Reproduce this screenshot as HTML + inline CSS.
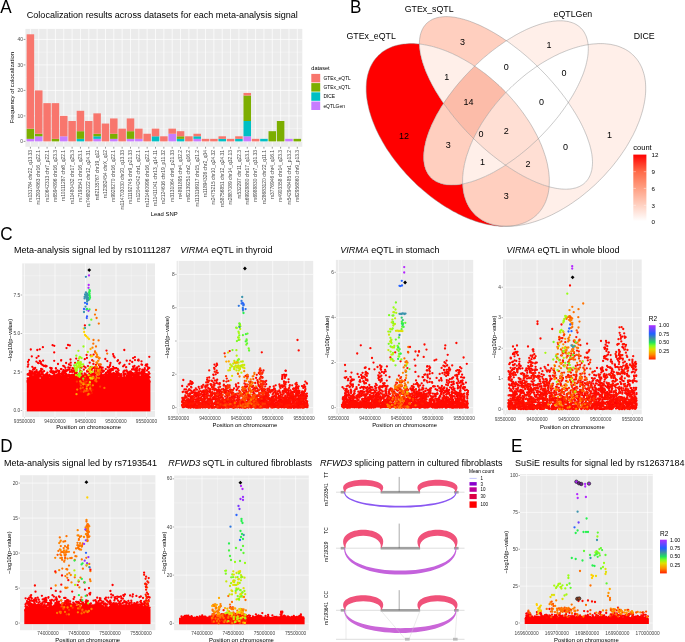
<!DOCTYPE html><html><head><meta charset="utf-8"><style>html,body{margin:0;padding:0;background:#fff;overflow:hidden}svg{display:block;will-change:transform}</style></head><body><svg width="685" height="642" viewBox="0 0 685 642" font-family='"Liberation Sans", sans-serif'>
<rect width="685" height="642" fill="#fff"/>
<rect x="25.4" y="28.9" width="276.9" height="117.9" fill="#EBEBEB"/>
<line x1="25.4" x2="302.3" y1="128.65" y2="128.65" stroke="#fff" stroke-width="0.35"/>
<line x1="25.4" x2="302.3" y1="103.15" y2="103.15" stroke="#fff" stroke-width="0.35"/>
<line x1="25.4" x2="302.3" y1="77.65" y2="77.65" stroke="#fff" stroke-width="0.35"/>
<line x1="25.4" x2="302.3" y1="52.15" y2="52.15" stroke="#fff" stroke-width="0.35"/>
<line x1="25.4" x2="302.3" y1="141.40" y2="141.40" stroke="#fff" stroke-width="0.7"/>
<line x1="25.4" x2="302.3" y1="115.90" y2="115.90" stroke="#fff" stroke-width="0.7"/>
<line x1="25.4" x2="302.3" y1="90.40" y2="90.40" stroke="#fff" stroke-width="0.7"/>
<line x1="25.4" x2="302.3" y1="64.90" y2="64.90" stroke="#fff" stroke-width="0.7"/>
<line x1="25.4" x2="302.3" y1="39.40" y2="39.40" stroke="#fff" stroke-width="0.7"/>
<line x1="30.40" x2="30.40" y1="28.9" y2="146.8" stroke="#fff" stroke-width="0.7"/>
<line x1="38.74" x2="38.74" y1="28.9" y2="146.8" stroke="#fff" stroke-width="0.7"/>
<line x1="47.08" x2="47.08" y1="28.9" y2="146.8" stroke="#fff" stroke-width="0.7"/>
<line x1="55.43" x2="55.43" y1="28.9" y2="146.8" stroke="#fff" stroke-width="0.7"/>
<line x1="63.77" x2="63.77" y1="28.9" y2="146.8" stroke="#fff" stroke-width="0.7"/>
<line x1="72.11" x2="72.11" y1="28.9" y2="146.8" stroke="#fff" stroke-width="0.7"/>
<line x1="80.45" x2="80.45" y1="28.9" y2="146.8" stroke="#fff" stroke-width="0.7"/>
<line x1="88.79" x2="88.79" y1="28.9" y2="146.8" stroke="#fff" stroke-width="0.7"/>
<line x1="97.13" x2="97.13" y1="28.9" y2="146.8" stroke="#fff" stroke-width="0.7"/>
<line x1="105.47" x2="105.47" y1="28.9" y2="146.8" stroke="#fff" stroke-width="0.7"/>
<line x1="113.81" x2="113.81" y1="28.9" y2="146.8" stroke="#fff" stroke-width="0.7"/>
<line x1="122.15" x2="122.15" y1="28.9" y2="146.8" stroke="#fff" stroke-width="0.7"/>
<line x1="130.49" x2="130.49" y1="28.9" y2="146.8" stroke="#fff" stroke-width="0.7"/>
<line x1="138.83" x2="138.83" y1="28.9" y2="146.8" stroke="#fff" stroke-width="0.7"/>
<line x1="147.17" x2="147.17" y1="28.9" y2="146.8" stroke="#fff" stroke-width="0.7"/>
<line x1="155.51" x2="155.51" y1="28.9" y2="146.8" stroke="#fff" stroke-width="0.7"/>
<line x1="163.85" x2="163.85" y1="28.9" y2="146.8" stroke="#fff" stroke-width="0.7"/>
<line x1="172.19" x2="172.19" y1="28.9" y2="146.8" stroke="#fff" stroke-width="0.7"/>
<line x1="180.53" x2="180.53" y1="28.9" y2="146.8" stroke="#fff" stroke-width="0.7"/>
<line x1="188.87" x2="188.87" y1="28.9" y2="146.8" stroke="#fff" stroke-width="0.7"/>
<line x1="197.21" x2="197.21" y1="28.9" y2="146.8" stroke="#fff" stroke-width="0.7"/>
<line x1="205.55" x2="205.55" y1="28.9" y2="146.8" stroke="#fff" stroke-width="0.7"/>
<line x1="213.89" x2="213.89" y1="28.9" y2="146.8" stroke="#fff" stroke-width="0.7"/>
<line x1="222.23" x2="222.23" y1="28.9" y2="146.8" stroke="#fff" stroke-width="0.7"/>
<line x1="230.57" x2="230.57" y1="28.9" y2="146.8" stroke="#fff" stroke-width="0.7"/>
<line x1="238.91" x2="238.91" y1="28.9" y2="146.8" stroke="#fff" stroke-width="0.7"/>
<line x1="247.25" x2="247.25" y1="28.9" y2="146.8" stroke="#fff" stroke-width="0.7"/>
<line x1="255.59" x2="255.59" y1="28.9" y2="146.8" stroke="#fff" stroke-width="0.7"/>
<line x1="263.93" x2="263.93" y1="28.9" y2="146.8" stroke="#fff" stroke-width="0.7"/>
<line x1="272.27" x2="272.27" y1="28.9" y2="146.8" stroke="#fff" stroke-width="0.7"/>
<line x1="280.62" x2="280.62" y1="28.9" y2="146.8" stroke="#fff" stroke-width="0.7"/>
<line x1="288.96" x2="288.96" y1="28.9" y2="146.8" stroke="#fff" stroke-width="0.7"/>
<line x1="297.30" x2="297.30" y1="28.9" y2="146.8" stroke="#fff" stroke-width="0.7"/>
<rect x="26.65" y="138.85" width="7.51" height="2.55" fill="#C77CFF"/>
<rect x="26.65" y="128.65" width="7.51" height="10.20" fill="#7CAE00"/>
<rect x="26.65" y="34.30" width="7.51" height="94.35" fill="#F8766D"/>
<rect x="34.99" y="136.30" width="7.51" height="5.10" fill="#C77CFF"/>
<rect x="34.99" y="133.75" width="7.51" height="2.55" fill="#7CAE00"/>
<rect x="34.99" y="90.40" width="7.51" height="43.35" fill="#F8766D"/>
<rect x="43.33" y="103.15" width="7.51" height="38.25" fill="#F8766D"/>
<rect x="51.67" y="138.85" width="7.51" height="2.55" fill="#7CAE00"/>
<rect x="51.67" y="103.15" width="7.51" height="35.70" fill="#F8766D"/>
<rect x="60.01" y="136.30" width="7.51" height="5.10" fill="#C77CFF"/>
<rect x="60.01" y="115.90" width="7.51" height="20.40" fill="#F8766D"/>
<rect x="68.35" y="121.00" width="7.51" height="20.40" fill="#F8766D"/>
<rect x="76.69" y="138.85" width="7.51" height="2.55" fill="#00BFC4"/>
<rect x="76.69" y="131.20" width="7.51" height="7.65" fill="#7CAE00"/>
<rect x="76.69" y="110.80" width="7.51" height="20.40" fill="#F8766D"/>
<rect x="85.03" y="121.00" width="7.51" height="20.40" fill="#F8766D"/>
<rect x="93.37" y="138.85" width="7.51" height="2.55" fill="#C77CFF"/>
<rect x="93.37" y="136.30" width="7.51" height="2.55" fill="#00BFC4"/>
<rect x="93.37" y="133.75" width="7.51" height="2.55" fill="#7CAE00"/>
<rect x="93.37" y="113.35" width="7.51" height="20.40" fill="#F8766D"/>
<rect x="101.71" y="123.55" width="7.51" height="17.85" fill="#F8766D"/>
<rect x="110.05" y="138.85" width="7.51" height="2.55" fill="#C77CFF"/>
<rect x="110.05" y="133.75" width="7.51" height="5.10" fill="#7CAE00"/>
<rect x="110.05" y="118.45" width="7.51" height="15.30" fill="#F8766D"/>
<rect x="118.40" y="128.65" width="7.51" height="12.75" fill="#F8766D"/>
<rect x="126.74" y="138.85" width="7.51" height="2.55" fill="#C77CFF"/>
<rect x="126.74" y="131.20" width="7.51" height="7.65" fill="#7CAE00"/>
<rect x="126.74" y="118.45" width="7.51" height="12.75" fill="#F8766D"/>
<rect x="135.08" y="138.85" width="7.51" height="2.55" fill="#C77CFF"/>
<rect x="135.08" y="128.65" width="7.51" height="10.20" fill="#F8766D"/>
<rect x="143.42" y="133.75" width="7.51" height="7.65" fill="#F8766D"/>
<rect x="151.76" y="136.30" width="7.51" height="5.10" fill="#00BFC4"/>
<rect x="151.76" y="128.65" width="7.51" height="7.65" fill="#F8766D"/>
<rect x="160.10" y="136.30" width="7.51" height="5.10" fill="#F8766D"/>
<rect x="168.44" y="133.75" width="7.51" height="7.65" fill="#C77CFF"/>
<rect x="168.44" y="128.65" width="7.51" height="5.10" fill="#F8766D"/>
<rect x="176.78" y="138.85" width="7.51" height="2.55" fill="#00BFC4"/>
<rect x="176.78" y="136.30" width="7.51" height="2.55" fill="#7CAE00"/>
<rect x="176.78" y="131.20" width="7.51" height="5.10" fill="#F8766D"/>
<rect x="185.12" y="136.30" width="7.51" height="5.10" fill="#F8766D"/>
<rect x="193.46" y="138.85" width="7.51" height="2.55" fill="#C77CFF"/>
<rect x="193.46" y="136.30" width="7.51" height="2.55" fill="#00BFC4"/>
<rect x="193.46" y="133.75" width="7.51" height="2.55" fill="#F8766D"/>
<rect x="201.80" y="138.85" width="7.51" height="2.55" fill="#F8766D"/>
<rect x="210.14" y="138.85" width="7.51" height="2.55" fill="#F8766D"/>
<rect x="218.48" y="138.85" width="7.51" height="2.55" fill="#00BFC4"/>
<rect x="218.48" y="136.30" width="7.51" height="2.55" fill="#F8766D"/>
<rect x="226.82" y="138.85" width="7.51" height="2.55" fill="#F8766D"/>
<rect x="235.16" y="138.85" width="7.51" height="2.55" fill="#00BFC4"/>
<rect x="235.16" y="136.30" width="7.51" height="2.55" fill="#F8766D"/>
<rect x="243.50" y="136.30" width="7.51" height="5.10" fill="#C77CFF"/>
<rect x="243.50" y="121.00" width="7.51" height="15.30" fill="#00BFC4"/>
<rect x="243.50" y="95.50" width="7.51" height="25.50" fill="#7CAE00"/>
<rect x="243.50" y="92.95" width="7.51" height="2.55" fill="#F8766D"/>
<rect x="251.84" y="138.85" width="7.51" height="2.55" fill="#F8766D"/>
<rect x="260.18" y="138.85" width="7.51" height="2.55" fill="#00BFC4"/>
<rect x="268.52" y="131.20" width="7.51" height="10.20" fill="#7CAE00"/>
<rect x="276.86" y="121.00" width="7.51" height="20.40" fill="#7CAE00"/>
<rect x="285.20" y="138.85" width="7.51" height="2.55" fill="#C77CFF"/>
<rect x="293.54" y="138.85" width="7.51" height="2.55" fill="#7CAE00"/>
<line x1="23.6" x2="25.4" y1="141.40" y2="141.40" stroke="#333" stroke-width="0.5"/>
<text x="23.00" y="143.20" font-size="5.00" text-anchor="end" fill="#4D4D4D">0</text>
<line x1="23.6" x2="25.4" y1="115.90" y2="115.90" stroke="#333" stroke-width="0.5"/>
<text x="23.00" y="117.70" font-size="5.00" text-anchor="end" fill="#4D4D4D">10</text>
<line x1="23.6" x2="25.4" y1="90.40" y2="90.40" stroke="#333" stroke-width="0.5"/>
<text x="23.00" y="92.20" font-size="5.00" text-anchor="end" fill="#4D4D4D">20</text>
<line x1="23.6" x2="25.4" y1="64.90" y2="64.90" stroke="#333" stroke-width="0.5"/>
<text x="23.00" y="66.70" font-size="5.00" text-anchor="end" fill="#4D4D4D">30</text>
<line x1="23.6" x2="25.4" y1="39.40" y2="39.40" stroke="#333" stroke-width="0.5"/>
<text x="23.00" y="41.20" font-size="5.00" text-anchor="end" fill="#4D4D4D">40</text>
<line x1="30.40" x2="30.40" y1="146.8" y2="148.6" stroke="#333" stroke-width="0.5"/>
<text x="32.00" y="150.00" font-size="4.90" text-anchor="end" fill="#4D4D4D" transform="rotate(-90 32.0042 150)">rs131784 chr22_q13.33</text>
<line x1="38.74" x2="38.74" y1="146.8" y2="148.6" stroke="#333" stroke-width="0.5"/>
<text x="40.34" y="150.00" font-size="4.90" text-anchor="end" fill="#4D4D4D" transform="rotate(-90 40.3446 150)">rs12934863 chr16_q22.1</text>
<line x1="47.08" x2="47.08" y1="146.8" y2="148.6" stroke="#333" stroke-width="0.5"/>
<text x="48.68" y="150.00" font-size="4.90" text-anchor="end" fill="#4D4D4D" transform="rotate(-90 48.6849 150)">rs10642313 chr7_p22.1</text>
<line x1="55.43" x2="55.43" y1="146.8" y2="148.6" stroke="#333" stroke-width="0.5"/>
<text x="57.03" y="150.00" font-size="4.90" text-anchor="end" fill="#4D4D4D" transform="rotate(-90 57.0253 150)">rs6594896 chr16_q23.3</text>
<line x1="63.77" x2="63.77" y1="146.8" y2="148.6" stroke="#333" stroke-width="0.5"/>
<text x="65.37" y="150.00" font-size="4.90" text-anchor="end" fill="#4D4D4D" transform="rotate(-90 65.3657 150)">rs10111287 chr8_q22.1</text>
<line x1="72.11" x2="72.11" y1="146.8" y2="148.6" stroke="#333" stroke-width="0.5"/>
<text x="73.71" y="150.00" font-size="4.90" text-anchor="end" fill="#4D4D4D" transform="rotate(-90 73.706 150)">rs11480432 chr17_q25.3</text>
<line x1="80.45" x2="80.45" y1="146.8" y2="148.6" stroke="#333" stroke-width="0.5"/>
<text x="82.05" y="150.00" font-size="4.90" text-anchor="end" fill="#4D4D4D" transform="rotate(-90 82.0464 150)">rs7193541 chr16_q23.1</text>
<line x1="88.79" x2="88.79" y1="146.8" y2="148.6" stroke="#333" stroke-width="0.5"/>
<text x="90.39" y="150.00" font-size="4.90" text-anchor="end" fill="#4D4D4D" transform="rotate(-90 90.3867 150)">rs74682022 chr12_q24.31</text>
<line x1="97.13" x2="97.13" y1="146.8" y2="148.6" stroke="#333" stroke-width="0.5"/>
<text x="98.73" y="150.00" font-size="4.90" text-anchor="end" fill="#4D4D4D" transform="rotate(-90 98.7271 150)">rs62135767 chr19_q12</text>
<line x1="105.47" x2="105.47" y1="146.8" y2="148.6" stroke="#333" stroke-width="0.5"/>
<text x="107.07" y="150.00" font-size="4.90" text-anchor="end" fill="#4D4D4D" transform="rotate(-90 107.067 150)">rs12382454 chrX_q12</text>
<line x1="113.81" x2="113.81" y1="146.8" y2="148.6" stroke="#333" stroke-width="0.5"/>
<text x="115.41" y="150.00" font-size="4.90" text-anchor="end" fill="#4D4D4D" transform="rotate(-90 115.408 150)">rs9928270 chr16_q22.1</text>
<line x1="122.15" x2="122.15" y1="146.8" y2="148.6" stroke="#333" stroke-width="0.5"/>
<text x="123.75" y="150.00" font-size="4.90" text-anchor="end" fill="#4D4D4D" transform="rotate(-90 123.748 150)">rs114703030 chr20_q13.33</text>
<line x1="130.49" x2="130.49" y1="146.8" y2="148.6" stroke="#333" stroke-width="0.5"/>
<text x="132.09" y="150.00" font-size="4.90" text-anchor="end" fill="#4D4D4D" transform="rotate(-90 132.089 150)">rs11192745 chr9_p21.33</text>
<line x1="138.83" x2="138.83" y1="146.8" y2="148.6" stroke="#333" stroke-width="0.5"/>
<text x="140.43" y="150.00" font-size="4.90" text-anchor="end" fill="#4D4D4D" transform="rotate(-90 140.429 150)">rs12044242 chr1_q22.1</text>
<line x1="147.17" x2="147.17" y1="146.8" y2="148.6" stroke="#333" stroke-width="0.5"/>
<text x="148.77" y="150.00" font-size="4.90" text-anchor="end" fill="#4D4D4D" transform="rotate(-90 148.769 150)">rs121460996 chr16_q22.1</text>
<line x1="155.51" x2="155.51" y1="146.8" y2="148.6" stroke="#333" stroke-width="0.5"/>
<text x="157.11" y="150.00" font-size="4.90" text-anchor="end" fill="#4D4D4D" transform="rotate(-90 157.11 150)">rs11411041 chr13_q14.11</text>
<line x1="163.85" x2="163.85" y1="146.8" y2="148.6" stroke="#333" stroke-width="0.5"/>
<text x="165.45" y="150.00" font-size="4.90" text-anchor="end" fill="#4D4D4D" transform="rotate(-90 165.45 150)">rs2124616 chr19_p11.32</text>
<line x1="172.19" x2="172.19" y1="146.8" y2="148.6" stroke="#333" stroke-width="0.5"/>
<text x="173.79" y="150.00" font-size="4.90" text-anchor="end" fill="#4D4D4D" transform="rotate(-90 173.79 150)">rs3131064 chr6_p21.33</text>
<line x1="180.53" x2="180.53" y1="146.8" y2="148.6" stroke="#333" stroke-width="0.5"/>
<text x="182.13" y="150.00" font-size="4.90" text-anchor="end" fill="#4D4D4D" transform="rotate(-90 182.131 150)">rs4891895 chr4_q32.2</text>
<line x1="188.87" x2="188.87" y1="146.8" y2="148.6" stroke="#333" stroke-width="0.5"/>
<text x="190.47" y="150.00" font-size="4.90" text-anchor="end" fill="#4D4D4D" transform="rotate(-90 190.471 150)">rs62139251 chr2_q16.2</text>
<line x1="197.21" x2="197.21" y1="146.8" y2="148.6" stroke="#333" stroke-width="0.5"/>
<text x="198.81" y="150.00" font-size="4.90" text-anchor="end" fill="#4D4D4D" transform="rotate(-90 198.811 150)">rs113116917 chr15_q21.2</text>
<line x1="205.55" x2="205.55" y1="146.8" y2="148.6" stroke="#333" stroke-width="0.5"/>
<text x="207.15" y="150.00" font-size="4.90" text-anchor="end" fill="#4D4D4D" transform="rotate(-90 207.152 150)">rs11894326 chr2_q34</text>
<line x1="213.89" x2="213.89" y1="146.8" y2="148.6" stroke="#333" stroke-width="0.5"/>
<text x="215.49" y="150.00" font-size="4.90" text-anchor="end" fill="#4D4D4D" transform="rotate(-90 215.492 150)">rs2475215 chr10_q24.32</text>
<line x1="222.23" x2="222.23" y1="146.8" y2="148.6" stroke="#333" stroke-width="0.5"/>
<text x="223.83" y="150.00" font-size="4.90" text-anchor="end" fill="#4D4D4D" transform="rotate(-90 223.833 150)">rs58756851 chr12_q24.31</text>
<line x1="230.57" x2="230.57" y1="146.8" y2="148.6" stroke="#333" stroke-width="0.5"/>
<text x="232.17" y="150.00" font-size="4.90" text-anchor="end" fill="#4D4D4D" transform="rotate(-90 232.173 150)">rs2887089 chr14_q32.13</text>
<line x1="238.91" x2="238.91" y1="146.8" y2="148.6" stroke="#333" stroke-width="0.5"/>
<text x="240.51" y="150.00" font-size="4.90" text-anchor="end" fill="#4D4D4D" transform="rotate(-90 240.513 150)">rs532297 chr11_q22.3</text>
<line x1="247.25" x2="247.25" y1="146.8" y2="148.6" stroke="#333" stroke-width="0.5"/>
<text x="248.85" y="150.00" font-size="4.90" text-anchor="end" fill="#4D4D4D" transform="rotate(-90 248.854 150)">rs69928880 chr17_q13.1</text>
<line x1="255.59" x2="255.59" y1="146.8" y2="148.6" stroke="#333" stroke-width="0.5"/>
<text x="257.19" y="150.00" font-size="4.90" text-anchor="end" fill="#4D4D4D" transform="rotate(-90 257.194 150)">rs6988830 chr7_q31.33</text>
<line x1="263.93" x2="263.93" y1="146.8" y2="148.6" stroke="#333" stroke-width="0.5"/>
<text x="265.53" y="150.00" font-size="4.90" text-anchor="end" fill="#4D4D4D" transform="rotate(-90 265.534 150)">rs28683120 chr22_q11.1</text>
<line x1="272.27" x2="272.27" y1="146.8" y2="148.6" stroke="#333" stroke-width="0.5"/>
<text x="273.87" y="150.00" font-size="4.90" text-anchor="end" fill="#4D4D4D" transform="rotate(-90 273.875 150)">rs3776946 chr4_q16.1</text>
<line x1="280.62" x2="280.62" y1="146.8" y2="148.6" stroke="#333" stroke-width="0.5"/>
<text x="282.22" y="150.00" font-size="4.90" text-anchor="end" fill="#4D4D4D" transform="rotate(-90 282.215 150)">rs4903358 chr14_q23.3</text>
<line x1="288.96" x2="288.96" y1="146.8" y2="148.6" stroke="#333" stroke-width="0.5"/>
<text x="290.56" y="150.00" font-size="4.90" text-anchor="end" fill="#4D4D4D" transform="rotate(-90 290.555 150)">rs542948485 chr1_p13.2</text>
<line x1="297.30" x2="297.30" y1="146.8" y2="148.6" stroke="#333" stroke-width="0.5"/>
<text x="298.90" y="150.00" font-size="4.90" text-anchor="end" fill="#4D4D4D" transform="rotate(-90 298.896 150)">rs62956860 chr9_p13.3</text>
<text x="14.40" y="87.60" font-size="5.90" text-anchor="middle" fill="#000" transform="rotate(-90 14.4 87.6)">Frequency of colocalization</text>
<text x="164.20" y="216.00" font-size="5.90" text-anchor="middle" fill="#000">Lead SNP</text>
<text x="26.80" y="17.90" font-size="9.05" text-anchor="start" fill="#000">Colocalization results across datasets for each meta-analysis signal</text>
<text x="311.30" y="70.40" font-size="5.60" text-anchor="start" fill="#000">dataset</text>
<rect x="311.3" y="73.90" width="8.9" height="8.5" fill="#F8766D"/>
<text x="323.40" y="80.00" font-size="4.90" text-anchor="start" fill="#000">GTEx_eQTL</text>
<rect x="311.3" y="83.10" width="8.9" height="8.5" fill="#7CAE00"/>
<text x="323.40" y="89.20" font-size="4.90" text-anchor="start" fill="#000">GTEx_sQTL</text>
<rect x="311.3" y="92.30" width="8.9" height="8.5" fill="#00BFC4"/>
<text x="323.40" y="98.40" font-size="4.90" text-anchor="start" fill="#000">DICE</text>
<rect x="311.3" y="101.50" width="8.9" height="8.5" fill="#C77CFF"/>
<text x="323.40" y="107.60" font-size="4.90" text-anchor="start" fill="#000">eQTLGen</text>
<path d="M629.9 52.3 628.5 51.3 627.1 50.4 625.6 49.5 624.1 48.7 622.5 48.0 620.9 47.3 619.2 46.6 617.5 46.0 615.7 45.5 613.9 45.1 612.1 44.7 610.2 44.3 608.3 44.1 606.4 43.9 604.4 43.7 602.3 43.6 600.3 43.6 598.2 43.6 596.1 43.8 593.9 43.9 591.8 44.1 589.6 44.4 588.1 44.7 588.2 45.3 588.3 46.8 588.3 48.4 588.3 50.0 588.2 51.7 588.1 53.4 587.9 55.1 587.7 56.9 587.4 58.7 587.0 60.5 586.6 62.4 586.2 64.3 585.7 66.2 585.1 68.1 584.5 70.1 583.8 72.1 583.1 74.1 582.3 76.1 581.4 78.1 580.6 80.2 579.6 82.3 578.6 84.4 577.6 86.5 576.5 88.6 575.4 90.7 574.2 92.8 573.0 95.0 571.7 97.1 570.4 99.2 569.0 101.4 568.3 102.5 569.4 104.1 570.9 106.4 572.4 108.6 573.8 110.9 575.2 113.1 576.6 115.4 577.8 117.6 579.1 119.8 580.3 122.0 581.4 124.2 582.5 126.4 583.5 128.6 584.5 130.7 585.4 132.9 586.3 135.0 587.1 137.0 587.8 139.1 588.5 141.1 589.2 143.2 589.8 145.1 590.3 147.1 590.8 149.0 591.2 150.9 591.6 152.8 591.9 154.6 592.1 156.4 592.3 158.2 592.4 159.9 592.5 161.5 592.5 163.2 592.4 164.8 592.3 166.3 592.1 167.8 591.9 169.3 591.6 170.7 591.2 172.1 590.8 173.4 590.3 174.7 589.8 175.9 589.2 177.1 588.6 178.2 587.9 179.3 587.1 180.3 586.3 181.3 585.5 182.2 584.5 183.1 583.6 183.9 582.5 184.7 581.5 185.3 580.3 186.0 579.2 186.6 577.9 187.1 576.6 187.6 575.3 188.0 573.9 188.3 572.5 188.6 571.0 188.9 569.5 189.0 568.0 189.1 566.4 189.2 564.7 189.2 563.1 189.1 561.3 189.0 559.6 188.8 557.8 188.6 555.9 188.3 554.1 187.9 552.2 187.5 550.3 187.1 549.1 186.8 549.1 187.0 548.9 189.0 548.6 190.9 548.3 192.8 547.9 194.6 547.4 196.4 546.9 198.1 546.3 199.8 545.7 201.5 545.0 203.1 544.2 204.7 543.4 206.2 542.5 207.7 541.6 209.1 540.6 210.5 539.5 211.8 538.4 213.1 537.3 214.3 536.1 215.4 534.8 216.5 533.5 217.6 532.1 218.6 530.7 219.5 529.2 220.4 527.7 221.2 526.1 222.0 524.5 222.7 522.8 223.3 521.1 223.9 519.3 224.4 517.5 224.9 515.7 225.3 513.8 225.6 511.9 225.9 510.0 226.1 508.0 226.2 506.0 226.3 505.9 226.3 508.0 226.3 510.1 226.3 512.2 226.2 514.3 226.0 516.5 225.8 518.7 225.5 520.9 225.1 523.2 224.7 525.5 224.2 527.7 223.7 530.0 223.1 532.4 222.4 534.7 221.7 537.1 220.9 539.4 220.1 541.8 219.2 544.2 218.3 546.6 217.2 548.9 216.2 551.3 215.1 553.7 213.9 556.1 212.6 558.5 211.4 560.9 210.0 563.3 208.6 565.7 207.2 568.1 205.7 570.4 204.2 572.8 202.6 575.1 200.9 577.5 199.3 579.8 197.6 582.1 195.8 584.3 194.0 586.6 192.1 588.8 190.3 591.0 188.3 593.2 186.4 595.4 184.4 597.5 182.3 599.6 180.3 601.6 178.2 603.7 176.1 605.7 173.9 607.6 171.7 609.6 169.5 611.5 167.3 613.3 165.1 615.1 162.8 616.9 160.5 618.6 158.2 620.3 155.9 621.9 153.6 623.5 151.2 625.1 148.9 626.6 146.5 628.0 144.1 629.4 141.7 630.7 139.3 632.0 136.9 633.3 134.6 634.4 132.2 635.6 129.8 636.6 127.4 637.6 125.0 638.6 122.6 639.5 120.3 640.3 117.9 641.1 115.6 641.8 113.2 642.5 110.9 643.1 108.6 643.6 106.3 644.1 104.1 644.5 101.8 644.9 99.6 645.2 97.4 645.4 95.3 645.6 93.1 645.7 91.0 645.7 88.9 645.7 86.9 645.6 84.9 645.5 82.9 645.3 80.9 645.0 79.0 644.7 77.2 644.3 75.3 643.8 73.5 643.3 71.8 642.7 70.1 642.1 68.4 641.4 66.8 640.6 65.2 639.8 63.7 638.9 62.2 638.0 60.8 637.0 59.4 635.9 58.1 634.8 56.9 633.7 55.6 632.4 54.5 631.2 53.4Z" fill="#FFEFE9"/>
<path d="M578.0 25.7 577.0 25.0 575.8 24.3 574.7 23.7 573.5 23.2 572.2 22.7 570.9 22.3 569.5 21.9 568.2 21.5 566.7 21.3 565.2 21.1 563.7 20.9 562.2 20.8 560.6 20.8 558.9 20.8 557.3 20.8 555.6 21.0 553.8 21.1 552.1 21.4 550.3 21.7 548.4 22.0 546.6 22.4 544.7 22.9 542.8 23.4 540.8 24.0 538.9 24.6 536.9 25.3 534.9 26.0 532.8 26.8 530.8 27.6 528.7 28.5 526.6 29.4 524.6 30.4 522.4 31.5 520.3 32.5 518.2 33.7 516.1 34.8 513.9 36.1 511.8 37.4 509.6 38.7 507.5 40.0 506.4 40.7 507.0 41.1 509.3 42.7 511.5 44.4 513.8 46.1 516.0 47.8 518.3 49.5 520.5 51.3 522.8 53.2 525.0 55.0 527.2 56.9 529.4 58.9 531.5 60.8 533.7 62.8 535.8 64.8 537.2 66.2 537.9 65.8 540.2 64.2 542.6 62.7 545.0 61.3 547.4 59.9 549.8 58.6 552.2 57.3 554.6 56.0 557.0 54.9 559.3 53.7 561.7 52.7 564.1 51.7 566.5 50.7 568.9 49.8 571.2 49.0 573.6 48.2 575.9 47.5 578.2 46.8 580.5 46.2 582.8 45.7 585.1 45.2 587.3 44.8 588.1 44.7 588.0 43.8 587.8 42.3 587.5 40.9 587.2 39.5 586.8 38.1 586.4 36.8 585.9 35.6 585.3 34.4 584.7 33.2 584.1 32.1 583.4 31.0 582.6 30.0 581.8 29.0 580.9 28.1 580.0 27.3 579.0 26.4Z" fill="#FFEFE9"/>
<path d="M569.0 101.4 570.4 99.2 571.7 97.1 573.0 95.0 574.2 92.8 575.4 90.7 576.5 88.6 577.6 86.5 578.6 84.4 579.6 82.3 580.6 80.2 581.4 78.1 582.3 76.1 583.1 74.1 583.8 72.1 584.5 70.1 585.1 68.1 585.7 66.2 586.2 64.3 586.6 62.4 587.0 60.5 587.4 58.7 587.7 56.9 587.9 55.1 588.1 53.4 588.2 51.7 588.3 50.0 588.3 48.4 588.3 46.8 588.2 45.3 588.1 44.7 587.3 44.8 585.1 45.2 582.8 45.7 580.5 46.2 578.2 46.8 575.9 47.5 573.6 48.2 571.2 49.0 568.9 49.8 566.5 50.7 564.1 51.7 561.7 52.7 559.3 53.7 557.0 54.9 554.6 56.0 552.2 57.3 549.8 58.6 547.4 59.9 545.0 61.3 542.6 62.7 540.2 64.2 537.9 65.8 537.2 66.2 537.9 66.9 540.0 68.9 542.1 71.0 544.1 73.1 546.2 75.2 548.2 77.4 550.1 79.6 552.0 81.7 553.9 83.9 555.8 86.2 557.7 88.4 559.4 90.6 561.2 92.8 562.9 95.1 564.6 97.3 566.3 99.6 567.9 101.9 568.3 102.5Z" fill="#FFFFFF"/>
<path d="M424.0 26.5 423.3 27.6 422.7 28.7 422.1 29.9 421.6 31.1 421.1 32.4 420.7 33.7 420.3 35.1 420.0 36.5 419.8 38.0 419.6 39.5 419.5 41.0 419.4 42.6 419.4 44.1 420.1 44.1 422.3 44.4 424.6 44.8 426.8 45.2 429.1 45.7 431.4 46.2 433.7 46.8 436.0 47.5 438.3 48.2 440.7 49.0 443.0 49.8 445.4 50.7 447.8 51.7 450.2 52.7 452.6 53.7 454.9 54.9 457.3 56.0 459.7 57.3 462.1 58.6 464.5 59.9 466.9 61.3 469.3 62.7 471.7 64.2 474.0 65.8 474.7 66.2 475.8 65.0 477.9 63.2 479.9 61.3 481.9 59.4 484.0 57.6 486.1 55.9 488.2 54.1 490.3 52.4 492.4 50.7 494.6 49.1 496.7 47.5 498.9 45.9 501.0 44.4 503.2 42.9 505.3 41.4 506.4 40.7 504.7 39.6 502.5 38.1 500.2 36.6 498.0 35.2 495.7 33.8 493.5 32.5 491.2 31.2 489.0 30.0 486.8 28.8 484.6 27.7 482.4 26.6 480.2 25.5 478.1 24.6 475.9 23.7 473.8 22.8 471.7 22.0 469.7 21.2 467.6 20.5 465.6 19.9 463.6 19.3 461.6 18.8 459.7 18.3 457.8 17.9 456.0 17.5 454.1 17.2 452.3 17.0 450.6 16.8 448.8 16.7 447.2 16.6 445.5 16.6 443.9 16.7 442.4 16.8 440.9 17.0 439.4 17.2 438.0 17.5 436.6 17.8 435.3 18.3 434.0 18.7 432.7 19.2 431.6 19.8 430.4 20.5 429.4 21.2 428.3 21.9 427.4 22.7 426.4 23.6 425.6 24.5 424.8 25.5Z" fill="#FFCFBF"/>
<path d="M552.2 187.5 554.1 187.9 555.9 188.3 557.8 188.6 559.6 188.8 561.3 189.0 563.1 189.1 564.7 189.2 566.4 189.2 568.0 189.1 569.5 189.0 571.0 188.9 572.5 188.6 573.9 188.3 575.3 188.0 576.6 187.6 577.9 187.1 579.2 186.6 580.3 186.0 581.5 185.3 582.5 184.7 583.6 183.9 584.5 183.1 585.5 182.2 586.3 181.3 587.1 180.3 587.9 179.3 588.6 178.2 589.2 177.1 589.8 175.9 590.3 174.7 590.8 173.4 591.2 172.1 591.6 170.7 591.9 169.3 592.1 167.8 592.3 166.3 592.4 164.8 592.5 163.2 592.5 161.5 592.4 159.9 592.3 158.2 592.1 156.4 591.9 154.6 591.6 152.8 591.2 150.9 590.8 149.0 590.3 147.1 589.8 145.1 589.2 143.2 588.5 141.1 587.8 139.1 587.1 137.0 586.3 135.0 585.4 132.9 584.5 130.7 583.5 128.6 582.5 126.4 581.4 124.2 580.3 122.0 579.1 119.8 577.8 117.6 576.6 115.4 575.2 113.1 573.8 110.9 572.4 108.6 570.9 106.4 569.4 104.1 568.3 102.5 567.6 103.5 566.1 105.7 564.6 107.8 563.1 110.0 561.5 112.1 559.9 114.3 558.3 116.4 556.6 118.5 554.9 120.6 553.1 122.7 551.3 124.8 549.5 126.9 547.7 128.9 545.8 130.9 543.9 132.9 542.0 134.9 540.0 136.9 538.4 138.5 539.2 140.1 540.2 142.5 541.3 144.9 542.2 147.3 543.1 149.7 543.9 152.0 544.7 154.4 545.5 156.7 546.1 159.0 546.7 161.3 547.3 163.6 547.7 165.8 548.1 168.1 548.5 170.3 548.8 172.5 549.0 174.7 549.2 176.8 549.3 178.9 549.3 181.0 549.3 183.0 549.2 185.1 549.1 186.8 550.3 187.1Z" fill="#FFFFFF"/>
<path d="M535.8 64.8 533.7 62.8 531.5 60.8 529.4 58.9 527.2 56.9 525.0 55.0 522.8 53.2 520.5 51.3 518.3 49.5 516.0 47.8 513.8 46.1 511.5 44.4 509.3 42.7 507.0 41.1 506.4 40.7 505.3 41.4 503.2 42.9 501.0 44.4 498.9 45.9 496.7 47.5 494.6 49.1 492.4 50.7 490.3 52.4 488.2 54.1 486.1 55.9 484.0 57.6 481.9 59.4 479.9 61.3 477.9 63.2 475.8 65.0 474.7 66.2 476.4 67.3 478.7 69.0 481.1 70.7 483.4 72.4 485.7 74.1 487.9 75.9 490.2 77.8 492.4 79.7 494.6 81.6 496.8 83.6 499.0 85.5 501.1 87.6 503.2 89.6 505.3 91.7 505.9 92.4 506.6 91.7 508.7 89.6 510.8 87.6 512.9 85.5 515.1 83.6 517.3 81.6 519.5 79.7 521.7 77.8 524.0 75.9 526.2 74.1 528.5 72.4 530.8 70.7 533.2 69.0 535.5 67.3 537.2 66.2Z" fill="#FFFFFF"/>
<path d="M540.0 136.9 542.0 134.9 543.9 132.9 545.8 130.9 547.7 128.9 549.5 126.9 551.3 124.8 553.1 122.7 554.9 120.6 556.6 118.5 558.3 116.4 559.9 114.3 561.5 112.1 563.1 110.0 564.6 107.8 566.1 105.7 567.6 103.5 568.3 102.5 567.9 101.9 566.3 99.6 564.6 97.3 562.9 95.1 561.2 92.8 559.4 90.6 557.7 88.4 555.8 86.2 553.9 83.9 552.0 81.7 550.1 79.6 548.2 77.4 546.2 75.2 544.1 73.1 542.1 71.0 540.0 68.9 537.9 66.9 537.2 66.2 535.5 67.3 533.2 69.0 530.8 70.7 528.5 72.4 526.2 74.1 524.0 75.9 521.7 77.8 519.5 79.7 517.3 81.6 515.1 83.6 512.9 85.5 510.8 87.6 508.7 89.6 506.6 91.7 505.9 92.4 507.3 93.8 509.3 96.0 511.3 98.2 513.2 100.4 515.1 102.6 516.9 104.8 518.7 107.1 520.5 109.4 522.2 111.7 523.9 114.0 525.5 116.4 527.1 118.7 528.7 121.1 530.2 123.4 531.6 125.8 533.0 128.2 534.3 130.6 535.6 133.0 536.9 135.4 538.0 137.8 538.4 138.5Z" fill="#FFFFFF"/>
<path d="M374.9 59.4 373.9 60.8 373.0 62.2 372.1 63.7 371.3 65.2 370.5 66.8 369.8 68.4 369.2 70.1 368.6 71.8 368.1 73.5 367.6 75.3 367.2 77.2 366.9 79.0 366.6 80.9 366.4 82.9 366.3 84.9 366.2 86.9 366.2 88.9 366.2 91.0 366.3 93.1 366.5 95.3 366.7 97.4 367.0 99.6 367.4 101.8 367.8 104.1 368.3 106.3 368.8 108.6 369.4 110.9 370.1 113.2 370.8 115.6 371.6 117.9 372.4 120.3 373.3 122.6 374.3 125.0 375.3 127.4 376.3 129.8 377.5 132.2 378.6 134.6 379.9 136.9 381.2 139.3 382.5 141.7 383.9 144.1 385.3 146.5 386.8 148.9 388.4 151.2 390.0 153.6 391.6 155.9 393.3 158.2 395.0 160.5 396.8 162.8 398.6 165.1 400.4 167.3 402.3 169.5 404.3 171.7 406.2 173.9 408.2 176.1 410.3 178.2 412.3 180.3 414.4 182.3 416.5 184.4 418.7 186.4 420.9 188.3 423.1 190.3 425.3 192.1 427.6 194.0 429.8 195.8 432.1 197.6 434.4 199.3 436.8 200.9 439.1 202.6 441.5 204.2 443.8 205.7 446.2 207.2 448.6 208.6 451.0 210.0 453.4 211.4 455.8 212.6 458.2 213.9 460.6 215.1 463.0 216.2 465.3 217.2 467.7 218.3 470.1 219.2 472.5 220.1 474.8 220.9 477.2 221.7 479.5 222.4 481.9 223.1 484.2 223.7 486.4 224.2 488.7 224.7 491.0 225.1 493.2 225.5 495.4 225.8 497.6 226.0 499.7 226.2 501.8 226.3 503.9 226.3 505.9 226.3 505.9 226.3 503.9 226.2 501.9 226.1 500.0 225.9 498.1 225.6 496.2 225.3 494.4 224.9 492.6 224.4 490.8 223.9 489.1 223.3 487.4 222.7 485.8 222.0 484.2 221.2 482.7 220.4 481.2 219.5 479.8 218.6 478.4 217.6 477.1 216.5 475.8 215.4 474.6 214.3 473.5 213.1 472.4 211.8 471.3 210.5 470.3 209.1 469.4 207.7 468.5 206.2 467.7 204.7 466.9 203.1 466.2 201.5 465.6 199.8 465.0 198.1 464.5 196.4 464.0 194.6 463.6 192.8 463.3 190.9 463.0 189.0 462.8 187.0 462.7 185.1 462.6 184.0 461.6 184.1 459.8 184.4 458.1 184.7 456.3 184.9 454.6 185.0 453.0 185.0 451.3 185.1 449.7 185.0 448.2 184.9 446.7 184.8 445.2 184.5 443.7 184.3 442.4 183.9 441.0 183.6 439.7 183.1 438.4 182.6 437.2 182.1 436.1 181.5 434.9 180.8 433.9 180.1 432.9 179.4 431.9 178.6 431.0 177.7 430.1 176.8 429.3 175.8 428.5 174.8 427.8 173.7 427.2 172.6 426.6 171.5 426.0 170.3 425.5 169.0 425.1 167.7 424.7 166.4 424.4 165.0 424.1 163.5 423.9 162.1 423.7 160.5 423.6 159.0 423.6 157.4 423.6 155.8 423.7 154.1 423.8 152.4 424.0 150.7 424.2 148.9 424.5 147.1 424.9 145.3 425.3 143.4 425.7 141.5 426.2 139.6 426.8 137.7 427.4 135.7 428.1 133.8 428.8 131.8 429.6 129.7 430.5 127.7 431.3 125.6 432.3 123.6 433.3 121.5 434.3 119.4 435.4 117.3 436.5 115.1 437.7 113.0 438.9 110.9 440.2 108.7 441.5 106.6 442.9 104.4 443.6 103.4 442.5 101.7 441.0 99.4 439.5 97.2 438.1 94.9 436.7 92.7 435.3 90.5 434.1 88.2 432.8 86.0 431.6 83.8 430.5 81.6 429.4 79.4 428.4 77.2 427.4 75.1 426.5 73.0 425.6 70.9 424.8 68.8 424.1 66.7 423.4 64.7 422.7 62.7 422.1 60.7 421.6 58.7 421.1 56.8 420.7 54.9 420.3 53.0 420.0 51.2 419.8 49.4 419.6 47.7 419.5 46.0 419.4 44.3 419.4 44.1 418.0 43.9 415.8 43.8 413.7 43.6 411.6 43.6 409.6 43.6 407.5 43.7 405.5 43.9 403.6 44.1 401.7 44.3 399.8 44.7 398.0 45.1 396.2 45.5 394.4 46.0 392.7 46.6 391.0 47.3 389.4 48.0 387.8 48.7 386.3 49.5 384.8 50.4 383.4 51.3 382.0 52.3 380.7 53.4 379.5 54.5 378.2 55.6 377.1 56.9 376.0 58.1Z" fill="#FF0000"/>
<path d="M510.0 226.1 511.9 225.9 513.8 225.6 515.7 225.3 517.5 224.9 519.3 224.4 521.1 223.9 522.8 223.3 524.5 222.7 526.1 222.0 527.7 221.2 529.2 220.4 530.7 219.5 532.1 218.6 533.5 217.6 534.8 216.5 536.1 215.4 537.3 214.3 538.4 213.1 539.5 211.8 540.6 210.5 541.6 209.1 542.5 207.7 543.4 206.2 544.2 204.7 545.0 203.1 545.7 201.5 546.3 199.8 546.9 198.1 547.4 196.4 547.9 194.6 548.3 192.8 548.6 190.9 548.9 189.0 549.1 187.0 549.1 186.8 548.3 186.5 546.3 185.9 544.3 185.3 542.2 184.6 540.2 183.8 538.1 183.0 536.0 182.2 533.8 181.2 531.7 180.3 529.5 179.2 527.3 178.2 525.1 177.0 522.9 175.9 520.7 174.6 518.4 173.3 516.2 172.0 513.9 170.6 511.7 169.2 509.4 167.7 507.2 166.2 505.5 165.1 504.4 165.8 502.3 167.2 500.1 168.5 498.0 169.7 495.8 171.0 493.7 172.2 491.6 173.3 489.5 174.4 487.3 175.4 485.3 176.4 483.2 177.3 481.1 178.2 479.1 179.0 477.0 179.8 475.0 180.6 473.0 181.2 471.1 181.9 469.1 182.4 467.2 182.9 465.3 183.4 463.5 183.8 462.6 184.0 462.7 185.1 462.8 187.0 463.0 189.0 463.3 190.9 463.6 192.8 464.0 194.6 464.5 196.4 465.0 198.1 465.6 199.8 466.2 201.5 466.9 203.1 467.7 204.7 468.5 206.2 469.4 207.7 470.3 209.1 471.3 210.5 472.4 211.8 473.5 213.1 474.6 214.3 475.8 215.4 477.1 216.5 478.4 217.6 479.8 218.6 481.2 219.5 482.7 220.4 484.2 221.2 485.8 222.0 487.4 222.7 489.1 223.3 490.8 223.9 492.6 224.4 494.4 224.9 496.2 225.3 498.1 225.6 500.0 225.9 501.9 226.1 503.9 226.2 505.9 226.3 505.9 226.3 506.0 226.3 508.0 226.2Z" fill="#FFCFBF"/>
<path d="M441.5 106.6 440.2 108.7 438.9 110.9 437.7 113.0 436.5 115.1 435.4 117.3 434.3 119.4 433.3 121.5 432.3 123.6 431.3 125.6 430.5 127.7 429.6 129.7 428.8 131.8 428.1 133.8 427.4 135.7 426.8 137.7 426.2 139.6 425.7 141.5 425.3 143.4 424.9 145.3 424.5 147.1 424.2 148.9 424.0 150.7 423.8 152.4 423.7 154.1 423.6 155.8 423.6 157.4 423.6 159.0 423.7 160.5 423.9 162.1 424.1 163.5 424.4 165.0 424.7 166.4 425.1 167.7 425.5 169.0 426.0 170.3 426.6 171.5 427.2 172.6 427.8 173.7 428.5 174.8 429.3 175.8 430.1 176.8 431.0 177.7 431.9 178.6 432.9 179.4 433.9 180.1 434.9 180.8 436.1 181.5 437.2 182.1 438.4 182.6 439.7 183.1 441.0 183.6 442.4 183.9 443.7 184.3 445.2 184.5 446.7 184.8 448.2 184.9 449.7 185.0 451.3 185.1 453.0 185.0 454.6 185.0 456.3 184.9 458.1 184.7 459.8 184.4 461.6 184.1 462.6 184.0 462.6 183.0 462.6 181.0 462.6 178.9 462.7 176.8 462.9 174.7 463.1 172.5 463.4 170.3 463.8 168.1 464.2 165.8 464.6 163.6 465.2 161.3 465.8 159.0 466.4 156.7 467.2 154.4 468.0 152.0 468.8 149.7 469.7 147.3 470.6 144.9 471.7 142.5 472.7 140.1 473.5 138.5 471.9 136.9 469.8 134.8 467.8 132.7 465.7 130.6 463.7 128.4 461.8 126.3 459.9 124.1 458.0 121.9 456.1 119.7 454.2 117.4 452.5 115.2 450.7 113.0 449.0 110.7 447.3 108.5 445.6 106.2 444.0 104.0 443.6 103.4 442.9 104.4Z" fill="#FFCFBF"/>
<path d="M472.7 140.1 471.7 142.5 470.6 144.9 469.7 147.3 468.8 149.7 468.0 152.0 467.2 154.4 466.4 156.7 465.8 159.0 465.2 161.3 464.6 163.6 464.2 165.8 463.8 168.1 463.4 170.3 463.1 172.5 462.9 174.7 462.7 176.8 462.6 178.9 462.6 181.0 462.6 183.0 462.6 184.0 463.5 183.8 465.3 183.4 467.2 182.9 469.1 182.4 471.1 181.9 473.0 181.2 475.0 180.6 477.0 179.8 479.1 179.0 481.1 178.2 483.2 177.3 485.3 176.4 487.3 175.4 489.5 174.4 491.6 173.3 493.7 172.2 495.8 171.0 498.0 169.7 500.1 168.5 502.3 167.2 504.4 165.8 505.5 165.1 504.9 164.7 502.6 163.1 500.4 161.4 498.1 159.8 495.9 158.0 493.6 156.3 491.4 154.5 489.1 152.7 486.9 150.8 484.7 148.9 482.5 147.0 480.4 145.0 478.2 143.0 476.1 141.0 474.0 139.0 473.5 138.5Z" fill="#FFEFE9"/>
<path d="M471.7 64.2 469.3 62.7 466.9 61.3 464.5 59.9 462.1 58.6 459.7 57.3 457.3 56.0 454.9 54.9 452.6 53.7 450.2 52.7 447.8 51.7 445.4 50.7 443.0 49.8 440.7 49.0 438.3 48.2 436.0 47.5 433.7 46.8 431.4 46.2 429.1 45.7 426.8 45.2 424.6 44.8 422.3 44.4 420.1 44.1 419.4 44.1 419.4 44.3 419.5 46.0 419.6 47.7 419.8 49.4 420.0 51.2 420.3 53.0 420.7 54.9 421.1 56.8 421.6 58.7 422.1 60.7 422.7 62.7 423.4 64.7 424.1 66.7 424.8 68.8 425.6 70.9 426.5 73.0 427.4 75.1 428.4 77.2 429.4 79.4 430.5 81.6 431.6 83.8 432.8 86.0 434.1 88.2 435.3 90.5 436.7 92.7 438.1 94.9 439.5 97.2 441.0 99.4 442.5 101.7 443.6 103.4 444.3 102.3 445.8 100.1 447.3 98.0 448.8 95.8 450.4 93.7 452.0 91.6 453.6 89.4 455.3 87.3 457.0 85.2 458.8 83.1 460.6 81.0 462.4 79.0 464.2 76.9 466.1 74.9 468.0 72.9 469.9 70.9 471.9 68.9 473.8 67.0 474.7 66.2 474.0 65.8Z" fill="#FFEFE9"/>
<path d="M549.3 181.0 549.3 178.9 549.2 176.8 549.0 174.7 548.8 172.5 548.5 170.3 548.1 168.1 547.7 165.8 547.3 163.6 546.7 161.3 546.1 159.0 545.5 156.7 544.7 154.4 543.9 152.0 543.1 149.7 542.2 147.3 541.3 144.9 540.2 142.5 539.2 140.1 538.4 138.5 538.1 138.9 536.1 140.8 534.0 142.7 532.0 144.5 530.0 146.4 527.9 148.2 525.8 150.0 523.7 151.7 521.6 153.4 519.5 155.1 517.3 156.7 515.2 158.4 513.0 159.9 510.9 161.4 508.7 162.9 506.6 164.4 505.5 165.1 507.2 166.2 509.4 167.7 511.7 169.2 513.9 170.6 516.2 172.0 518.4 173.3 520.7 174.6 522.9 175.9 525.1 177.0 527.3 178.2 529.5 179.2 531.7 180.3 533.8 181.2 536.0 182.2 538.1 183.0 540.2 183.8 542.2 184.6 544.3 185.3 546.3 185.9 548.3 186.5 549.1 186.8 549.2 185.1 549.3 183.0Z" fill="#FFDFD4"/>
<path d="M505.3 91.7 503.2 89.6 501.1 87.6 499.0 85.5 496.8 83.6 494.6 81.6 492.4 79.7 490.2 77.8 487.9 75.9 485.7 74.1 483.4 72.4 481.1 70.7 478.7 69.0 476.4 67.3 474.7 66.2 473.8 67.0 471.9 68.9 469.9 70.9 468.0 72.9 466.1 74.9 464.2 76.9 462.4 79.0 460.6 81.0 458.8 83.1 457.0 85.2 455.3 87.3 453.6 89.4 452.0 91.6 450.4 93.7 448.8 95.8 447.3 98.0 445.8 100.1 444.3 102.3 443.6 103.4 444.0 104.0 445.6 106.2 447.3 108.5 449.0 110.7 450.7 113.0 452.5 115.2 454.2 117.4 456.1 119.7 458.0 121.9 459.9 124.1 461.8 126.3 463.7 128.4 465.7 130.6 467.8 132.7 469.8 134.8 471.9 136.9 473.5 138.5 473.9 137.8 475.0 135.4 476.3 133.0 477.6 130.6 478.9 128.2 480.3 125.8 481.7 123.4 483.2 121.1 484.8 118.7 486.4 116.4 488.0 114.0 489.7 111.7 491.4 109.4 493.2 107.1 495.0 104.8 496.8 102.6 498.7 100.4 500.6 98.2 502.6 96.0 504.6 93.8 505.9 92.4Z" fill="#FCBCA9"/>
<path d="M536.9 135.4 535.6 133.0 534.3 130.6 533.0 128.2 531.6 125.8 530.2 123.4 528.7 121.1 527.1 118.7 525.5 116.4 523.9 114.0 522.2 111.7 520.5 109.4 518.7 107.1 516.9 104.8 515.1 102.6 513.2 100.4 511.3 98.2 509.3 96.0 507.3 93.8 505.9 92.4 504.6 93.8 502.6 96.0 500.6 98.2 498.7 100.4 496.8 102.6 495.0 104.8 493.2 107.1 491.4 109.4 489.7 111.7 488.0 114.0 486.4 116.4 484.8 118.7 483.2 121.1 481.7 123.4 480.3 125.8 478.9 128.2 477.6 130.6 476.3 133.0 475.0 135.4 473.9 137.8 473.5 138.5 474.0 139.0 476.1 141.0 478.2 143.0 480.4 145.0 482.5 147.0 484.7 148.9 486.9 150.8 489.1 152.7 491.4 154.5 493.6 156.3 495.9 158.0 498.1 159.8 500.4 161.4 502.6 163.1 504.9 164.7 505.5 165.1 506.6 164.4 508.7 162.9 510.9 161.4 513.0 159.9 515.2 158.4 517.3 156.7 519.5 155.1 521.6 153.4 523.7 151.7 525.8 150.0 527.9 148.2 530.0 146.4 532.0 144.5 534.0 142.7 536.1 140.8 538.1 138.9 538.4 138.5 538.0 137.8Z" fill="#FFDFD4"/>
<path d="M378.2 55.6 377.1 56.9 376.0 58.1 374.9 59.4 373.9 60.8 373.0 62.2 372.1 63.7 371.3 65.2 370.5 66.8 369.8 68.4 369.2 70.1 368.6 71.8 368.1 73.5 367.6 75.3 367.2 77.2 366.9 79.0 366.6 80.9 366.4 82.9 366.3 84.9 366.2 86.9 366.2 88.9 366.2 91.0 366.3 93.1 366.5 95.3 366.7 97.4 367.0 99.6 367.4 101.8 367.8 104.1 368.3 106.3 368.8 108.6 369.4 110.9 370.1 113.2 370.8 115.6 371.6 117.9 372.4 120.3 373.3 122.6 374.3 125.0 375.3 127.4 376.3 129.8 377.5 132.2 378.6 134.6 379.9 136.9 381.2 139.3 382.5 141.7 383.9 144.1 385.3 146.5 386.8 148.9 388.4 151.2 390.0 153.6 391.6 155.9 393.3 158.2 395.0 160.5 396.8 162.8 398.6 165.1 400.4 167.3 402.3 169.5 404.3 171.7 406.2 173.9 408.2 176.1 410.3 178.2 412.3 180.3 414.4 182.3 416.5 184.4 418.7 186.4 420.9 188.3 423.1 190.3 425.3 192.1 427.6 194.0 429.8 195.8 432.1 197.6 434.4 199.3 436.8 200.9 439.1 202.6 441.5 204.2 443.8 205.7 446.2 207.2 448.6 208.6 451.0 210.0 453.4 211.4 455.8 212.6 458.2 213.9 460.6 215.1 463.0 216.2 465.3 217.2 467.7 218.3 470.1 219.2 472.5 220.1 474.8 220.9 477.2 221.7 479.5 222.4 481.9 223.1 484.2 223.7 486.4 224.2 488.7 224.7 491.0 225.1 493.2 225.5 495.4 225.8 497.6 226.0 499.7 226.2 501.8 226.3 503.9 226.3 506.0 226.3 508.0 226.2 510.0 226.1 511.9 225.9 513.8 225.6 515.7 225.3 517.5 224.9 519.3 224.4 521.1 223.9 522.8 223.3 524.5 222.7 526.1 222.0 527.7 221.2 529.2 220.4 530.7 219.5 532.1 218.6 533.5 217.6 534.8 216.5 536.1 215.4 537.3 214.3 538.4 213.1 539.5 211.8 540.6 210.5 541.6 209.1 542.5 207.7 543.4 206.2 544.2 204.7 545.0 203.1 545.7 201.5 546.3 199.8 546.9 198.1 547.4 196.4 547.9 194.6 548.3 192.8 548.6 190.9 548.9 189.0 549.1 187.0 549.2 185.1 549.3 183.0 549.3 181.0 549.3 178.9 549.2 176.8 549.0 174.7 548.8 172.5 548.5 170.3 548.1 168.1 547.7 165.8 547.3 163.6 546.7 161.3 546.1 159.0 545.5 156.7 544.7 154.4 543.9 152.0 543.1 149.7 542.2 147.3 541.3 144.9 540.2 142.5 539.2 140.1 538.0 137.8 536.9 135.4 535.6 133.0 534.3 130.6 533.0 128.2 531.6 125.8 530.2 123.4 528.7 121.1 527.1 118.7 525.5 116.4 523.9 114.0 522.2 111.7 520.5 109.4 518.7 107.1 516.9 104.8 515.1 102.6 513.2 100.4 511.3 98.2 509.3 96.0 507.3 93.8 505.3 91.7 503.2 89.6 501.1 87.6 499.0 85.5 496.8 83.6 494.6 81.6 492.4 79.7 490.2 77.8 487.9 75.9 485.7 74.1 483.4 72.4 481.1 70.7 478.7 69.0 476.4 67.3 474.0 65.8 471.7 64.2 469.3 62.7 466.9 61.3 464.5 59.9 462.1 58.6 459.7 57.3 457.3 56.0 454.9 54.9 452.6 53.7 450.2 52.7 447.8 51.7 445.4 50.7 443.0 49.8 440.7 49.0 438.3 48.2 436.0 47.5 433.7 46.8 431.4 46.2 429.1 45.7 426.8 45.2 424.6 44.8 422.3 44.4 420.1 44.1 418.0 43.9 415.8 43.8 413.7 43.6 411.6 43.6 409.6 43.6 407.5 43.7 405.5 43.9 403.6 44.1 401.7 44.3 399.8 44.7 398.0 45.1 396.2 45.5 394.4 46.0 392.7 46.6 391.0 47.3 389.4 48.0 387.8 48.7 386.3 49.5 384.8 50.4 383.4 51.3 382.0 52.3 380.7 53.4 379.5 54.5Z" fill="none" stroke="#888" stroke-width="0.45"/>
<path d="M426.4 23.6 425.6 24.5 424.8 25.5 424.0 26.5 423.3 27.6 422.7 28.7 422.1 29.9 421.6 31.1 421.1 32.4 420.7 33.7 420.3 35.1 420.0 36.5 419.8 38.0 419.6 39.5 419.5 41.0 419.4 42.6 419.4 44.3 419.5 46.0 419.6 47.7 419.8 49.4 420.0 51.2 420.3 53.0 420.7 54.9 421.1 56.8 421.6 58.7 422.1 60.7 422.7 62.7 423.4 64.7 424.1 66.7 424.8 68.8 425.6 70.9 426.5 73.0 427.4 75.1 428.4 77.2 429.4 79.4 430.5 81.6 431.6 83.8 432.8 86.0 434.1 88.2 435.3 90.5 436.7 92.7 438.1 94.9 439.5 97.2 441.0 99.4 442.5 101.7 444.0 104.0 445.6 106.2 447.3 108.5 449.0 110.7 450.7 113.0 452.5 115.2 454.2 117.4 456.1 119.7 458.0 121.9 459.9 124.1 461.8 126.3 463.7 128.4 465.7 130.6 467.8 132.7 469.8 134.8 471.9 136.9 474.0 139.0 476.1 141.0 478.2 143.0 480.4 145.0 482.5 147.0 484.7 148.9 486.9 150.8 489.1 152.7 491.4 154.5 493.6 156.3 495.9 158.0 498.1 159.8 500.4 161.4 502.6 163.1 504.9 164.7 507.2 166.2 509.4 167.7 511.7 169.2 513.9 170.6 516.2 172.0 518.4 173.3 520.7 174.6 522.9 175.9 525.1 177.0 527.3 178.2 529.5 179.2 531.7 180.3 533.8 181.2 536.0 182.2 538.1 183.0 540.2 183.8 542.2 184.6 544.3 185.3 546.3 185.9 548.3 186.5 550.3 187.1 552.2 187.5 554.1 187.9 555.9 188.3 557.8 188.6 559.6 188.8 561.3 189.0 563.1 189.1 564.7 189.2 566.4 189.2 568.0 189.1 569.5 189.0 571.0 188.9 572.5 188.6 573.9 188.3 575.3 188.0 576.6 187.6 577.9 187.1 579.2 186.6 580.3 186.0 581.5 185.3 582.5 184.7 583.6 183.9 584.5 183.1 585.5 182.2 586.3 181.3 587.1 180.3 587.9 179.3 588.6 178.2 589.2 177.1 589.8 175.9 590.3 174.7 590.8 173.4 591.2 172.1 591.6 170.7 591.9 169.3 592.1 167.8 592.3 166.3 592.4 164.8 592.5 163.2 592.5 161.5 592.4 159.9 592.3 158.2 592.1 156.4 591.9 154.6 591.6 152.8 591.2 150.9 590.8 149.0 590.3 147.1 589.8 145.1 589.2 143.2 588.5 141.1 587.8 139.1 587.1 137.0 586.3 135.0 585.4 132.9 584.5 130.7 583.5 128.6 582.5 126.4 581.4 124.2 580.3 122.0 579.1 119.8 577.8 117.6 576.6 115.4 575.2 113.1 573.8 110.9 572.4 108.6 570.9 106.4 569.4 104.1 567.9 101.9 566.3 99.6 564.6 97.3 562.9 95.1 561.2 92.8 559.4 90.6 557.7 88.4 555.8 86.2 553.9 83.9 552.0 81.7 550.1 79.6 548.2 77.4 546.2 75.2 544.1 73.1 542.1 71.0 540.0 68.9 537.9 66.9 535.8 64.8 533.7 62.8 531.5 60.8 529.4 58.9 527.2 56.9 525.0 55.0 522.8 53.2 520.5 51.3 518.3 49.5 516.0 47.8 513.8 46.1 511.5 44.4 509.3 42.7 507.0 41.1 504.7 39.6 502.5 38.1 500.2 36.6 498.0 35.2 495.7 33.8 493.5 32.5 491.2 31.2 489.0 30.0 486.8 28.8 484.6 27.7 482.4 26.6 480.2 25.5 478.1 24.6 475.9 23.7 473.8 22.8 471.7 22.0 469.7 21.2 467.6 20.5 465.6 19.9 463.6 19.3 461.6 18.8 459.7 18.3 457.8 17.9 456.0 17.5 454.1 17.2 452.3 17.0 450.6 16.8 448.8 16.7 447.2 16.6 445.5 16.6 443.9 16.7 442.4 16.8 440.9 17.0 439.4 17.2 438.0 17.5 436.6 17.8 435.3 18.3 434.0 18.7 432.7 19.2 431.6 19.8 430.4 20.5 429.4 21.2 428.3 21.9 427.4 22.7Z" fill="none" stroke="#888" stroke-width="0.45"/>
<path d="M580.9 28.1 580.0 27.3 579.0 26.4 578.0 25.7 577.0 25.0 575.8 24.3 574.7 23.7 573.5 23.2 572.2 22.7 570.9 22.3 569.5 21.9 568.2 21.5 566.7 21.3 565.2 21.1 563.7 20.9 562.2 20.8 560.6 20.8 558.9 20.8 557.3 20.8 555.6 21.0 553.8 21.1 552.1 21.4 550.3 21.7 548.4 22.0 546.6 22.4 544.7 22.9 542.8 23.4 540.8 24.0 538.9 24.6 536.9 25.3 534.9 26.0 532.8 26.8 530.8 27.6 528.7 28.5 526.6 29.4 524.6 30.4 522.4 31.5 520.3 32.5 518.2 33.7 516.1 34.8 513.9 36.1 511.8 37.4 509.6 38.7 507.5 40.0 505.3 41.4 503.2 42.9 501.0 44.4 498.9 45.9 496.7 47.5 494.6 49.1 492.4 50.7 490.3 52.4 488.2 54.1 486.1 55.9 484.0 57.6 481.9 59.4 479.9 61.3 477.9 63.2 475.8 65.0 473.8 67.0 471.9 68.9 469.9 70.9 468.0 72.9 466.1 74.9 464.2 76.9 462.4 79.0 460.6 81.0 458.8 83.1 457.0 85.2 455.3 87.3 453.6 89.4 452.0 91.6 450.4 93.7 448.8 95.8 447.3 98.0 445.8 100.1 444.3 102.3 442.9 104.4 441.5 106.6 440.2 108.7 438.9 110.9 437.7 113.0 436.5 115.1 435.4 117.3 434.3 119.4 433.3 121.5 432.3 123.6 431.3 125.6 430.5 127.7 429.6 129.7 428.8 131.8 428.1 133.8 427.4 135.7 426.8 137.7 426.2 139.6 425.7 141.5 425.3 143.4 424.9 145.3 424.5 147.1 424.2 148.9 424.0 150.7 423.8 152.4 423.7 154.1 423.6 155.8 423.6 157.4 423.6 159.0 423.7 160.5 423.9 162.1 424.1 163.5 424.4 165.0 424.7 166.4 425.1 167.7 425.5 169.0 426.0 170.3 426.6 171.5 427.2 172.6 427.8 173.7 428.5 174.8 429.3 175.8 430.1 176.8 431.0 177.7 431.9 178.6 432.9 179.4 433.9 180.1 434.9 180.8 436.1 181.5 437.2 182.1 438.4 182.6 439.7 183.1 441.0 183.6 442.4 183.9 443.7 184.3 445.2 184.5 446.7 184.8 448.2 184.9 449.7 185.0 451.3 185.1 453.0 185.0 454.6 185.0 456.3 184.9 458.1 184.7 459.8 184.4 461.6 184.1 463.5 183.8 465.3 183.4 467.2 182.9 469.1 182.4 471.1 181.9 473.0 181.2 475.0 180.6 477.0 179.8 479.1 179.0 481.1 178.2 483.2 177.3 485.3 176.4 487.3 175.4 489.5 174.4 491.6 173.3 493.7 172.2 495.8 171.0 498.0 169.7 500.1 168.5 502.3 167.2 504.4 165.8 506.6 164.4 508.7 162.9 510.9 161.4 513.0 159.9 515.2 158.4 517.3 156.7 519.5 155.1 521.6 153.4 523.7 151.7 525.8 150.0 527.9 148.2 530.0 146.4 532.0 144.5 534.0 142.7 536.1 140.8 538.1 138.9 540.0 136.9 542.0 134.9 543.9 132.9 545.8 130.9 547.7 128.9 549.5 126.9 551.3 124.8 553.1 122.7 554.9 120.6 556.6 118.5 558.3 116.4 559.9 114.3 561.5 112.1 563.1 110.0 564.6 107.8 566.1 105.7 567.6 103.5 569.0 101.4 570.4 99.2 571.7 97.1 573.0 95.0 574.2 92.8 575.4 90.7 576.5 88.6 577.6 86.5 578.6 84.4 579.6 82.3 580.6 80.2 581.4 78.1 582.3 76.1 583.1 74.1 583.8 72.1 584.5 70.1 585.1 68.1 585.7 66.2 586.2 64.3 586.6 62.4 587.0 60.5 587.4 58.7 587.7 56.9 587.9 55.1 588.1 53.4 588.2 51.7 588.3 50.0 588.3 48.4 588.3 46.8 588.2 45.3 588.0 43.8 587.8 42.3 587.5 40.9 587.2 39.5 586.8 38.1 586.4 36.8 585.9 35.6 585.3 34.4 584.7 33.2 584.1 32.1 583.4 31.0 582.6 30.0 581.8 29.0Z" fill="none" stroke="#888" stroke-width="0.45"/>
<path d="M633.7 55.6 632.4 54.5 631.2 53.4 629.9 52.3 628.5 51.3 627.1 50.4 625.6 49.5 624.1 48.7 622.5 48.0 620.9 47.3 619.2 46.6 617.5 46.0 615.7 45.5 613.9 45.1 612.1 44.7 610.2 44.3 608.3 44.1 606.4 43.9 604.4 43.7 602.3 43.6 600.3 43.6 598.2 43.6 596.1 43.8 593.9 43.9 591.8 44.1 589.6 44.4 587.3 44.8 585.1 45.2 582.8 45.7 580.5 46.2 578.2 46.8 575.9 47.5 573.6 48.2 571.2 49.0 568.9 49.8 566.5 50.7 564.1 51.7 561.7 52.7 559.3 53.7 557.0 54.9 554.6 56.0 552.2 57.3 549.8 58.6 547.4 59.9 545.0 61.3 542.6 62.7 540.2 64.2 537.9 65.8 535.5 67.3 533.2 69.0 530.8 70.7 528.5 72.4 526.2 74.1 524.0 75.9 521.7 77.8 519.5 79.7 517.3 81.6 515.1 83.6 512.9 85.5 510.8 87.6 508.7 89.6 506.6 91.7 504.6 93.8 502.6 96.0 500.6 98.2 498.7 100.4 496.8 102.6 495.0 104.8 493.2 107.1 491.4 109.4 489.7 111.7 488.0 114.0 486.4 116.4 484.8 118.7 483.2 121.1 481.7 123.4 480.3 125.8 478.9 128.2 477.6 130.6 476.3 133.0 475.0 135.4 473.9 137.8 472.7 140.1 471.7 142.5 470.6 144.9 469.7 147.3 468.8 149.7 468.0 152.0 467.2 154.4 466.4 156.7 465.8 159.0 465.2 161.3 464.6 163.6 464.2 165.8 463.8 168.1 463.4 170.3 463.1 172.5 462.9 174.7 462.7 176.8 462.6 178.9 462.6 181.0 462.6 183.0 462.7 185.1 462.8 187.0 463.0 189.0 463.3 190.9 463.6 192.8 464.0 194.6 464.5 196.4 465.0 198.1 465.6 199.8 466.2 201.5 466.9 203.1 467.7 204.7 468.5 206.2 469.4 207.7 470.3 209.1 471.3 210.5 472.4 211.8 473.5 213.1 474.6 214.3 475.8 215.4 477.1 216.5 478.4 217.6 479.8 218.6 481.2 219.5 482.7 220.4 484.2 221.2 485.8 222.0 487.4 222.7 489.1 223.3 490.8 223.9 492.6 224.4 494.4 224.9 496.2 225.3 498.1 225.6 500.0 225.9 501.9 226.1 503.9 226.2 505.9 226.3 508.0 226.3 510.1 226.3 512.2 226.2 514.3 226.0 516.5 225.8 518.7 225.5 520.9 225.1 523.2 224.7 525.5 224.2 527.7 223.7 530.0 223.1 532.4 222.4 534.7 221.7 537.1 220.9 539.4 220.1 541.8 219.2 544.2 218.3 546.6 217.2 548.9 216.2 551.3 215.1 553.7 213.9 556.1 212.6 558.5 211.4 560.9 210.0 563.3 208.6 565.7 207.2 568.1 205.7 570.4 204.2 572.8 202.6 575.1 200.9 577.5 199.3 579.8 197.6 582.1 195.8 584.3 194.0 586.6 192.1 588.8 190.3 591.0 188.3 593.2 186.4 595.4 184.4 597.5 182.3 599.6 180.3 601.6 178.2 603.7 176.1 605.7 173.9 607.6 171.7 609.6 169.5 611.5 167.3 613.3 165.1 615.1 162.8 616.9 160.5 618.6 158.2 620.3 155.9 621.9 153.6 623.5 151.2 625.1 148.9 626.6 146.5 628.0 144.1 629.4 141.7 630.7 139.3 632.0 136.9 633.3 134.6 634.4 132.2 635.6 129.8 636.6 127.4 637.6 125.0 638.6 122.6 639.5 120.3 640.3 117.9 641.1 115.6 641.8 113.2 642.5 110.9 643.1 108.6 643.6 106.3 644.1 104.1 644.5 101.8 644.9 99.6 645.2 97.4 645.4 95.3 645.6 93.1 645.7 91.0 645.7 88.9 645.7 86.9 645.6 84.9 645.5 82.9 645.3 80.9 645.0 79.0 644.7 77.2 644.3 75.3 643.8 73.5 643.3 71.8 642.7 70.1 642.1 68.4 641.4 66.8 640.6 65.2 639.8 63.7 638.9 62.2 638.0 60.8 637.0 59.4 635.9 58.1 634.8 56.9Z" fill="none" stroke="#888" stroke-width="0.45"/>
<text x="462.40" y="44.50" font-size="9.00" text-anchor="middle" fill="#000">3</text>
<text x="549.00" y="47.50" font-size="9.00" text-anchor="middle" fill="#000">1</text>
<text x="446.80" y="79.80" font-size="9.00" text-anchor="middle" fill="#000">1</text>
<text x="506.20" y="69.70" font-size="9.00" text-anchor="middle" fill="#000">0</text>
<text x="564.10" y="76.20" font-size="9.00" text-anchor="middle" fill="#000">0</text>
<text x="468.40" y="105.40" font-size="9.00" text-anchor="middle" fill="#000">14</text>
<text x="541.50" y="105.40" font-size="9.00" text-anchor="middle" fill="#000">0</text>
<text x="404.00" y="139.20" font-size="9.00" text-anchor="middle" fill="#000">12</text>
<text x="448.30" y="147.70" font-size="9.00" text-anchor="middle" fill="#000">3</text>
<text x="481.00" y="137.20" font-size="9.00" text-anchor="middle" fill="#000">0</text>
<text x="506.20" y="134.20" font-size="9.00" text-anchor="middle" fill="#000">2</text>
<text x="609.50" y="138.20" font-size="9.00" text-anchor="middle" fill="#000">1</text>
<text x="565.60" y="150.20" font-size="9.00" text-anchor="middle" fill="#000">0</text>
<text x="482.50" y="165.40" font-size="9.00" text-anchor="middle" fill="#000">1</text>
<text x="527.90" y="167.40" font-size="9.00" text-anchor="middle" fill="#000">2</text>
<text x="506.20" y="198.60" font-size="9.00" text-anchor="middle" fill="#000">3</text>
<text x="429.20" y="12.10" font-size="8.80" text-anchor="middle" fill="#000">GTEx_sQTL</text>
<text x="572.90" y="16.70" font-size="8.80" text-anchor="middle" fill="#000">eQTLGen</text>
<text x="371.20" y="39.40" font-size="8.80" text-anchor="middle" fill="#000">GTEx_eQTL</text>
<text x="644.20" y="39.40" font-size="8.80" text-anchor="middle" fill="#000">DICE</text>
<defs><linearGradient id="gcount" x1="0" y1="1" x2="0" y2="0"><stop offset="0" stop-color="#FFFFFF"/><stop offset="0.25" stop-color="#FFCFBF"/><stop offset="0.5" stop-color="#FF9E81"/><stop offset="0.75" stop-color="#FF6846"/><stop offset="1" stop-color="#FF0000"/></linearGradient></defs>
<rect x="633.3" y="154.6" width="13.1" height="66.6" fill="url(#gcount)"/>
<line x1="633.3" x2="635.9" y1="171.7" y2="171.7" stroke="#fff" stroke-width="0.4"/><line x1="643.8" x2="646.4" y1="171.7" y2="171.7" stroke="#fff" stroke-width="0.4"/>
<line x1="633.3" x2="635.9" y1="188.4" y2="188.4" stroke="#fff" stroke-width="0.4"/><line x1="643.8" x2="646.4" y1="188.4" y2="188.4" stroke="#fff" stroke-width="0.4"/>
<line x1="633.3" x2="635.9" y1="205.3" y2="205.3" stroke="#fff" stroke-width="0.4"/><line x1="643.8" x2="646.4" y1="205.3" y2="205.3" stroke="#fff" stroke-width="0.4"/>
<text x="633.30" y="149.50" font-size="7.50" text-anchor="start" fill="#000">count</text>
<text x="651.60" y="157.10" font-size="6.20" text-anchor="start" fill="#000">12</text>
<text x="651.60" y="173.90" font-size="6.20" text-anchor="start" fill="#000">9</text>
<text x="651.60" y="190.60" font-size="6.20" text-anchor="start" fill="#000">6</text>
<text x="651.60" y="207.50" font-size="6.20" text-anchor="start" fill="#000">3</text>
<text x="651.60" y="224.40" font-size="6.20" text-anchor="start" fill="#000">0</text>
<rect x="22.20" y="263.40" width="132.80" height="153.60" fill="#EBEBEB"/>
<svg x="22.20" y="263.40" width="132.80" height="153.60" viewBox="22.20 263.40 132.80 153.60" overflow="hidden">
<line x1="22.20" x2="155.00" y1="429.75" y2="429.75" stroke="#fff" stroke-width="0.3"/>
<line x1="22.20" x2="155.00" y1="391.25" y2="391.25" stroke="#fff" stroke-width="0.3"/>
<line x1="22.20" x2="155.00" y1="352.75" y2="352.75" stroke="#fff" stroke-width="0.3"/>
<line x1="22.20" x2="155.00" y1="314.25" y2="314.25" stroke="#fff" stroke-width="0.3"/>
<line x1="22.20" x2="155.00" y1="275.75" y2="275.75" stroke="#fff" stroke-width="0.3"/>
<line x1="22.20" x2="155.00" y1="237.25" y2="237.25" stroke="#fff" stroke-width="0.3"/>
<line x1="22.20" x2="155.00" y1="410.50" y2="410.50" stroke="#fff" stroke-width="0.6"/>
<line x1="22.20" x2="155.00" y1="372.00" y2="372.00" stroke="#fff" stroke-width="0.6"/>
<line x1="22.20" x2="155.00" y1="333.50" y2="333.50" stroke="#fff" stroke-width="0.6"/>
<line x1="22.20" x2="155.00" y1="295.00" y2="295.00" stroke="#fff" stroke-width="0.6"/>
<line x1="9.25" x2="9.25" y1="263.40" y2="417.00" stroke="#fff" stroke-width="0.3"/>
<line x1="39.75" x2="39.75" y1="263.40" y2="417.00" stroke="#fff" stroke-width="0.3"/>
<line x1="70.25" x2="70.25" y1="263.40" y2="417.00" stroke="#fff" stroke-width="0.3"/>
<line x1="100.75" x2="100.75" y1="263.40" y2="417.00" stroke="#fff" stroke-width="0.3"/>
<line x1="131.25" x2="131.25" y1="263.40" y2="417.00" stroke="#fff" stroke-width="0.3"/>
<line x1="161.75" x2="161.75" y1="263.40" y2="417.00" stroke="#fff" stroke-width="0.3"/>
<line x1="192.25" x2="192.25" y1="263.40" y2="417.00" stroke="#fff" stroke-width="0.3"/>
<line x1="24.50" x2="24.50" y1="263.40" y2="417.00" stroke="#fff" stroke-width="0.6"/>
<line x1="55.00" x2="55.00" y1="263.40" y2="417.00" stroke="#fff" stroke-width="0.6"/>
<line x1="85.50" x2="85.50" y1="263.40" y2="417.00" stroke="#fff" stroke-width="0.6"/>
<line x1="116.00" x2="116.00" y1="263.40" y2="417.00" stroke="#fff" stroke-width="0.6"/>
<line x1="146.50" x2="146.50" y1="263.40" y2="417.00" stroke="#fff" stroke-width="0.6"/>
<g id="dots_C1"></g>
<rect x="26.80" y="379.70" width="123.60" height="31.70" fill="#FF0000"/>
<path d="M82.8 378.2h0M140.4 379.1h0M89.6 377.9h0M50.1 378.7h0M104.4 374.7h0M39.1 380.3h0M38.7 374.3h0M112.2 381.8h0M147.4 366.6h0M107.4 377.6h0M46.8 381.9h0M92.1 381.7h0M50.8 380.7h0M31.3 379.1h0M81.3 373.5h0M90.9 377.3h0M88.6 377.0h0M83.4 380.5h0M149.3 356.8h0M130.1 376.3h0M66.1 380.8h0M62.9 381.7h0M121.1 379.6h0M130.9 379.8h0M144.5 373.3h0M27.7 380.9h0M138.7 379.1h0M147.2 379.7h0M36.5 377.4h0M122.6 380.6h0M38.2 380.1h0M145.2 375.5h0M42.0 380.7h0M39.9 381.7h0M124.8 381.1h0M95.8 379.3h0M50.9 375.9h0M43.6 377.2h0M41.8 379.5h0M53.6 380.6h0M146.1 374.5h0M64.7 372.0h0M53.3 379.7h0M131.8 377.3h0M39.8 361.0h0M53.6 380.6h0M121.9 380.2h0M63.8 381.7h0M38.6 378.0h0M57.2 377.8h0M72.9 379.2h0M144.6 379.0h0M97.7 372.7h0M49.9 381.2h0M138.4 374.1h0M58.0 381.0h0M117.8 369.0h0M51.6 368.2h0M135.2 377.7h0M79.0 381.5h0M32.3 366.8h0M56.7 376.4h0M59.0 374.0h0M100.4 380.4h0M49.0 376.1h0M36.0 380.8h0M95.8 373.2h0M102.5 380.5h0M139.5 381.0h0M29.6 380.6h0M82.0 381.7h0M49.1 379.9h0M97.4 381.4h0M71.8 371.8h0M147.2 377.1h0M111.9 378.0h0M44.7 381.8h0M29.8 370.9h0M113.1 366.8h0M30.2 377.3h0M86.4 376.0h0M66.5 348.1h0M36.8 378.4h0M117.5 371.4h0M117.5 376.4h0M124.4 370.6h0M70.5 376.7h0M137.5 372.5h0M78.5 374.8h0M132.9 378.1h0M103.8 379.8h0M98.7 377.7h0M37.4 377.3h0M148.8 372.2h0M116.4 379.7h0M117.3 378.0h0M81.3 373.6h0M37.8 375.6h0M31.2 377.8h0M86.3 380.8h0M112.8 378.8h0M102.6 370.3h0M58.8 382.0h0M64.3 376.8h0M52.3 381.2h0M138.1 377.0h0M81.5 371.7h0M67.5 376.9h0M51.8 379.4h0M125.9 370.7h0M135.0 379.8h0M98.7 380.3h0M44.2 378.8h0M129.7 373.3h0M114.4 368.2h0M61.4 381.2h0M82.6 380.5h0M53.7 379.5h0M103.9 378.9h0M66.1 373.6h0M147.4 379.2h0M36.7 381.9h0M134.1 381.8h0M114.1 378.1h0M65.3 374.8h0M29.9 381.3h0M83.1 381.9h0M128.8 380.8h0M44.8 381.8h0M104.4 379.3h0M104.5 377.1h0M126.1 367.3h0M111.1 381.0h0M85.6 381.1h0M28.9 379.1h0M114.7 381.1h0M60.8 380.0h0M112.7 378.6h0M102.6 375.5h0M75.6 374.8h0M138.2 381.6h0M141.4 376.1h0M43.4 379.2h0M103.9 370.9h0M73.6 378.1h0M134.9 374.6h0M142.8 379.1h0M107.1 381.0h0M115.7 374.1h0M105.9 376.2h0M53.6 371.4h0M147.2 364.5h0M93.1 374.8h0M66.7 370.9h0M132.0 380.0h0M37.7 379.3h0M94.7 375.3h0M87.1 381.9h0M126.3 381.7h0M125.2 381.1h0M68.5 374.8h0M44.7 381.3h0M90.6 376.1h0M130.1 376.6h0M143.0 378.9h0M143.4 381.6h0M54.6 378.6h0M63.0 376.0h0M105.5 378.6h0M130.5 378.2h0M65.6 379.8h0M130.7 371.3h0M53.0 373.2h0M145.7 378.6h0M97.5 381.0h0M93.0 378.8h0M101.4 381.9h0M145.9 378.7h0M76.5 374.5h0M96.3 378.9h0M111.9 381.7h0M93.3 379.5h0M144.3 370.1h0M60.4 379.0h0M43.1 379.4h0M127.1 371.3h0M85.7 380.2h0M51.0 377.6h0M140.5 381.4h0M122.7 381.9h0M51.3 380.8h0M111.4 380.2h0M71.0 377.5h0M40.4 375.9h0M42.6 378.7h0M58.2 381.0h0M92.3 379.4h0M73.4 379.5h0M92.2 381.2h0M52.5 377.4h0M105.5 378.5h0M131.5 377.6h0M132.1 380.8h0M118.0 374.3h0M137.7 380.3h0M66.0 370.2h0M54.2 352.4h0M135.9 381.3h0M56.8 376.0h0M59.3 381.5h0M129.1 379.5h0M124.0 381.4h0M76.7 376.7h0M29.8 381.0h0M110.9 370.8h0M145.7 381.4h0M89.3 375.5h0M88.9 376.7h0M50.7 381.7h0M40.6 381.8h0M94.9 378.7h0M97.0 381.3h0M50.1 381.0h0M130.1 360.6h0M140.7 381.5h0M35.2 368.0h0M84.0 375.3h0M67.5 379.1h0M90.5 379.4h0M100.9 381.9h0M113.1 373.4h0M49.7 379.2h0M117.8 379.6h0M51.4 381.2h0M90.1 381.9h0M136.6 374.5h0M113.6 372.9h0M104.4 379.6h0M100.8 378.8h0M147.5 374.5h0M59.1 370.8h0M118.4 375.1h0M127.0 379.6h0M137.0 372.2h0M112.4 375.3h0M121.0 379.6h0M115.8 381.7h0M69.3 379.1h0M28.9 380.0h0M105.5 377.5h0M55.9 368.6h0M108.9 380.1h0M108.1 378.1h0M92.6 379.7h0M149.6 377.3h0M113.2 375.4h0M147.2 381.9h0M102.7 375.8h0M58.9 379.6h0M33.8 381.0h0M73.4 381.5h0M58.2 371.1h0M94.7 378.7h0M145.6 378.1h0M149.0 377.3h0M126.4 381.6h0M100.5 375.4h0M33.1 369.7h0M47.1 379.1h0M48.2 378.8h0M102.2 381.7h0M142.9 379.5h0M91.9 377.8h0M72.2 380.5h0M107.5 378.2h0M62.2 376.2h0M63.7 381.9h0M57.5 381.8h0M46.7 375.5h0M75.2 371.5h0M118.9 381.8h0M148.2 368.7h0M36.6 371.1h0M80.0 379.0h0M146.3 380.7h0M91.4 369.2h0M115.8 379.1h0M147.0 374.2h0M101.2 381.4h0M103.8 379.2h0M52.4 381.8h0M92.0 381.4h0M81.6 376.9h0M83.2 380.6h0M98.6 379.5h0M122.5 378.5h0M149.3 367.9h0M117.2 380.8h0M41.5 371.7h0M123.3 377.5h0M71.4 380.5h0M111.2 378.2h0M99.8 377.4h0M119.5 381.0h0M58.0 364.0h0M139.3 372.3h0M32.4 381.7h0M60.7 379.5h0M103.6 381.5h0M93.7 381.7h0M38.1 376.8h0M94.8 377.4h0M73.1 379.0h0M53.3 380.1h0M118.5 373.6h0M36.7 381.4h0M126.3 377.5h0M121.4 380.9h0M79.4 380.6h0M126.4 379.9h0M107.3 361.1h0M67.3 378.3h0M118.6 370.3h0M79.8 379.9h0M39.4 372.4h0M37.2 381.6h0M96.4 378.9h0M111.2 380.4h0M122.2 381.6h0M53.6 377.0h0M37.6 380.3h0M116.0 376.5h0M62.1 381.3h0M71.3 376.0h0M72.3 381.4h0M114.1 378.1h0M139.7 369.0h0M139.0 379.3h0M125.6 380.3h0M66.3 379.7h0M141.6 371.6h0M57.9 379.9h0M72.2 379.9h0M75.9 379.7h0M51.4 378.2h0M124.8 378.4h0M129.6 378.2h0M49.1 375.4h0M135.1 380.5h0M30.3 378.7h0M94.0 378.1h0M145.5 377.1h0M125.7 381.7h0M94.3 374.8h0M37.9 381.6h0M117.5 371.4h0M37.9 377.4h0M45.2 375.7h0M106.8 380.7h0M54.5 375.3h0M91.2 375.3h0M75.7 380.1h0M145.7 376.9h0M87.8 378.4h0M115.6 376.3h0M139.2 379.6h0M128.4 376.9h0M131.7 374.4h0M129.3 371.9h0M144.4 377.3h0M91.5 376.3h0M125.5 379.5h0M78.9 381.3h0M118.0 360.2h0M73.4 381.2h0M52.5 379.5h0M63.2 365.8h0M34.8 380.3h0M41.6 377.2h0M122.3 381.1h0M35.2 379.2h0M98.9 370.9h0M32.0 381.5h0M50.1 380.9h0M56.3 376.2h0M100.2 380.8h0M50.2 380.5h0M48.6 375.5h0M65.6 378.3h0M127.3 379.0h0M59.4 371.9h0M139.1 380.1h0M94.4 367.5h0M86.5 380.9h0M33.7 368.4h0M125.4 379.8h0M92.0 378.7h0M61.1 360.6h0M107.8 380.8h0M28.9 379.1h0M72.9 374.6h0M114.6 377.7h0M46.8 381.2h0M66.9 380.6h0M133.6 378.7h0M105.3 359.0h0M60.1 378.5h0M46.0 375.2h0M27.8 374.1h0M130.8 374.0h0M37.7 380.6h0M115.0 381.5h0M86.2 379.1h0M144.2 377.9h0M132.2 380.3h0M123.9 379.5h0M139.4 381.6h0M128.4 380.9h0M93.9 378.6h0M46.8 373.8h0M65.6 380.3h0M36.9 380.3h0M84.6 376.2h0M71.5 376.6h0M40.5 379.7h0M83.9 366.3h0M128.8 377.1h0M29.1 379.8h0M114.2 380.8h0M96.4 379.2h0M28.9 359.9h0M125.1 380.9h0M102.8 380.4h0M73.5 378.4h0M64.0 380.1h0M75.4 376.9h0M58.9 381.0h0M116.8 380.2h0M142.9 378.2h0M115.9 380.1h0M128.5 381.6h0M44.8 381.6h0M110.3 376.3h0M49.5 379.6h0M129.7 377.9h0M38.6 380.8h0M46.8 381.4h0M77.2 381.7h0M139.9 379.4h0M90.0 377.2h0M121.2 374.1h0M74.7 380.2h0M77.9 381.9h0M76.5 376.4h0M147.4 374.8h0M108.1 377.7h0M29.9 380.2h0M69.4 377.2h0M40.6 379.8h0M89.7 374.8h0M128.3 377.6h0M46.9 375.3h0M137.8 378.3h0M70.6 378.8h0M44.9 376.2h0M148.0 378.7h0M114.9 373.7h0M51.7 368.6h0M104.1 381.0h0M37.8 380.7h0M97.9 376.5h0M67.8 369.8h0M71.7 379.1h0M42.7 365.2h0M44.1 371.2h0M93.9 378.2h0M96.0 380.6h0M138.5 359.6h0M127.3 377.8h0M42.6 374.0h0M62.8 371.5h0M57.0 378.1h0M129.0 381.1h0M94.4 381.6h0M31.5 381.1h0M148.0 369.1h0M107.9 380.3h0M109.5 375.8h0M74.2 377.9h0M125.7 381.9h0M51.9 379.1h0M45.0 379.8h0M97.1 381.1h0M91.0 380.6h0M96.9 380.1h0M105.9 381.8h0M109.5 381.3h0M144.6 377.8h0M84.9 379.6h0M103.7 376.6h0M120.1 375.6h0M86.9 357.9h0M129.9 373.1h0M77.5 379.4h0M96.6 371.1h0M91.8 378.6h0M80.3 371.2h0M66.7 381.8h0M116.1 371.4h0M116.9 377.8h0M119.3 380.3h0M100.0 381.7h0M42.8 379.3h0M88.9 379.7h0M33.9 376.5h0M91.8 380.7h0M65.0 379.7h0M56.4 381.7h0M138.8 366.3h0M108.8 372.7h0M79.0 374.5h0M54.7 375.7h0M96.8 371.2h0M39.6 374.7h0M42.7 378.4h0M143.6 382.0h0M57.4 380.4h0M67.2 381.7h0M136.8 374.2h0M76.1 380.0h0M99.0 381.8h0M31.4 371.4h0M65.2 378.8h0M141.5 364.5h0M85.3 380.9h0M63.6 370.2h0M137.0 381.0h0M129.8 380.0h0M85.2 381.1h0M134.9 357.1h0M52.2 377.4h0M51.0 372.2h0M33.7 381.5h0M116.1 380.3h0M137.4 372.6h0M114.6 381.3h0M112.5 369.2h0M81.9 381.6h0M54.8 380.3h0M114.3 381.0h0M49.7 380.8h0M108.7 374.8h0M73.0 377.0h0M135.5 377.9h0M55.5 380.4h0M140.7 376.9h0M61.4 377.3h0M38.6 363.2h0M81.3 378.5h0M92.4 381.8h0M100.8 380.5h0M58.2 374.5h0M38.2 380.5h0M119.8 380.7h0M61.7 378.3h0M50.3 371.5h0M148.1 381.9h0M83.9 375.6h0M74.5 369.8h0M88.6 381.1h0M95.4 377.2h0M71.5 377.0h0M123.1 378.7h0M89.3 373.4h0M111.1 378.6h0M143.7 381.1h0M122.7 381.2h0M101.8 380.8h0M81.3 375.2h0M123.6 374.8h0M56.4 378.9h0M54.6 378.0h0M88.5 381.8h0M100.4 376.2h0M97.5 372.5h0M49.6 381.2h0M29.8 378.8h0M80.6 379.3h0M59.7 374.6h0M36.4 371.0h0M97.0 378.4h0M124.2 380.8h0M45.4 380.3h0M32.8 380.3h0M103.4 378.6h0M59.9 377.9h0M38.4 374.1h0M48.5 380.7h0M47.1 376.6h0M129.0 374.9h0M35.1 379.6h0M72.1 380.9h0M146.0 381.8h0M87.3 375.4h0M147.9 381.3h0M83.1 375.7h0M32.4 380.7h0M136.2 381.3h0M75.5 380.4h0M79.4 381.6h0M31.8 356.4h0M120.7 375.9h0M55.6 380.7h0M94.9 380.7h0M83.9 369.6h0M72.0 380.1h0M147.3 377.6h0M32.4 379.6h0M106.9 381.7h0M69.5 376.5h0M133.1 377.9h0M135.7 379.1h0M75.5 373.5h0M74.1 375.0h0M53.9 380.0h0M50.0 378.3h0M47.6 381.0h0M53.8 379.1h0M65.2 379.3h0M148.8 376.8h0M132.9 381.0h0M74.3 381.7h0M111.9 379.9h0M61.1 381.9h0M49.8 380.6h0M75.5 370.1h0M114.9 380.6h0M71.7 381.2h0M141.9 380.0h0M121.0 376.1h0M138.3 381.9h0M66.9 379.8h0M37.7 372.1h0M67.3 375.2h0M91.0 381.7h0M75.7 380.8h0M32.6 381.3h0M100.2 381.9h0M65.7 379.5h0M94.0 381.3h0M113.8 380.6h0M116.1 376.9h0M45.6 381.0h0M61.8 376.2h0M77.0 379.8h0M133.2 380.8h0M63.2 380.1h0M53.9 381.8h0M30.6 377.4h0M96.6 374.4h0M146.6 380.4h0M109.4 370.4h0M54.0 376.6h0M108.9 367.7h0M133.5 380.8h0M104.8 381.6h0M79.8 379.7h0M34.9 379.8h0M67.6 378.8h0M61.7 381.2h0M76.7 379.0h0M47.9 377.0h0M56.9 381.6h0M69.3 379.5h0M46.0 378.0h0M113.2 378.3h0M113.0 381.9h0M75.3 379.9h0M35.3 379.6h0M34.3 378.8h0M99.1 379.1h0M67.3 380.7h0M30.5 380.0h0M136.4 378.2h0M59.6 376.9h0M50.3 379.1h0M102.7 367.7h0M71.8 378.0h0M142.6 375.2h0M104.1 377.5h0M77.7 379.5h0M61.3 373.8h0M134.9 379.8h0M138.6 381.8h0M44.2 378.7h0M65.3 379.9h0M146.8 381.3h0M51.1 380.8h0M110.6 380.8h0M27.7 378.4h0M75.7 380.7h0M87.8 377.2h0M94.5 377.5h0M96.0 373.8h0M145.8 380.1h0M69.9 372.0h0M65.8 376.2h0M112.4 376.7h0M145.2 374.0h0M47.1 377.5h0M87.5 378.2h0M72.7 380.5h0M119.0 378.5h0M56.5 380.7h0M67.2 381.1h0M90.3 381.4h0M35.3 381.7h0M40.1 376.4h0M41.4 379.2h0M121.8 379.0h0M47.4 372.7h0M133.7 381.8h0M58.6 378.7h0M124.8 379.7h0M114.9 380.7h0M114.9 380.2h0M68.3 375.4h0M130.4 373.9h0M96.8 379.5h0M113.8 377.5h0M129.0 374.5h0M42.9 379.8h0M109.3 380.8h0M50.1 381.9h0M99.0 368.9h0M146.0 381.3h0M111.5 379.5h0M104.6 379.7h0M141.5 361.3h0M33.5 376.2h0M42.0 381.8h0M62.5 375.9h0M148.8 381.4h0M67.9 381.9h0M93.8 379.0h0M73.2 380.3h0M125.3 373.6h0M62.2 379.7h0M103.0 375.3h0M147.3 379.7h0M112.3 378.4h0M125.2 381.3h0M49.0 381.5h0M141.5 380.7h0M87.2 381.4h0M67.1 381.9h0M96.6 381.3h0M103.9 380.5h0M55.4 379.0h0M72.2 380.6h0M33.9 381.7h0M136.5 380.3h0M37.2 381.1h0M86.6 354.9h0M52.3 372.7h0M86.7 379.5h0M126.1 379.7h0M34.6 378.3h0M107.7 377.5h0M61.4 369.1h0M133.1 358.1h0M81.7 373.7h0M116.0 381.1h0M30.9 381.2h0M42.1 381.7h0M71.4 375.5h0M65.4 378.7h0M28.9 380.9h0M144.6 382.0h0M91.9 374.3h0M124.3 375.9h0M76.3 374.5h0M128.6 375.3h0M147.9 381.5h0M143.5 379.6h0M113.6 380.7h0M138.6 381.9h0M98.0 380.8h0M75.0 379.9h0M107.7 374.3h0M72.1 377.3h0M70.8 380.5h0M138.0 380.2h0M39.1 380.1h0M118.1 380.9h0M118.3 378.4h0M110.6 381.1h0M40.5 381.3h0M70.3 379.4h0M28.8 378.8h0M76.8 380.2h0M93.1 368.0h0M52.6 372.2h0M66.7 375.5h0M40.8 361.8h0M80.1 366.8h0M54.4 379.6h0M113.7 381.1h0M61.0 376.8h0M143.2 380.2h0M50.0 380.0h0M148.3 381.3h0M105.0 379.8h0M106.2 380.9h0M102.8 371.9h0M132.1 377.4h0M89.2 378.1h0M41.5 373.6h0M111.8 379.2h0M108.8 379.5h0M74.5 380.8h0M100.9 378.1h0M90.5 381.9h0M104.1 379.3h0M100.0 377.8h0M141.3 381.2h0M84.8 359.2h0M117.6 380.3h0M117.5 361.0h0M76.7 372.7h0M43.1 360.7h0M87.5 380.8h0M130.1 377.2h0M142.0 373.8h0M124.9 378.7h0M148.8 381.7h0M133.8 376.3h0M58.2 374.4h0M83.0 378.5h0M133.2 381.0h0M61.7 377.2h0M36.6 378.3h0M123.6 378.9h0M57.1 374.6h0M131.9 375.2h0M94.6 371.1h0M124.8 381.2h0M72.2 381.5h0M32.1 380.0h0M133.1 373.7h0M41.9 381.1h0M75.0 373.3h0M102.9 371.3h0M36.4 361.6h0M52.8 377.4h0M134.5 376.0h0M51.6 376.9h0M80.2 381.9h0M69.0 380.3h0M104.4 380.5h0M101.2 376.5h0M49.6 381.4h0M112.2 379.1h0M43.4 381.4h0M142.4 377.7h0M71.2 381.0h0M149.0 376.6h0M117.4 379.9h0M65.5 379.6h0M45.4 377.4h0M79.4 374.1h0M77.5 379.2h0M89.4 368.9h0M69.9 376.4h0M56.3 378.0h0M62.4 372.5h0M62.6 373.1h0M110.2 379.2h0M141.5 379.7h0M118.3 377.8h0M82.3 381.7h0M78.7 380.5h0M81.4 367.7h0M63.3 376.5h0M109.6 380.7h0M77.8 381.4h0M136.8 380.7h0M78.9 380.1h0M127.7 373.2h0M99.7 378.4h0M39.7 371.5h0M38.4 379.9h0M73.3 376.1h0M109.2 380.1h0M137.1 368.2h0M30.4 377.4h0M84.8 379.9h0M84.3 380.3h0M109.4 377.7h0M146.0 364.7h0M148.7 379.7h0M128.7 377.2h0M113.1 354.1h0M35.7 379.1h0M76.6 377.1h0M54.2 360.8h0M53.2 379.9h0M45.0 379.7h0M118.1 381.6h0M48.0 377.2h0M103.6 375.8h0M58.5 374.3h0M116.8 375.1h0M42.2 379.1h0M29.5 372.9h0M142.8 371.6h0M30.6 380.0h0M93.0 378.5h0M41.2 374.8h0M64.4 378.7h0M42.8 378.1h0M43.4 381.6h0M90.1 380.4h0M122.5 380.7h0M78.1 381.8h0M54.2 379.2h0M95.7 379.2h0M131.4 381.5h0M131.3 381.2h0M146.0 378.6h0M77.2 377.6h0M133.0 366.7h0M78.0 382.0h0M46.4 374.1h0M117.2 376.2h0M46.7 378.5h0M31.1 381.5h0M64.3 366.4h0M106.1 373.3h0M33.2 379.5h0M37.2 380.6h0M41.2 370.4h0M67.7 378.9h0M107.4 371.9h0M143.1 378.1h0M88.7 371.2h0M75.7 380.4h0M117.8 380.6h0M72.5 379.4h0M85.8 380.0h0M80.1 379.2h0M33.6 373.7h0M35.1 378.5h0M94.4 379.7h0M54.8 381.5h0M73.0 380.3h0M86.6 380.8h0M119.0 378.9h0M28.7 379.6h0M145.5 382.0h0M100.0 367.0h0M72.2 377.8h0M72.6 380.4h0M101.9 377.9h0M66.0 378.8h0M90.6 375.5h0M34.1 381.6h0M58.3 380.6h0M124.7 379.4h0M132.5 379.6h0M62.5 376.7h0M38.0 362.9h0M129.0 380.2h0M66.3 374.1h0M123.8 377.3h0M34.5 375.3h0M33.4 377.5h0M95.0 369.9h0M105.5 381.9h0M141.6 375.6h0M98.3 382.0h0M117.5 379.5h0M110.5 363.0h0M139.4 381.7h0M122.9 379.3h0M119.3 379.8h0M82.2 379.4h0M42.0 380.2h0M117.2 381.7h0M41.7 373.7h0M108.9 378.3h0M41.4 381.4h0M65.4 367.8h0M95.9 370.2h0M53.4 379.5h0M93.0 373.6h0M42.6 372.5h0M85.2 381.9h0M80.3 379.8h0M109.9 369.8h0M87.8 376.6h0M74.9 375.0h0M40.4 375.7h0M47.9 377.9h0M52.3 380.0h0M47.6 380.0h0M99.8 378.6h0M75.0 378.1h0M130.4 380.0h0M98.8 379.0h0M147.2 380.2h0M112.7 380.8h0M59.5 376.0h0M97.7 380.6h0M35.4 374.0h0M73.7 376.2h0M80.4 377.6h0M95.9 364.8h0M138.6 379.2h0M87.0 380.8h0M119.5 381.5h0M65.0 373.3h0M31.9 376.5h0M96.9 378.3h0M68.2 381.3h0M143.6 375.3h0M125.9 381.5h0M123.3 380.9h0M51.9 378.5h0M102.0 381.4h0M120.9 378.0h0M137.3 370.1h0M111.7 379.9h0M143.6 376.2h0M63.1 373.0h0M116.3 380.6h0M58.0 381.9h0M93.1 380.7h0M63.4 380.7h0M43.6 378.9h0M60.9 380.5h0M61.5 378.7h0M134.2 381.2h0M132.5 373.1h0M101.9 378.4h0M117.1 378.5h0M108.1 370.4h0M122.2 380.6h0M34.2 369.3h0M71.8 374.9h0M56.1 379.2h0M72.8 376.0h0M142.7 378.8h0M96.7 380.0h0M55.9 368.2h0M41.1 369.0h0M107.8 381.7h0M137.6 381.5h0M96.6 381.4h0M148.2 380.3h0M134.0 381.7h0M108.9 381.7h0M31.2 378.1h0M147.5 376.7h0M131.9 374.9h0M91.2 381.6h0M91.9 381.1h0M91.9 380.0h0M88.5 381.0h0M113.6 379.5h0M86.9 381.6h0M87.0 378.2h0M146.2 378.2h0M44.1 380.4h0M68.5 376.4h0M142.1 364.8h0M143.5 370.0h0M132.4 369.4h0M30.1 378.9h0M99.7 376.7h0M102.4 377.6h0M141.5 381.6h0M90.9 367.2h0M31.5 381.5h0M133.6 367.5h0M30.5 381.9h0M128.8 376.6h0M91.0 378.0h0M120.0 374.4h0M27.7 381.7h0M124.5 364.9h0M129.3 379.6h0M68.5 380.0h0M29.4 375.2h0M59.6 377.9h0M91.8 380.1h0M109.9 379.2h0M56.2 372.1h0M49.0 381.3h0M58.5 379.0h0M123.2 380.1h0M56.7 377.1h0M59.3 378.6h0M58.7 372.3h0M50.1 380.8h0M64.4 380.2h0M116.2 376.8h0M124.0 378.4h0M37.2 375.3h0M57.4 380.9h0M78.2 360.8h0M72.8 380.0h0M138.7 360.5h0M74.8 381.3h0M123.9 375.0h0M68.9 374.8h0M73.9 380.4h0M100.0 375.8h0M85.7 374.1h0M29.3 378.8h0M74.0 381.7h0M139.2 381.3h0M52.7 372.3h0M144.8 369.6h0M69.3 369.7h0M44.9 376.2h0M143.0 381.0h0M44.2 376.8h0M135.3 376.0h0M143.4 379.2h0M73.0 381.4h0M60.9 369.1h0M36.3 381.1h0M70.0 381.8h0M65.0 381.1h0M42.6 378.6h0M93.5 378.1h0M120.6 378.6h0M143.1 381.6h0M54.8 381.6h0M65.3 375.4h0M140.4 378.8h0M47.2 380.2h0M96.9 380.4h0M124.3 365.4h0M83.7 377.7h0M130.8 379.1h0M50.9 368.7h0M146.9 381.9h0M120.6 379.6h0M33.9 381.2h0M48.7 375.9h0M53.4 381.9h0M54.4 374.6h0M88.5 377.1h0M84.3 381.1h0M29.5 380.3h0M32.7 380.6h0M103.1 379.9h0M85.3 377.5h0M66.3 380.0h0M135.4 378.0h0M78.5 378.4h0M83.8 380.1h0M139.1 380.8h0M141.8 373.2h0M135.2 381.2h0M89.7 362.7h0M62.8 381.1h0M115.9 380.8h0M98.8 381.2h0M143.2 380.5h0M39.4 376.6h0M69.9 378.2h0M88.3 370.2h0M90.3 379.8h0M27.8 378.8h0M60.4 378.1h0M104.7 379.1h0M38.6 378.8h0M86.4 377.3h0M146.0 380.5h0M81.6 381.6h0M125.2 380.8h0M128.7 374.6h0M58.7 371.2h0M89.1 379.4h0M95.3 368.5h0M87.4 379.0h0M63.1 373.5h0M89.0 380.1h0M51.6 380.9h0M129.4 374.5h0M147.0 370.5h0M111.2 374.6h0M114.4 374.3h0M125.4 381.1h0M127.0 380.3h0M57.4 370.4h0M30.4 378.7h0M69.5 374.8h0M102.1 370.8h0M141.4 377.2h0M35.5 376.9h0M40.9 363.4h0M133.9 380.3h0M50.3 376.5h0M120.1 362.6h0M103.6 381.4h0M116.3 381.7h0M133.5 375.2h0M123.4 372.5h0M97.0 368.7h0M105.6 378.9h0M74.5 380.0h0M30.4 381.2h0M124.7 380.8h0M107.3 375.1h0M112.3 378.7h0M66.1 380.5h0M50.5 377.2h0M111.3 368.8h0M67.9 369.9h0M138.8 380.4h0M143.7 377.5h0M145.0 375.1h0M68.3 380.5h0M91.4 378.9h0M31.9 372.8h0M92.9 379.1h0M118.4 380.7h0M51.9 378.0h0M57.0 380.2h0M36.1 381.8h0M70.9 378.6h0M143.4 377.3h0M78.2 379.6h0M56.3 379.0h0M144.6 381.4h0M80.4 376.7h0M120.6 378.3h0M105.8 369.1h0M137.7 380.7h0M93.6 354.6h0M92.0 381.0h0M121.1 381.7h0M45.9 378.3h0M60.9 376.1h0M116.3 380.2h0M121.2 377.2h0M113.7 379.2h0M80.4 381.5h0M85.5 367.7h0M136.0 381.7h0M36.3 380.6h0M112.3 379.4h0M43.2 379.4h0M97.5 375.7h0M76.8 377.2h0M110.7 377.6h0M33.3 376.3h0M43.3 381.7h0M85.4 381.9h0M36.5 379.7h0M84.8 381.5h0M144.0 373.2h0M87.0 377.9h0M66.1 363.0h0M42.2 380.3h0M54.6 372.7h0M89.7 379.6h0M76.3 371.9h0M59.0 374.8h0M114.0 379.3h0M72.2 379.4h0M82.9 380.3h0M103.7 379.6h0M64.7 375.2h0M83.1 379.0h0M134.9 379.2h0M73.5 371.5h0M146.7 374.9h0M76.6 376.9h0M118.0 380.4h0M115.9 368.2h0M107.6 376.9h0M80.7 377.1h0M55.2 375.2h0M93.4 363.9h0M69.3 376.3h0M29.6 379.5h0M121.1 380.6h0M102.5 380.9h0M76.2 358.6h0M51.6 370.7h0M34.9 378.0h0M127.8 373.6h0M75.3 377.9h0M114.5 375.4h0M118.7 378.0h0M58.3 376.4h0M96.1 378.4h0M148.0 381.3h0M122.8 380.2h0M116.2 368.1h0M61.1 378.1h0M92.1 378.9h0M48.0 377.5h0M136.6 377.0h0M62.9 374.4h0M78.8 381.3h0M101.5 379.2h0M92.2 360.2h0M97.1 367.8h0M70.6 375.4h0M36.8 380.4h0M112.0 376.6h0M128.7 379.8h0M61.0 380.0h0M93.2 381.9h0M73.3 377.1h0M45.7 380.3h0M134.1 369.5h0M58.1 381.1h0M42.0 381.6h0M124.5 375.8h0M59.9 378.9h0M112.4 381.9h0M127.5 372.9h0M53.4 376.4h0M112.9 380.1h0M134.8 380.9h0M85.4 380.3h0M81.5 374.3h0M97.1 377.7h0M148.0 380.8h0M54.8 377.5h0M45.9 366.6h0M69.2 379.3h0M80.2 373.9h0M139.3 376.8h0M48.5 380.0h0M113.8 380.9h0M135.3 372.5h0M55.2 379.9h0M55.5 376.2h0M33.3 376.5h0M35.2 373.5h0M93.9 378.0h0M39.2 381.8h0M70.7 362.7h0M100.8 372.9h0M35.2 381.5h0M30.2 376.5h0M49.1 380.5h0M109.0 376.5h0M66.9 379.1h0M62.9 378.2h0M71.0 379.9h0M58.0 380.4h0M59.4 381.9h0M65.5 377.9h0M60.4 381.5h0M130.8 379.1h0M90.0 380.3h0M135.8 375.5h0M103.6 377.0h0M112.1 378.8h0M78.0 379.7h0M89.1 379.1h0M92.1 378.5h0M123.8 371.7h0M54.9 381.9h0M64.3 381.9h0M124.8 377.5h0M62.4 381.0h0M133.6 373.7h0M111.0 376.6h0M118.4 379.2h0M76.1 378.3h0M135.0 360.1h0M139.5 373.7h0M36.7 380.7h0M146.1 378.4h0M90.4 380.3h0M132.8 378.6h0M148.4 381.6h0M148.8 381.9h0M45.7 379.7h0M105.6 381.5h0M96.2 369.1h0M80.7 375.4h0M99.8 378.0h0M48.7 379.1h0M137.4 376.8h0M54.0 379.3h0M93.9 380.1h0M98.1 377.4h0M29.8 380.9h0M107.7 380.9h0M36.5 375.4h0M68.3 367.4h0M95.8 381.5h0M105.3 380.6h0M127.0 376.1h0M120.1 381.7h0M31.8 374.6h0M44.7 381.0h0M31.2 381.2h0M85.4 367.4h0M66.8 380.6h0M128.6 381.1h0M105.1 377.6h0M141.7 381.8h0M96.3 379.8h0M128.1 380.7h0M114.8 381.1h0M88.0 366.1h0M56.9 380.5h0M139.5 376.8h0M35.6 381.1h0M56.5 380.4h0M130.6 376.4h0M147.1 376.9h0M104.2 379.8h0M115.1 378.9h0M34.8 378.9h0M74.5 378.5h0M33.5 381.9h0M147.5 379.9h0M67.9 381.3h0M99.9 370.6h0M49.6 378.8h0M88.6 375.3h0M96.5 380.7h0M50.7 376.1h0M37.1 372.8h0M31.7 381.0h0M84.7 373.4h0M103.2 375.7h0M120.4 376.1h0M33.9 374.0h0M45.6 381.2h0M32.2 381.9h0M134.6 379.8h0M38.2 381.8h0M130.9 377.8h0M139.4 381.8h0M41.3 380.4h0M50.9 381.5h0M52.1 377.3h0M48.1 381.2h0M92.9 379.8h0M45.9 378.1h0M89.6 379.7h0M85.5 381.8h0M102.6 381.0h0M68.6 382.0h0M135.9 377.9h0M75.4 378.4h0M142.3 381.4h0M74.4 376.3h0M73.0 376.3h0M138.4 381.8h0M62.3 380.4h0M119.1 374.9h0M112.9 370.1h0M50.3 379.7h0M131.7 375.3h0M41.3 364.0h0M117.9 372.7h0M71.8 377.7h0M144.6 371.5h0M98.0 371.8h0M149.5 373.6h0M107.6 367.1h0M45.1 379.6h0M96.4 381.4h0M122.9 381.7h0M104.3 380.5h0M67.0 377.7h0M51.0 379.3h0M132.2 362.0h0M59.6 379.9h0M112.2 381.0h0M131.2 381.0h0M95.5 380.1h0M27.7 382.0h0M27.8 380.2h0M61.2 360.1h0M105.4 381.7h0M115.0 380.8h0M86.3 376.1h0M132.1 369.4h0M79.0 380.2h0M76.1 380.3h0M118.1 379.1h0M111.2 381.2h0M123.1 366.3h0M52.4 377.6h0M47.4 381.8h0M78.1 381.1h0M116.7 378.1h0M109.9 366.1h0M34.7 381.5h0M32.0 379.2h0M128.2 376.7h0M94.4 373.1h0M73.0 381.5h0M105.9 381.9h0M55.6 381.9h0M47.3 381.7h0M92.4 381.4h0M101.2 374.0h0M69.6 381.4h0M109.5 376.0h0M135.4 378.3h0M98.6 372.8h0M110.2 365.0h0M62.6 375.1h0M104.8 379.1h0M28.9 379.0h0M59.7 377.8h0M89.8 378.7h0M34.8 381.4h0M101.6 376.7h0M148.4 374.7h0M63.0 379.2h0M89.3 374.5h0M75.7 370.3h0M86.6 379.7h0M86.1 380.0h0M149.6 381.8h0M76.4 381.6h0M110.3 381.3h0M45.8 379.5h0M101.1 375.3h0M81.8 380.4h0M72.5 371.9h0M53.6 382.0h0M135.7 379.0h0M43.7 381.3h0M136.2 375.6h0M35.5 376.8h0M53.7 379.3h0M101.4 381.8h0M141.7 380.1h0M45.2 375.0h0M40.9 381.8h0M107.1 379.1h0M137.5 374.8h0M52.8 381.8h0M101.2 379.1h0M64.3 370.5h0M53.0 377.2h0M36.6 370.1h0M143.3 377.6h0M66.7 376.1h0M137.8 374.7h0M32.6 378.8h0M44.7 378.4h0M143.5 372.8h0M58.0 378.3h0M66.3 381.2h0M118.3 375.4h0M68.7 379.5h0M112.6 376.0h0M84.2 381.4h0M39.3 381.2h0M128.4 378.8h0M106.2 379.9h0M72.6 381.1h0M146.5 377.7h0M43.3 376.4h0M100.5 377.6h0M121.5 377.7h0M134.5 365.9h0M77.2 377.2h0M73.3 379.6h0M72.3 377.2h0M70.6 380.0h0M130.9 374.6h0M110.1 373.4h0M74.7 377.3h0M58.3 380.3h0M39.9 374.6h0M140.0 380.3h0M73.8 381.4h0M44.9 377.3h0M136.4 381.6h0M58.7 375.4h0M55.2 372.3h0M70.6 379.0h0M52.2 380.4h0M79.4 380.5h0M116.6 381.9h0M105.5 374.5h0M67.4 381.0h0M42.2 381.6h0M124.2 377.7h0M29.4 379.2h0M100.6 380.2h0M31.9 379.5h0M70.7 365.4h0M71.5 370.2h0M133.5 378.1h0M43.0 374.4h0M38.6 378.2h0M39.5 381.6h0M77.7 381.2h0M148.6 378.0h0M137.1 367.5h0M120.1 377.2h0M85.3 375.1h0M109.3 381.2h0M92.3 379.5h0M90.5 376.2h0M111.7 378.1h0M123.8 374.0h0M38.9 381.3h0M33.4 381.2h0M144.6 380.3h0M81.2 379.1h0M96.5 380.5h0M122.6 380.1h0M130.8 374.5h0M27.7 378.3h0M39.0 372.1h0M36.1 380.6h0M121.4 377.9h0M109.0 379.5h0M91.1 381.0h0M84.0 380.6h0M110.0 381.5h0M44.4 381.0h0M92.6 378.0h0M28.0 361.9h0M129.5 379.8h0M47.0 373.9h0M146.8 381.1h0M119.8 374.1h0M141.9 380.9h0M42.3 381.2h0M55.8 371.4h0M138.6 379.0h0M43.2 380.0h0M57.0 377.2h0M115.4 375.1h0M80.9 379.2h0M84.7 379.9h0M83.1 376.7h0M114.4 380.2h0M96.8 381.3h0M33.1 379.7h0M71.4 381.9h0M37.3 379.4h0M142.6 373.6h0M31.3 380.3h0M72.6 380.3h0M44.3 377.9h0M130.0 379.8h0M49.1 381.5h0M29.4 375.3h0M55.8 376.1h0M124.1 381.6h0M50.7 380.3h0M121.4 375.8h0M64.5 379.2h0M70.9 379.1h0M124.4 380.6h0M126.5 370.3h0M100.9 367.2h0M142.0 381.1h0M148.6 381.0h0M125.8 381.4h0M64.5 379.3h0M130.0 376.7h0M52.5 371.5h0M133.2 378.7h0M33.8 380.5h0M63.3 379.5h0M142.6 377.8h0M127.6 381.7h0M57.6 375.9h0M69.1 380.8h0M35.3 381.8h0M77.9 378.4h0M76.4 378.2h0M63.1 381.9h0M109.9 380.1h0M87.6 379.8h0M60.5 381.8h0M63.8 380.4h0M41.6 381.9h0M86.2 381.9h0M134.8 379.9h0M81.7 378.6h0M30.5 381.5h0M123.4 378.3h0M87.8 380.1h0M119.2 378.8h0M124.3 373.7h0M136.7 376.0h0M109.8 379.1h0M92.7 378.0h0M91.7 374.1h0M132.3 381.8h0M119.3 377.6h0M100.6 371.0h0M33.6 379.0h0M73.4 368.3h0M47.7 378.2h0M45.2 375.5h0M87.3 375.9h0M65.1 372.1h0M28.5 380.8h0M117.1 372.3h0M122.4 380.5h0M37.5 376.3h0M116.8 381.7h0M141.6 378.5h0M31.7 379.0h0M68.9 381.5h0M135.6 369.4h0M42.7 379.3h0M61.0 376.9h0M41.0 380.1h0M77.7 379.1h0M80.7 377.8h0M142.3 369.6h0M138.3 373.9h0M55.5 380.7h0M83.7 377.2h0M101.6 380.0h0M148.6 380.3h0M30.0 381.6h0M53.1 375.9h0M130.2 381.8h0M56.5 380.7h0M123.6 371.5h0M59.7 381.5h0M145.6 365.6h0M115.0 379.1h0M118.7 375.3h0M89.7 380.5h0M91.7 377.0h0M67.2 377.3h0M45.5 365.7h0M53.4 380.8h0M144.8 368.2h0M140.5 373.5h0M131.1 374.1h0M96.7 381.7h0M116.9 373.7h0M129.8 381.8h0M35.1 376.0h0M87.1 371.7h0M148.5 379.3h0M110.0 377.0h0M112.2 379.9h0M105.6 381.7h0M137.4 376.1h0M125.5 379.1h0M52.6 379.2h0M110.6 378.3h0M40.9 382.0h0M76.1 380.7h0M55.3 380.9h0M78.3 376.5h0M139.0 376.8h0M30.1 372.7h0M101.9 375.9h0M102.5 380.0h0M69.0 381.7h0M108.6 381.8h0M110.7 370.8h0M109.1 377.7h0M126.2 367.2h0M126.7 360.7h0M83.7 381.9h0M102.5 377.3h0M132.9 377.6h0M71.9 382.0h0M128.9 377.5h0M147.8 377.9h0M131.6 375.2h0M148.5 379.1h0M137.1 379.7h0M29.0 380.2h0M70.5 359.5h0M75.8 380.5h0M111.9 381.5h0M64.9 379.7h0M42.8 377.8h0M79.2 374.5h0M69.0 364.5h0M51.5 378.5h0M55.2 381.9h0M64.4 371.6h0M63.2 378.9h0M91.5 380.6h0M92.9 381.7h0M70.2 380.5h0M127.1 375.2h0M113.1 377.8h0M133.3 375.8h0M34.3 381.4h0M118.8 373.5h0M148.3 375.1h0M46.9 378.1h0M103.8 377.7h0M44.0 366.0h0M89.9 380.6h0M147.3 379.8h0M36.1 376.9h0M59.3 380.9h0M64.5 377.7h0M66.6 377.0h0M138.0 360.3h0M136.1 370.3h0M58.5 374.0h0M38.6 378.0h0M36.8 381.5h0M143.3 381.4h0M115.1 378.5h0M27.7 374.7h0M35.0 372.0h0M127.5 378.8h0M82.0 381.9h0M113.0 381.8h0M91.8 370.0h0M110.3 381.4h0M115.6 376.4h0M67.8 375.2h0M98.2 379.5h0M91.7 380.5h0M62.6 371.9h0M70.2 375.2h0M72.4 381.0h0M27.8 366.7h0M119.3 363.5h0M99.5 381.7h0M47.5 381.8h0M102.3 377.5h0M144.2 380.4h0M56.1 380.9h0M45.6 381.9h0M87.8 379.5h0M72.5 368.1h0M65.9 373.9h0M92.6 381.5h0M31.2 377.7h0M134.3 381.8h0M113.3 380.8h0M111.4 373.7h0M116.3 380.7h0M46.6 366.2h0M139.3 370.1h0M93.6 381.8h0M72.6 370.9h0M35.8 380.4h0M32.8 372.2h0M70.7 381.6h0M71.0 381.0h0M80.5 377.6h0M107.9 381.5h0M92.8 381.7h0M81.5 374.4h0M59.6 374.0h0M57.4 379.7h0M124.3 382.0h0M95.2 378.5h0M114.8 368.4h0M112.3 380.8h0M51.9 379.0h0M61.9 378.3h0M38.5 376.5h0M78.4 381.8h0M42.3 369.4h0M131.2 372.2h0M75.1 362.8h0M48.3 376.0h0M142.5 380.9h0M28.1 381.4h0M37.8 374.5h0M101.5 379.0h0M41.6 377.3h0M44.3 381.3h0M100.0 377.2h0M125.3 373.9h0M44.3 380.3h0M45.2 378.9h0M31.1 372.7h0M110.8 374.4h0M87.2 370.8h0M129.5 373.8h0M125.9 380.9h0M69.7 381.7h0M120.9 379.0h0M147.9 380.4h0M80.2 372.7h0M145.8 375.5h0M135.3 370.1h0M60.7 377.6h0M35.4 376.8h0M143.8 378.8h0M45.4 378.1h0M35.6 379.1h0M37.4 379.5h0M127.4 375.8h0M131.7 379.2h0M81.4 381.7h0M123.9 378.1h0M77.4 381.3h0M83.5 381.7h0M42.2 381.6h0M79.4 381.3h0M128.5 377.7h0M133.4 378.3h0M47.1 380.5h0M130.0 377.9h0M106.4 377.4h0M33.5 381.0h0M80.2 373.4h0M142.7 377.9h0M59.3 381.8h0M95.8 379.6h0M141.2 380.9h0M52.6 381.9h0M31.1 374.4h0M133.9 381.2h0M29.5 378.0h0M57.7 377.6h0M138.8 375.7h0M61.8 377.7h0M62.9 375.4h0M59.1 372.6h0M110.4 371.7h0M69.8 367.8h0M98.6 380.6h0M106.5 380.3h0M41.4 381.8h0M102.1 380.7h0M39.8 375.1h0M44.9 375.5h0M60.9 379.9h0M141.4 373.9h0M129.4 363.9h0M101.2 369.4h0M103.5 378.0h0M67.1 379.8h0M97.1 380.7h0M105.9 372.8h0M115.5 380.8h0M31.0 379.9h0M80.6 373.4h0M94.3 378.6h0M101.5 378.3h0M110.3 378.2h0M95.0 380.8h0M42.7 379.3h0M135.8 368.5h0M63.4 378.1h0M90.8 379.2h0M49.3 374.8h0M38.0 380.8h0M61.6 381.0h0M51.2 381.6h0M91.5 381.1h0M106.0 377.8h0M103.8 379.0h0M102.3 380.4h0M84.2 376.6h0M53.9 375.9h0M99.0 365.0h0M102.8 378.3h0M121.3 380.4h0M73.1 379.4h0M117.2 376.1h0M50.2 367.8h0M147.4 378.8h0M149.1 377.5h0M74.5 381.6h0M29.7 377.9h0M115.3 377.6h0M123.1 379.4h0M118.1 377.7h0M105.0 378.3h0M109.0 378.2h0M38.6 376.8h0M113.4 379.4h0M145.9 379.0h0M47.9 378.7h0M71.3 381.2h0M136.0 381.1h0M114.5 381.1h0M90.7 355.5h0M38.4 373.0h0M28.3 364.5h0M138.4 379.3h0M30.8 349.5h0M37.3 350.0h0M39.8 349.3h0M38.5 356.2h0M36.6 357.8h0M52.6 345.2h0M54.3 345.8h0M68.0 345.0h0M69.8 345.4h0M106.5 350.6h0M124.3 350.0h0M113.6 356.0h0M114.6 357.4h0M42.9 347.2h0" stroke="#FF0000" stroke-width="2.30" stroke-linecap="round" fill="none"/>
<path d="M83.7 391.8h0M82.9 387.7h0M80.2 381.4h0M84.5 390.3h0M91.4 390.5h0M89.3 384.2h0M86.5 381.4h0M86.1 384.6h0M80.9 385.6h0M85.7 391.2h0M84.2 383.9h0M87.8 394.9h0M93.4 361.2h0M100.7 364.7h0M99.8 364.9h0M98.5 372.9h0M95.0 380.6h0M100.7 364.4h0M98.7 374.8h0M99.2 358.5h0M95.0 351.3h0M96.3 356.8h0M98.2 374.0h0M95.4 366.9h0" stroke="#FF5500" stroke-width="2.30" stroke-linecap="round" fill="none"/>
<path d="M90.0 384.3h0M87.2 390.5h0M84.2 382.7h0M104.4 387.9h0M86.9 386.3h0M85.1 376.6h0M80.6 388.4h0M90.2 388.5h0M83.5 380.1h0M77.9 376.2h0M95.9 366.1h0M95.5 369.6h0M97.4 363.4h0M96.1 373.0h0M99.6 364.5h0M99.4 371.2h0M99.6 371.8h0M92.8 378.3h0M96.5 372.9h0M95.8 379.3h0M98.8 369.6h0M98.6 370.1h0M96.4 381.4h0M99.3 373.3h0M107.2 353.6h0M97.2 357.2h0M99.0 378.1h0" stroke="#FF7200" stroke-width="2.30" stroke-linecap="round" fill="none"/>
<path d="M85.8 378.7h0M86.9 380.2h0M91.9 393.1h0M85.0 380.1h0M81.1 391.5h0M90.0 380.2h0M89.8 394.2h0M89.0 379.5h0M83.6 377.9h0M92.5 389.9h0" stroke="#FF1600" stroke-width="2.30" stroke-linecap="round" fill="none"/>
<path d="M90.1 388.6h0M81.7 382.9h0M92.9 385.3h0M77.2 389.6h0M88.6 393.9h0M80.3 381.5h0M93.0 377.1h0M96.8 377.8h0M97.7 356.8h0M100.1 369.7h0M93.6 377.9h0M96.5 362.5h0M98.1 360.8h0M92.1 377.5h0M97.3 367.3h0M96.7 362.9h0M100.1 369.6h0M98.0 371.0h0M98.4 360.8h0" stroke="#FF8500" stroke-width="2.30" stroke-linecap="round" fill="none"/>
<path d="M76.5 394.2h0M86.7 388.6h0M88.2 385.0h0M83.3 384.3h0" stroke="#FFAC00" stroke-width="2.30" stroke-linecap="round" fill="none"/>
<path d="M85.2 382.4h0M100.1 386.6h0M80.5 383.9h0M90.4 375.7h0M90.5 385.9h0M89.7 382.1h0M76.9 381.6h0M88.4 390.6h0" stroke="#FF3500" stroke-width="2.30" stroke-linecap="round" fill="none"/>
<path d="M76.9 368.3h0M76.0 375.1h0M76.4 368.9h0M75.3 369.3h0M78.6 365.6h0M81.9 366.6h0M79.1 358.5h0M79.6 365.6h0M80.3 357.1h0M77.9 367.3h0M77.6 366.4h0M77.0 367.2h0M80.0 362.9h0M80.8 371.9h0M90.9 372.6h0M91.9 366.8h0" stroke="#B9F00D" stroke-width="2.30" stroke-linecap="round" fill="none"/>
<path d="M76.3 355.7h0M78.4 361.7h0M74.8 367.4h0M80.7 375.3h0M77.9 362.7h0M81.6 358.1h0M78.5 363.8h0M79.6 373.5h0M76.9 370.2h0M79.7 356.9h0M83.1 364.4h0M80.4 363.1h0M76.5 363.8h0" stroke="#96FF14" stroke-width="2.30" stroke-linecap="round" fill="none"/>
<path d="M78.2 375.2h0M79.3 363.1h0M79.5 376.8h0M78.3 367.0h0M75.9 370.3h0M76.1 365.3h0M81.2 364.3h0M78.4 350.8h0M75.9 371.1h0M80.8 362.1h0M80.2 366.3h0M80.3 364.5h0M81.6 371.5h0" stroke="#A8F811" stroke-width="2.30" stroke-linecap="round" fill="none"/>
<path d="M79.5 373.5h0M79.9 369.0h0M74.2 365.4h0M79.0 375.3h0M83.2 378.6h0" stroke="#7BFB23" stroke-width="2.30" stroke-linecap="round" fill="none"/>
<path d="M96.3 353.3h0M97.2 374.8h0M98.0 370.6h0" stroke="#FF9800" stroke-width="2.30" stroke-linecap="round" fill="none"/>
<path d="M90.3 370.4h0M90.0 371.7h0" stroke="#EEDA03" stroke-width="2.30" stroke-linecap="round" fill="none"/>
<path d="M92.4 378.6h0M89.9 382.2h0M88.6 375.2h0M91.0 378.7h0M90.3 368.5h0M91.0 356.4h0" stroke="#DCE107" stroke-width="2.30" stroke-linecap="round" fill="none"/>
<path d="M90.1 377.8h0M88.3 369.8h0" stroke="#FFD200" stroke-width="2.30" stroke-linecap="round" fill="none"/>
<path d="M89.7 367.5h0M92.6 371.7h0" stroke="#CAE80A" stroke-width="2.30" stroke-linecap="round" fill="none"/>
<path d="M84.9 325.4h0" stroke="#FF0000" stroke-width="2.30" stroke-linecap="round" fill="none"/>
<path d="M83.8 328.6h0M84.2 332.0h0M85.0 335.0h0M86.0 336.0h0M87.5 337.5h0M89.0 339.0h0M92.2 356.0h0" stroke="#FFD200" stroke-width="2.30" stroke-linecap="round" fill="none"/>
<path d="M93.5 340.0h0M98.6 340.4h0M93.3 343.7h0M96.0 346.5h0M96.0 310.0h0M95.0 314.6h0M96.6 318.0h0M98.8 323.6h0M95.2 352.5h0" stroke="#FF7200" stroke-width="2.30" stroke-linecap="round" fill="none"/>
<path d="M92.5 347.7h0M97.0 355.0h0M99.5 358.0h0" stroke="#FF8500" stroke-width="2.30" stroke-linecap="round" fill="none"/>
<path d="M90.6 349.0h0" stroke="#FFAC00" stroke-width="2.30" stroke-linecap="round" fill="none"/>
<path d="M91.3 319.7h0" stroke="#7BFB23" stroke-width="2.30" stroke-linecap="round" fill="none"/>
<path d="M89.4 325.0h0" stroke="#30CA76" stroke-width="2.30" stroke-linecap="round" fill="none"/>
<path d="M85.0 328.0h0" stroke="#39A59B" stroke-width="2.30" stroke-linecap="round" fill="none"/>
<path d="M83.5 346.5h0" stroke="#96FF14" stroke-width="2.30" stroke-linecap="round" fill="none"/>
<path d="M87.8 352.0h0" stroke="#B9F00D" stroke-width="2.30" stroke-linecap="round" fill="none"/>
<path d="M89.0 275.4h0M88.7 285.0h0M88.5 287.8h0" stroke="#B428FF" stroke-width="2.30" stroke-linecap="round" fill="none"/>
<path d="M85.9 276.8h0M88.3 297.9h0M85.6 295.6h0M85.6 295.2h0M84.6 298.4h0M85.1 294.5h0M87.6 298.2h0M88.9 299.6h0M85.9 295.2h0M89.0 299.5h0" stroke="#378ABE" stroke-width="2.30" stroke-linecap="round" fill="none"/>
<path d="M85.0 302.8h0M87.0 304.0h0M84.0 309.0h0" stroke="#2864FF" stroke-width="2.30" stroke-linecap="round" fill="none"/>
<path d="M86.5 309.5h0M87.0 316.5h0M86.8 318.0h0" stroke="#355CFF" stroke-width="2.30" stroke-linecap="round" fill="none"/>
<path d="M85.5 306.6h0M84.0 312.0h0M86.0 295.9h0M88.2 295.3h0M84.6 296.8h0M87.1 301.7h0M87.0 300.0h0M86.8 298.9h0M86.4 297.7h0M86.1 294.6h0M85.9 292.4h0M88.2 300.1h0M86.9 293.3h0M86.5 297.5h0M87.6 293.8h0M87.2 297.1h0M86.6 296.8h0M85.9 292.3h0M87.9 295.0h0" stroke="#3B94AD" stroke-width="2.30" stroke-linecap="round" fill="none"/>
<path d="M87.0 309.0h0M89.5 290.0h0M89.9 291.1h0M89.1 292.2h0M89.6 293.3h0M89.4 294.4h0M89.7 295.5h0M89.8 296.6h0M90.0 297.7h0M89.6 298.8h0" stroke="#28F050" stroke-width="2.30" stroke-linecap="round" fill="none"/>
<path d="M89.5 309.5h0" stroke="#44F441" stroke-width="2.30" stroke-linecap="round" fill="none"/>
<path d="M88.5 310.8h0" stroke="#9730FF" stroke-width="2.30" stroke-linecap="round" fill="none"/>
<path d="M89.2 268.2L91.2 270.1L89.2 272.0L87.3 270.1Z" fill="#000"/>
</svg>
<line x1="20.70" x2="22.20" y1="410.50" y2="410.50" stroke="#333" stroke-width="0.4"/>
<text x="20.20" y="412.10" font-size="4.80" text-anchor="end" fill="#444">0.0</text>
<line x1="20.70" x2="22.20" y1="372.00" y2="372.00" stroke="#333" stroke-width="0.4"/>
<text x="20.20" y="373.60" font-size="4.80" text-anchor="end" fill="#444">2.5</text>
<line x1="20.70" x2="22.20" y1="333.50" y2="333.50" stroke="#333" stroke-width="0.4"/>
<text x="20.20" y="335.10" font-size="4.80" text-anchor="end" fill="#444">5.0</text>
<line x1="20.70" x2="22.20" y1="295.00" y2="295.00" stroke="#333" stroke-width="0.4"/>
<text x="20.20" y="296.60" font-size="4.80" text-anchor="end" fill="#444">7.5</text>
<line x1="24.50" x2="24.50" y1="417.00" y2="418.20" stroke="#999" stroke-width="0.4"/>
<text x="24.50" y="422.50" font-size="4.80" text-anchor="middle" fill="#444">93500000</text>
<line x1="55.00" x2="55.00" y1="417.00" y2="418.20" stroke="#999" stroke-width="0.4"/>
<text x="55.00" y="422.50" font-size="4.80" text-anchor="middle" fill="#444">94000000</text>
<line x1="85.50" x2="85.50" y1="417.00" y2="418.20" stroke="#999" stroke-width="0.4"/>
<text x="85.50" y="422.50" font-size="4.80" text-anchor="middle" fill="#444">94500000</text>
<line x1="116.00" x2="116.00" y1="417.00" y2="418.20" stroke="#999" stroke-width="0.4"/>
<text x="116.00" y="422.50" font-size="4.80" text-anchor="middle" fill="#444">95000000</text>
<line x1="146.50" x2="146.50" y1="417.00" y2="418.20" stroke="#999" stroke-width="0.4"/>
<text x="146.50" y="422.50" font-size="4.80" text-anchor="middle" fill="#444">95500000</text>
<text x="12.00" y="340.20" font-size="5.90" text-anchor="middle" fill="#000" transform="rotate(-90 12 340.2)">−log10(p−value)</text>
<text x="88.60" y="429.30" font-size="5.90" text-anchor="middle" fill="#000">Position on chromosome</text>
<text x="14.10" y="253.00" font-size="9.0" fill="#000"><tspan>Meta-analysis signal led by rs10111287</tspan></text>
<rect x="176.60" y="260.90" width="136.60" height="152.80" fill="#EBEBEB"/>
<svg x="176.60" y="260.90" width="136.60" height="152.80" viewBox="176.60 260.90 136.60 152.80" overflow="hidden">
<line x1="176.60" x2="313.20" y1="424.25" y2="424.25" stroke="#fff" stroke-width="0.3"/>
<line x1="176.60" x2="313.20" y1="390.95" y2="390.95" stroke="#fff" stroke-width="0.3"/>
<line x1="176.60" x2="313.20" y1="357.65" y2="357.65" stroke="#fff" stroke-width="0.3"/>
<line x1="176.60" x2="313.20" y1="324.35" y2="324.35" stroke="#fff" stroke-width="0.3"/>
<line x1="176.60" x2="313.20" y1="291.05" y2="291.05" stroke="#fff" stroke-width="0.3"/>
<line x1="176.60" x2="313.20" y1="257.75" y2="257.75" stroke="#fff" stroke-width="0.3"/>
<line x1="176.60" x2="313.20" y1="224.45" y2="224.45" stroke="#fff" stroke-width="0.3"/>
<line x1="176.60" x2="313.20" y1="407.60" y2="407.60" stroke="#fff" stroke-width="0.6"/>
<line x1="176.60" x2="313.20" y1="374.30" y2="374.30" stroke="#fff" stroke-width="0.6"/>
<line x1="176.60" x2="313.20" y1="341.00" y2="341.00" stroke="#fff" stroke-width="0.6"/>
<line x1="176.60" x2="313.20" y1="307.70" y2="307.70" stroke="#fff" stroke-width="0.6"/>
<line x1="176.60" x2="313.20" y1="274.40" y2="274.40" stroke="#fff" stroke-width="0.6"/>
<line x1="162.80" x2="162.80" y1="260.90" y2="413.70" stroke="#fff" stroke-width="0.3"/>
<line x1="194.20" x2="194.20" y1="260.90" y2="413.70" stroke="#fff" stroke-width="0.3"/>
<line x1="225.60" x2="225.60" y1="260.90" y2="413.70" stroke="#fff" stroke-width="0.3"/>
<line x1="257.00" x2="257.00" y1="260.90" y2="413.70" stroke="#fff" stroke-width="0.3"/>
<line x1="288.40" x2="288.40" y1="260.90" y2="413.70" stroke="#fff" stroke-width="0.3"/>
<line x1="319.80" x2="319.80" y1="260.90" y2="413.70" stroke="#fff" stroke-width="0.3"/>
<line x1="351.20" x2="351.20" y1="260.90" y2="413.70" stroke="#fff" stroke-width="0.3"/>
<line x1="178.50" x2="178.50" y1="260.90" y2="413.70" stroke="#fff" stroke-width="0.6"/>
<line x1="209.90" x2="209.90" y1="260.90" y2="413.70" stroke="#fff" stroke-width="0.6"/>
<line x1="241.30" x2="241.30" y1="260.90" y2="413.70" stroke="#fff" stroke-width="0.6"/>
<line x1="272.70" x2="272.70" y1="260.90" y2="413.70" stroke="#fff" stroke-width="0.6"/>
<line x1="304.10" x2="304.10" y1="260.90" y2="413.70" stroke="#fff" stroke-width="0.6"/>
<g id="dots_C2"></g>
<path d="M302.3 406.5h0M307.3 406.2h0M297.9 399.0h0M292.6 401.4h0M214.4 385.6h0M223.2 404.5h0M261.6 404.7h0M268.9 403.6h0M187.3 399.4h0M204.7 405.3h0M240.3 405.6h0M187.3 402.9h0M305.7 394.5h0M290.4 395.7h0M229.7 400.5h0M205.6 405.3h0M264.3 406.1h0M188.4 404.3h0M194.4 407.1h0M222.3 405.3h0M189.2 389.4h0M185.0 404.9h0M237.9 404.8h0M209.3 406.6h0M221.0 406.6h0M306.8 395.6h0M217.9 407.5h0M255.5 405.1h0M232.0 401.9h0M198.1 398.3h0M263.4 405.5h0M237.4 396.0h0M300.1 402.6h0M269.5 401.6h0M204.6 393.9h0M281.6 406.3h0M202.8 407.5h0M273.9 404.4h0M240.8 405.8h0M185.2 406.5h0M289.7 395.2h0M225.9 406.8h0M226.2 403.9h0M225.3 405.5h0M226.5 399.0h0M296.2 406.0h0M298.9 405.8h0M243.1 401.5h0M234.5 397.4h0M199.1 402.6h0M222.3 407.3h0M188.9 402.2h0M251.7 402.7h0M286.7 406.9h0M213.1 397.4h0M290.1 404.8h0M227.6 406.7h0M278.2 401.3h0M243.8 389.4h0M272.8 397.6h0M188.4 406.2h0M209.0 402.4h0M198.4 396.9h0M305.6 395.7h0M210.8 401.6h0M251.5 404.5h0M227.0 404.0h0M221.0 405.8h0M297.9 399.9h0M256.9 401.9h0M193.5 407.4h0M229.4 404.0h0M262.0 390.9h0M208.3 403.0h0M259.4 403.7h0M286.5 406.8h0M291.0 394.7h0M230.7 405.3h0M227.6 404.3h0M279.2 405.2h0M284.5 402.3h0M267.2 402.8h0M188.5 406.4h0M266.6 402.9h0M219.3 407.6h0M272.5 406.4h0M192.0 401.9h0M183.2 402.3h0M196.2 396.8h0M219.1 400.2h0M220.4 401.9h0M185.5 405.3h0M271.7 397.3h0M210.3 399.0h0M285.2 403.7h0M262.9 400.1h0M189.6 401.5h0M284.3 404.2h0M237.8 398.7h0M279.3 399.8h0M223.3 405.3h0M249.9 406.6h0M302.0 401.3h0M226.7 406.6h0M229.8 405.2h0M232.2 404.2h0M253.0 404.3h0M261.4 400.6h0M188.8 405.4h0M220.8 407.3h0M185.5 392.2h0M184.1 404.7h0M290.7 403.7h0M187.0 406.1h0M228.8 399.2h0M258.2 399.7h0M302.3 397.9h0M253.5 404.8h0M183.8 404.9h0M236.6 390.0h0M184.2 404.2h0M279.3 399.9h0M294.6 403.9h0M194.4 407.1h0M192.3 399.1h0M259.7 405.2h0M206.3 406.0h0M236.4 386.4h0M284.5 402.0h0M243.6 406.4h0M196.2 406.1h0M227.1 398.5h0M243.5 404.2h0M252.4 397.3h0M226.8 386.3h0M244.7 400.0h0M306.6 403.2h0M287.3 406.7h0M192.7 404.9h0M231.5 401.8h0M201.7 399.8h0M304.1 396.7h0M258.0 402.5h0M254.2 389.7h0M202.8 396.0h0M192.0 392.4h0M237.8 401.0h0M307.1 404.6h0M301.7 392.6h0M294.5 392.0h0M302.0 400.3h0M263.6 398.4h0M263.4 400.9h0M209.4 401.3h0M222.3 402.5h0M207.5 402.7h0M186.5 400.8h0M225.3 406.6h0M283.6 403.0h0M277.2 402.4h0M286.5 400.3h0M188.2 407.1h0M203.6 390.6h0M184.5 402.3h0M243.7 406.1h0M265.9 405.7h0M216.0 399.6h0M275.2 395.7h0M234.7 396.6h0M191.1 399.5h0M289.2 400.5h0M186.5 403.6h0M275.3 403.1h0M186.2 406.4h0M189.7 393.6h0M217.2 406.6h0M231.4 399.4h0M225.7 405.6h0M304.2 405.9h0M282.4 405.9h0M267.4 396.1h0M281.0 399.7h0M278.5 406.7h0M198.2 405.0h0M231.2 407.2h0M304.2 397.0h0M198.6 392.4h0M192.3 405.1h0M267.0 406.3h0M291.3 407.5h0M208.3 395.3h0M254.7 399.3h0M279.7 398.3h0M283.7 393.7h0M266.2 403.0h0M233.7 400.4h0M236.0 405.1h0M240.2 401.4h0M299.3 393.7h0M289.9 399.0h0M279.0 395.8h0M206.8 403.0h0M219.1 407.2h0M195.9 407.4h0M223.9 406.3h0M251.0 406.1h0M186.8 404.5h0M243.3 391.2h0M208.4 404.7h0M247.0 397.1h0M288.5 391.9h0M274.0 406.4h0M203.2 391.4h0M229.9 403.4h0M228.4 395.4h0M262.6 405.3h0M244.9 401.6h0M227.9 407.4h0M290.0 400.0h0M292.7 403.2h0M265.8 403.0h0M197.7 402.7h0M286.4 403.4h0M192.1 400.5h0M228.8 391.2h0M259.9 387.0h0M304.8 405.1h0M265.4 395.4h0M272.0 401.7h0M241.1 402.7h0M196.5 405.8h0M228.5 393.7h0M218.8 401.2h0M272.4 401.4h0M184.5 389.4h0M235.0 406.2h0M203.9 402.1h0M290.1 401.1h0M233.2 407.5h0M188.8 406.9h0M237.6 388.5h0M212.4 404.9h0M241.9 403.6h0M208.2 402.1h0M250.6 403.8h0M303.5 401.9h0M219.9 403.1h0M239.5 399.4h0M254.3 393.5h0M258.8 399.5h0M249.7 404.2h0M255.6 395.9h0M277.2 407.2h0M279.9 399.9h0M253.0 391.9h0M299.9 405.1h0M241.7 403.1h0M212.9 399.1h0M216.1 406.3h0M193.6 390.8h0M268.8 406.3h0M195.3 395.7h0M249.1 397.4h0M212.5 407.1h0M241.6 407.6h0M203.1 399.9h0M182.6 401.0h0M195.6 394.0h0M299.6 403.3h0M198.7 386.9h0M281.9 402.2h0M218.0 396.3h0M194.4 404.3h0M210.3 400.2h0M282.1 406.1h0M247.3 406.5h0M280.0 407.0h0M223.7 405.3h0M254.3 401.3h0M224.2 407.5h0M274.2 400.6h0M282.8 404.2h0M303.6 396.0h0M268.3 398.3h0M242.1 394.2h0M237.0 404.5h0M245.9 384.5h0M300.8 402.4h0M217.9 402.5h0M204.1 405.3h0M230.0 399.6h0M219.6 394.1h0M299.1 397.3h0M289.7 406.7h0M265.1 407.2h0M260.7 400.7h0M269.8 399.9h0M235.8 402.6h0M273.8 396.3h0M247.3 395.1h0M182.6 400.5h0M263.3 405.3h0M203.9 402.7h0M274.4 388.8h0M238.6 402.4h0M187.1 406.1h0M242.3 394.7h0M201.0 406.6h0M196.8 407.3h0M285.6 400.0h0M295.9 387.4h0M298.2 388.1h0M188.5 396.3h0M242.6 405.2h0M206.3 402.9h0M294.9 405.5h0M291.2 396.4h0M272.4 396.6h0M236.1 386.1h0M305.9 398.8h0M283.7 404.5h0M285.4 403.0h0M195.2 399.7h0M249.8 389.5h0M298.2 406.3h0M224.6 407.0h0M294.7 403.8h0M298.0 395.8h0M190.4 407.5h0M207.6 400.6h0M250.5 390.6h0M203.2 405.3h0M256.2 399.1h0M255.3 388.1h0M288.6 405.5h0M299.3 407.0h0M250.8 399.6h0M263.0 403.8h0M262.8 395.6h0M196.0 405.4h0M297.6 407.5h0M230.1 403.3h0M209.0 391.5h0M295.4 400.5h0M285.4 407.0h0M241.0 401.6h0M182.2 386.0h0M185.5 403.8h0M200.9 397.9h0M198.4 395.9h0M252.1 406.8h0M249.0 395.3h0M296.7 393.3h0M289.0 405.7h0M301.0 399.8h0M291.4 407.5h0M212.3 406.0h0M262.3 396.2h0M237.4 397.6h0M224.7 407.4h0M248.6 388.9h0M290.9 398.2h0M208.9 388.7h0M282.8 401.0h0M303.3 405.3h0M192.6 402.6h0M218.2 401.1h0M295.0 407.5h0M271.5 404.7h0M214.5 398.2h0M275.4 403.6h0M271.5 406.8h0M237.6 402.4h0M222.6 397.7h0M253.4 401.7h0M301.7 398.5h0M215.2 398.4h0M286.7 397.5h0M186.5 406.8h0M185.2 404.9h0M283.7 398.1h0M212.2 407.6h0M295.1 407.3h0M191.7 402.5h0M191.0 399.0h0M194.4 392.3h0M194.6 394.4h0M193.3 401.1h0M189.4 384.6h0M185.6 405.6h0M187.6 402.8h0M184.2 398.6h0M190.9 407.2h0M195.2 399.4h0M183.7 399.8h0M191.9 396.4h0M197.2 399.8h0M194.0 406.9h0M188.5 405.8h0M203.1 403.5h0M196.5 395.0h0M192.3 392.8h0M196.0 401.9h0M195.6 392.5h0M185.9 404.6h0M187.5 391.3h0M190.6 406.5h0M197.2 407.6h0M189.5 401.0h0M193.8 390.6h0M190.7 397.7h0M189.6 406.2h0M194.1 406.1h0M188.7 405.1h0M192.1 392.5h0M187.9 406.5h0M205.6 403.2h0M203.0 405.1h0M201.6 393.9h0M213.0 393.3h0M189.7 407.3h0M209.5 392.0h0M199.0 402.1h0M204.0 403.2h0M203.5 399.4h0M204.3 405.8h0M205.5 387.0h0M204.5 396.8h0M209.6 405.0h0M204.2 393.1h0M206.0 406.7h0M212.7 393.4h0M217.8 407.3h0M205.3 390.9h0M205.6 392.1h0M209.3 399.5h0M215.6 402.0h0M203.3 394.9h0M214.4 397.0h0M202.3 387.2h0M207.1 396.3h0M203.4 390.9h0M196.1 407.0h0M213.4 399.2h0M204.8 406.3h0M191.1 406.7h0M201.6 386.5h0M211.4 406.1h0M211.5 403.3h0M217.3 390.6h0M214.5 364.6h0M213.3 374.7h0M216.9 404.5h0M213.6 375.1h0M211.0 396.5h0M219.5 392.1h0M216.6 390.0h0M217.2 379.7h0M216.5 382.9h0M211.7 400.9h0M218.8 406.2h0M219.8 383.2h0M221.2 397.0h0M217.7 372.8h0M220.6 404.4h0M221.4 396.9h0M226.1 407.1h0M217.2 406.5h0M223.9 405.5h0M226.0 392.2h0M223.0 407.3h0M219.8 407.6h0M228.6 398.6h0M219.0 399.3h0M220.3 403.9h0M231.4 397.0h0M224.2 403.7h0M232.6 396.4h0M222.2 404.3h0M226.5 398.3h0M218.7 399.2h0M207.1 379.7h0M218.9 407.5h0M204.0 392.6h0M217.7 405.5h0M218.3 401.9h0M198.3 407.3h0M214.6 384.1h0M207.2 385.8h0M219.4 395.2h0M226.6 401.3h0M225.3 393.0h0M218.7 395.8h0M223.4 401.4h0M220.4 403.3h0M229.6 403.3h0M254.8 396.1h0M262.1 397.3h0M254.5 406.7h0M266.2 384.2h0M268.6 395.2h0M260.5 397.3h0M259.8 403.1h0M249.7 398.1h0M262.4 392.4h0M260.2 400.7h0M254.8 404.1h0M260.3 402.5h0M264.0 407.2h0M263.5 399.5h0M265.3 400.7h0M262.5 372.4h0M264.8 406.0h0M264.5 398.7h0M254.9 390.2h0M245.9 390.5h0M245.6 403.8h0M241.8 407.4h0M247.7 376.7h0M245.7 375.8h0M244.4 404.5h0M250.1 383.2h0M254.8 396.3h0M254.5 398.9h0M258.4 407.4h0M252.1 386.9h0M248.0 394.0h0M256.2 397.1h0M239.8 392.6h0M247.0 386.6h0M256.8 400.6h0M245.5 407.6h0M259.6 396.0h0M255.1 397.3h0M256.2 402.0h0M260.9 384.2h0M253.1 406.2h0M255.9 407.6h0M260.3 405.0h0M263.8 381.3h0M256.1 377.9h0M258.5 384.9h0M251.8 400.6h0M263.8 389.1h0M260.9 397.6h0M257.7 398.8h0M255.0 388.0h0M278.6 397.5h0M276.9 404.3h0M259.9 401.7h0M267.7 394.8h0M281.0 401.3h0M271.6 404.1h0M271.0 406.2h0M270.3 392.4h0M275.7 393.1h0M275.7 406.4h0M262.4 406.9h0M265.2 399.0h0M275.5 390.6h0M269.5 389.3h0M274.9 406.1h0M273.2 400.1h0M271.9 399.8h0M268.5 406.3h0M264.7 404.0h0M264.2 401.7h0M278.4 405.3h0M274.7 400.1h0M278.2 401.3h0M275.8 402.5h0M264.2 403.4h0M270.9 401.2h0M279.4 401.8h0M273.6 405.5h0M277.0 393.5h0M278.4 404.7h0M283.8 386.2h0M282.3 376.9h0M286.7 389.8h0M285.7 376.1h0M282.3 375.1h0M282.3 378.2h0M290.5 390.7h0M279.7 396.7h0M283.6 397.8h0M286.0 391.4h0M280.3 403.6h0M282.9 407.1h0M282.8 397.3h0M277.0 404.1h0M291.6 392.5h0M287.5 406.3h0M281.2 385.7h0M278.4 393.9h0M282.8 391.1h0M289.7 397.4h0M287.5 395.5h0M286.4 403.7h0M281.4 407.1h0M286.2 374.9h0M288.5 382.1h0M285.7 370.7h0M284.0 381.5h0M288.0 393.5h0M286.7 406.5h0M289.1 399.4h0M283.6 404.7h0M284.1 374.7h0M283.8 392.4h0M284.4 383.5h0M283.2 403.6h0M288.1 390.6h0M298.2 398.2h0M286.2 401.8h0M293.8 388.3h0M305.5 400.7h0M299.8 396.3h0M293.6 407.5h0M288.9 407.3h0M295.6 398.2h0M294.2 405.9h0M307.4 405.4h0M295.9 403.3h0M296.5 405.7h0M301.0 398.4h0M289.1 397.7h0M303.2 405.5h0M290.4 398.4h0M289.5 404.6h0M290.2 393.4h0M290.7 400.1h0M294.8 388.6h0M296.1 394.0h0M301.8 399.2h0M302.2 407.2h0M295.6 406.8h0M298.5 391.4h0M299.1 398.5h0M302.3 392.4h0M302.0 386.1h0M306.9 396.2h0M306.0 403.7h0M301.7 396.8h0M302.9 400.3h0M304.6 402.9h0M299.7 396.9h0M301.2 403.4h0M301.0 398.7h0M307.0 404.7h0M301.0 394.8h0M305.3 397.6h0" stroke="#FF0000" stroke-width="2.30" stroke-linecap="round" fill="none"/>
<path d="M263.8 404.6h0M211.1 385.2h0M257.4 388.8h0M205.9 394.3h0M253.1 399.2h0M280.0 386.0h0M199.8 395.4h0M205.2 407.2h0M186.0 389.5h0M246.9 403.9h0M297.0 405.0h0M255.1 405.1h0M250.2 403.6h0M226.6 403.6h0M298.7 386.3h0M232.3 406.9h0M203.5 402.1h0M186.6 402.2h0M263.2 406.0h0M188.5 403.9h0M297.6 403.3h0M244.6 402.4h0M306.4 398.1h0M273.3 400.4h0M280.4 395.6h0M300.3 407.5h0M209.2 405.5h0M241.0 406.0h0M274.2 389.5h0M186.8 404.3h0M186.1 406.0h0M230.0 397.9h0M215.4 407.1h0M201.8 392.2h0M189.1 402.8h0M278.2 407.6h0M249.1 406.5h0M282.7 392.0h0M227.4 394.4h0M287.3 402.6h0M284.6 403.2h0M291.7 397.6h0M247.0 404.0h0M290.5 401.2h0M268.2 396.1h0M245.4 388.1h0M233.7 400.8h0M223.7 385.6h0M295.1 396.3h0M241.8 403.9h0M284.1 405.0h0M292.2 385.3h0M187.1 386.6h0M242.3 396.3h0M190.7 404.7h0M296.8 401.5h0M261.1 407.3h0M283.4 399.8h0M201.4 403.4h0M209.3 403.1h0M261.0 407.5h0M268.5 388.7h0M232.9 390.1h0M285.3 405.5h0M280.2 405.8h0M267.6 401.7h0M212.1 402.0h0M254.9 405.8h0M257.9 405.0h0M197.9 399.6h0M211.3 406.6h0M194.6 404.4h0M204.0 407.0h0M213.9 403.5h0M197.5 407.1h0M249.9 389.6h0M224.1 403.7h0M211.0 396.2h0M187.3 404.7h0M200.4 391.1h0M246.2 391.2h0M297.4 403.4h0M191.2 400.8h0M230.8 405.2h0M262.6 407.3h0M221.6 395.1h0M214.7 397.7h0M261.2 405.0h0M231.0 407.1h0M217.2 391.6h0M183.4 391.6h0M247.9 392.5h0M264.5 405.7h0M242.4 403.7h0M219.0 405.7h0M190.8 405.1h0M272.2 399.5h0M243.1 403.2h0M198.0 401.3h0M268.6 402.6h0M185.1 405.0h0M229.3 406.8h0M244.5 393.2h0M219.1 401.2h0M274.8 389.1h0M275.4 397.6h0M236.1 406.9h0M284.6 402.9h0M279.8 407.0h0M242.7 402.8h0M299.6 396.3h0M256.9 401.3h0M234.6 397.5h0M270.7 401.7h0M184.3 400.0h0M267.9 405.3h0M291.0 404.0h0M193.2 407.0h0M303.8 397.9h0M191.6 402.6h0M221.0 393.7h0M303.3 398.2h0M246.8 402.1h0M205.1 403.4h0M266.5 400.7h0M232.7 402.4h0M248.5 406.9h0M264.2 396.8h0M208.8 407.4h0M276.1 406.8h0M285.5 401.5h0M252.6 394.8h0M201.6 391.6h0M253.2 396.8h0M269.5 398.2h0M265.2 400.4h0M305.8 406.8h0M245.0 405.8h0M271.7 405.1h0M261.3 402.3h0M293.9 403.8h0M196.8 399.2h0M288.6 403.0h0M185.9 401.0h0M268.3 404.8h0M232.7 393.1h0M287.3 394.0h0M218.4 402.5h0M292.9 403.1h0M277.7 407.3h0M281.6 407.3h0M263.0 402.7h0M193.3 405.5h0M225.8 403.0h0M217.5 403.9h0M245.2 397.9h0M248.6 400.6h0M306.4 406.7h0M296.3 391.9h0M244.5 406.0h0M277.0 406.3h0M307.0 405.5h0M260.8 405.6h0M240.7 394.7h0M289.7 406.4h0M190.5 405.7h0M190.6 400.4h0M287.7 406.2h0M280.6 406.4h0M298.8 392.8h0M198.7 392.5h0M188.4 407.5h0M218.6 393.3h0M271.4 407.3h0M207.0 403.7h0M222.8 405.7h0M295.0 406.3h0M305.8 403.5h0M273.9 405.9h0M184.8 404.9h0M199.3 406.1h0M207.2 396.6h0M214.4 399.0h0M302.5 403.5h0M279.4 384.4h0M223.1 400.3h0M299.9 405.6h0M252.6 401.2h0M259.6 406.5h0M249.1 395.2h0M248.1 399.7h0M245.6 402.8h0M277.8 405.1h0M212.9 406.1h0M201.9 396.4h0M244.6 407.0h0M284.1 407.6h0M247.3 398.2h0M299.4 406.8h0M230.6 403.4h0M280.3 392.7h0M256.7 396.6h0M227.7 390.7h0M249.0 403.5h0M196.8 407.4h0M284.1 402.1h0M211.5 404.5h0M272.4 407.5h0M265.6 397.0h0M246.8 405.8h0M185.8 401.9h0M262.6 406.5h0M285.6 400.6h0M268.7 403.0h0M276.9 393.6h0M255.4 404.4h0M293.8 407.5h0M254.7 403.6h0M292.5 405.6h0M201.9 403.5h0M284.9 390.7h0M247.5 398.9h0M244.2 389.1h0M223.0 406.1h0M296.9 404.4h0M244.6 400.5h0M231.2 392.5h0M205.9 405.0h0M220.2 390.4h0M294.3 406.5h0M272.9 402.9h0M264.4 406.1h0M234.6 395.0h0M291.4 403.7h0M298.5 399.5h0M291.4 398.5h0M212.3 403.0h0M267.4 393.6h0M271.1 403.7h0M230.6 406.8h0M227.0 404.4h0M239.7 407.5h0M264.4 389.1h0M301.0 405.4h0M269.4 404.6h0M218.1 407.0h0M255.8 401.2h0M249.3 399.3h0M287.4 407.6h0M242.2 389.8h0M187.7 406.9h0M182.8 407.2h0M259.0 406.9h0M299.0 407.0h0M204.3 406.3h0M190.8 405.3h0M282.6 394.9h0M273.8 401.9h0M285.3 395.7h0M248.7 407.0h0M269.9 386.8h0M294.4 390.6h0M298.2 401.7h0M237.8 402.8h0M272.6 405.5h0M263.6 390.6h0M229.0 400.1h0M236.3 400.1h0M218.6 403.4h0M254.6 401.4h0M235.9 384.5h0M238.9 407.2h0M218.3 404.5h0M208.9 407.3h0M263.6 392.1h0M278.1 393.9h0M294.4 401.3h0M266.2 407.4h0M271.8 390.2h0M263.8 399.6h0M269.1 399.6h0M187.6 407.2h0M289.5 406.7h0M260.2 407.3h0M216.4 406.1h0M284.2 403.3h0M295.9 395.7h0M294.3 406.2h0M252.8 406.8h0M202.9 399.8h0M221.1 406.5h0M206.2 404.8h0M292.5 398.6h0M287.8 395.0h0M276.4 403.8h0M194.4 393.1h0M202.0 401.0h0M201.8 404.9h0M251.5 405.4h0M272.6 403.3h0M290.8 407.5h0M274.3 400.1h0M246.3 393.4h0M224.2 402.9h0M183.5 400.1h0M280.0 401.2h0M200.6 407.6h0M198.3 402.5h0M242.8 407.2h0M252.2 390.4h0M295.5 395.6h0M297.1 406.3h0M300.6 399.7h0M234.3 407.0h0M183.0 406.3h0M237.7 400.6h0M277.8 401.7h0M202.1 402.9h0M191.1 390.8h0M279.7 391.8h0M287.6 397.1h0M240.7 406.0h0M233.0 395.1h0M302.7 403.9h0M305.1 403.8h0M275.2 404.3h0M265.5 399.4h0M188.2 395.5h0M276.0 404.3h0M218.0 404.3h0M254.9 401.5h0M193.8 401.8h0M216.8 404.9h0M250.3 401.3h0M189.8 403.6h0M246.3 406.7h0M188.2 400.8h0M303.0 386.7h0M288.6 405.6h0M204.9 405.0h0M263.7 406.1h0M263.4 405.0h0M288.1 405.5h0M262.4 395.4h0M258.6 406.7h0M285.6 396.1h0M296.6 402.3h0M232.3 397.1h0M220.0 397.3h0M231.3 406.0h0M192.0 404.1h0M205.1 405.9h0M186.4 393.0h0M303.1 392.6h0M300.9 405.6h0M283.9 406.4h0M195.4 406.1h0M240.8 407.2h0M182.3 397.9h0M203.9 405.9h0M218.4 397.6h0M300.3 398.7h0M307.4 407.2h0M267.2 406.3h0M274.2 401.5h0M282.2 385.5h0M285.3 406.0h0M293.0 396.8h0M293.4 401.5h0M282.7 403.4h0M211.2 399.3h0M289.4 404.2h0M285.7 405.5h0M198.5 394.8h0M215.1 399.4h0M230.8 404.0h0M280.0 403.6h0M190.0 402.1h0M286.2 398.2h0M195.4 407.6h0M213.1 407.3h0M298.8 402.5h0M252.9 399.4h0M200.6 399.1h0M232.1 390.7h0M249.6 401.0h0M246.1 402.8h0M244.1 399.1h0M275.8 404.3h0M234.3 401.8h0M211.1 406.5h0M239.0 403.4h0M196.9 389.7h0M214.0 397.8h0M182.2 404.6h0M218.2 398.7h0M225.7 399.6h0M295.3 397.8h0M259.2 402.3h0M252.1 405.8h0M193.5 407.0h0M289.1 407.5h0M282.0 398.1h0M194.0 405.1h0M295.7 399.2h0M307.0 407.3h0M244.5 401.4h0M234.0 388.4h0M226.7 400.1h0M190.6 396.4h0M290.0 399.8h0M188.3 404.6h0M210.0 389.9h0M213.4 404.1h0M297.5 392.3h0M303.2 407.3h0M302.7 392.0h0M250.6 407.3h0M217.0 406.0h0M304.8 405.9h0M286.9 399.6h0M293.3 406.9h0M204.0 406.6h0M290.2 390.3h0M197.9 406.8h0M190.3 393.5h0M235.4 394.2h0M211.9 406.9h0M217.6 399.2h0M243.8 407.0h0M299.4 400.1h0M302.2 391.4h0M207.6 398.9h0M196.4 401.1h0M256.9 407.4h0M238.3 393.7h0M248.5 403.9h0M233.8 407.3h0M245.8 407.4h0M265.0 406.7h0M219.6 403.5h0M297.7 391.0h0M277.4 398.4h0M202.8 406.8h0M291.2 407.1h0M234.2 400.5h0M227.0 395.5h0M254.2 398.0h0M295.8 395.9h0M253.3 404.4h0M188.9 405.6h0M245.4 393.3h0M227.4 404.6h0M267.9 404.6h0M289.6 385.9h0M294.0 403.5h0M227.7 403.6h0M194.4 394.9h0M307.4 405.2h0M280.4 403.8h0M275.2 405.2h0M197.3 394.3h0M281.7 397.5h0M231.6 393.1h0M294.1 407.1h0M303.4 402.3h0M235.4 406.0h0M249.9 401.7h0M184.0 407.0h0M191.6 397.6h0M225.3 400.3h0M193.1 407.2h0M288.3 400.8h0M248.5 402.7h0M230.2 403.1h0M188.8 404.1h0M235.1 397.5h0M264.0 404.4h0M193.3 396.6h0M221.8 397.1h0M292.9 394.6h0M244.6 402.2h0M292.2 392.0h0M202.4 406.8h0M183.9 404.5h0M246.7 406.9h0M215.1 404.2h0M285.6 403.0h0M299.6 392.5h0M189.0 402.6h0M191.2 403.4h0M289.1 400.1h0M292.9 401.0h0M258.9 403.8h0M238.8 386.8h0M297.2 406.5h0M208.7 402.5h0M185.7 396.2h0M221.0 401.3h0M195.9 405.2h0M306.9 393.6h0M204.3 402.9h0M182.4 405.9h0M207.9 406.1h0M242.9 402.2h0M257.8 391.0h0M298.7 400.6h0M242.4 404.5h0M235.3 403.4h0M223.6 405.7h0M230.0 392.3h0M225.8 404.3h0M268.0 407.5h0M205.4 398.8h0M277.8 403.7h0M236.7 404.4h0M284.1 403.9h0M303.6 404.0h0M264.4 391.4h0M291.6 405.3h0M188.1 405.9h0M230.5 403.0h0M239.6 407.1h0M245.7 406.3h0M264.8 406.9h0M234.9 407.6h0M205.7 403.9h0M248.5 399.0h0M306.5 400.8h0M182.8 398.9h0M256.2 401.4h0M229.6 400.6h0M224.9 404.6h0M235.3 404.8h0M264.8 403.2h0M258.8 404.9h0M198.0 399.6h0M289.8 403.5h0M304.0 405.1h0M193.1 403.8h0M246.6 407.3h0M302.9 398.3h0M297.0 387.9h0M245.5 390.0h0M252.2 397.4h0M288.6 401.3h0M251.9 404.3h0M200.8 400.0h0M256.8 404.2h0M274.0 407.2h0M296.5 407.3h0M277.9 405.0h0M295.7 395.4h0M248.2 407.4h0M223.7 403.5h0M273.3 407.3h0M228.6 404.9h0M230.2 402.5h0M197.4 402.6h0M204.5 403.5h0M203.1 405.7h0M209.0 406.0h0M219.7 390.7h0M186.4 406.3h0M253.2 389.3h0M224.5 403.9h0M275.7 385.3h0M282.7 404.8h0M182.7 392.0h0M271.7 404.7h0M255.2 404.7h0M206.9 395.9h0M270.0 391.7h0M244.4 407.3h0M253.6 393.7h0M254.6 403.4h0M302.1 404.8h0M236.5 405.3h0M258.3 406.4h0M247.6 395.6h0M266.8 407.5h0M213.1 404.8h0M193.5 407.1h0M301.4 406.8h0M237.7 404.7h0M186.7 397.6h0M285.7 399.8h0M202.4 386.5h0M292.8 395.4h0M220.5 404.5h0M218.2 400.8h0M236.7 404.2h0M285.2 405.6h0M186.5 405.1h0M257.2 395.3h0M223.3 388.9h0M295.8 396.7h0M305.2 403.2h0M205.7 406.1h0M275.3 404.1h0M204.8 401.7h0M215.7 406.9h0M246.2 404.8h0M296.2 404.8h0M275.5 406.8h0M300.7 402.0h0M198.3 407.3h0M225.5 407.0h0M205.4 401.5h0M257.0 406.8h0M273.9 399.8h0M282.5 405.8h0M222.4 405.1h0M282.3 401.0h0M247.0 403.4h0M285.0 398.2h0M246.6 405.0h0M187.3 402.1h0M258.0 404.9h0M221.5 402.1h0M190.1 403.5h0M281.1 394.5h0M261.4 403.6h0M238.2 404.2h0M284.5 388.8h0M253.4 404.2h0M188.1 402.2h0M225.1 404.7h0M293.7 398.5h0M244.7 399.9h0M207.7 384.7h0M267.1 404.5h0M265.7 397.2h0M298.2 395.5h0M199.5 388.8h0M282.4 405.2h0M182.8 402.7h0M262.3 402.0h0M281.4 404.5h0M253.6 401.1h0M207.0 404.5h0M301.8 394.2h0M272.7 394.4h0M284.9 405.4h0M188.0 402.9h0M212.5 389.4h0M260.6 406.8h0M222.3 398.3h0M294.2 405.8h0M210.4 402.7h0M280.7 386.3h0M212.1 405.2h0M250.2 397.0h0M272.1 402.0h0M182.4 404.9h0M258.8 405.9h0M296.0 391.1h0M303.9 401.5h0M212.3 395.1h0M187.2 405.7h0M211.1 393.1h0M300.5 405.8h0M273.8 404.0h0M254.3 387.8h0M206.8 406.0h0M211.2 402.1h0M189.5 406.7h0M236.0 394.8h0M246.9 405.3h0M299.1 404.3h0M280.4 402.1h0M248.4 406.5h0M212.8 406.1h0M199.0 404.4h0M301.7 407.3h0M239.2 396.2h0M185.0 404.4h0M196.9 401.1h0M215.5 404.2h0M277.4 391.4h0M265.9 406.2h0M203.6 395.8h0M247.4 398.2h0M194.8 390.1h0M200.3 407.6h0M207.3 401.4h0M233.6 403.2h0M186.6 406.1h0M195.2 407.2h0M244.1 402.8h0M223.9 384.7h0M223.4 407.0h0M276.1 404.1h0M207.0 404.5h0M284.7 389.0h0M271.2 402.7h0M275.2 405.7h0M222.4 403.5h0M276.8 406.0h0M227.1 399.0h0M210.3 401.5h0M267.4 390.3h0M274.9 407.1h0M265.5 405.6h0M273.2 401.4h0M262.7 404.9h0M307.2 403.7h0M275.8 396.1h0M230.6 389.6h0M292.9 397.2h0M250.7 405.5h0M256.7 407.4h0M265.2 386.3h0M199.6 404.9h0M237.5 397.6h0M285.5 406.6h0M306.9 402.4h0M273.7 386.5h0M233.5 406.5h0M306.1 403.4h0M184.1 404.8h0M217.6 403.8h0M197.5 405.8h0M250.1 396.1h0M256.4 402.2h0M224.2 404.0h0M206.6 403.5h0M290.8 404.5h0M213.4 407.0h0M273.1 406.3h0M248.6 403.1h0M281.5 400.8h0M290.0 395.6h0M232.9 406.4h0M216.5 401.5h0M200.3 398.0h0M190.4 405.9h0M219.3 403.7h0M204.6 397.3h0M222.8 400.0h0M212.0 392.9h0M296.2 392.8h0M267.8 406.5h0M293.2 397.6h0M283.3 404.2h0M202.6 391.6h0M256.9 404.7h0M199.9 403.6h0M195.7 403.6h0M271.3 407.4h0M248.5 398.6h0M259.6 394.9h0M191.0 386.9h0M184.1 403.1h0M186.8 392.2h0M182.1 402.0h0M186.0 396.9h0M192.2 396.3h0M190.9 396.7h0M188.3 405.8h0M190.1 383.3h0M192.9 405.3h0M194.9 395.0h0M194.2 405.2h0M193.6 399.2h0M189.5 407.1h0M198.6 398.1h0M188.0 404.1h0M194.1 406.0h0M186.9 406.6h0M192.0 398.1h0M188.7 399.2h0M189.4 395.8h0M196.9 407.6h0M186.9 405.5h0M190.6 390.4h0M185.3 395.3h0M192.8 383.1h0M191.8 393.0h0M194.2 404.0h0M196.0 401.5h0M194.9 405.2h0M190.2 403.0h0M184.2 398.2h0M184.1 404.8h0M187.6 405.9h0M189.9 383.7h0M197.7 406.6h0M192.1 382.2h0M190.6 403.8h0M188.0 401.2h0M190.4 407.1h0M191.4 387.4h0M189.9 404.3h0M187.1 405.1h0M190.0 394.4h0M192.5 398.8h0M192.7 401.6h0M195.4 404.5h0M191.3 407.1h0M186.8 406.8h0M193.6 404.9h0M194.4 403.9h0M196.0 395.0h0M191.1 387.1h0M184.6 397.1h0M192.4 398.9h0M190.4 404.2h0M190.4 403.2h0M191.9 406.7h0M192.7 403.8h0M191.3 405.4h0M194.7 405.1h0M191.8 384.0h0M195.6 406.2h0M187.3 403.5h0M194.1 407.2h0M188.6 390.1h0M187.4 399.8h0M190.5 381.2h0M188.5 404.1h0M188.6 384.5h0M189.4 407.1h0M203.3 384.8h0M210.3 398.6h0M196.2 401.2h0M200.4 398.7h0M206.9 406.9h0M210.8 394.0h0M208.2 388.0h0M197.8 400.3h0M189.2 406.6h0M217.8 399.3h0M204.5 399.7h0M206.5 389.8h0M207.2 405.1h0M221.4 405.7h0M211.4 393.3h0M205.6 387.8h0M205.4 405.6h0M210.2 389.1h0M200.4 406.0h0M201.8 387.7h0M198.2 399.5h0M202.4 399.4h0M192.1 405.2h0M202.3 399.5h0M210.1 390.7h0M212.1 394.6h0M212.3 407.4h0M190.9 399.6h0M212.1 405.9h0M211.9 403.6h0M211.0 403.3h0M208.3 401.8h0M196.9 393.0h0M204.4 395.6h0M206.3 392.2h0M206.9 404.8h0M216.8 399.1h0M218.1 407.3h0M212.4 406.7h0M220.9 406.8h0M207.5 406.7h0M192.7 400.2h0M220.6 402.6h0M194.2 407.0h0M207.7 393.5h0M203.3 403.0h0M207.2 395.8h0M198.8 391.5h0M220.5 406.2h0M224.4 404.9h0M207.2 391.5h0M208.5 400.4h0M216.8 363.7h0M219.5 384.4h0M217.7 383.4h0M218.6 391.3h0M218.8 389.3h0M220.5 407.6h0M219.8 398.8h0M220.4 401.8h0M214.3 393.3h0M213.7 407.5h0M214.6 390.4h0M213.6 378.2h0M218.3 404.3h0M214.1 367.9h0M217.1 364.9h0M210.6 396.2h0M214.6 407.6h0M212.0 402.2h0M215.7 374.3h0M211.9 386.3h0M222.0 407.1h0M215.9 401.1h0M217.5 403.0h0M214.8 402.8h0M215.5 388.9h0M214.5 368.9h0M221.8 400.5h0M216.7 370.6h0M210.7 392.5h0M215.3 395.5h0M214.3 393.8h0M214.9 380.4h0M217.5 390.3h0M211.7 380.7h0M216.5 380.9h0M216.7 393.2h0M215.9 366.3h0M224.2 401.6h0M227.1 403.9h0M230.9 404.7h0M224.1 399.9h0M223.0 407.6h0M228.8 401.6h0M227.4 407.1h0M231.0 390.7h0M234.4 403.7h0M220.8 405.4h0M232.0 390.9h0M227.5 395.2h0M223.6 406.0h0M231.8 390.4h0M229.0 393.6h0M228.9 405.4h0M226.4 403.4h0M221.5 394.1h0M229.9 406.6h0M225.6 405.0h0M228.9 399.1h0M232.4 402.9h0M229.6 385.5h0M225.8 386.2h0M227.6 400.8h0M211.5 407.5h0M207.4 390.5h0M202.4 391.3h0M210.5 400.7h0M205.6 404.7h0M207.8 407.1h0M214.4 388.9h0M205.5 406.7h0M215.2 398.3h0M211.6 407.1h0M206.6 403.2h0M208.2 382.2h0M207.3 403.7h0M199.8 400.3h0M206.2 382.4h0M209.2 377.5h0M204.1 397.8h0M211.8 387.0h0M209.4 398.6h0M203.9 392.7h0M210.0 395.6h0M207.4 393.0h0M213.7 382.6h0M211.4 384.5h0M193.1 399.1h0M198.7 400.3h0M205.3 386.2h0M214.5 399.2h0M218.5 395.6h0M221.1 405.5h0M221.3 392.1h0M225.1 390.0h0M224.3 392.1h0M227.8 404.0h0M226.9 398.9h0M233.3 407.6h0M225.5 391.1h0M228.0 402.0h0M227.0 390.4h0M234.6 407.4h0M228.2 393.7h0M225.2 406.8h0M224.0 404.5h0M229.8 398.8h0M224.3 392.7h0M228.0 394.9h0M266.4 392.8h0M259.1 405.4h0M265.4 398.1h0M271.0 398.7h0M263.6 396.5h0M262.6 394.6h0M259.6 404.4h0M272.7 405.8h0M267.8 404.1h0M263.5 370.5h0M258.9 385.9h0M260.1 395.6h0M265.2 382.1h0M260.9 376.4h0M259.6 406.1h0M265.2 393.4h0M265.8 402.8h0M259.9 403.7h0M264.5 404.6h0M267.7 396.8h0M254.9 401.8h0M266.2 380.8h0M263.2 404.5h0M257.7 407.4h0M248.5 407.5h0M244.4 407.4h0M259.5 407.3h0M238.8 404.9h0M244.4 389.0h0M240.5 401.1h0M251.8 406.2h0M245.7 387.6h0M240.8 402.7h0M250.4 407.2h0M250.0 403.2h0M258.5 400.3h0M246.7 402.1h0M243.1 404.7h0M247.7 384.7h0M244.9 386.5h0M247.0 401.7h0M256.2 406.2h0M244.5 383.5h0M247.3 393.3h0M249.9 401.9h0M253.1 396.7h0M248.5 396.4h0M244.0 392.7h0M243.9 403.2h0M250.8 405.8h0M239.4 395.8h0M247.2 378.3h0M257.0 402.9h0M256.5 397.6h0M261.7 388.7h0M262.5 377.7h0M259.7 403.2h0M267.2 401.5h0M255.4 391.0h0M255.2 383.0h0M265.2 389.6h0M261.0 399.0h0M251.7 407.2h0M253.9 388.7h0M255.7 405.4h0M259.7 406.5h0M257.3 405.6h0M258.8 373.1h0M259.8 374.0h0M251.2 407.5h0M258.6 401.4h0M262.3 385.7h0M255.9 398.0h0M263.3 397.0h0M261.7 373.7h0M260.9 370.5h0M259.4 373.4h0M257.9 382.9h0M256.6 388.2h0M255.8 405.0h0M264.3 396.4h0M263.0 398.3h0M266.8 394.9h0M258.7 405.4h0M256.0 407.4h0M264.7 406.7h0M259.1 394.1h0M267.6 398.4h0M265.5 398.6h0M270.2 400.5h0M274.5 388.7h0M271.9 398.6h0M271.9 406.6h0M268.7 391.5h0M276.5 396.9h0M258.9 403.6h0M270.7 404.7h0M276.2 399.8h0M271.7 391.3h0M273.7 392.5h0M268.7 398.9h0M268.4 407.3h0M278.5 404.7h0M272.5 397.8h0M275.4 397.8h0M273.3 393.4h0M270.4 405.7h0M267.2 395.5h0M275.1 392.0h0M272.7 390.2h0M271.1 401.1h0M268.2 407.6h0M278.6 403.6h0M273.9 389.1h0M267.1 397.0h0M273.2 389.9h0M270.5 402.7h0M266.0 406.4h0M272.3 398.8h0M261.8 405.8h0M274.5 399.1h0M279.1 398.4h0M269.8 405.6h0M264.8 398.5h0M285.5 390.3h0M278.1 406.4h0M282.8 402.8h0M283.6 391.1h0M285.0 375.5h0M286.7 404.1h0M282.1 379.1h0M285.6 389.1h0M293.4 398.4h0M290.3 399.3h0M285.9 382.2h0M287.6 393.2h0M284.9 377.9h0M285.0 397.2h0M284.4 389.7h0M284.7 376.7h0M291.7 392.9h0M280.2 397.1h0M289.9 385.1h0M283.4 403.0h0M276.4 400.5h0M289.2 387.9h0M283.6 405.3h0M292.8 397.7h0M275.7 406.3h0M280.4 403.4h0M288.6 379.3h0M283.9 400.2h0M289.7 394.6h0M286.0 389.2h0M288.9 407.2h0M285.5 384.0h0M282.7 387.1h0M284.8 399.3h0M279.3 390.4h0M281.1 401.8h0M284.2 385.2h0M285.4 384.7h0M283.6 404.9h0M284.5 391.1h0M284.8 406.2h0M288.6 398.4h0M286.6 390.3h0M289.7 407.4h0M279.3 391.4h0M285.6 370.8h0M285.4 389.9h0M285.3 387.1h0M280.5 388.2h0M288.1 403.8h0M287.8 401.0h0M288.5 405.3h0M286.1 392.4h0M279.8 402.3h0M287.6 390.1h0M297.5 393.8h0M287.9 406.2h0M298.9 397.2h0M297.0 384.6h0M293.1 389.0h0M292.9 396.3h0M297.9 390.4h0M297.9 394.8h0M303.8 407.6h0M293.1 392.1h0M283.3 401.3h0M298.6 390.4h0M296.4 386.4h0M304.7 402.6h0M296.5 382.8h0M296.0 389.4h0M299.3 396.5h0M288.1 397.2h0M300.2 397.8h0M300.4 402.9h0M290.2 402.4h0M296.4 405.3h0M303.2 399.6h0M285.0 400.4h0M293.8 399.9h0M295.0 403.8h0M303.8 399.6h0M295.6 397.2h0M295.0 405.2h0M300.7 402.3h0M293.2 394.2h0M299.1 407.2h0M293.2 395.1h0M288.9 407.0h0M289.8 397.4h0M297.3 400.8h0M297.2 395.4h0M291.5 396.1h0M302.9 405.2h0M299.5 403.2h0M288.5 403.3h0M296.2 403.4h0M296.4 385.0h0M299.5 391.0h0M293.1 394.4h0M298.7 407.5h0M293.2 398.4h0M300.3 406.4h0M292.1 395.1h0M296.9 399.4h0M298.0 402.9h0M304.3 407.1h0M295.0 405.7h0M305.0 404.1h0M291.4 404.0h0M297.4 387.1h0M290.9 406.8h0M284.2 406.8h0M292.7 399.7h0M305.2 386.9h0M303.7 403.0h0M306.7 383.2h0M302.4 400.6h0M302.1 395.8h0M303.5 394.4h0M303.7 401.0h0M305.8 403.7h0M304.5 393.7h0M303.3 397.8h0M305.0 390.9h0M303.4 403.4h0M305.7 397.6h0M302.0 396.0h0M300.5 406.5h0M303.0 398.3h0M299.7 401.8h0M304.1 392.8h0M307.0 383.7h0M300.6 398.0h0M303.6 402.9h0M302.8 391.6h0M303.3 393.3h0M304.7 403.6h0M302.0 406.6h0M303.2 386.8h0M303.3 387.9h0M298.4 402.0h0M305.1 398.5h0M307.2 401.3h0M304.9 407.1h0M303.7 398.0h0M305.9 406.8h0M305.5 389.1h0M295.9 404.5h0M305.3 381.6h0M303.5 400.7h0M303.6 391.9h0M304.3 402.1h0M301.4 406.5h0M302.8 399.5h0M305.2 390.0h0M306.9 406.9h0M304.3 396.9h0M304.3 385.0h0" stroke="#FF0B00" stroke-width="2.30" stroke-linecap="round" fill="none"/>
<path d="M299.7 397.2h0M248.3 407.0h0M278.4 407.4h0M282.1 404.3h0M249.5 406.4h0M201.6 405.6h0M267.8 402.2h0M295.4 398.5h0M294.5 403.8h0M270.1 390.6h0M265.8 391.9h0M194.5 397.3h0M289.2 405.0h0M283.2 399.3h0M270.0 401.8h0M221.2 395.2h0M185.9 401.8h0M265.9 394.4h0M182.1 405.3h0M267.4 394.1h0M295.5 404.9h0M210.7 402.0h0M290.7 399.8h0M186.7 403.3h0M275.5 395.1h0M287.8 407.4h0M217.9 407.3h0M211.0 393.9h0M229.4 394.9h0M245.9 402.8h0M265.3 402.0h0M221.7 389.5h0M286.3 405.5h0M267.3 398.9h0M291.2 405.7h0M207.3 398.1h0M228.8 406.9h0M241.9 405.0h0M253.1 385.9h0M201.2 405.2h0M279.4 405.3h0M199.2 406.0h0M302.6 405.8h0M200.0 394.0h0M301.2 406.1h0M276.6 404.0h0M286.6 405.9h0M202.3 399.4h0M228.0 400.2h0M287.8 405.2h0M209.8 407.5h0M259.5 407.0h0M190.8 407.4h0M285.2 406.4h0M187.8 393.8h0M195.8 388.3h0M252.5 402.3h0M212.3 392.1h0M191.9 399.9h0M192.7 404.1h0M260.9 403.0h0M263.5 403.3h0M304.1 397.1h0M251.9 402.7h0M266.5 405.0h0M189.4 389.3h0M192.1 403.3h0M184.7 398.4h0M199.2 407.6h0M183.9 405.8h0M189.4 404.4h0M193.9 402.9h0M212.8 405.4h0M207.3 396.3h0M216.0 402.6h0M205.4 391.9h0M200.9 394.1h0M208.9 407.6h0M206.6 404.7h0M220.2 404.8h0M200.4 402.9h0M198.7 407.1h0M216.6 407.3h0M206.4 397.7h0M200.4 407.0h0M218.9 402.0h0M190.8 403.5h0M206.1 385.4h0M200.1 394.4h0M206.5 391.5h0M193.2 398.7h0M204.0 405.5h0M200.9 399.3h0M184.5 403.5h0M197.6 403.4h0M207.0 405.8h0M205.0 390.3h0M205.8 396.4h0M203.0 400.2h0M205.6 406.1h0M185.0 404.0h0M205.8 392.1h0M209.2 405.8h0M202.5 407.1h0M208.7 405.9h0M205.5 407.4h0M212.6 387.7h0M220.1 386.8h0M215.1 395.6h0M212.3 381.1h0M220.4 394.6h0M217.2 402.1h0M224.9 404.8h0M218.8 403.6h0M214.7 371.7h0M213.9 385.1h0M218.3 406.9h0M210.5 396.7h0M223.1 398.9h0M218.2 403.3h0M216.6 372.4h0M213.9 388.7h0M218.5 387.5h0M230.8 406.5h0M237.4 399.7h0M227.8 406.2h0M232.6 404.5h0M225.0 401.1h0M222.4 391.9h0M232.5 398.3h0M234.2 395.4h0M233.2 401.0h0M225.2 396.5h0M225.6 386.9h0M222.0 404.4h0M219.8 405.9h0M229.6 400.6h0M227.8 388.0h0M228.8 407.6h0M231.7 404.6h0M229.0 406.5h0M231.5 400.4h0M233.1 392.7h0M229.9 389.6h0M234.1 405.4h0M225.9 390.5h0M224.9 400.3h0M220.9 405.8h0M228.5 404.8h0M223.9 390.8h0M228.8 404.9h0M233.5 407.3h0M230.6 392.3h0M213.6 387.2h0M213.1 405.0h0M210.9 402.7h0M208.3 380.7h0M218.2 394.6h0M214.1 407.0h0M206.3 395.9h0M207.6 381.2h0M206.6 406.6h0M204.1 403.4h0M207.4 406.3h0M207.3 377.8h0M208.4 402.1h0M209.3 401.5h0M210.4 384.2h0M208.5 407.5h0M195.5 406.8h0M216.1 396.1h0M209.2 370.4h0M216.3 396.9h0M213.5 385.0h0M209.4 380.7h0M215.8 395.0h0M215.0 393.2h0M225.8 403.3h0M232.8 403.9h0M228.7 404.2h0M231.1 406.7h0M226.1 388.6h0M219.0 401.4h0M223.7 381.0h0M226.4 381.6h0M221.1 403.7h0M217.9 399.9h0M228.4 405.4h0M221.0 400.7h0M220.3 405.4h0M210.1 403.1h0M227.6 397.0h0M225.4 400.2h0M219.6 398.4h0M233.5 393.4h0M226.8 378.6h0M228.5 380.9h0M222.3 400.2h0M230.5 399.5h0M264.4 405.9h0M268.3 392.1h0M264.0 405.1h0M266.2 398.2h0M262.9 407.3h0M262.0 406.7h0M260.9 389.1h0M262.3 377.2h0M261.7 380.8h0M263.1 393.1h0M267.4 388.8h0M260.8 386.5h0M258.9 390.1h0M262.2 403.0h0M257.7 401.2h0M262.3 387.0h0M263.9 406.4h0M272.0 407.2h0M245.6 405.7h0M242.6 399.9h0M239.2 390.8h0M240.3 392.1h0M245.5 395.4h0M249.5 396.1h0M240.3 401.8h0M250.4 398.2h0M248.4 406.5h0M244.2 390.0h0M254.1 405.6h0M238.9 404.7h0M255.7 390.8h0M261.6 407.3h0M248.8 400.4h0M244.6 407.5h0M233.8 399.0h0M254.5 401.6h0M237.7 406.4h0M256.8 399.0h0M250.9 381.6h0M249.8 384.8h0M241.4 405.8h0M247.1 375.7h0M245.3 395.2h0M257.9 395.8h0M243.1 394.2h0M239.3 397.6h0M247.4 406.0h0M258.3 404.5h0M249.7 389.1h0M246.2 398.6h0M247.5 403.3h0M237.0 402.8h0M252.1 400.4h0M256.2 391.3h0M259.9 398.7h0M262.2 381.5h0M260.0 393.0h0M255.1 401.1h0M257.3 380.1h0M259.9 378.4h0M259.6 369.9h0M263.1 390.5h0M256.8 374.8h0M266.5 405.7h0M256.4 405.5h0M259.3 372.3h0M261.1 386.2h0M262.9 389.4h0M262.8 406.4h0M262.4 384.1h0M258.5 401.7h0M268.8 403.1h0M264.0 384.1h0M260.2 399.5h0M256.4 387.2h0M257.9 381.4h0M259.9 407.4h0M256.4 396.3h0M261.1 380.9h0M259.3 396.2h0M259.1 398.9h0M277.4 398.0h0M266.6 406.9h0M267.9 392.9h0M274.9 392.1h0M271.7 406.6h0M268.1 395.7h0M268.1 394.3h0M276.8 394.5h0M278.0 407.0h0M267.7 401.6h0M276.9 407.1h0M269.3 405.9h0M273.5 399.1h0M262.8 403.1h0M284.2 383.1h0M279.8 386.1h0M279.9 386.8h0M280.0 403.4h0M281.6 397.1h0M288.4 388.9h0M292.7 394.6h0M283.0 392.8h0M291.1 394.4h0M297.1 401.3h0M295.5 384.0h0M301.4 400.0h0M306.3 404.8h0M302.8 407.5h0M302.2 399.9h0M304.6 391.3h0M302.0 397.4h0M305.4 394.9h0M300.6 405.8h0" stroke="#FF1600" stroke-width="2.30" stroke-linecap="round" fill="none"/>
<path d="M227.7 399.2h0M220.5 404.4h0M233.5 407.5h0M229.4 395.6h0M223.1 392.1h0M229.6 387.3h0M225.1 404.3h0M231.6 391.1h0M231.1 404.2h0M229.2 404.8h0M217.9 402.9h0M227.7 394.4h0M235.4 406.0h0M228.2 399.1h0M227.3 393.2h0M226.1 394.2h0M223.3 405.3h0M226.5 407.5h0M227.8 385.1h0M229.2 386.4h0M224.4 401.3h0M231.9 394.9h0M227.4 387.7h0M233.5 394.0h0M226.1 376.2h0M229.2 392.8h0M235.3 402.1h0M239.8 403.6h0M222.7 395.0h0M217.7 394.3h0M226.9 404.4h0M217.5 406.5h0M247.8 402.9h0M243.5 389.8h0M247.5 376.2h0M239.7 404.3h0M234.8 403.5h0M246.8 406.3h0M253.8 395.3h0M253.7 404.2h0M244.1 407.5h0M247.5 374.9h0M242.9 405.2h0M242.8 390.8h0M248.4 406.1h0M246.8 404.7h0M242.5 405.4h0M235.3 402.3h0M253.4 398.1h0M244.4 403.8h0M255.3 407.0h0M239.9 401.8h0M247.7 397.7h0M243.7 391.0h0M240.1 392.0h0M254.6 390.0h0M240.1 395.9h0M247.1 405.7h0M248.8 391.1h0M244.8 400.8h0M251.9 398.0h0M245.3 404.7h0M254.9 407.5h0M251.5 385.5h0M244.2 405.7h0M249.7 398.3h0M240.8 400.5h0M237.1 393.7h0M243.3 407.3h0M244.8 403.6h0M242.5 399.2h0M237.1 407.5h0M243.7 399.8h0M249.7 403.2h0M246.8 393.2h0M244.8 380.9h0M254.9 407.2h0M249.1 407.0h0M264.2 392.3h0M261.6 398.6h0M259.7 395.6h0M260.2 368.4h0M262.6 404.3h0M256.3 401.5h0M260.9 381.5h0M262.4 385.4h0M263.6 393.9h0M263.2 382.5h0M259.9 407.2h0M261.4 385.0h0M257.3 402.9h0M260.1 371.6h0M256.7 397.8h0M262.3 386.4h0M255.2 405.3h0M262.9 403.6h0M259.6 379.3h0M252.9 406.4h0M259.9 389.4h0M256.8 404.3h0M262.2 373.5h0M262.8 392.9h0M259.1 392.8h0M260.1 373.4h0M264.9 403.8h0M255.5 403.9h0M260.5 378.2h0M264.2 388.7h0M261.7 393.0h0M262.6 395.3h0" stroke="#FF3500" stroke-width="2.30" stroke-linecap="round" fill="none"/>
<path d="M242.2 387.6h0M245.2 406.8h0M241.5 393.5h0M253.5 398.6h0M242.7 389.3h0M247.2 374.9h0M247.5 406.0h0M247.3 404.5h0M234.8 402.9h0M248.3 403.4h0M240.8 405.7h0M251.5 404.0h0M250.1 402.9h0M247.0 378.4h0" stroke="#FF7200" stroke-width="2.30" stroke-linecap="round" fill="none"/>
<path d="M245.2 388.9h0M250.2 402.5h0M242.9 387.2h0M225.3 405.5h0M245.8 398.4h0M258.5 404.6h0M252.9 396.5h0M253.4 395.7h0M255.9 399.3h0M250.9 391.0h0M254.5 397.0h0M246.6 395.9h0M238.3 406.2h0M252.2 398.6h0M254.0 405.6h0M242.5 407.0h0M230.2 403.9h0M260.8 406.5h0M243.0 404.3h0M246.9 384.8h0M244.1 388.8h0M248.4 404.8h0M243.4 397.7h0M245.7 403.5h0M243.5 399.5h0M246.0 404.3h0M244.8 400.7h0M240.2 393.7h0M253.7 401.6h0M250.2 401.0h0M242.2 406.4h0M254.2 401.5h0M249.0 402.0h0M251.7 399.4h0M244.9 388.3h0M243.1 389.0h0M251.0 392.0h0M255.5 394.8h0M251.0 398.7h0" stroke="#FF5500" stroke-width="2.30" stroke-linecap="round" fill="none"/>
<path d="M183.3 380.0h0M297.5 340.0h0M298.7 350.4h0M261.8 352.3h0" stroke="#FF0B00" stroke-width="2.30" stroke-linecap="round" fill="none"/>
<path d="M236.5 370.4h0M230.3 364.4h0M236.4 362.3h0M234.3 360.9h0M235.6 363.1h0M231.6 365.7h0M236.9 367.7h0M237.9 373.4h0M238.9 370.6h0M238.7 359.3h0M241.1 361.7h0M234.3 369.0h0M238.8 366.0h0M238.3 365.5h0M236.6 363.0h0" stroke="#CAE80A" stroke-width="2.30" stroke-linecap="round" fill="none"/>
<path d="M231.8 366.4h0M234.5 367.5h0M234.2 369.0h0M236.6 362.1h0M235.7 365.7h0M238.3 366.1h0M240.0 369.2h0M242.8 361.5h0M242.8 367.3h0M244.2 365.0h0M240.7 366.0h0M238.6 362.5h0M233.2 363.7h0M241.4 366.4h0M241.4 372.7h0M241.7 365.4h0M230.1 368.0h0M238.8 368.3h0" stroke="#B9F00D" stroke-width="2.30" stroke-linecap="round" fill="none"/>
<path d="M243.7 367.6h0M240.1 368.2h0M238.3 367.3h0M242.8 365.0h0M237.1 366.1h0M244.4 368.2h0M234.2 366.9h0" stroke="#DCE107" stroke-width="2.30" stroke-linecap="round" fill="none"/>
<path d="M251.1 399.8h0M246.5 393.8h0M250.7 379.5h0M249.9 389.1h0M250.1 384.4h0M255.8 386.3h0M244.2 371.2h0M250.0 389.1h0M246.2 380.9h0M251.1 384.9h0M250.6 394.3h0" stroke="#FF8500" stroke-width="2.30" stroke-linecap="round" fill="none"/>
<path d="M244.3 377.0h0M252.8 382.7h0M252.2 391.1h0M249.6 388.2h0M253.3 376.2h0M248.3 393.0h0M254.4 373.0h0M254.4 374.1h0M252.4 383.3h0M249.1 387.4h0M252.7 376.3h0M251.9 382.2h0M259.7 382.4h0" stroke="#FF7200" stroke-width="2.30" stroke-linecap="round" fill="none"/>
<path d="M250.0 386.2h0M242.6 395.8h0M244.8 396.5h0M249.0 381.7h0M253.3 379.1h0M238.0 373.8h0" stroke="#FF5500" stroke-width="2.30" stroke-linecap="round" fill="none"/>
<path d="M239.5 339.7h0M238.1 337.5h0M240.2 328.9h0M236.7 355.7h0M239.9 325.0h0M238.9 333.1h0" stroke="#B9F00D" stroke-width="2.30" stroke-linecap="round" fill="none"/>
<path d="M239.4 323.4h0M238.8 359.4h0M239.3 335.3h0M236.9 341.1h0M232.5 350.1h0M238.7 339.9h0M237.7 360.4h0M236.2 327.7h0M246.3 344.7h0M248.7 348.4h0" stroke="#7BFB23" stroke-width="2.30" stroke-linecap="round" fill="none"/>
<path d="M238.8 337.6h0M240.4 326.3h0M236.8 328.1h0M240.1 325.0h0M238.5 331.7h0" stroke="#96FF14" stroke-width="2.30" stroke-linecap="round" fill="none"/>
<path d="M236.4 350.2h0M239.9 326.0h0M239.2 326.3h0" stroke="#A8F811" stroke-width="2.30" stroke-linecap="round" fill="none"/>
<path d="M245.9 334.2h0M245.7 341.3h0" stroke="#44F441" stroke-width="2.30" stroke-linecap="round" fill="none"/>
<path d="M247.1 343.3h0M249.1 350.5h0M246.6 339.5h0M242.9 335.2h0M247.5 333.6h0M246.7 340.7h0M239.6 323.8h0" stroke="#5FF832" stroke-width="2.30" stroke-linecap="round" fill="none"/>
<path d="M226.3 361.6h0M228.8 361.4h0M237.2 362.5h0M234.7 362.7h0" stroke="#FFAC00" stroke-width="2.30" stroke-linecap="round" fill="none"/>
<path d="M230.8 380.2h0M228.0 352.6h0M229.9 370.2h0M228.3 370.4h0M232.1 375.9h0" stroke="#DCE107" stroke-width="2.30" stroke-linecap="round" fill="none"/>
<path d="M238.3 383.2h0M229.7 351.1h0M224.6 353.3h0" stroke="#FF1600" stroke-width="2.30" stroke-linecap="round" fill="none"/>
<path d="M225.1 356.6h0M239.5 376.5h0" stroke="#FF7200" stroke-width="2.30" stroke-linecap="round" fill="none"/>
<path d="M242.2 297.0h0M243.0 310.5h0M239.5 327.0h0" stroke="#3B94AD" stroke-width="2.30" stroke-linecap="round" fill="none"/>
<path d="M242.7 303.0h0M243.4 303.9h0M242.9 309.2h0" stroke="#2864FF" stroke-width="2.30" stroke-linecap="round" fill="none"/>
<path d="M243.5 313.0h0" stroke="#28F050" stroke-width="2.30" stroke-linecap="round" fill="none"/>
<path d="M241.6 303.5h0M245.6 309.1h0M243.7 305.0h0M243.3 305.4h0" stroke="#2C6EEF" stroke-width="2.30" stroke-linecap="round" fill="none"/>
<path d="M242.8 308.0h0M241.5 300.9h0M238.8 305.8h0" stroke="#3077DE" stroke-width="2.30" stroke-linecap="round" fill="none"/>
<path d="M244.9 266.6L246.8 268.5L244.9 270.4L243.0 268.5Z" fill="#000"/>
</svg>
<line x1="175.10" x2="176.60" y1="407.60" y2="407.60" stroke="#333" stroke-width="0.4"/>
<text x="174.60" y="409.20" font-size="4.80" text-anchor="end" fill="#444">0</text>
<line x1="175.10" x2="176.60" y1="374.30" y2="374.30" stroke="#333" stroke-width="0.4"/>
<text x="174.60" y="375.90" font-size="4.80" text-anchor="end" fill="#444">2</text>
<line x1="175.10" x2="176.60" y1="341.00" y2="341.00" stroke="#333" stroke-width="0.4"/>
<line x1="175.10" x2="176.60" y1="307.70" y2="307.70" stroke="#333" stroke-width="0.4"/>
<text x="174.60" y="309.30" font-size="4.80" text-anchor="end" fill="#444">6</text>
<line x1="175.10" x2="176.60" y1="274.40" y2="274.40" stroke="#333" stroke-width="0.4"/>
<text x="174.60" y="276.00" font-size="4.80" text-anchor="end" fill="#444">8</text>
<line x1="178.50" x2="178.50" y1="413.70" y2="414.90" stroke="#999" stroke-width="0.4"/>
<text x="178.50" y="420.00" font-size="4.80" text-anchor="middle" fill="#444">93500000</text>
<line x1="209.90" x2="209.90" y1="413.70" y2="414.90" stroke="#999" stroke-width="0.4"/>
<text x="209.90" y="420.00" font-size="4.80" text-anchor="middle" fill="#444">94000000</text>
<line x1="241.30" x2="241.30" y1="413.70" y2="414.90" stroke="#999" stroke-width="0.4"/>
<text x="241.30" y="420.00" font-size="4.80" text-anchor="middle" fill="#444">94500000</text>
<line x1="272.70" x2="272.70" y1="413.70" y2="414.90" stroke="#999" stroke-width="0.4"/>
<text x="272.70" y="420.00" font-size="4.80" text-anchor="middle" fill="#444">95000000</text>
<line x1="304.10" x2="304.10" y1="413.70" y2="414.90" stroke="#999" stroke-width="0.4"/>
<text x="304.10" y="420.00" font-size="4.80" text-anchor="middle" fill="#444">95500000</text>
<text x="169.30" y="337.30" font-size="5.90" text-anchor="middle" fill="#000" transform="rotate(-90 169.3 337.3)">−log10(p−value)</text>
<text x="244.90" y="426.50" font-size="5.90" text-anchor="middle" fill="#000">Position on chromosome</text>
<text x="180.30" y="253.00" font-size="9.0" fill="#000"><tspan font-style="italic">VIRMA</tspan><tspan> eQTL in thyroid</tspan></text>
<rect x="335.90" y="259.90" width="137.30" height="153.80" fill="#EBEBEB"/>
<svg x="335.90" y="259.90" width="137.30" height="153.80" viewBox="335.90 259.90 137.30 153.80" overflow="hidden">
<line x1="335.90" x2="473.20" y1="430.15" y2="430.15" stroke="#fff" stroke-width="0.3"/>
<line x1="335.90" x2="473.20" y1="385.05" y2="385.05" stroke="#fff" stroke-width="0.3"/>
<line x1="335.90" x2="473.20" y1="339.95" y2="339.95" stroke="#fff" stroke-width="0.3"/>
<line x1="335.90" x2="473.20" y1="294.85" y2="294.85" stroke="#fff" stroke-width="0.3"/>
<line x1="335.90" x2="473.20" y1="249.75" y2="249.75" stroke="#fff" stroke-width="0.3"/>
<line x1="335.90" x2="473.20" y1="204.65" y2="204.65" stroke="#fff" stroke-width="0.3"/>
<line x1="335.90" x2="473.20" y1="407.60" y2="407.60" stroke="#fff" stroke-width="0.6"/>
<line x1="335.90" x2="473.20" y1="362.50" y2="362.50" stroke="#fff" stroke-width="0.6"/>
<line x1="335.90" x2="473.20" y1="317.40" y2="317.40" stroke="#fff" stroke-width="0.6"/>
<line x1="335.90" x2="473.20" y1="272.30" y2="272.30" stroke="#fff" stroke-width="0.6"/>
<line x1="322.90" x2="322.90" y1="259.90" y2="413.70" stroke="#fff" stroke-width="0.3"/>
<line x1="354.30" x2="354.30" y1="259.90" y2="413.70" stroke="#fff" stroke-width="0.3"/>
<line x1="385.70" x2="385.70" y1="259.90" y2="413.70" stroke="#fff" stroke-width="0.3"/>
<line x1="417.10" x2="417.10" y1="259.90" y2="413.70" stroke="#fff" stroke-width="0.3"/>
<line x1="448.50" x2="448.50" y1="259.90" y2="413.70" stroke="#fff" stroke-width="0.3"/>
<line x1="479.90" x2="479.90" y1="259.90" y2="413.70" stroke="#fff" stroke-width="0.3"/>
<line x1="511.30" x2="511.30" y1="259.90" y2="413.70" stroke="#fff" stroke-width="0.3"/>
<line x1="338.60" x2="338.60" y1="259.90" y2="413.70" stroke="#fff" stroke-width="0.6"/>
<line x1="370.00" x2="370.00" y1="259.90" y2="413.70" stroke="#fff" stroke-width="0.6"/>
<line x1="401.40" x2="401.40" y1="259.90" y2="413.70" stroke="#fff" stroke-width="0.6"/>
<line x1="432.80" x2="432.80" y1="259.90" y2="413.70" stroke="#fff" stroke-width="0.6"/>
<line x1="464.20" x2="464.20" y1="259.90" y2="413.70" stroke="#fff" stroke-width="0.6"/>
<g id="dots_C3"></g>
<path d="M422.1 405.3h0M436.5 406.8h0M372.6 405.6h0M408.1 405.3h0M365.4 406.9h0M357.6 406.6h0M381.9 407.2h0M399.7 403.5h0M409.9 397.9h0M350.8 403.5h0M463.2 403.4h0M392.0 397.3h0M432.9 406.0h0M414.3 392.3h0M444.5 406.7h0M370.7 406.8h0M420.0 405.1h0M398.7 406.2h0M367.6 406.7h0M371.6 407.5h0M384.5 404.8h0M380.6 396.3h0M398.6 404.6h0M433.3 406.0h0M362.1 399.8h0M383.8 397.1h0M351.8 401.4h0M456.3 401.4h0M397.9 404.4h0M438.8 406.5h0M346.2 406.5h0M437.5 407.0h0M371.7 405.8h0M459.6 404.9h0M420.3 396.5h0M423.9 404.9h0M345.9 399.6h0M396.6 403.1h0M374.1 405.8h0M351.9 404.0h0M388.9 405.3h0M383.0 402.0h0M459.0 400.8h0M362.9 401.4h0M362.8 402.8h0M422.5 398.6h0M421.7 406.3h0M433.1 386.4h0M363.9 400.7h0M438.4 402.6h0M389.9 397.4h0M456.6 406.1h0M373.2 397.7h0M404.2 400.3h0M389.6 403.0h0M391.4 405.7h0M453.6 406.0h0M384.2 406.4h0M457.0 402.6h0M404.1 407.1h0M452.0 405.0h0M420.0 406.8h0M388.7 406.1h0M424.2 405.3h0M442.6 389.2h0M428.3 407.1h0M452.2 402.1h0M457.6 393.7h0M452.7 396.2h0M382.2 387.2h0M453.2 403.5h0M433.8 406.4h0M394.3 399.2h0M428.3 392.9h0M463.1 399.9h0M345.1 393.2h0M343.5 407.0h0M375.1 396.1h0M457.5 405.5h0M384.5 406.9h0M439.5 404.6h0M437.2 399.2h0M460.6 387.9h0M389.1 392.4h0M416.8 396.3h0M377.7 405.5h0M391.2 404.2h0M417.0 406.0h0M400.6 392.4h0M372.1 396.5h0M408.2 399.7h0M354.6 393.4h0M347.3 395.3h0M378.3 392.3h0M353.0 386.1h0M380.1 398.3h0M375.5 405.1h0M346.8 406.6h0M408.1 405.3h0M442.0 406.9h0M375.5 388.7h0M410.6 407.6h0M414.3 401.6h0M458.4 401.0h0M447.2 406.4h0M423.8 393.2h0M444.2 388.0h0M442.6 402.8h0M430.2 405.7h0M342.3 405.0h0M375.5 394.9h0M344.4 404.9h0M377.2 399.5h0M449.3 405.0h0M349.4 401.6h0M416.0 404.8h0M438.7 399.5h0M405.0 401.4h0M392.4 390.5h0M374.8 391.2h0M370.3 405.0h0M385.3 404.4h0M370.2 406.7h0M460.3 396.8h0M374.5 406.2h0M465.2 407.4h0M386.3 395.2h0M388.2 405.0h0M376.6 400.7h0M433.9 400.5h0M377.6 395.3h0M345.7 390.6h0M343.8 407.0h0M420.4 404.7h0M358.4 394.5h0M342.5 387.2h0M391.3 398.3h0M443.1 399.5h0M417.2 404.2h0M394.0 397.0h0M404.6 402.1h0M380.7 406.5h0M413.6 387.5h0M359.1 404.2h0M424.1 405.8h0M386.1 405.2h0M378.4 400.2h0M374.8 404.4h0M434.5 407.5h0M343.9 398.9h0M366.5 406.6h0M362.7 401.9h0M386.4 406.1h0M379.7 403.2h0M433.4 405.0h0M457.2 403.8h0M384.1 404.6h0M360.6 407.0h0M389.1 406.8h0M350.2 403.4h0M369.7 406.6h0M441.0 405.2h0M390.1 403.5h0M420.4 402.5h0M393.3 406.2h0M383.9 403.2h0M361.2 406.3h0M376.0 402.8h0M378.1 406.7h0M459.9 405.1h0M370.4 398.1h0M465.1 401.7h0M383.2 402.8h0M398.9 387.9h0M452.2 404.6h0M449.2 403.8h0M428.2 406.5h0M460.7 406.6h0M438.0 406.4h0M451.7 404.5h0M409.1 407.4h0M457.1 399.2h0M401.1 403.3h0M411.7 386.3h0M467.8 392.6h0M357.6 403.7h0M408.0 406.7h0M451.3 402.4h0M342.9 397.9h0M386.4 386.4h0M386.4 406.8h0M421.4 404.8h0M354.3 407.4h0M392.5 403.9h0M424.9 401.4h0M454.5 405.6h0M465.7 405.8h0M412.0 390.7h0M450.1 395.6h0M390.3 405.1h0M412.9 406.7h0M421.4 403.2h0M375.8 403.9h0M409.1 406.2h0M350.3 406.3h0M406.6 399.6h0M402.6 405.6h0M382.3 406.3h0M346.8 406.0h0M356.3 396.6h0M457.7 407.4h0M408.8 401.8h0M350.9 396.5h0M406.7 402.0h0M396.4 407.1h0M441.2 400.8h0M392.9 406.0h0M376.7 404.8h0M343.7 400.9h0M387.2 395.3h0M356.5 395.8h0M418.9 404.3h0M439.6 405.2h0M420.8 405.7h0M382.9 405.1h0M385.4 390.3h0M346.4 396.9h0M457.4 398.7h0M379.2 405.5h0M450.3 399.3h0M352.7 400.9h0M346.2 399.1h0M429.3 404.7h0M446.2 403.1h0M344.3 400.6h0M423.7 404.8h0M416.0 404.5h0M392.0 400.8h0M447.9 404.6h0M463.2 403.8h0M403.8 405.9h0M378.0 405.6h0M444.4 406.3h0M443.3 405.4h0M375.5 406.4h0M392.9 401.5h0M352.8 403.7h0M398.2 406.1h0M425.7 405.4h0M356.4 404.3h0M427.3 403.4h0M443.2 403.7h0M458.2 395.1h0M372.8 406.5h0M384.5 406.2h0M394.7 405.1h0M344.8 402.8h0M389.3 390.2h0M410.9 398.5h0M458.7 393.0h0M457.5 392.8h0M429.1 403.4h0M402.6 397.2h0M429.8 399.3h0M426.5 404.4h0M361.4 405.9h0M418.9 405.0h0M394.1 403.7h0M467.3 407.0h0M374.3 399.6h0M392.6 393.4h0M439.6 406.3h0M401.7 407.5h0M429.4 405.2h0M384.0 396.0h0M452.1 397.9h0M425.1 400.1h0M350.8 389.6h0M353.9 407.0h0M405.8 388.9h0M386.2 405.3h0M456.3 404.4h0M430.5 395.8h0M410.2 406.1h0M421.9 395.7h0M457.3 407.0h0M364.4 406.2h0M452.6 399.4h0M365.6 397.8h0M433.0 404.1h0M372.3 406.0h0M423.3 398.3h0M456.9 404.6h0M423.0 406.6h0M458.6 395.3h0M409.5 402.4h0M349.8 405.0h0M460.0 395.2h0M456.0 403.3h0M395.8 407.5h0M418.7 402.5h0M412.5 389.5h0M430.8 404.9h0M372.1 396.5h0M370.6 396.4h0M461.0 398.4h0M440.0 395.6h0M459.5 404.7h0M350.5 404.6h0M372.2 401.7h0M421.3 403.4h0M393.3 401.1h0M381.1 406.7h0M447.0 399.5h0M461.6 405.8h0M409.4 407.1h0M416.2 397.8h0M465.1 407.1h0M458.4 403.9h0M431.5 403.3h0M443.4 405.7h0M412.9 403.1h0M372.5 405.5h0M407.0 395.8h0M417.0 392.9h0M428.0 390.3h0M372.4 405.0h0M464.9 404.2h0M373.3 389.7h0M345.7 395.1h0M420.4 405.5h0M347.6 407.5h0M437.2 404.1h0M345.6 393.4h0M421.2 404.5h0M362.7 404.8h0M413.6 387.0h0M398.9 388.1h0M453.7 392.8h0M449.7 407.2h0M415.1 407.3h0M407.4 406.8h0M444.3 403.4h0M467.8 394.7h0M443.1 406.5h0M351.2 400.8h0M462.5 407.4h0M384.1 400.7h0M364.0 404.9h0M383.2 395.9h0M396.4 406.0h0M394.4 405.4h0M401.3 405.9h0M454.4 406.4h0M388.3 405.2h0M394.4 405.2h0M445.6 407.6h0M358.8 405.3h0M418.5 403.1h0M382.5 406.0h0M380.9 405.4h0M397.2 396.4h0M440.3 403.8h0M448.6 406.9h0M444.5 403.4h0M359.6 407.4h0M428.6 404.2h0M350.3 406.5h0M453.8 401.6h0M393.8 406.5h0M392.4 400.3h0M346.5 398.4h0M443.0 405.8h0M353.3 395.6h0M383.6 401.9h0M382.7 397.5h0M359.6 397.6h0M419.2 407.6h0M390.1 399.4h0M354.3 407.2h0M356.7 388.9h0M344.6 406.0h0M378.0 405.7h0M453.4 389.5h0M456.8 404.1h0M435.5 407.5h0M352.7 405.5h0M419.1 401.9h0M380.4 398.1h0M422.2 397.1h0M401.4 405.4h0M427.9 407.4h0M456.8 392.4h0M346.8 389.2h0M440.3 396.6h0M384.8 396.7h0M465.0 387.3h0M414.8 404.8h0M363.2 403.4h0M372.2 397.7h0M358.6 407.6h0M455.1 401.8h0M462.6 405.4h0M462.9 407.5h0M414.8 397.6h0M345.9 389.2h0M391.8 407.0h0M365.6 406.0h0M352.4 405.6h0M378.8 393.6h0M467.3 407.5h0M390.8 407.0h0M421.4 396.6h0M367.7 392.9h0M394.7 405.6h0M397.5 388.2h0M428.5 403.7h0M360.9 407.0h0M448.1 393.4h0M407.5 407.0h0M397.7 390.6h0M348.0 406.0h0M366.9 407.0h0M453.9 406.8h0M462.7 400.3h0M367.6 406.7h0M362.2 400.0h0M443.6 402.1h0M368.4 392.2h0M442.7 404.6h0M377.8 402.8h0M349.4 395.0h0M388.0 402.4h0M453.9 405.1h0M394.8 403.3h0M346.6 404.5h0M452.1 404.6h0M355.1 401.3h0M440.5 406.7h0M418.5 403.3h0M376.4 400.9h0M440.5 406.7h0M367.7 393.5h0M370.7 389.4h0M443.3 401.2h0M396.9 398.7h0M437.5 407.6h0M462.0 405.8h0M404.9 406.9h0M384.8 402.2h0M423.1 395.3h0M358.3 391.7h0M383.2 406.8h0M442.3 404.2h0M428.1 404.5h0M419.7 393.9h0M342.8 398.9h0M446.7 398.5h0M346.5 399.8h0M408.9 405.5h0M467.2 401.2h0M442.3 405.9h0M380.9 406.9h0M382.9 403.1h0M375.2 406.2h0M412.2 393.3h0M460.5 405.1h0M428.8 402.7h0M378.1 405.6h0M434.7 400.4h0M406.3 405.2h0M448.0 406.5h0M445.5 397.5h0M448.9 404.8h0M393.9 399.9h0M413.6 406.5h0M387.6 401.0h0M351.7 403.0h0M401.5 390.3h0M383.0 404.0h0M396.7 407.2h0M415.6 404.5h0M414.9 393.2h0M361.3 406.3h0M419.9 403.0h0M361.5 394.8h0M376.7 385.2h0M441.6 402.6h0M417.5 391.9h0M467.8 407.6h0M343.5 399.8h0M448.1 391.4h0M366.4 404.8h0M450.2 407.2h0M419.2 389.4h0M346.9 405.6h0M439.7 399.3h0M360.6 404.1h0M394.8 405.7h0M435.5 405.0h0M405.5 400.5h0M422.3 399.8h0M443.7 400.1h0M435.6 389.2h0M393.9 392.1h0M440.2 391.2h0M390.4 407.6h0M429.2 405.8h0M449.5 406.0h0M456.6 396.2h0M361.3 404.3h0M446.7 391.3h0M459.4 406.7h0M439.0 403.1h0M414.8 403.4h0M356.1 404.0h0M449.6 402.0h0M365.7 404.1h0M396.7 404.5h0M374.5 402.2h0M430.8 399.2h0M410.6 388.5h0M448.3 406.8h0M386.0 395.3h0M418.5 407.0h0M350.1 398.5h0M420.5 406.3h0M357.9 402.5h0M457.9 385.6h0M467.4 403.5h0M453.9 407.5h0M428.8 405.6h0M408.3 399.4h0M396.6 401.8h0M442.5 407.2h0M439.1 397.4h0M459.2 399.7h0M420.0 407.5h0M447.1 400.5h0M379.5 394.3h0M387.7 404.9h0M392.9 395.5h0M411.3 407.6h0M446.1 401.9h0M366.4 401.9h0M419.6 403.0h0M362.2 405.0h0M447.4 400.6h0M455.3 405.3h0M444.1 402.0h0M429.9 392.4h0M349.5 404.7h0M411.7 390.4h0M456.2 401.3h0M381.4 406.8h0M423.3 385.6h0M383.6 406.3h0M462.7 404.2h0M364.7 391.8h0M415.0 407.1h0M416.5 391.5h0M388.9 400.9h0M426.7 407.3h0M365.4 395.8h0M344.8 397.1h0M443.2 403.3h0M463.5 388.8h0M412.5 406.5h0M415.2 405.1h0M344.4 406.8h0M431.0 401.7h0M450.8 401.9h0M401.9 403.6h0M432.7 406.8h0M350.9 403.0h0M459.4 405.9h0M345.4 406.6h0M376.7 404.5h0M453.3 406.4h0M415.0 405.7h0M466.2 405.2h0M443.3 405.9h0M351.1 390.9h0M350.2 406.3h0M350.5 402.3h0M350.4 383.1h0M347.7 407.3h0M356.1 405.4h0M348.6 393.7h0M349.5 395.3h0M351.2 381.0h0M351.2 391.7h0M351.0 393.0h0M350.6 399.8h0M352.7 397.2h0M347.2 407.0h0M353.8 379.7h0M344.3 399.9h0M347.3 391.7h0M345.4 404.0h0M350.7 392.3h0M355.0 400.6h0M351.5 401.3h0M347.0 402.0h0M352.1 379.6h0M345.5 398.0h0M349.3 403.5h0M345.7 393.5h0M345.8 406.9h0M352.8 400.2h0M345.6 404.3h0M352.9 384.3h0M357.1 398.5h0M366.3 401.0h0M361.5 377.9h0M367.3 379.6h0M366.7 388.0h0M362.1 405.9h0M359.8 393.0h0M359.2 405.2h0M367.5 380.7h0M363.6 405.0h0M363.0 387.6h0M368.8 398.4h0M376.9 405.8h0M361.6 387.0h0M372.5 407.0h0M363.6 388.9h0M363.3 381.3h0M361.6 402.9h0M366.9 398.7h0M369.8 388.5h0M361.9 391.2h0M360.5 391.2h0M369.0 400.9h0M368.7 405.9h0M366.2 407.5h0M364.4 382.5h0M362.0 376.3h0M371.5 403.8h0M366.9 400.5h0M375.5 398.7h0M362.6 372.8h0M369.3 385.0h0M375.4 397.0h0M359.5 381.6h0M367.5 387.1h0M364.8 401.2h0M367.1 391.5h0M363.7 386.8h0M361.2 396.1h0M361.2 375.0h0M363.0 404.8h0M369.3 403.1h0M374.5 399.6h0M370.0 395.8h0M365.9 379.9h0M366.2 395.7h0M353.9 396.9h0M365.6 367.5h0M385.7 371.4h0M375.0 386.4h0M375.8 400.9h0M379.1 387.6h0M390.0 394.1h0M381.4 390.5h0M390.5 407.0h0M384.0 385.1h0M377.8 405.7h0M383.1 383.4h0M386.5 393.4h0M386.8 380.6h0M384.3 371.9h0M379.2 397.4h0M381.3 367.1h0M384.0 373.1h0M376.6 393.5h0M381.9 372.0h0M389.7 389.3h0M369.8 395.0h0M385.2 385.9h0M380.7 397.5h0M392.0 406.5h0M376.6 395.5h0M387.3 405.3h0M392.7 403.8h0M390.4 403.0h0M379.8 386.3h0M381.7 380.7h0M388.7 397.6h0M381.4 399.0h0M379.5 389.8h0M416.0 393.9h0M414.0 390.3h0M414.4 396.3h0M409.8 404.7h0M413.0 388.5h0M422.8 404.6h0M420.2 405.8h0M411.3 405.3h0M414.1 400.0h0M411.2 401.3h0M417.3 396.9h0M416.0 384.1h0M411.0 406.8h0M413.1 406.9h0M420.7 404.4h0M413.3 404.6h0M409.6 402.6h0M408.4 398.4h0M425.1 391.1h0M439.8 406.0h0M432.9 393.6h0M432.4 406.0h0M424.6 379.8h0M437.5 390.4h0M435.9 394.9h0M432.5 397.4h0M439.5 407.4h0M427.3 366.2h0M426.0 405.9h0M424.2 397.9h0M421.1 401.5h0M427.1 366.7h0M423.0 377.2h0M419.0 403.0h0M437.7 401.7h0M426.5 395.0h0M430.0 378.6h0M429.7 391.7h0M424.2 401.1h0M427.6 374.7h0M435.7 396.6h0M429.1 390.5h0M428.9 390.9h0M419.1 390.4h0M421.5 395.4h0M433.6 386.2h0M430.1 367.7h0M418.4 393.2h0M421.7 383.3h0M430.1 400.9h0M427.2 402.9h0M432.4 396.6h0M434.6 401.8h0M415.4 401.4h0M424.6 393.9h0M425.1 398.4h0M428.0 405.0h0M425.7 390.8h0M419.9 396.1h0M419.6 390.7h0M431.3 405.4h0M433.1 396.6h0M427.4 370.3h0M441.9 400.5h0M418.5 402.3h0M448.4 405.8h0M453.0 399.6h0M457.8 397.5h0M454.7 390.7h0M448.8 404.4h0M442.7 407.0h0M449.3 382.2h0M446.9 372.2h0M450.1 369.5h0M441.7 391.1h0M445.8 401.2h0M451.4 385.0h0M445.6 363.3h0M441.3 394.0h0M445.4 391.9h0M445.3 390.7h0M452.2 407.4h0M440.3 405.9h0M453.8 384.0h0M451.3 387.8h0M446.8 406.0h0M452.1 392.8h0M451.0 406.1h0M448.0 372.3h0M449.1 389.9h0M446.9 389.9h0M452.0 378.4h0M444.0 370.0h0M439.7 387.6h0M446.2 372.9h0M447.9 371.8h0M448.9 405.1h0M441.5 406.2h0M452.8 384.4h0M446.6 360.6h0M436.4 404.0h0M446.8 380.1h0M454.5 388.6h0M444.0 392.6h0M455.2 407.2h0M449.8 399.6h0M446.9 382.1h0M441.3 393.0h0M446.4 394.4h0M442.0 391.8h0M449.8 379.2h0M444.1 396.0h0M441.9 385.9h0M453.4 382.1h0M458.6 372.6h0M458.2 403.8h0M453.8 396.3h0M462.8 383.5h0M459.3 405.7h0M465.4 405.3h0M462.3 396.7h0M460.4 390.2h0M455.5 402.8h0M459.9 382.8h0M461.4 368.3h0M457.9 387.5h0M457.1 375.5h0M458.5 381.2h0M461.1 398.7h0M460.8 385.9h0M461.5 406.9h0M452.2 389.7h0M465.9 382.6h0M456.4 400.3h0M461.1 381.0h0M457.8 398.9h0M461.8 400.2h0M459.6 405.6h0M456.8 395.1h0M456.0 392.8h0M464.4 387.1h0M452.4 407.0h0M466.1 405.6h0M465.0 390.3h0M463.5 384.2h0M455.9 400.2h0M462.4 383.8h0M457.8 388.4h0M461.0 381.7h0M449.8 404.6h0M459.8 407.3h0M457.7 383.5h0M462.1 374.7h0M455.2 393.9h0M464.5 400.7h0M451.4 394.9h0M386.9 366.4h0M418.5 376.4h0M373.5 362.6h0M463.0 377.6h0M405.1 380.2h0M415.4 365.7h0M415.4 371.9h0M374.5 369.3h0M360.8 345.3h0M439.2 380.5h0M447.7 354.8h0M453.1 377.5h0M466.8 363.8h0M464.1 377.7h0M352.6 380.0h0M389.5 377.0h0M400.6 361.3h0M347.9 380.3h0" stroke="#FF0000" stroke-width="2.30" stroke-linecap="round" fill="none"/>
<path d="M413.9 401.3h0M376.9 400.9h0M456.5 406.3h0M419.8 403.2h0M408.6 403.9h0M404.5 407.3h0M434.7 404.1h0M458.9 402.5h0M356.8 407.2h0M377.8 406.1h0M452.0 398.9h0M367.6 406.2h0M440.3 406.9h0M343.9 402.7h0M381.7 393.7h0M362.6 403.3h0M346.2 407.0h0M433.9 403.7h0M405.9 405.7h0M355.3 406.3h0M420.4 405.5h0M437.8 386.2h0M396.7 397.1h0M451.5 398.8h0M406.4 395.6h0M376.1 402.1h0M367.0 406.3h0M351.0 391.1h0M460.3 404.2h0M344.6 398.0h0M442.7 399.1h0M464.0 398.7h0M344.1 407.6h0M383.9 405.0h0M394.2 406.7h0M410.6 403.7h0M464.3 401.1h0M371.9 397.6h0M441.5 404.5h0M367.1 394.0h0M444.4 405.5h0M426.2 388.6h0M402.1 406.4h0M407.8 392.8h0M413.7 407.0h0M467.1 393.1h0M390.2 402.0h0M467.3 403.3h0M381.1 402.7h0M377.7 403.7h0M450.2 405.3h0M459.0 394.4h0M366.5 403.8h0M373.0 401.8h0M345.9 405.2h0M377.3 396.6h0M356.4 397.8h0M394.6 405.2h0M343.8 402.6h0M426.5 405.7h0M364.6 387.1h0M358.6 406.4h0M416.6 407.2h0M415.5 405.2h0M437.1 404.9h0M412.5 399.0h0M421.4 401.0h0M432.0 399.0h0M420.2 394.4h0M446.4 394.3h0M456.7 400.2h0M378.4 401.2h0M387.2 406.1h0M356.1 402.5h0M368.4 402.6h0M367.3 404.9h0M366.8 405.8h0M424.0 404.3h0M432.1 396.9h0M419.4 407.0h0M408.9 406.4h0M461.1 398.6h0M444.1 398.1h0M466.5 404.6h0M445.1 391.3h0M362.7 401.1h0M445.5 400.8h0M362.5 395.3h0M423.4 388.4h0M392.8 406.3h0M342.9 403.9h0M368.0 398.2h0M403.3 394.1h0M453.9 405.6h0M465.3 406.7h0M466.9 406.5h0M436.4 405.7h0M440.4 406.7h0M440.8 402.0h0M352.0 403.5h0M399.2 403.7h0M459.6 407.6h0M359.3 395.0h0M455.1 392.5h0M363.3 407.2h0M400.6 398.1h0M404.5 404.4h0M351.0 403.7h0M412.8 404.8h0M461.9 395.2h0M356.4 407.2h0M382.7 405.3h0M466.7 406.4h0M416.9 394.9h0M457.4 406.7h0M437.8 401.4h0M441.0 390.0h0M384.3 401.8h0M394.0 400.0h0M364.9 398.2h0M357.2 403.1h0M421.3 397.6h0M381.1 405.3h0M350.1 407.6h0M364.0 398.8h0M462.3 401.2h0M424.3 407.5h0M400.6 403.8h0M463.9 405.5h0M459.3 400.4h0M427.2 396.6h0M433.6 401.7h0M370.3 392.4h0M366.1 403.7h0M360.8 395.5h0M436.6 407.4h0M458.9 399.6h0M463.0 399.9h0M369.3 407.5h0M446.0 405.0h0M451.5 407.4h0M416.3 406.4h0M443.4 402.8h0M446.9 407.2h0M410.2 406.9h0M393.5 393.3h0M421.4 389.7h0M387.4 397.2h0M416.3 403.8h0M419.2 406.9h0M392.8 406.4h0M424.1 403.2h0M379.3 403.0h0M400.4 399.9h0M350.3 404.3h0M373.4 400.7h0M410.7 403.9h0M421.8 406.3h0M426.5 397.0h0M410.1 396.2h0M376.7 396.5h0M361.2 393.2h0M352.5 395.2h0M402.1 393.9h0M383.9 403.6h0M367.1 402.3h0M436.4 407.6h0M421.5 407.2h0M441.1 402.4h0M422.2 404.4h0M405.8 404.9h0M375.5 406.6h0M399.3 402.1h0M359.9 404.9h0M381.0 406.0h0M406.0 406.6h0M356.1 401.4h0M365.0 403.0h0M345.5 402.7h0M397.5 394.5h0M364.7 403.0h0M357.8 395.1h0M455.8 406.3h0M430.0 401.8h0M431.3 398.7h0M368.7 406.1h0M446.6 405.9h0M366.8 404.1h0M378.7 396.0h0M357.5 403.4h0M459.0 400.1h0M388.7 405.8h0M462.0 407.0h0M418.3 385.1h0M461.5 400.0h0M459.9 407.3h0M398.7 397.5h0M399.2 405.1h0M423.4 407.0h0M418.5 394.8h0M345.0 406.6h0M366.8 399.9h0M439.6 401.1h0M351.2 402.0h0M425.8 405.4h0M365.2 405.6h0M447.9 385.3h0M442.2 405.4h0M390.4 404.4h0M383.9 386.4h0M375.8 404.0h0M399.9 389.1h0M358.4 404.5h0M442.1 407.4h0M438.6 401.3h0M345.0 395.3h0M425.4 403.2h0M389.5 397.9h0M467.0 402.3h0M343.9 403.2h0M360.2 404.9h0M421.4 405.1h0M446.0 399.9h0M378.5 404.1h0M435.7 406.3h0M358.5 403.8h0M464.8 405.8h0M371.1 403.3h0M451.5 402.1h0M420.9 406.5h0M424.1 401.0h0M344.3 398.8h0M425.2 407.4h0M399.0 394.6h0M354.0 393.3h0M394.3 404.2h0M401.3 404.5h0M367.6 404.7h0M352.8 401.7h0M416.1 403.8h0M342.7 406.0h0M418.0 406.5h0M440.9 407.0h0M409.5 407.0h0M376.4 399.9h0M467.1 402.7h0M446.5 404.1h0M343.8 402.9h0M387.1 406.8h0M449.6 402.4h0M408.1 390.0h0M405.1 403.4h0M453.0 400.6h0M433.2 406.3h0M441.4 394.2h0M372.3 396.1h0M373.9 393.0h0M355.8 407.1h0M398.9 401.8h0M350.7 404.6h0M387.2 399.0h0M454.2 402.2h0M357.3 398.2h0M467.3 405.8h0M467.2 403.6h0M353.7 394.7h0M419.1 392.6h0M409.0 400.7h0M379.2 405.1h0M372.7 406.2h0M412.0 406.1h0M408.5 406.5h0M360.0 402.2h0M390.7 406.6h0M385.1 401.4h0M446.5 396.9h0M440.1 405.9h0M446.7 407.5h0M375.8 397.0h0M368.4 407.1h0M423.7 397.2h0M452.9 402.3h0M420.5 400.9h0M349.0 404.7h0M388.0 402.4h0M456.8 399.7h0M392.6 400.8h0M438.7 404.0h0M388.9 405.0h0M398.4 404.7h0M424.5 404.7h0M378.1 403.7h0M383.7 403.2h0M458.9 406.8h0M452.1 393.6h0M351.5 406.5h0M414.7 405.7h0M416.8 399.4h0M372.0 405.5h0M463.4 402.8h0M404.3 407.5h0M397.4 396.9h0M444.2 387.4h0M376.7 406.2h0M402.2 406.1h0M368.6 399.6h0M402.9 392.7h0M388.9 391.9h0M436.5 394.0h0M425.9 406.5h0M447.0 406.5h0M381.9 403.0h0M447.2 393.1h0M418.7 386.9h0M421.7 401.7h0M409.5 403.9h0M425.2 395.9h0M395.3 405.9h0M348.5 405.8h0M384.3 402.2h0M354.5 405.0h0M417.3 405.6h0M354.1 397.7h0M427.4 403.9h0M356.9 402.6h0M370.9 402.9h0M405.2 405.5h0M346.2 394.7h0M443.1 397.9h0M399.9 398.5h0M422.7 402.0h0M373.5 406.1h0M419.6 394.5h0M382.2 404.2h0M379.8 403.1h0M374.1 400.6h0M464.2 400.9h0M442.0 406.0h0M371.8 405.1h0M456.4 403.6h0M383.6 395.2h0M359.2 397.1h0M369.9 406.6h0M443.0 405.8h0M365.4 395.5h0M439.0 405.7h0M389.5 407.2h0M380.6 407.6h0M397.0 400.7h0M349.6 407.6h0M431.5 397.0h0M368.1 405.3h0M415.7 394.5h0M403.9 404.2h0M392.3 391.3h0M397.5 400.4h0M343.2 407.3h0M358.5 403.7h0M381.3 403.1h0M399.4 397.2h0M379.9 405.8h0M424.4 404.8h0M353.5 400.4h0M375.3 392.3h0M399.1 395.8h0M433.5 406.4h0M373.7 407.5h0M460.1 406.5h0M423.4 396.1h0M418.8 402.3h0M408.5 407.2h0M417.3 404.2h0M348.2 404.4h0M345.4 390.7h0M377.1 403.2h0M409.3 404.8h0M435.3 398.7h0M354.8 405.0h0M380.3 400.6h0M373.5 393.8h0M443.9 402.3h0M356.8 398.1h0M419.3 401.3h0M450.7 397.0h0M415.1 406.3h0M380.3 403.0h0M446.8 406.6h0M440.9 407.2h0M383.1 406.9h0M374.9 391.7h0M463.9 396.7h0M444.6 403.0h0M373.0 406.3h0M343.7 402.7h0M401.1 407.3h0M347.2 405.1h0M434.2 405.6h0M408.5 400.6h0M467.2 397.0h0M442.4 398.1h0M366.0 404.5h0M463.2 394.4h0M396.9 397.9h0M414.0 406.0h0M349.7 403.3h0M383.3 398.5h0M458.2 404.2h0M464.6 406.7h0M443.6 395.4h0M443.0 400.7h0M373.8 396.6h0M445.4 400.5h0M406.0 403.6h0M430.4 405.9h0M343.8 388.6h0M428.3 404.7h0M409.0 395.6h0M464.8 405.5h0M420.1 407.2h0M435.3 403.3h0M452.8 407.0h0M420.7 402.3h0M353.1 404.6h0M372.8 393.2h0M426.1 402.8h0M370.2 390.6h0M458.6 404.5h0M343.7 405.5h0M457.9 406.5h0M375.5 407.2h0M362.3 402.5h0M379.4 391.6h0M354.0 404.4h0M460.6 402.5h0M419.4 404.2h0M411.9 405.9h0M392.8 406.4h0M376.3 405.4h0M424.8 407.0h0M357.1 403.9h0M345.5 405.6h0M387.4 406.7h0M352.3 402.4h0M403.6 406.7h0M409.6 405.0h0M429.0 403.3h0M464.0 405.2h0M394.5 392.5h0M459.0 400.4h0M391.3 404.0h0M352.2 405.2h0M359.9 403.7h0M454.6 396.3h0M413.1 402.1h0M396.6 401.9h0M410.2 400.0h0M347.6 407.3h0M431.1 403.6h0M425.2 396.5h0M430.7 406.1h0M417.0 403.6h0M367.6 390.0h0M462.7 399.3h0M387.8 398.6h0M361.8 405.9h0M380.7 400.6h0M417.3 404.6h0M410.1 405.9h0M359.6 404.8h0M466.2 404.5h0M352.7 404.3h0M411.1 404.1h0M451.7 406.4h0M413.9 392.0h0M408.1 397.8h0M442.0 405.7h0M381.1 398.1h0M459.5 398.7h0M364.1 402.8h0M445.4 400.9h0M395.6 395.4h0M343.1 397.3h0M419.1 406.2h0M379.4 405.5h0M459.6 387.1h0M413.2 400.4h0M342.0 404.8h0M390.4 403.5h0M438.8 402.9h0M344.7 405.1h0M449.2 407.0h0M405.0 405.5h0M450.4 405.9h0M406.2 406.2h0M369.5 407.5h0M371.7 399.1h0M461.3 404.3h0M432.0 405.2h0M423.4 402.6h0M382.7 403.1h0M368.0 407.1h0M382.3 406.0h0M349.3 399.0h0M389.1 393.7h0M397.6 407.4h0M397.3 402.8h0M358.6 405.1h0M420.2 407.4h0M410.4 406.2h0M438.5 398.8h0M402.2 398.1h0M464.0 399.7h0M391.8 404.8h0M453.0 407.4h0M425.7 394.1h0M410.2 399.9h0M418.4 406.4h0M462.0 395.2h0M466.2 407.4h0M404.6 397.5h0M388.9 396.8h0M385.9 392.9h0M424.5 405.1h0M417.8 400.1h0M382.3 404.7h0M404.4 388.0h0M413.1 397.8h0M371.7 390.2h0M364.7 407.2h0M432.2 407.0h0M389.6 405.0h0M407.2 388.9h0M366.4 407.5h0M462.2 406.2h0M371.7 397.0h0M380.5 399.5h0M418.0 399.4h0M348.0 385.6h0M401.4 399.9h0M432.3 399.5h0M447.4 405.7h0M404.5 398.4h0M457.9 405.2h0M431.1 402.9h0M423.1 400.3h0M393.2 405.2h0M451.3 395.1h0M371.6 404.3h0M416.6 402.3h0M428.1 396.5h0M372.2 399.5h0M376.6 404.5h0M389.6 406.3h0M343.8 400.6h0M446.4 406.1h0M365.3 399.2h0M345.7 402.0h0M421.4 400.0h0M465.1 405.2h0M342.9 403.1h0M418.0 400.5h0M343.1 398.9h0M409.1 393.7h0M422.5 396.3h0M353.0 398.7h0M347.8 407.2h0M346.7 399.5h0M365.5 403.0h0M389.6 402.5h0M411.5 406.1h0M351.9 405.3h0M374.2 405.2h0M378.0 404.4h0M386.3 391.7h0M375.0 407.1h0M373.8 403.4h0M426.9 393.9h0M411.2 393.8h0M352.2 407.2h0M460.0 405.0h0M412.2 397.6h0M371.7 401.8h0M399.5 392.6h0M403.2 406.1h0M433.8 405.6h0M412.2 406.0h0M434.7 404.4h0M367.8 402.1h0M371.5 393.3h0M346.6 401.7h0M444.5 402.1h0M461.9 404.0h0M417.6 403.8h0M361.1 407.2h0M441.3 406.7h0M410.6 388.9h0M425.4 407.6h0M395.8 404.4h0M446.3 402.2h0M343.4 397.2h0M443.6 406.5h0M377.6 393.0h0M457.2 406.3h0M437.1 398.9h0M405.3 405.3h0M437.1 402.7h0M426.4 393.7h0M419.4 405.7h0M431.3 403.2h0M463.7 404.5h0M344.5 406.5h0M430.3 400.9h0M402.9 398.7h0M446.0 399.8h0M421.5 406.4h0M448.1 402.5h0M407.8 400.3h0M455.2 406.4h0M391.3 406.1h0M463.5 387.0h0M435.8 407.2h0M422.3 406.9h0M383.5 402.7h0M447.9 405.7h0M395.2 407.1h0M464.5 396.2h0M393.6 397.4h0M349.9 404.5h0M439.3 401.5h0M383.4 394.8h0M383.0 405.7h0M430.6 402.0h0M447.9 402.4h0M416.5 402.7h0M442.2 404.9h0M433.0 399.5h0M458.1 403.5h0M409.9 402.1h0M426.6 399.5h0M387.9 399.6h0M400.6 404.3h0M406.2 401.9h0M384.2 401.4h0M393.0 398.3h0M359.3 402.5h0M417.3 405.3h0M455.8 391.9h0M377.0 405.3h0M428.6 404.6h0M363.6 406.9h0M418.4 396.5h0M460.4 407.3h0M349.3 406.4h0M435.0 406.9h0M429.6 400.5h0M457.9 405.0h0M425.4 405.1h0M373.5 402.4h0M398.2 405.8h0M352.8 397.4h0M400.5 402.8h0M405.3 390.9h0M408.8 400.1h0M461.2 407.6h0M424.5 402.9h0M386.1 399.8h0M442.9 402.9h0M467.1 403.4h0M383.8 404.7h0M353.3 402.2h0M443.6 396.4h0M456.5 401.1h0M436.8 406.5h0M348.4 402.4h0M352.0 403.8h0M450.7 403.7h0M368.5 404.1h0M425.6 407.3h0M421.4 405.2h0M463.8 404.7h0M456.2 401.7h0M396.0 395.5h0M388.9 399.3h0M380.3 402.5h0M361.7 404.0h0M440.2 407.2h0M463.4 405.5h0M448.5 401.4h0M437.1 390.0h0M349.3 407.2h0M380.8 406.2h0M406.4 401.6h0M406.2 403.2h0M422.0 406.6h0M342.1 406.5h0M385.6 405.3h0M356.5 387.2h0M371.7 400.7h0M386.5 402.7h0M349.4 399.8h0M382.8 391.5h0M351.0 402.3h0M443.5 405.5h0M380.6 402.0h0M437.5 402.6h0M358.6 405.1h0M352.4 397.8h0M423.0 405.1h0M404.4 407.3h0M396.7 405.5h0M390.0 389.9h0M385.4 407.1h0M348.8 407.3h0M422.7 389.6h0M418.8 405.6h0M379.8 406.6h0M355.5 405.2h0M376.5 390.3h0M414.7 401.8h0M453.1 387.1h0M416.1 399.6h0M429.5 405.1h0M348.0 402.8h0M431.3 406.8h0M394.2 406.3h0M436.4 404.0h0M393.2 404.8h0M349.7 387.2h0M345.1 395.6h0M459.6 406.0h0M382.0 403.5h0M390.8 388.4h0M412.1 396.2h0M395.7 405.6h0M450.6 403.3h0M440.3 406.1h0M396.7 405.5h0M346.1 406.1h0M408.1 405.2h0M434.9 393.8h0M424.1 405.0h0M459.1 402.4h0M375.0 400.7h0M352.2 405.4h0M434.3 405.8h0M407.8 403.6h0M414.9 403.2h0M384.0 402.6h0M347.1 407.4h0M411.5 406.1h0M444.2 403.3h0M365.8 406.8h0M460.9 393.4h0M390.8 405.9h0M401.0 402.3h0M363.6 395.0h0M424.8 402.7h0M424.1 400.1h0M361.1 405.0h0M351.2 404.8h0M456.9 407.3h0M424.9 398.6h0M452.0 404.9h0M412.7 399.6h0M446.3 407.4h0M355.4 389.3h0M403.8 397.4h0M360.4 405.5h0M421.3 393.0h0M363.8 405.6h0M387.4 403.1h0M425.9 405.0h0M376.9 405.4h0M464.9 387.5h0M400.7 404.7h0M369.0 391.6h0M433.9 396.5h0M346.7 406.4h0M397.9 390.3h0M411.5 399.1h0M348.4 400.2h0M396.7 405.8h0M407.8 398.5h0M407.2 402.6h0M377.3 403.0h0M386.1 405.0h0M458.6 400.6h0M409.5 398.5h0M410.9 405.0h0M368.5 388.5h0M415.7 404.2h0M383.3 406.0h0M404.4 406.6h0M466.0 406.6h0M385.7 405.6h0M444.1 398.4h0M434.2 401.8h0M451.5 396.4h0M433.9 403.3h0M391.6 388.6h0M371.1 387.1h0M451.2 395.5h0M441.3 404.2h0M422.5 387.7h0M363.0 391.4h0M364.4 407.4h0M362.0 403.9h0M343.5 402.0h0M379.5 398.7h0M444.8 398.4h0M353.1 402.2h0M363.3 406.5h0M429.9 406.4h0M368.3 403.9h0M459.1 398.7h0M370.9 407.4h0M345.0 402.4h0M357.6 405.8h0M348.6 395.1h0M353.4 406.4h0M356.1 402.0h0M346.2 391.8h0M358.9 395.6h0M352.6 386.8h0M354.3 390.9h0M346.9 407.5h0M351.9 398.7h0M345.8 390.7h0M348.9 403.3h0M350.7 396.6h0M350.6 383.9h0M350.0 386.4h0M350.8 377.1h0M353.0 405.6h0M357.4 399.8h0M346.7 386.3h0M348.4 391.0h0M348.1 395.6h0M353.8 402.8h0M348.0 407.4h0M345.1 405.4h0M354.1 403.2h0M353.8 401.1h0M354.7 391.3h0M350.1 405.8h0M351.1 392.0h0M349.0 397.6h0M356.4 403.7h0M356.2 406.9h0M347.1 400.0h0M348.0 405.6h0M347.5 391.6h0M350.5 380.8h0M348.3 392.4h0M349.4 405.3h0M351.7 379.3h0M351.8 385.1h0M351.4 404.4h0M354.1 406.2h0M354.4 401.2h0M349.7 404.0h0M351.9 396.1h0M343.8 407.6h0M351.5 372.6h0M352.2 404.8h0M367.7 373.6h0M366.0 387.9h0M353.1 402.5h0M368.8 407.1h0M358.8 384.9h0M357.4 398.9h0M364.2 404.4h0M373.5 400.8h0M363.6 381.3h0M365.0 377.6h0M362.3 398.8h0M365.4 374.5h0M365.0 394.2h0M364.0 395.5h0M365.8 379.1h0M364.2 403.1h0M369.3 397.3h0M374.1 400.4h0M370.4 395.7h0M365.6 372.3h0M363.8 406.4h0M372.2 387.5h0M360.3 387.9h0M360.4 401.4h0M365.5 396.5h0M369.8 405.4h0M360.8 404.6h0M360.5 381.8h0M363.8 376.6h0M366.9 373.4h0M362.4 405.1h0M357.5 396.0h0M366.0 383.2h0M358.6 399.9h0M370.0 398.6h0M367.5 392.2h0M370.1 399.0h0M364.8 367.9h0M360.5 403.3h0M370.2 387.1h0M366.5 390.5h0M366.8 375.9h0M364.4 383.5h0M367.2 373.2h0M356.8 401.1h0M368.7 407.6h0M368.8 404.4h0M354.8 397.8h0M363.0 393.1h0M368.1 397.1h0M370.2 391.2h0M365.9 372.0h0M357.2 404.8h0M380.4 380.3h0M386.5 387.9h0M382.7 386.0h0M384.3 394.6h0M379.1 379.9h0M380.4 376.7h0M381.3 375.7h0M380.6 402.8h0M381.6 379.1h0M381.0 386.4h0M382.1 406.8h0M375.2 400.2h0M378.4 397.7h0M376.2 395.9h0M373.4 403.7h0M386.4 389.6h0M387.6 385.9h0M385.9 388.5h0M391.4 400.4h0M387.8 406.9h0M384.8 399.7h0M380.6 368.3h0M384.6 383.2h0M379.6 387.8h0M381.4 366.3h0M378.6 387.7h0M382.8 397.3h0M379.8 373.4h0M376.9 398.0h0M380.8 393.1h0M376.0 387.9h0M378.3 395.5h0M385.9 375.3h0M386.9 404.7h0M378.3 375.5h0M390.0 389.9h0M385.4 391.6h0M381.0 369.8h0M375.8 398.8h0M393.1 400.8h0M386.3 402.6h0M380.0 365.4h0M372.8 401.7h0M376.4 400.7h0M379.1 377.6h0M374.3 400.9h0M385.1 405.7h0M382.5 403.4h0M377.0 396.7h0M388.5 395.6h0M380.7 369.3h0M378.7 377.6h0M384.3 386.0h0M373.5 395.6h0M381.7 379.0h0M380.5 381.8h0M386.8 401.7h0M379.9 389.2h0M379.3 372.6h0M378.8 376.2h0M385.1 369.8h0M375.8 383.8h0M388.7 404.8h0M411.8 397.3h0M416.1 394.3h0M409.2 403.2h0M414.1 402.4h0M426.2 399.3h0M417.7 384.0h0M406.8 404.8h0M419.7 406.0h0M421.1 406.4h0M414.7 395.7h0M418.2 401.4h0M407.1 398.7h0M412.8 401.1h0M417.9 405.1h0M412.8 395.2h0M414.5 391.2h0M408.1 401.8h0M412.5 386.4h0M412.1 403.9h0M421.1 405.5h0M406.9 406.5h0M423.7 403.6h0M417.0 382.9h0M413.8 384.3h0M412.1 400.4h0M422.4 394.4h0M410.1 394.6h0M403.2 400.2h0M423.3 403.6h0M414.2 398.4h0M421.4 406.2h0M413.5 399.7h0M394.6 405.8h0M410.6 404.1h0M420.8 392.8h0M432.4 373.2h0M432.2 382.8h0M427.8 377.5h0M423.1 395.3h0M423.4 396.3h0M429.7 381.9h0M432.0 382.1h0M436.0 404.1h0M427.5 382.3h0M433.8 386.3h0M415.7 402.0h0M430.4 392.7h0M427.9 405.6h0M437.6 393.8h0M424.0 394.0h0M432.8 407.5h0M430.1 388.7h0M426.4 394.4h0M430.5 390.0h0M429.3 394.5h0M427.0 405.2h0M434.8 386.4h0M426.0 402.3h0M437.2 393.2h0M429.3 370.3h0M423.5 388.8h0M429.3 389.7h0M421.2 396.3h0M434.7 394.6h0M431.2 388.1h0M428.1 390.2h0M430.6 393.2h0M426.3 402.1h0M428.9 406.9h0M426.8 370.4h0M422.9 388.2h0M429.2 368.8h0M429.3 366.5h0M420.0 399.6h0M436.9 400.7h0M430.8 401.5h0M429.8 371.4h0M426.7 380.8h0M420.1 385.3h0M420.5 401.1h0M425.4 374.4h0M422.6 377.1h0M434.1 401.0h0M422.7 402.0h0M420.1 398.3h0M429.7 373.8h0M424.5 404.9h0M427.5 376.1h0M430.5 390.9h0M431.5 398.8h0M423.8 405.0h0M421.4 399.0h0M423.5 391.9h0M419.2 406.8h0M432.0 400.2h0M420.1 403.1h0M428.3 403.7h0M452.4 391.8h0M439.3 388.2h0M449.4 394.4h0M444.6 374.6h0M441.1 378.2h0M437.7 400.2h0M453.4 402.2h0M448.2 375.1h0M444.5 403.5h0M446.1 376.1h0M448.8 399.8h0M449.3 398.9h0M449.5 370.7h0M444.5 403.0h0M447.9 397.5h0M451.8 378.6h0M447.6 374.9h0M455.9 398.9h0M451.4 382.0h0M448.2 369.6h0M441.0 393.8h0M440.5 389.1h0M450.1 403.0h0M440.0 405.8h0M446.5 369.9h0M448.2 383.6h0M449.2 369.4h0M447.4 407.0h0M447.2 365.2h0M448.5 380.6h0M443.7 393.3h0M452.2 407.5h0M441.6 387.6h0M449.0 400.5h0M436.9 400.3h0M450.1 387.3h0M447.4 402.1h0M446.9 388.5h0M440.0 403.8h0M440.2 401.4h0M454.6 392.7h0M451.9 392.0h0M443.4 390.2h0M449.6 405.8h0M443.6 395.5h0M450.9 402.6h0M446.1 384.7h0M447.0 365.7h0M437.5 400.7h0M448.8 405.2h0M449.6 394.8h0M442.4 373.2h0M454.1 403.5h0M451.5 400.9h0M441.6 380.5h0M444.7 372.3h0M448.6 373.2h0M444.7 366.2h0M453.5 381.7h0M449.4 392.6h0M455.9 406.6h0M462.0 406.7h0M464.7 404.2h0M461.7 394.2h0M465.4 401.6h0M464.5 400.5h0M463.2 396.8h0M459.4 396.7h0M459.9 407.6h0M457.2 376.5h0M459.1 392.9h0M460.3 394.2h0M460.1 367.2h0M462.0 381.9h0M467.3 398.6h0M466.8 389.9h0M467.4 404.2h0M464.4 393.7h0M455.3 398.5h0M467.6 403.5h0M456.7 374.9h0M461.2 385.5h0M468.0 391.0h0M452.5 402.1h0M462.3 404.3h0M460.5 399.2h0M456.8 383.0h0M457.8 406.2h0M459.1 370.1h0M462.9 388.0h0M462.6 402.2h0M467.2 405.4h0M458.8 374.0h0M460.4 391.2h0M459.0 387.7h0M455.7 407.4h0M457.0 393.9h0M458.5 404.1h0M456.8 405.7h0M467.1 394.7h0M457.8 403.2h0M462.6 380.5h0M459.4 402.9h0M457.1 378.3h0M463.0 383.9h0M459.7 402.6h0M459.1 372.1h0M464.5 397.8h0M459.9 391.1h0M460.6 371.3h0M459.2 394.1h0M457.4 405.9h0M377.5 367.0h0M445.3 345.4h0M345.3 378.1h0M358.9 376.9h0M436.3 359.6h0M456.2 370.8h0M443.4 365.7h0M446.0 372.4h0M439.7 373.9h0M348.2 379.0h0M350.4 376.8h0M457.7 379.3h0M423.7 356.9h0M452.2 365.4h0M345.6 371.2h0M447.1 373.4h0M346.4 377.1h0M441.3 380.0h0M390.4 357.4h0M398.9 375.7h0M434.5 360.4h0M444.9 366.6h0M360.0 380.2h0M461.1 377.2h0M416.0 380.4h0M405.7 371.8h0M436.6 377.9h0M463.6 357.5h0M444.5 362.2h0M457.5 370.2h0M369.2 369.0h0M362.6 378.3h0M407.4 368.1h0M424.3 374.8h0M344.7 377.6h0M395.2 352.3h0M455.2 375.5h0M378.4 378.3h0M449.1 367.7h0M357.6 374.0h0M424.0 380.5h0M441.6 367.9h0" stroke="#FF0B00" stroke-width="2.30" stroke-linecap="round" fill="none"/>
<path d="M385.3 402.9h0M383.5 396.1h0M383.2 395.0h0M384.0 395.4h0M388.3 398.2h0M395.6 387.5h0M397.8 406.8h0M395.7 394.7h0M398.7 386.8h0M401.0 390.7h0M401.5 386.3h0M400.4 378.2h0M409.4 393.8h0M397.1 382.9h0M396.8 390.0h0M405.5 392.4h0M395.1 389.1h0M398.8 401.1h0M396.3 382.7h0M406.6 402.3h0M400.2 394.5h0M400.0 382.0h0M402.2 400.0h0M394.1 391.3h0M400.9 385.8h0M393.1 405.6h0M407.2 392.7h0M397.0 387.1h0M410.1 395.9h0M400.5 399.1h0M404.0 401.2h0M400.0 389.0h0M395.9 402.6h0M401.6 382.1h0M417.4 405.2h0M409.3 395.5h0M416.5 399.8h0M414.7 394.4h0M414.5 390.1h0M414.2 393.9h0M416.5 405.2h0M412.8 406.6h0M412.0 386.1h0M421.5 403.4h0M422.9 403.8h0M416.0 389.1h0M406.1 407.4h0M417.9 385.7h0M417.6 392.5h0M426.2 401.6h0M403.7 406.3h0M407.2 400.4h0" stroke="#FF1600" stroke-width="2.30" stroke-linecap="round" fill="none"/>
<path d="M399.0 407.5h0M393.1 397.4h0M402.7 393.3h0M387.3 404.6h0M392.0 405.0h0M399.3 399.9h0M400.6 401.9h0M400.4 405.5h0M391.9 390.8h0M388.0 406.4h0M394.8 386.1h0M404.8 395.4h0M396.5 387.3h0M401.1 402.7h0M400.6 399.9h0M399.9 395.0h0M402.7 391.9h0M407.2 406.3h0M400.9 397.1h0M405.9 394.0h0M397.0 379.6h0M396.5 386.8h0M408.1 396.8h0M410.0 403.5h0M395.1 388.2h0M398.7 386.0h0M395.3 403.3h0M394.7 407.1h0" stroke="#FF8500" stroke-width="2.30" stroke-linecap="round" fill="none"/>
<path d="M407.4 393.0h0M404.6 393.7h0M401.8 380.5h0M405.1 406.7h0M407.6 394.3h0M396.0 398.1h0M407.6 390.4h0M395.2 400.5h0M405.0 388.5h0M393.2 393.5h0M392.3 390.0h0M397.6 406.2h0M413.0 399.1h0M409.1 403.5h0M399.1 403.6h0M401.7 407.4h0M405.7 389.9h0M402.8 402.4h0M397.8 397.5h0M407.9 397.0h0M401.2 382.5h0M390.2 407.5h0M390.0 406.2h0M406.4 389.5h0M405.2 390.4h0M398.3 403.6h0M400.6 385.5h0M402.1 385.8h0M396.0 393.8h0" stroke="#FF5500" stroke-width="2.30" stroke-linecap="round" fill="none"/>
<path d="M401.1 377.1h0M394.7 393.1h0M402.0 381.9h0M413.0 400.4h0M396.2 393.9h0M379.4 401.3h0M401.6 391.3h0M403.8 397.2h0M391.6 391.3h0M389.3 398.4h0M406.6 388.5h0M397.9 396.9h0M403.5 396.4h0M401.1 398.7h0M392.4 389.4h0M393.8 405.0h0M392.6 395.9h0M401.9 403.0h0M400.4 388.4h0M405.9 390.3h0M404.9 385.8h0M389.7 407.3h0M395.7 384.7h0M404.1 406.6h0M405.3 399.1h0" stroke="#FF3500" stroke-width="2.30" stroke-linecap="round" fill="none"/>
<path d="M395.6 407.5h0M397.7 388.9h0M408.4 406.9h0M394.9 403.5h0M398.9 380.4h0M399.1 386.6h0M402.2 398.3h0M406.3 387.2h0M392.4 399.5h0M397.2 379.6h0M388.7 405.4h0M403.9 381.2h0M407.4 407.6h0M405.7 384.9h0M407.9 393.2h0M400.1 399.5h0M389.6 407.5h0M402.4 400.0h0M401.6 404.5h0M396.8 401.3h0M402.8 390.6h0M400.3 391.0h0M415.5 405.4h0M400.1 384.7h0M404.0 401.0h0M399.8 407.5h0M398.4 385.4h0M390.3 402.1h0M400.9 381.2h0" stroke="#FF7200" stroke-width="2.30" stroke-linecap="round" fill="none"/>
<path d="M357.2 353.5h0M370.4 348.2h0M424.5 344.5h0M426.5 349.6h0M445.0 348.5h0M456.4 343.0h0M419.0 351.5h0M372.0 358.0h0M345.0 365.0h0" stroke="#FF0B00" stroke-width="2.30" stroke-linecap="round" fill="none"/>
<path d="M390.2 331.7h0M392.7 328.4h0M392.5 315.6h0M395.5 365.3h0M391.4 359.0h0M393.4 315.5h0M388.7 343.8h0M390.6 346.5h0M389.1 315.2h0M393.2 323.3h0M395.9 302.5h0M393.0 321.9h0M392.5 359.3h0M398.1 347.0h0M398.7 351.0h0M399.2 356.5h0M397.6 345.9h0M397.2 349.5h0M399.1 353.9h0" stroke="#7BFB23" stroke-width="2.30" stroke-linecap="round" fill="none"/>
<path d="M391.2 340.7h0M394.3 345.9h0M392.0 329.4h0M390.6 351.6h0M391.5 343.0h0M393.6 307.5h0M392.3 347.2h0M390.4 337.8h0M394.2 312.3h0M393.0 353.0h0M401.3 359.4h0M398.5 356.3h0" stroke="#96FF14" stroke-width="2.30" stroke-linecap="round" fill="none"/>
<path d="M393.4 312.2h0M392.3 347.3h0M388.4 350.1h0M395.1 318.3h0M390.2 341.5h0M389.0 334.7h0M390.8 359.5h0M393.7 360.8h0" stroke="#CAE80A" stroke-width="2.30" stroke-linecap="round" fill="none"/>
<path d="M395.5 309.5h0M392.4 319.7h0M396.2 312.8h0M394.0 347.6h0M388.3 331.6h0" stroke="#A8F811" stroke-width="2.30" stroke-linecap="round" fill="none"/>
<path d="M392.7 354.4h0M394.9 324.0h0M390.2 329.0h0M393.1 360.8h0M393.3 325.5h0M391.7 322.3h0M391.4 354.6h0M390.9 341.9h0M391.4 339.6h0" stroke="#B9F00D" stroke-width="2.30" stroke-linecap="round" fill="none"/>
<path d="M403.6 326.9h0M401.8 321.7h0" stroke="#44F441" stroke-width="2.30" stroke-linecap="round" fill="none"/>
<path d="M405.3 322.8h0M402.9 323.2h0M402.2 326.7h0M401.6 329.2h0M395.8 339.6h0M399.7 349.2h0M398.9 337.5h0M400.3 353.6h0M399.0 343.6h0M406.2 371.7h0M406.2 365.8h0M409.5 369.1h0" stroke="#5FF832" stroke-width="2.30" stroke-linecap="round" fill="none"/>
<path d="M402.7 324.9h0M402.7 323.8h0M402.8 320.1h0M401.7 317.7h0" stroke="#30CA76" stroke-width="2.30" stroke-linecap="round" fill="none"/>
<path d="M402.5 324.2h0M401.9 323.4h0M398.4 347.6h0M398.1 358.9h0M400.7 353.7h0" stroke="#28F050" stroke-width="2.30" stroke-linecap="round" fill="none"/>
<path d="M406.0 371.2h0M406.5 361.1h0M404.9 383.4h0M404.0 387.8h0M405.5 362.2h0M404.4 358.4h0M405.5 362.1h0M403.7 367.4h0M407.5 362.7h0M406.2 375.5h0M406.3 386.6h0M403.0 392.3h0M408.3 347.0h0M408.3 352.5h0M405.5 362.0h0" stroke="#FF7200" stroke-width="2.30" stroke-linecap="round" fill="none"/>
<path d="M407.2 392.1h0M405.4 387.4h0M406.8 364.0h0M396.0 330.8h0M397.3 330.7h0M398.6 331.0h0M399.9 330.9h0M401.2 331.1h0M402.5 331.1h0" stroke="#DCE107" stroke-width="2.30" stroke-linecap="round" fill="none"/>
<path d="M402.9 372.8h0M401.5 385.0h0M405.5 370.5h0M406.0 378.1h0M405.0 365.5h0M408.0 382.5h0M409.8 398.2h0M407.4 393.8h0" stroke="#FF8500" stroke-width="2.30" stroke-linecap="round" fill="none"/>
<path d="M399.5 313.8h0M400.5 313.8h0M401.5 314.0h0M402.5 313.5h0M403.5 313.6h0M404.5 314.0h0M405.5 313.6h0M399.5 335.0h0" stroke="#3B94AD" stroke-width="2.30" stroke-linecap="round" fill="none"/>
<path d="M415.5 351.5h0M419.0 351.5h0M417.8 355.5h0M414.6 359.6h0M410.0 347.0h0" stroke="#FF0B00" stroke-width="2.30" stroke-linecap="round" fill="none"/>
<path d="M404.2 267.1h0M404.2 272.5h0" stroke="#B428FF" stroke-width="2.30" stroke-linecap="round" fill="none"/>
<path d="M401.8 280.8h0M400.5 286.1h0M402.0 285.5h0M399.5 285.8h0" stroke="#2864FF" stroke-width="2.30" stroke-linecap="round" fill="none"/>
<path d="M408.0 352.0h0" stroke="#FF5500" stroke-width="2.30" stroke-linecap="round" fill="none"/>
<path d="M405.1 280.6L407.0 282.5L405.1 284.4L403.2 282.5Z" fill="#000"/>
</svg>
<line x1="334.40" x2="335.90" y1="407.60" y2="407.60" stroke="#333" stroke-width="0.4"/>
<text x="333.90" y="409.20" font-size="4.80" text-anchor="end" fill="#444">0</text>
<line x1="334.40" x2="335.90" y1="362.50" y2="362.50" stroke="#333" stroke-width="0.4"/>
<text x="333.90" y="364.10" font-size="4.80" text-anchor="end" fill="#444">2</text>
<line x1="334.40" x2="335.90" y1="317.40" y2="317.40" stroke="#333" stroke-width="0.4"/>
<text x="333.90" y="319.00" font-size="4.80" text-anchor="end" fill="#444">4</text>
<line x1="334.40" x2="335.90" y1="272.30" y2="272.30" stroke="#333" stroke-width="0.4"/>
<text x="333.90" y="273.90" font-size="4.80" text-anchor="end" fill="#444">6</text>
<line x1="338.60" x2="338.60" y1="413.70" y2="414.90" stroke="#999" stroke-width="0.4"/>
<text x="338.60" y="420.00" font-size="4.80" text-anchor="middle" fill="#444">93500000</text>
<line x1="370.00" x2="370.00" y1="413.70" y2="414.90" stroke="#999" stroke-width="0.4"/>
<text x="370.00" y="420.00" font-size="4.80" text-anchor="middle" fill="#444">94000000</text>
<line x1="401.40" x2="401.40" y1="413.70" y2="414.90" stroke="#999" stroke-width="0.4"/>
<text x="401.40" y="420.00" font-size="4.80" text-anchor="middle" fill="#444">94500000</text>
<line x1="432.80" x2="432.80" y1="413.70" y2="414.90" stroke="#999" stroke-width="0.4"/>
<text x="432.80" y="420.00" font-size="4.80" text-anchor="middle" fill="#444">95000000</text>
<line x1="464.20" x2="464.20" y1="413.70" y2="414.90" stroke="#999" stroke-width="0.4"/>
<text x="464.20" y="420.00" font-size="4.80" text-anchor="middle" fill="#444">95500000</text>
<text x="329.00" y="336.80" font-size="5.90" text-anchor="middle" fill="#000" transform="rotate(-90 329 336.8)">−log10(p−value)</text>
<text x="404.55" y="426.50" font-size="5.90" text-anchor="middle" fill="#000">Position on chromosome</text>
<text x="340.30" y="253.00" font-size="9.0" fill="#000"><tspan font-style="italic">VIRMA</tspan><tspan> eQTL in stomach</tspan></text>
<rect x="503.00" y="259.50" width="138.70" height="154.70" fill="#EBEBEB"/>
<svg x="503.00" y="259.50" width="138.70" height="154.70" viewBox="503.00 259.50 138.70 154.70" overflow="hidden">
<line x1="503.00" x2="641.70" y1="424.45" y2="424.45" stroke="#fff" stroke-width="0.3"/>
<line x1="503.00" x2="641.70" y1="393.95" y2="393.95" stroke="#fff" stroke-width="0.3"/>
<line x1="503.00" x2="641.70" y1="363.45" y2="363.45" stroke="#fff" stroke-width="0.3"/>
<line x1="503.00" x2="641.70" y1="332.95" y2="332.95" stroke="#fff" stroke-width="0.3"/>
<line x1="503.00" x2="641.70" y1="302.45" y2="302.45" stroke="#fff" stroke-width="0.3"/>
<line x1="503.00" x2="641.70" y1="271.95" y2="271.95" stroke="#fff" stroke-width="0.3"/>
<line x1="503.00" x2="641.70" y1="241.45" y2="241.45" stroke="#fff" stroke-width="0.3"/>
<line x1="503.00" x2="641.70" y1="409.20" y2="409.20" stroke="#fff" stroke-width="0.6"/>
<line x1="503.00" x2="641.70" y1="378.70" y2="378.70" stroke="#fff" stroke-width="0.6"/>
<line x1="503.00" x2="641.70" y1="348.20" y2="348.20" stroke="#fff" stroke-width="0.6"/>
<line x1="503.00" x2="641.70" y1="317.70" y2="317.70" stroke="#fff" stroke-width="0.6"/>
<line x1="503.00" x2="641.70" y1="287.20" y2="287.20" stroke="#fff" stroke-width="0.6"/>
<line x1="489.40" x2="489.40" y1="259.50" y2="414.20" stroke="#fff" stroke-width="0.3"/>
<line x1="521.20" x2="521.20" y1="259.50" y2="414.20" stroke="#fff" stroke-width="0.3"/>
<line x1="553.00" x2="553.00" y1="259.50" y2="414.20" stroke="#fff" stroke-width="0.3"/>
<line x1="584.80" x2="584.80" y1="259.50" y2="414.20" stroke="#fff" stroke-width="0.3"/>
<line x1="616.60" x2="616.60" y1="259.50" y2="414.20" stroke="#fff" stroke-width="0.3"/>
<line x1="648.40" x2="648.40" y1="259.50" y2="414.20" stroke="#fff" stroke-width="0.3"/>
<line x1="680.20" x2="680.20" y1="259.50" y2="414.20" stroke="#fff" stroke-width="0.3"/>
<line x1="505.30" x2="505.30" y1="259.50" y2="414.20" stroke="#fff" stroke-width="0.6"/>
<line x1="537.10" x2="537.10" y1="259.50" y2="414.20" stroke="#fff" stroke-width="0.6"/>
<line x1="568.90" x2="568.90" y1="259.50" y2="414.20" stroke="#fff" stroke-width="0.6"/>
<line x1="600.70" x2="600.70" y1="259.50" y2="414.20" stroke="#fff" stroke-width="0.6"/>
<line x1="632.50" x2="632.50" y1="259.50" y2="414.20" stroke="#fff" stroke-width="0.6"/>
<g id="dots_C4"></g>
<path d="M531.1 405.9h0M523.4 409.1h0M522.8 408.3h0M569.6 377.3h0M541.6 405.5h0M616.0 408.6h0M554.2 406.4h0M516.1 401.9h0M588.3 407.5h0M546.1 395.9h0M571.0 404.9h0M591.9 378.1h0M624.1 390.3h0M576.8 386.8h0M598.3 398.7h0M543.3 402.4h0M629.4 405.5h0M602.8 409.1h0M577.1 406.2h0M532.6 409.0h0M592.1 387.4h0M610.4 407.6h0M540.3 405.1h0M593.0 406.8h0M611.2 405.0h0M530.8 408.7h0M563.5 408.8h0M629.3 401.8h0M611.3 404.6h0M629.4 404.0h0M621.7 399.4h0M627.1 386.4h0M575.8 377.1h0M541.2 405.1h0M612.5 399.4h0M574.0 393.9h0M559.8 409.0h0M562.4 404.1h0M583.8 407.0h0M594.9 404.2h0M580.1 389.9h0M527.0 378.5h0M575.1 403.2h0M553.4 369.8h0M567.4 368.6h0M562.8 401.9h0M607.8 394.6h0M539.1 384.1h0M597.0 367.9h0M523.6 375.5h0M574.4 402.9h0M597.5 408.6h0M512.5 391.5h0M621.4 408.7h0M545.3 391.3h0M542.7 408.8h0M603.5 391.7h0M552.6 395.8h0M588.3 408.3h0M633.6 387.9h0M512.6 407.8h0M604.5 389.2h0M527.1 386.8h0M600.4 394.9h0M620.4 400.5h0M535.0 407.5h0M624.7 400.1h0M635.6 400.8h0M556.8 387.0h0M634.1 401.3h0M548.6 408.3h0M528.4 406.6h0M519.3 396.0h0M509.2 405.7h0M530.9 391.1h0M550.6 379.4h0M551.3 399.4h0M574.9 403.4h0M566.9 394.1h0M531.0 405.0h0M509.4 408.3h0M572.8 397.7h0M628.3 401.8h0M591.1 408.0h0M509.6 374.2h0M543.5 388.9h0M567.9 393.6h0M632.2 402.3h0M596.8 407.0h0M594.8 378.5h0M581.7 384.5h0M602.3 397.0h0M582.8 401.4h0M605.1 390.4h0M529.0 402.5h0M527.2 372.8h0M553.9 407.6h0M609.5 386.7h0M534.4 377.3h0M537.2 405.1h0M519.9 404.6h0M512.1 370.1h0M624.6 406.7h0M514.0 398.1h0M549.8 399.0h0M606.9 387.1h0M585.4 406.4h0M560.0 383.7h0M631.1 394.4h0M564.2 388.5h0M627.2 375.2h0M517.8 401.9h0M583.9 396.6h0M520.4 409.1h0M590.1 403.6h0M591.1 408.7h0M562.6 402.3h0M615.2 406.0h0M564.0 406.8h0M587.1 395.8h0M594.2 404.4h0M592.6 396.2h0M578.7 404.6h0M542.5 393.4h0M565.0 407.3h0M595.9 383.4h0M627.4 402.8h0M532.7 390.4h0M578.7 400.8h0M630.6 388.1h0M636.2 407.6h0M532.8 405.6h0M618.4 407.0h0M562.9 377.9h0M589.1 396.2h0M597.7 405.1h0M540.7 368.4h0M536.0 397.0h0M633.9 405.6h0M584.9 395.1h0M534.4 407.3h0M585.9 406.2h0M523.5 373.8h0M631.0 407.3h0M629.6 384.4h0M552.4 408.6h0M614.4 396.3h0M561.7 409.1h0M598.8 401.8h0M600.6 408.6h0M522.3 390.5h0M579.4 400.6h0M571.0 407.6h0M532.0 401.1h0M560.8 399.4h0M596.1 375.5h0M553.6 405.7h0M618.5 399.7h0M628.2 391.1h0M529.1 402.6h0M634.9 400.8h0M526.6 409.1h0M574.6 400.1h0M582.0 395.0h0M580.3 373.8h0M632.2 405.4h0M607.2 402.0h0M534.2 408.6h0M547.1 405.1h0M556.0 398.2h0M537.1 390.6h0M610.3 397.8h0M543.4 398.0h0M577.7 403.7h0M580.7 391.4h0M567.0 400.9h0M584.4 408.8h0M629.5 402.3h0M535.2 405.8h0M628.2 403.3h0M632.2 399.3h0M636.5 393.2h0M578.3 394.1h0M601.3 372.4h0M591.3 408.7h0M512.4 405.3h0M509.8 385.5h0M551.7 378.8h0M546.9 394.1h0M619.5 404.5h0M521.1 392.6h0M545.5 407.2h0M598.6 401.4h0M611.7 396.2h0M632.5 402.9h0M551.2 396.0h0M571.0 403.0h0M616.7 405.3h0M523.9 397.4h0M608.4 403.0h0M594.8 408.8h0M598.8 402.9h0M572.6 398.4h0M535.4 399.8h0M593.3 406.1h0M591.0 401.9h0M522.9 400.5h0M630.9 395.7h0M582.5 395.1h0M612.8 404.9h0M557.1 400.9h0M563.1 407.8h0M544.4 407.0h0M636.1 401.1h0M579.2 396.5h0M617.5 398.8h0M523.9 407.4h0M626.2 393.1h0M539.6 386.5h0M567.6 403.0h0M510.2 390.7h0M602.3 387.3h0M548.6 385.7h0M622.8 401.3h0M576.1 391.5h0M560.0 406.3h0M611.7 371.1h0M599.0 388.8h0M541.6 408.0h0M524.2 407.8h0M595.1 407.8h0M552.2 405.9h0M610.0 408.6h0M543.9 408.7h0M612.2 405.1h0M542.4 396.7h0M636.4 394.2h0M584.2 395.9h0M601.8 408.4h0M519.5 406.3h0M631.8 396.5h0M575.1 408.2h0M559.9 394.5h0M627.0 373.8h0M625.5 407.7h0M625.3 403.3h0M633.9 390.4h0M520.8 407.1h0M519.1 401.8h0M617.1 399.4h0M632.1 400.3h0M577.9 408.7h0M537.6 394.4h0M517.9 399.0h0M612.6 396.7h0M592.7 407.2h0M599.4 400.1h0M621.9 409.1h0M577.8 408.5h0M625.1 393.1h0M584.7 393.5h0M578.9 405.3h0M577.2 402.9h0M524.4 406.7h0M540.2 406.9h0M610.8 396.2h0M534.1 404.8h0M616.8 403.0h0M513.8 397.8h0M608.0 386.4h0M533.0 384.4h0M510.5 407.9h0M600.9 403.7h0M630.9 408.3h0M621.4 387.7h0M601.3 405.3h0M586.9 399.7h0M585.1 395.2h0M619.2 407.7h0M520.9 390.0h0M561.8 396.4h0M543.0 399.3h0M576.2 407.8h0M631.3 398.1h0M583.6 406.3h0M511.0 401.1h0M517.8 407.6h0M602.3 401.1h0M592.6 389.0h0M548.4 390.0h0M599.3 408.8h0M531.4 398.9h0M532.1 407.7h0M606.9 408.0h0M595.6 409.2h0M583.6 406.2h0M544.6 406.6h0M522.0 406.2h0M538.0 406.8h0M574.9 407.9h0M604.8 408.8h0M593.1 380.3h0M561.5 400.3h0M602.4 391.2h0M522.0 404.8h0M511.7 405.0h0M627.8 384.7h0M587.3 382.6h0M557.4 407.3h0M580.1 391.8h0M535.9 402.1h0M558.9 409.1h0M599.8 396.7h0M558.9 403.4h0M570.7 408.4h0M544.4 394.4h0M542.4 408.8h0M598.2 392.8h0M630.0 394.5h0M529.1 399.1h0M562.8 399.5h0M634.1 393.0h0M516.8 394.2h0M631.1 407.7h0M579.4 400.2h0M596.2 391.7h0M561.5 378.2h0M583.7 406.3h0M619.5 400.8h0M627.2 397.2h0M556.2 378.2h0M633.2 407.9h0M564.3 408.0h0M533.4 384.0h0M543.3 401.8h0M610.9 400.7h0M597.2 380.2h0M607.6 403.1h0M620.9 407.5h0M551.7 406.9h0M527.9 399.5h0M591.7 405.6h0M565.0 401.4h0M575.9 405.3h0M537.9 399.3h0M593.8 393.5h0M591.1 383.1h0M532.8 381.8h0M630.1 380.9h0M548.4 387.4h0M571.2 400.3h0M633.8 399.9h0M522.5 385.8h0M593.7 404.3h0M557.2 403.5h0M508.7 406.5h0M527.0 403.5h0M580.1 380.8h0M550.7 396.3h0M625.9 388.9h0M529.8 391.3h0M594.7 399.4h0M573.1 399.2h0M611.0 407.5h0M522.0 401.5h0M523.3 392.0h0M587.8 408.9h0M597.7 404.5h0M598.3 394.4h0M606.9 406.5h0M573.5 399.4h0M603.0 405.5h0M565.2 399.6h0M524.1 408.7h0M547.2 408.0h0M622.4 407.8h0M585.0 406.7h0M622.9 398.7h0M508.6 403.2h0M629.7 394.0h0M606.2 392.9h0M519.5 406.7h0M542.2 376.8h0M509.2 405.5h0M544.5 392.3h0M605.9 408.6h0M519.0 404.9h0M614.2 402.4h0M540.2 407.6h0M573.4 397.2h0M540.6 398.7h0M517.7 407.3h0M569.5 397.5h0M619.4 408.4h0M549.2 407.6h0M530.9 387.8h0M534.4 388.1h0M621.0 399.1h0M522.8 398.3h0M572.1 407.1h0M516.1 403.3h0M510.4 395.5h0M549.2 383.7h0M510.7 372.1h0M547.8 403.4h0M509.6 406.0h0M632.3 381.0h0M587.3 393.8h0M629.7 408.5h0M621.4 405.0h0M619.4 401.2h0M534.1 392.6h0M620.4 392.7h0M511.2 395.8h0M531.9 398.8h0M615.9 403.4h0M600.8 368.4h0M581.7 404.1h0M596.2 399.3h0M605.0 395.2h0M541.3 397.3h0M624.7 372.6h0M617.4 398.3h0M616.9 402.1h0M537.4 406.4h0M574.0 384.9h0M608.6 402.0h0M636.2 387.8h0M517.6 400.0h0M512.2 408.7h0M623.7 381.1h0M540.8 383.7h0M576.1 406.5h0M530.3 398.8h0M567.7 403.9h0M583.3 406.4h0M623.0 402.6h0M593.1 405.9h0M629.6 408.7h0M535.1 408.2h0M552.9 403.6h0M594.2 375.0h0M582.3 392.8h0M516.2 402.8h0M617.8 407.1h0M552.7 409.1h0M621.8 376.4h0M514.7 405.1h0M577.3 401.9h0M632.3 367.2h0M580.5 400.6h0M513.4 399.8h0M542.6 403.4h0M563.4 408.7h0M580.2 394.2h0M603.9 408.7h0M597.0 403.3h0M608.5 395.0h0M619.0 393.1h0M527.1 409.0h0M510.8 376.2h0M514.7 394.2h0M512.3 398.3h0M517.3 403.9h0M528.0 388.9h0M519.8 365.6h0M510.4 377.6h0M513.0 368.4h0M530.6 408.8h0M512.1 403.2h0M522.4 368.3h0M521.0 391.3h0M510.2 372.7h0M529.1 392.2h0M520.2 390.2h0M513.2 375.2h0M519.3 368.2h0M512.7 383.4h0M514.5 394.1h0M517.6 369.7h0M517.4 404.0h0M510.3 401.1h0M519.8 408.0h0M520.8 381.7h0M520.0 399.8h0M530.8 405.8h0M513.1 353.6h0M511.7 383.9h0M525.4 409.1h0M509.4 376.8h0M519.4 358.8h0M520.7 366.0h0M513.3 374.2h0M514.2 383.3h0M513.0 354.2h0M518.7 381.8h0M511.6 384.9h0M510.9 389.9h0M517.4 398.4h0M514.9 349.2h0M510.7 357.6h0M517.4 372.3h0M520.6 379.2h0M522.8 390.7h0M518.2 391.4h0M512.9 397.8h0M514.8 364.1h0M516.3 360.9h0M524.5 406.6h0M514.5 356.3h0M509.3 364.2h0M519.2 363.9h0M512.2 362.2h0M512.0 407.3h0M525.5 370.6h0M536.8 362.6h0M538.4 377.1h0M542.7 397.3h0M543.7 390.8h0M535.3 399.9h0M539.1 376.8h0M521.5 392.0h0M536.3 395.1h0M543.2 397.8h0M526.5 385.4h0M530.1 372.6h0M530.7 355.6h0M535.6 366.8h0M529.5 368.3h0M527.2 392.4h0M530.8 371.1h0M533.6 373.1h0M534.9 370.8h0M530.2 402.2h0M531.1 368.8h0M526.6 381.7h0M540.3 386.4h0M530.4 391.2h0M544.3 399.1h0M523.5 399.5h0M538.7 391.5h0M523.9 385.8h0M534.2 400.0h0M526.4 369.5h0M521.3 403.0h0M532.6 369.6h0M536.9 369.8h0M541.5 386.2h0M529.5 360.6h0M528.2 366.1h0M531.0 404.2h0M528.8 366.6h0M531.5 381.3h0M535.4 385.2h0M533.3 385.5h0M527.1 370.8h0M540.0 395.4h0M529.6 377.7h0M531.5 359.2h0M532.4 401.9h0M532.7 349.7h0M533.6 376.8h0M545.6 403.2h0M549.2 391.9h0M545.8 400.0h0M543.3 403.8h0M546.1 396.4h0M544.3 402.8h0M550.6 393.0h0M546.6 370.3h0M543.5 390.6h0M541.1 394.0h0M543.4 381.4h0M545.9 379.2h0M543.4 395.0h0M542.0 398.8h0M550.4 380.1h0M553.7 397.2h0M544.2 400.0h0M545.3 403.2h0M549.6 371.8h0M542.9 406.9h0M552.9 375.7h0M547.0 399.6h0M552.2 385.7h0M567.6 356.0h0M571.7 385.8h0M559.3 339.5h0M557.2 358.3h0M570.4 392.5h0M566.2 376.9h0M560.8 384.3h0M585.8 401.1h0M586.7 352.7h0M589.6 396.0h0M588.8 364.2h0M584.7 370.0h0M578.9 394.7h0M586.9 389.5h0M588.2 397.8h0M588.9 405.2h0M595.0 392.1h0M593.0 400.2h0M599.9 408.9h0M600.0 399.1h0M596.4 391.3h0M595.1 409.0h0M597.0 405.5h0M602.8 399.6h0M596.8 383.6h0M599.8 389.3h0M599.1 405.7h0M598.8 390.2h0M601.2 408.9h0M613.8 377.1h0M608.2 397.6h0M611.1 408.2h0M605.0 347.4h0M608.5 352.3h0M611.9 361.7h0M607.0 392.2h0M610.4 392.0h0M599.4 377.6h0M604.6 392.7h0M595.3 390.3h0M606.5 375.2h0M608.8 342.7h0M609.6 374.7h0M610.4 367.5h0M604.6 398.6h0M604.0 356.7h0M602.6 397.5h0M608.0 354.6h0M604.7 356.1h0M609.2 405.5h0M611.3 406.7h0M613.2 395.1h0M606.5 370.0h0M604.8 379.5h0M607.7 392.1h0M607.7 392.4h0M615.2 402.1h0M606.5 342.6h0M611.6 392.0h0M604.3 347.6h0M607.1 407.5h0M623.2 402.9h0M604.8 376.4h0M598.9 403.3h0M613.0 374.5h0M608.8 352.3h0M608.8 384.7h0M610.8 408.5h0M602.0 406.1h0M598.5 380.8h0M607.6 359.5h0M603.0 389.7h0M623.5 400.6h0M615.4 367.0h0M616.2 357.0h0M614.9 364.5h0M628.5 393.9h0M629.1 391.2h0M616.0 402.9h0M618.9 355.0h0M613.6 397.8h0M608.3 387.1h0M621.8 397.1h0M633.3 393.2h0M618.6 373.7h0M619.6 352.0h0M620.3 335.1h0M625.6 337.2h0M619.9 355.6h0M628.5 390.9h0M617.2 404.2h0M613.1 380.8h0M630.2 407.6h0M618.9 350.0h0M621.1 384.0h0M608.0 385.0h0M619.3 406.3h0M619.6 358.8h0M615.6 403.7h0M612.0 406.8h0M617.3 367.0h0M628.2 367.7h0M634.3 407.1h0M633.3 380.4h0M635.3 402.7h0M626.1 402.7h0M620.5 392.8h0M613.8 377.8h0M628.7 384.1h0M616.7 384.4h0M613.8 397.9h0M622.3 336.6h0M623.5 348.0h0M619.1 389.0h0M622.3 380.6h0M610.5 404.0h0M622.4 347.0h0M611.6 376.4h0M618.2 360.7h0M614.3 403.8h0M636.3 369.6h0M633.8 368.7h0M636.2 375.3h0M634.0 376.0h0M632.4 362.9h0M635.6 364.7h0M633.7 368.4h0M634.5 402.6h0M636.6 381.4h0M632.0 400.9h0M632.9 371.6h0M627.4 393.5h0M629.9 392.6h0M636.1 406.0h0M635.7 398.5h0M632.4 406.1h0M633.1 369.1h0M631.8 372.3h0" stroke="#FF0000" stroke-width="2.30" stroke-linecap="round" fill="none"/>
<path d="M560.8 399.2h0M574.3 379.6h0M560.4 394.1h0M517.9 385.6h0M631.3 407.7h0M632.7 408.7h0M594.8 387.5h0M513.3 393.2h0M592.2 404.1h0M589.3 397.8h0M538.4 401.4h0M596.1 403.8h0M537.1 409.0h0M552.1 385.9h0M590.8 386.1h0M509.4 405.1h0M588.8 406.5h0M542.1 408.3h0M619.3 397.5h0M592.7 408.2h0M585.0 399.6h0M550.2 400.4h0M596.0 388.4h0M631.8 391.8h0M566.0 406.0h0M558.6 400.3h0M548.0 407.4h0M589.4 394.6h0M549.7 397.7h0M518.1 398.6h0M627.0 407.0h0M629.2 381.2h0M542.2 402.6h0M566.2 380.9h0M609.6 394.2h0M572.1 403.1h0M615.7 400.8h0M590.2 395.2h0M599.5 382.5h0M572.2 409.1h0M545.9 395.7h0M530.2 388.7h0M629.4 408.2h0M529.3 405.4h0M515.2 409.0h0M580.0 386.3h0M509.8 409.0h0M590.3 407.7h0M607.9 396.4h0M564.1 394.1h0M627.2 397.8h0M533.6 409.0h0M533.2 398.4h0M550.3 396.3h0M606.2 393.2h0M631.8 404.5h0M545.4 397.5h0M616.2 393.5h0M570.7 377.2h0M626.8 399.0h0M514.4 408.1h0M553.1 408.9h0M589.8 396.3h0M528.8 400.6h0M562.0 389.5h0M508.5 402.9h0M541.6 406.6h0M512.7 406.7h0M546.9 402.4h0M523.3 396.3h0M598.9 403.3h0M511.1 404.4h0M546.1 402.9h0M620.8 406.7h0M541.1 409.1h0M515.8 374.9h0M556.1 386.9h0M632.1 406.2h0M518.9 408.7h0M616.5 394.3h0M595.9 401.7h0M584.0 404.4h0M594.5 395.2h0M563.9 397.8h0M634.6 402.8h0M612.5 385.4h0M537.8 387.8h0M517.7 389.8h0M510.7 408.6h0M592.1 407.5h0M538.5 407.2h0M615.6 405.3h0M521.7 386.6h0M540.3 408.7h0M515.9 404.8h0M530.3 396.8h0M603.1 391.9h0M600.4 378.5h0M509.9 404.7h0M632.8 392.1h0M582.0 402.3h0M587.6 403.4h0M515.8 382.5h0M570.9 382.1h0M564.3 405.7h0M574.5 391.3h0M632.9 382.6h0M625.4 400.0h0M580.7 391.1h0M516.4 393.5h0M616.8 406.7h0M596.7 408.1h0M612.4 403.1h0M601.1 407.7h0M559.2 381.1h0M521.8 401.3h0M609.1 406.5h0M561.6 408.6h0M604.0 392.4h0M588.8 383.4h0M585.6 406.9h0M636.2 404.0h0M561.4 390.7h0M551.4 368.3h0M594.3 398.9h0M551.9 409.2h0M580.9 408.7h0M527.8 385.3h0M589.5 397.2h0M511.9 403.7h0M600.7 399.4h0M608.5 397.0h0M540.3 404.8h0M571.3 382.1h0M571.8 401.3h0M591.7 397.7h0M596.8 407.0h0M560.0 390.4h0M570.6 407.8h0M610.2 403.2h0M580.4 382.9h0M549.9 408.7h0M509.2 401.2h0M527.5 383.9h0M600.6 398.5h0M586.2 393.6h0M627.4 407.1h0M552.9 383.7h0M543.5 408.7h0M518.7 406.3h0M547.0 401.2h0M595.4 408.7h0M622.4 405.2h0M545.1 391.9h0M556.2 392.4h0M618.8 402.8h0M518.1 406.8h0M519.4 378.3h0M611.5 395.0h0M583.3 405.8h0M624.2 408.2h0M546.3 382.2h0M604.7 376.7h0M622.6 369.9h0M569.4 404.5h0M586.2 384.4h0M532.3 399.8h0M620.8 398.8h0M512.5 408.1h0M566.1 407.3h0M534.5 408.1h0M579.0 400.2h0M554.4 377.2h0M553.5 404.0h0M600.5 391.4h0M566.0 402.4h0M615.7 399.9h0M605.0 399.3h0M582.9 405.1h0M543.6 374.9h0M516.2 389.0h0M589.0 404.6h0M537.4 399.1h0M544.1 403.3h0M558.4 403.2h0M537.6 402.8h0M625.9 404.1h0M534.7 408.4h0M625.5 407.8h0M538.6 404.9h0M543.0 398.0h0M572.2 406.9h0M542.4 371.2h0M564.0 397.7h0M550.2 376.1h0M610.4 404.2h0M619.4 396.8h0M577.1 404.7h0M546.7 391.8h0M564.4 385.3h0M559.8 404.7h0M619.3 409.2h0M611.4 386.0h0M585.6 399.2h0M583.4 407.8h0M591.2 386.2h0M561.2 404.2h0M615.6 381.0h0M576.3 374.7h0M529.6 384.6h0M531.2 391.6h0M528.6 403.0h0M636.2 376.1h0M527.8 375.9h0M636.6 404.9h0M612.7 405.7h0M523.7 407.1h0M602.8 409.0h0M518.7 405.4h0M519.0 397.9h0M622.8 408.4h0M520.9 397.5h0M556.8 389.3h0M628.5 405.0h0M573.2 405.6h0M629.4 392.4h0M602.6 383.3h0M590.3 391.5h0M595.8 393.0h0M545.6 391.2h0M576.6 408.7h0M510.0 407.5h0M568.0 405.8h0M554.1 400.8h0M544.8 390.8h0M624.7 402.4h0M544.9 398.8h0M549.8 399.7h0M617.9 383.9h0M575.4 400.5h0M619.6 397.5h0M517.8 405.8h0M629.8 385.8h0M607.7 407.3h0M509.3 388.2h0M617.1 402.1h0M559.5 406.9h0M549.4 402.5h0M514.6 392.3h0M535.9 407.7h0M602.4 393.9h0M625.3 386.4h0M602.7 405.6h0M635.6 408.5h0M592.1 393.6h0M630.0 394.6h0M567.9 401.7h0M620.3 378.8h0M532.8 401.8h0M608.3 408.3h0M607.2 407.7h0M611.4 400.3h0M532.9 390.4h0M623.6 398.5h0M529.2 408.9h0M551.2 390.2h0M620.1 401.0h0M537.7 406.2h0M528.6 408.7h0M566.4 381.1h0M528.3 392.4h0M536.6 406.8h0M560.3 400.4h0M517.4 406.9h0M623.3 400.9h0M539.7 404.4h0M613.1 402.8h0M543.9 388.9h0M556.8 394.4h0M621.3 407.6h0M570.3 397.0h0M508.6 405.5h0M631.0 404.8h0M539.4 394.9h0M594.6 399.9h0M620.7 403.2h0M634.1 406.4h0M571.6 384.4h0M560.2 395.0h0M525.1 389.0h0M629.5 401.2h0M595.5 403.8h0M580.3 397.7h0M634.5 395.6h0M517.8 406.1h0M538.6 406.9h0M547.6 408.1h0M518.7 408.9h0M618.0 397.9h0M517.7 405.0h0M592.8 397.8h0M546.0 391.8h0M589.3 408.4h0M512.1 404.6h0M632.4 403.5h0M612.1 386.2h0M524.3 404.3h0M546.7 404.1h0M584.7 408.4h0M622.8 406.9h0M633.6 401.2h0M564.2 402.4h0M576.0 390.5h0M601.4 378.5h0M552.7 400.4h0M623.1 405.0h0M615.7 387.6h0M529.8 407.7h0M613.6 392.7h0M515.5 405.5h0M563.3 404.1h0M566.8 402.7h0M589.1 390.2h0M614.8 377.4h0M514.7 399.8h0M603.3 403.8h0M616.3 396.5h0M552.5 385.5h0M633.5 408.1h0M563.9 403.2h0M606.7 382.7h0M554.8 395.0h0M542.4 408.2h0M627.4 406.1h0M550.2 370.5h0M626.7 368.7h0M587.0 404.9h0M538.2 407.9h0M577.8 407.0h0M611.5 407.1h0M601.2 369.8h0M599.4 403.0h0M519.7 379.5h0M589.1 390.3h0M609.4 404.6h0M562.7 407.2h0M615.9 387.6h0M515.1 372.9h0M617.4 394.5h0M575.9 379.4h0M593.1 405.9h0M549.0 406.0h0M561.7 395.6h0M574.9 395.5h0M616.8 372.6h0M604.3 398.8h0M634.8 403.5h0M539.8 379.4h0M616.8 408.1h0M622.2 406.8h0M564.6 400.4h0M589.7 401.8h0M564.8 406.7h0M588.3 404.1h0M632.2 405.9h0M603.7 383.9h0M518.1 404.5h0M558.0 398.0h0M596.7 401.5h0M599.2 407.6h0M509.5 378.7h0M573.3 389.0h0M547.8 407.0h0M534.5 394.5h0M538.9 406.9h0M565.8 408.6h0M558.9 384.0h0M593.9 390.7h0M513.1 407.4h0M601.2 396.2h0M572.4 402.8h0M516.3 403.2h0M539.1 407.3h0M524.1 408.0h0M529.0 404.0h0M626.8 401.7h0M521.8 383.7h0M585.3 388.3h0M608.2 408.7h0M630.5 407.2h0M559.3 394.5h0M629.0 404.4h0M559.0 408.8h0M599.5 399.0h0M605.4 403.8h0M508.6 395.4h0M628.0 389.3h0M574.5 406.0h0M587.1 397.9h0M542.0 393.2h0M569.3 398.4h0M619.2 406.8h0M622.2 405.8h0M632.4 394.3h0M624.9 399.5h0M597.4 405.1h0M560.6 383.4h0M595.0 393.7h0M522.1 391.9h0M626.5 405.7h0M534.1 402.3h0M525.5 399.1h0M627.0 394.8h0M594.3 403.2h0M543.8 406.5h0M512.2 403.3h0M577.3 407.0h0M609.6 408.9h0M575.7 403.3h0M617.3 401.7h0M592.7 371.8h0M622.1 399.9h0M601.9 403.8h0M542.2 405.6h0M594.3 402.7h0M551.6 400.3h0M531.4 392.5h0M578.7 396.8h0M615.5 398.4h0M546.9 380.6h0M622.5 405.6h0M520.9 385.3h0M534.1 405.5h0M547.2 383.7h0M609.8 400.9h0M508.7 377.9h0M589.6 401.0h0M585.0 407.5h0M630.0 401.5h0M594.6 396.9h0M555.0 407.9h0M622.7 405.2h0M622.4 392.4h0M617.4 406.5h0M538.6 394.6h0M566.0 408.9h0M593.2 383.7h0M574.4 399.1h0M558.8 387.8h0M546.4 404.3h0M548.2 404.2h0M604.3 381.6h0M568.5 404.1h0M586.9 407.4h0M623.9 399.9h0M581.3 409.1h0M612.0 368.6h0M563.2 398.0h0M531.0 408.9h0M585.8 408.4h0M544.8 403.5h0M566.0 408.8h0M577.9 381.7h0M590.3 408.1h0M552.8 388.5h0M545.3 393.3h0M582.2 398.6h0M624.2 406.2h0M555.9 409.1h0M515.4 399.8h0M609.7 367.5h0M512.1 405.5h0M524.0 405.3h0M529.1 401.1h0M544.6 366.8h0M594.5 398.4h0M542.8 393.6h0M585.4 393.2h0M591.2 408.7h0M600.8 407.8h0M513.7 408.8h0M587.1 407.0h0M588.6 408.7h0M510.7 389.3h0M626.7 406.0h0M516.7 398.4h0M555.5 398.3h0M526.3 398.3h0M609.3 403.1h0M607.7 383.5h0M572.8 389.4h0M533.6 401.1h0M555.3 400.3h0M531.6 397.0h0M609.1 390.2h0M537.4 405.6h0M543.4 405.3h0M546.8 406.8h0M571.8 406.2h0M623.3 406.9h0M561.0 385.6h0M513.4 392.9h0M569.9 409.1h0M514.1 400.4h0M582.6 406.7h0M608.2 388.3h0M563.3 402.9h0M604.2 389.3h0M632.9 398.2h0M611.7 407.8h0M620.2 405.6h0M542.0 406.8h0M599.8 404.9h0M606.8 392.8h0M519.5 403.8h0M555.6 394.7h0M544.4 405.6h0M614.6 375.6h0M534.3 380.6h0M533.6 392.7h0M599.8 390.1h0M543.5 389.6h0M523.4 406.6h0M631.6 391.9h0M539.1 405.5h0M574.8 388.2h0M560.3 401.9h0M530.9 408.4h0M622.4 403.7h0M508.8 403.0h0M523.3 405.1h0M606.2 402.3h0M601.8 388.5h0M592.3 381.3h0M553.9 409.1h0M603.9 409.1h0M567.3 389.0h0M555.0 397.7h0M578.2 399.2h0M510.4 405.4h0M629.0 405.3h0M575.6 406.5h0M598.9 408.2h0M579.7 400.4h0M597.9 389.3h0M596.2 406.4h0M590.9 393.1h0M632.0 398.2h0M605.4 394.9h0M566.6 406.0h0M556.0 400.3h0M628.5 392.2h0M574.7 408.7h0M575.1 407.6h0M537.2 399.8h0M572.6 408.6h0M514.8 407.8h0M585.9 402.5h0M625.5 390.9h0M544.5 407.3h0M615.4 395.2h0M626.0 407.8h0M520.2 407.7h0M554.8 405.4h0M599.3 404.5h0M554.5 375.6h0M615.8 400.9h0M548.2 370.4h0M531.9 407.6h0M520.6 401.8h0M563.3 402.8h0M576.9 407.2h0M513.4 405.3h0M634.9 405.8h0M578.5 405.7h0M524.0 375.1h0M582.6 408.3h0M545.3 404.5h0M554.4 391.1h0M519.6 397.3h0M560.2 404.5h0M567.8 399.0h0M573.9 409.0h0M612.1 407.4h0M561.0 406.6h0M621.6 377.7h0M554.9 372.4h0M555.1 403.3h0M531.6 401.2h0M575.1 408.5h0M511.6 400.4h0M534.9 396.1h0M527.5 406.3h0M597.7 404.1h0M572.1 408.9h0M526.2 408.0h0M631.7 407.7h0M575.6 407.3h0M596.1 392.6h0M618.5 408.4h0M551.4 398.3h0M578.5 406.7h0M581.6 403.8h0M550.6 386.4h0M632.5 404.6h0M609.6 398.5h0M518.2 384.7h0M563.9 392.1h0M575.7 407.2h0M548.2 405.1h0M509.3 408.8h0M528.9 404.1h0M624.0 405.3h0M576.8 398.1h0M603.9 406.7h0M610.1 392.0h0M570.8 394.4h0M611.1 401.8h0M536.2 385.4h0M513.9 407.3h0M530.2 394.1h0M510.6 402.7h0M634.7 400.5h0M589.8 401.0h0M574.7 397.2h0M545.2 394.3h0M549.1 382.6h0M594.8 371.2h0M571.1 404.1h0M568.5 406.8h0M508.6 400.2h0M635.0 399.5h0M561.8 397.2h0M612.8 383.3h0M514.2 397.0h0M619.9 391.4h0M562.5 398.7h0M618.4 400.2h0M595.7 402.3h0M592.6 408.6h0M562.4 380.0h0M604.5 403.5h0M606.5 408.3h0M619.8 397.7h0M591.6 385.8h0M515.0 406.3h0M610.9 406.3h0M581.2 379.5h0M611.5 399.8h0M521.5 403.6h0M628.1 395.3h0M610.4 367.8h0M608.6 404.3h0M605.3 397.3h0M513.3 394.6h0M532.9 375.4h0M625.2 400.9h0M618.0 406.3h0M529.9 407.3h0M538.9 398.2h0M573.9 402.6h0M598.8 399.3h0M546.7 379.3h0M570.7 390.6h0M580.3 392.3h0M544.2 389.0h0M541.5 388.0h0M580.8 399.5h0M632.8 407.0h0M603.9 403.6h0M587.3 397.5h0M543.8 408.8h0M516.6 407.4h0M601.8 385.4h0M595.8 394.8h0M527.9 404.2h0M610.2 401.6h0M531.3 404.9h0M622.0 390.5h0M584.3 405.7h0M547.5 383.0h0M527.9 400.0h0M594.5 402.6h0M533.2 406.2h0M559.0 398.8h0M541.0 392.6h0M566.9 406.8h0M574.3 406.1h0M628.3 406.6h0M524.9 406.2h0M597.1 405.6h0M635.7 388.7h0M589.0 396.8h0M552.7 397.8h0M611.3 377.8h0M510.5 398.7h0M605.0 396.1h0M606.1 394.9h0M594.2 405.6h0M606.0 378.0h0M528.7 407.1h0M566.7 396.9h0M525.6 407.6h0M587.2 399.5h0M599.9 384.7h0M551.3 394.1h0M508.5 407.0h0M563.3 406.9h0M601.5 397.1h0M591.7 406.4h0M542.4 402.4h0M552.3 407.8h0M628.5 376.3h0M538.1 388.5h0M518.8 400.7h0M563.7 396.8h0M582.4 400.5h0M636.3 405.6h0M511.1 389.6h0M597.0 403.0h0M585.5 405.8h0M603.8 376.7h0M553.5 399.0h0M572.6 407.4h0M561.4 400.0h0M509.4 405.7h0M540.5 404.6h0M572.5 408.6h0M601.0 388.0h0M508.5 371.2h0M610.2 406.7h0M521.5 404.5h0M569.5 397.0h0M606.7 408.7h0M602.2 367.3h0M632.0 399.9h0M635.2 403.8h0M634.3 396.9h0M600.1 395.1h0M620.7 406.0h0M530.4 407.5h0M553.9 409.0h0M624.7 398.7h0M611.3 397.3h0M539.4 408.4h0M562.5 398.8h0M613.4 378.1h0M513.6 396.0h0M601.8 396.2h0M554.8 377.1h0M537.4 405.8h0M600.4 407.1h0M593.8 406.1h0M612.2 388.4h0M521.5 403.2h0M635.9 389.4h0M636.1 398.9h0M513.3 399.1h0M528.7 407.1h0M584.9 383.2h0M511.8 403.4h0M588.3 385.6h0M529.2 396.8h0M572.9 396.4h0M549.0 407.8h0M600.0 408.1h0M627.1 403.1h0M603.7 402.9h0M601.8 403.4h0M567.1 407.6h0M559.0 405.5h0M536.6 399.5h0M621.5 407.6h0M521.8 409.0h0M566.5 407.0h0M593.8 404.0h0M513.1 406.9h0M624.7 399.1h0M509.8 395.1h0M518.9 403.2h0M633.7 398.5h0M553.2 392.8h0M565.3 408.6h0M606.1 369.6h0M616.3 398.7h0M594.6 404.6h0M546.3 405.9h0M584.1 403.3h0M574.6 406.0h0M630.7 404.0h0M578.1 399.6h0M523.2 390.8h0M571.3 405.7h0M559.5 407.2h0M567.9 409.0h0M529.0 408.5h0M622.3 393.7h0M611.6 390.3h0M635.8 406.4h0M531.2 398.6h0M515.2 394.8h0M514.0 407.6h0M528.6 384.1h0M550.9 402.4h0M543.5 399.5h0M633.8 397.8h0M567.6 408.7h0M511.0 374.1h0M509.9 404.7h0M581.8 382.4h0M549.2 400.6h0M607.2 406.5h0M578.4 391.8h0M630.7 395.6h0M609.5 388.1h0M599.4 389.8h0M514.2 369.0h0M624.8 373.9h0M618.7 404.2h0M543.7 379.3h0M626.5 403.9h0M556.7 407.6h0M533.2 373.9h0M574.4 402.7h0M513.0 382.4h0M511.5 408.1h0M555.1 401.4h0M519.5 405.9h0M590.5 400.0h0M605.1 408.1h0M558.5 404.6h0M541.5 374.1h0M597.5 393.9h0M545.3 395.4h0M624.4 386.1h0M567.5 408.1h0M617.1 400.5h0M626.2 390.2h0M587.4 408.7h0M516.3 402.6h0M595.7 397.0h0M635.1 408.9h0M581.0 401.2h0M542.5 398.4h0M622.6 399.8h0M540.1 398.6h0M544.4 381.6h0M585.7 393.5h0M511.6 370.4h0M512.7 400.6h0M512.0 381.5h0M513.0 361.6h0M523.6 401.4h0M520.9 373.7h0M510.7 358.4h0M517.9 396.7h0M513.8 377.3h0M522.0 382.4h0M526.0 406.0h0M513.5 400.5h0M521.3 401.8h0M517.0 369.0h0M524.0 393.1h0M511.4 390.7h0M521.6 373.9h0M520.2 392.1h0M509.0 404.6h0M520.2 382.9h0M517.3 370.2h0M519.2 367.5h0M512.7 369.5h0M524.8 377.5h0M522.4 373.1h0M514.2 352.6h0M523.7 378.5h0M511.0 358.4h0M527.5 392.8h0M520.5 403.7h0M513.0 396.1h0M512.6 373.5h0M525.8 404.6h0M516.9 402.6h0M511.9 395.2h0M515.2 408.0h0M510.4 380.5h0M513.5 388.8h0M522.2 391.2h0M513.1 383.6h0M528.8 394.5h0M518.1 387.9h0M513.1 408.3h0M527.4 408.8h0M519.1 364.8h0M512.6 386.3h0M513.1 406.4h0M527.5 389.1h0M522.0 384.9h0M510.0 377.1h0M523.2 398.4h0M516.1 400.3h0M519.7 391.4h0M509.9 405.3h0M511.9 379.3h0M529.0 390.3h0M509.9 408.2h0M516.8 365.7h0M521.1 401.8h0M510.1 376.1h0M508.7 371.8h0M517.8 403.2h0M515.4 400.0h0M521.0 404.6h0M514.9 367.8h0M513.6 396.1h0M516.9 389.4h0M515.3 395.4h0M522.7 386.8h0M518.0 406.5h0M524.5 376.4h0M509.1 384.4h0M514.7 360.4h0M515.0 391.1h0M514.8 402.6h0M519.4 361.6h0M513.0 365.0h0M527.7 393.0h0M513.6 397.6h0M515.5 386.1h0M513.1 388.3h0M517.5 351.8h0M513.1 381.8h0M526.3 386.4h0M508.6 405.1h0M516.4 391.7h0M516.8 384.0h0M517.9 355.2h0M510.6 367.8h0M519.6 385.6h0M513.9 372.1h0M509.3 378.9h0M520.3 368.7h0M514.4 399.5h0M508.7 379.6h0M516.6 353.3h0M522.5 380.7h0M515.8 351.9h0M518.9 367.4h0M515.0 384.6h0M520.2 395.0h0M513.8 365.1h0M517.3 371.3h0M513.7 386.7h0M538.3 375.7h0M536.5 376.9h0M531.4 377.8h0M521.5 386.7h0M534.0 388.7h0M522.8 400.0h0M537.6 385.4h0M539.8 408.9h0M532.3 405.0h0M528.5 387.0h0M527.1 394.9h0M529.3 369.3h0M533.2 373.5h0M529.2 391.2h0M521.3 393.2h0M529.8 371.0h0M528.2 368.5h0M525.5 385.1h0M521.8 405.6h0M529.7 395.8h0M530.3 385.9h0M531.5 402.3h0M538.2 376.6h0M533.4 351.4h0M531.0 366.4h0M536.1 388.3h0M530.3 361.3h0M528.4 362.6h0M522.8 396.0h0M526.8 375.7h0M530.4 362.0h0M532.5 404.0h0M524.0 383.3h0M524.9 394.7h0M544.2 393.4h0M523.5 393.2h0M529.8 399.7h0M539.8 391.8h0M520.1 394.3h0M529.5 369.0h0M531.0 390.3h0M526.3 395.6h0M539.2 403.6h0M523.9 402.6h0M531.5 362.5h0M532.6 370.2h0M522.9 403.0h0M540.4 381.6h0M525.1 382.5h0M529.7 369.1h0M539.8 381.2h0M534.8 401.4h0M536.8 392.1h0M530.8 365.1h0M536.9 406.0h0M531.4 376.1h0M532.2 356.9h0M516.1 393.9h0M535.7 362.6h0M534.3 354.2h0M531.0 406.6h0M523.5 402.9h0M534.2 375.3h0M537.6 392.5h0M540.2 392.3h0M524.3 374.1h0M540.1 402.6h0M533.3 349.4h0M541.2 393.7h0M534.9 357.9h0M538.0 407.7h0M537.2 387.8h0M534.0 358.4h0M533.7 398.4h0M537.9 375.9h0M539.2 375.9h0M531.7 388.8h0M526.4 368.3h0M532.5 355.4h0M532.8 362.9h0M520.3 407.3h0M526.5 394.8h0M535.2 369.5h0M535.9 369.5h0M524.5 380.3h0M542.7 394.4h0M546.7 383.1h0M550.7 388.0h0M544.5 389.9h0M550.4 378.2h0M544.6 406.6h0M542.5 393.3h0M550.4 403.3h0M547.2 384.8h0M543.9 399.3h0M539.2 407.4h0M543.9 383.7h0M545.0 384.5h0M546.8 393.0h0M551.7 398.7h0M540.7 389.3h0M549.9 380.9h0M550.9 387.8h0M548.8 407.4h0M544.1 386.0h0M542.8 390.7h0M549.7 395.7h0M547.6 407.6h0M549.6 396.0h0M546.0 400.3h0M545.7 386.0h0M553.4 407.3h0M547.5 390.8h0M545.9 381.3h0M539.8 403.2h0M546.2 404.9h0M544.1 403.7h0M549.1 408.9h0M547.8 385.5h0M548.1 365.0h0M546.9 406.1h0M547.4 399.2h0M539.9 396.2h0M552.5 397.3h0M545.5 368.4h0M546.8 400.5h0M543.0 400.6h0M543.8 375.1h0M565.5 388.2h0M560.2 376.4h0M568.0 375.7h0M554.5 391.0h0M554.4 403.2h0M565.3 342.2h0M563.0 362.1h0M573.9 399.2h0M557.6 346.9h0M566.4 408.2h0M563.0 378.5h0M568.1 404.3h0M565.0 352.6h0M574.5 389.8h0M568.4 368.8h0M548.1 388.0h0M562.5 400.0h0M562.7 407.9h0M567.4 406.4h0M562.1 338.2h0M554.0 370.7h0M558.1 343.9h0M563.6 388.6h0M578.1 382.3h0M582.7 384.9h0M576.0 378.3h0M573.6 374.9h0M586.9 403.8h0M581.8 391.7h0M576.5 375.9h0M577.7 365.0h0M574.1 353.1h0M577.6 408.9h0M571.3 358.8h0M580.1 364.8h0M578.2 355.1h0M574.8 355.8h0M583.0 389.1h0M589.3 350.1h0M588.3 357.6h0M587.8 360.3h0M594.7 392.7h0M578.9 399.1h0M589.1 400.8h0M591.4 401.7h0M586.7 391.9h0M590.3 387.3h0M583.9 397.5h0M588.4 396.2h0M585.9 408.5h0M587.7 357.4h0M582.8 381.8h0M596.7 394.7h0M588.9 398.8h0M587.3 352.8h0M586.7 389.2h0M587.1 343.7h0M586.5 404.2h0M586.8 368.3h0M598.0 398.7h0M593.5 395.6h0M596.0 406.2h0M598.4 384.9h0M599.2 388.7h0M601.7 392.8h0M601.0 402.3h0M596.1 389.7h0M591.4 401.2h0M593.7 399.0h0M596.3 380.8h0M601.5 388.1h0M597.9 394.2h0M595.5 407.6h0M598.6 374.5h0M596.8 401.4h0M595.7 396.1h0M595.3 395.8h0M602.6 401.5h0M595.0 385.4h0M600.0 385.5h0M596.8 393.9h0M601.1 387.0h0M594.5 396.1h0M601.9 403.9h0M604.4 391.5h0M610.6 355.1h0M605.6 344.7h0M616.3 404.9h0M612.3 363.4h0M609.0 374.3h0M607.3 346.2h0M603.9 384.8h0M606.9 383.3h0M613.2 401.4h0M611.3 396.0h0M612.3 406.4h0M598.9 394.1h0M595.4 407.0h0M604.0 402.5h0M603.9 388.5h0M613.3 371.7h0M604.2 358.2h0M612.4 369.6h0M610.8 361.5h0M603.8 375.1h0M612.8 402.8h0M608.4 394.6h0M605.5 386.0h0M615.5 385.5h0M611.0 359.6h0M604.4 373.8h0M612.1 388.4h0M606.6 397.2h0M603.1 360.9h0M608.0 401.8h0M616.0 392.6h0M601.8 395.2h0M611.6 409.1h0M611.8 369.0h0M606.7 355.6h0M603.2 385.6h0M602.4 371.2h0M608.9 404.2h0M600.2 379.3h0M614.5 399.6h0M606.1 358.9h0M611.4 399.4h0M604.5 376.8h0M612.6 374.1h0M612.8 408.6h0M605.4 376.5h0M604.8 348.9h0M613.9 375.1h0M613.0 383.4h0M607.1 366.0h0M602.5 367.8h0M606.6 374.7h0M607.8 399.4h0M600.8 382.8h0M613.9 372.1h0M611.2 373.0h0M611.5 405.6h0M601.4 405.6h0M608.8 383.2h0M606.4 351.0h0M615.9 390.5h0M605.9 393.5h0M602.0 383.4h0M598.3 381.0h0M605.2 356.7h0M607.4 396.4h0M595.7 407.5h0M617.9 404.5h0M619.1 389.7h0M607.9 367.0h0M601.2 385.9h0M599.7 384.6h0M614.0 397.1h0M601.4 390.5h0M599.4 406.8h0M612.4 385.0h0M603.1 371.0h0M607.2 349.2h0M605.2 348.4h0M603.3 391.9h0M599.2 382.3h0M600.9 377.3h0M608.3 404.2h0M602.4 369.5h0M604.0 398.0h0M606.0 407.2h0M596.3 408.1h0M617.5 402.0h0M613.5 371.8h0M628.1 367.7h0M624.9 361.7h0M631.3 391.0h0M618.9 364.1h0M628.5 375.6h0M632.0 390.0h0M621.9 367.1h0M620.6 366.8h0M626.0 344.9h0M628.0 382.2h0M623.6 373.2h0M625.9 352.7h0M614.8 381.6h0M621.0 388.6h0M617.3 359.0h0M621.0 337.1h0M621.3 341.4h0M626.7 355.6h0M632.0 397.2h0M624.5 384.1h0M629.4 409.0h0M627.3 365.8h0M625.3 408.1h0M608.7 393.6h0M621.3 383.6h0M622.8 358.6h0M619.2 358.2h0M620.8 397.1h0M611.9 389.4h0M622.3 370.6h0M626.7 364.0h0M623.3 344.2h0M621.6 355.4h0M622.8 359.7h0M621.6 372.0h0M614.9 365.2h0M616.5 355.8h0M620.8 358.2h0M623.9 406.9h0M619.2 362.0h0M629.3 359.9h0M623.6 370.7h0M625.3 399.3h0M631.3 396.8h0M612.6 400.7h0M631.2 399.5h0M618.3 372.8h0M620.8 338.8h0M625.6 366.9h0M625.9 393.5h0M620.2 408.7h0M615.8 379.2h0M622.8 373.4h0M614.5 385.9h0M622.0 399.1h0M627.4 391.1h0M619.6 332.8h0M621.6 369.1h0M622.8 372.9h0M629.9 364.5h0M632.6 401.6h0M619.6 351.5h0M624.8 337.8h0M618.8 343.8h0M617.6 344.2h0M626.4 366.4h0M622.2 409.0h0M619.8 357.3h0M613.9 407.0h0M623.3 365.6h0M627.2 356.9h0M624.6 400.3h0M626.7 398.4h0M621.6 379.2h0M610.8 386.6h0M629.6 404.4h0M629.6 400.8h0M623.2 329.0h0M624.5 402.5h0M625.6 365.5h0M620.3 381.9h0M623.2 362.7h0M612.9 399.9h0M627.6 376.0h0M613.9 391.3h0M633.5 402.4h0M629.9 396.6h0M629.0 391.2h0M634.8 402.2h0M633.3 365.9h0M624.6 409.2h0M635.1 381.1h0M632.9 366.4h0M634.0 375.8h0M632.3 403.6h0M634.4 378.6h0M633.2 356.2h0M631.7 406.4h0M628.8 399.6h0M635.7 370.4h0M634.1 365.5h0M636.5 403.5h0M633.0 364.1h0M631.1 402.7h0M635.5 361.8h0M634.7 372.5h0M635.0 362.9h0M635.3 367.0h0M632.9 391.0h0M635.7 366.7h0M631.3 388.1h0M635.8 406.6h0M635.5 397.1h0M632.8 405.7h0M635.1 387.8h0M628.9 391.7h0M636.5 400.5h0M634.1 375.7h0M629.8 403.2h0M635.3 369.8h0M632.4 359.7h0M632.2 399.4h0M634.1 376.4h0M632.5 390.6h0M636.3 398.4h0M632.4 361.2h0M636.1 363.7h0M634.5 390.7h0M634.0 380.6h0" stroke="#FF0B00" stroke-width="2.30" stroke-linecap="round" fill="none"/>
<path d="M591.4 399.2h0M614.9 405.0h0M560.1 399.1h0M517.8 405.5h0M518.6 378.1h0M552.1 395.1h0M576.5 403.5h0M566.8 397.0h0M571.3 405.7h0M511.3 408.0h0M617.8 387.8h0M613.0 402.5h0M618.8 367.7h0M624.1 397.7h0M514.4 402.7h0M586.7 403.5h0M571.8 399.6h0M574.6 408.7h0M581.9 377.2h0M588.1 403.4h0M583.4 385.3h0M577.6 391.9h0M628.5 401.5h0M591.1 384.7h0M558.7 404.8h0M530.4 402.3h0M527.7 408.6h0M512.7 384.9h0M528.6 403.6h0M623.2 400.0h0M577.8 402.3h0M532.8 379.3h0M549.7 393.0h0M547.2 407.9h0M511.5 406.5h0M594.4 387.2h0M623.6 371.3h0M629.8 408.4h0M617.5 394.3h0M606.7 399.1h0M609.0 395.8h0M577.0 394.6h0M606.9 404.8h0M538.3 378.4h0M527.4 408.9h0M570.3 406.2h0M574.0 390.7h0M539.2 399.8h0M628.3 408.5h0M632.7 401.0h0M614.7 391.8h0M536.8 384.9h0M610.9 384.9h0M589.6 381.8h0M554.4 392.8h0M517.0 401.7h0M536.0 407.7h0M607.1 406.8h0M627.8 408.9h0M620.0 408.4h0M605.0 394.6h0M619.0 399.7h0M541.5 406.3h0M608.7 384.7h0M543.0 401.7h0M554.8 395.2h0M545.5 406.5h0M538.1 406.9h0M607.8 397.8h0M621.7 405.5h0M515.9 397.4h0M599.1 375.4h0M528.7 396.2h0M600.3 380.8h0M623.8 384.4h0M545.4 406.7h0M581.5 392.9h0M521.5 401.0h0M560.5 399.8h0M594.8 396.1h0M615.0 394.9h0M572.0 399.0h0M521.2 405.3h0M607.2 377.2h0M543.9 408.1h0M635.3 405.7h0M512.8 408.7h0M519.8 408.4h0M578.8 404.9h0M620.8 407.4h0M559.3 407.1h0M558.1 403.8h0M514.5 354.2h0M513.9 375.0h0M526.8 386.9h0M509.4 401.1h0M510.3 371.6h0M517.1 371.2h0M524.6 386.9h0M509.1 408.9h0M510.0 362.9h0M520.8 399.0h0M524.7 395.9h0M528.8 378.2h0M528.9 394.3h0M528.9 390.6h0M529.8 400.5h0M537.9 397.5h0M522.9 387.5h0M524.2 377.3h0M533.1 373.9h0M529.0 367.2h0M542.1 395.8h0M528.5 384.3h0M535.6 356.2h0M526.1 376.3h0M532.5 400.2h0M531.0 364.5h0M520.5 404.8h0M532.2 365.9h0M534.4 375.8h0M535.2 363.4h0M535.5 376.1h0M534.0 400.7h0M534.4 400.3h0M525.1 403.2h0M535.3 372.9h0M540.0 376.6h0M538.3 383.8h0M530.5 378.2h0M526.0 405.1h0M525.8 381.9h0M541.5 397.3h0M527.6 387.7h0M539.1 372.8h0M526.2 375.7h0M531.6 373.0h0M525.5 384.2h0M534.1 407.5h0M533.8 378.0h0M529.2 357.9h0M535.2 389.8h0M530.8 384.3h0M526.8 402.9h0M527.2 399.1h0M528.1 402.1h0M534.9 388.0h0M556.3 402.3h0M548.9 393.0h0M543.0 382.4h0M547.4 383.9h0M545.9 398.0h0M542.9 408.2h0M542.5 389.5h0M542.7 378.6h0M550.1 399.2h0M548.2 382.5h0M548.3 388.3h0M547.1 371.6h0M545.3 388.5h0M549.4 375.8h0M542.9 407.9h0M544.5 400.1h0M545.7 389.8h0M546.4 400.1h0M561.2 355.4h0M571.0 372.7h0M561.4 381.0h0M551.4 392.5h0M560.2 378.3h0M576.1 387.5h0M568.3 375.0h0M565.5 350.6h0M559.0 391.4h0M555.1 409.0h0M557.8 342.8h0M560.7 362.8h0M551.8 395.4h0M545.4 407.5h0M554.9 373.2h0M555.9 389.9h0M561.9 372.9h0M563.6 365.6h0M559.1 390.1h0M562.9 360.4h0M562.4 338.1h0M561.5 376.8h0M566.4 353.4h0M584.9 376.7h0M570.6 355.8h0M581.9 402.1h0M584.9 380.2h0M575.8 365.9h0M572.5 370.2h0M573.1 392.5h0M577.0 383.3h0M577.5 332.5h0M576.3 337.1h0M581.7 363.1h0M569.7 393.0h0M571.3 353.6h0M570.4 401.3h0M580.4 345.2h0M566.9 395.3h0M577.0 350.6h0M572.7 350.7h0M589.8 402.5h0M565.6 390.6h0M584.7 373.5h0M585.3 402.8h0M574.6 342.1h0M571.2 376.0h0M578.8 351.4h0M595.2 407.0h0M588.0 388.3h0M587.6 384.0h0M593.0 378.7h0M588.6 351.5h0M589.4 374.6h0M584.5 386.0h0M593.6 390.1h0M593.2 400.7h0M586.7 379.6h0M582.5 383.5h0M587.0 357.8h0M585.7 406.6h0M587.0 409.1h0M584.9 357.5h0M587.8 392.3h0M594.9 401.8h0M591.4 396.6h0M591.2 391.4h0M588.5 398.0h0M589.2 388.5h0M594.8 407.1h0M598.8 375.2h0M615.3 385.0h0M604.3 389.7h0M610.9 375.8h0M615.9 393.8h0M600.1 374.6h0M599.2 376.2h0M609.9 374.6h0M619.2 369.7h0M634.4 394.9h0M612.2 395.6h0M626.0 386.7h0M612.6 384.3h0M621.1 399.1h0M618.8 367.5h0M629.3 380.4h0M617.4 344.8h0M613.1 375.5h0M615.6 354.0h0M620.4 378.4h0M620.0 357.3h0M626.6 408.4h0M625.2 349.3h0M620.2 354.9h0M616.9 380.0h0M621.6 327.2h0M616.2 352.0h0M620.2 374.2h0M618.6 397.3h0M624.4 349.7h0M625.4 346.5h0M624.8 368.9h0M629.1 376.4h0M627.5 350.0h0M619.1 392.3h0M622.5 403.0h0M624.8 378.3h0M630.4 365.4h0M619.4 386.9h0M617.5 374.2h0M626.6 365.7h0M616.9 379.9h0M610.6 399.6h0M615.5 390.6h0M621.4 373.0h0M627.2 389.4h0M622.4 355.1h0M618.2 405.1h0M620.1 356.2h0M622.8 344.4h0M619.1 353.4h0M624.1 344.2h0M623.3 388.5h0M625.5 386.2h0M630.2 399.8h0M629.7 391.0h0M618.8 373.4h0M627.5 371.5h0M616.0 355.6h0M619.0 397.6h0M612.4 381.3h0M628.0 380.6h0M624.9 383.8h0M628.0 370.4h0M632.0 367.1h0M632.1 365.5h0" stroke="#FF1600" stroke-width="2.30" stroke-linecap="round" fill="none"/>
<path d="M555.1 405.2h0M564.2 334.1h0M557.0 358.0h0M558.5 342.8h0M564.9 365.4h0M554.5 365.2h0M559.5 404.0h0M562.7 347.9h0M564.1 388.6h0M565.3 347.0h0" stroke="#FFAC00" stroke-width="2.30" stroke-linecap="round" fill="none"/>
<path d="M561.0 368.2h0M562.4 375.3h0M567.0 347.7h0M553.6 396.4h0M566.8 367.3h0M559.2 371.2h0M557.8 354.1h0M553.7 372.6h0M561.8 391.8h0M567.6 381.7h0M573.0 391.6h0M562.0 355.6h0M557.8 389.8h0M565.3 384.3h0M559.3 366.3h0M558.1 402.7h0M554.1 368.9h0M569.2 362.4h0M580.0 406.7h0M578.9 354.3h0M581.9 378.0h0M578.1 348.0h0M573.3 381.1h0M580.5 399.7h0M583.5 386.7h0M573.8 397.6h0M569.3 368.4h0M566.1 397.3h0M577.5 342.6h0M576.9 370.9h0M571.2 358.4h0M572.2 398.9h0M583.8 368.6h0M571.8 396.3h0M576.9 347.7h0M570.5 376.4h0M571.1 395.6h0M572.3 378.1h0M580.8 383.8h0M584.9 404.2h0M579.9 361.1h0M575.1 391.2h0M573.4 349.2h0M572.4 345.5h0M572.3 389.8h0M581.1 379.3h0" stroke="#FF7200" stroke-width="2.30" stroke-linecap="round" fill="none"/>
<path d="M568.5 392.7h0M561.2 373.7h0M569.7 400.4h0M562.5 409.2h0M551.6 384.6h0M555.9 389.8h0M563.4 331.9h0M558.2 380.1h0M572.2 394.6h0M561.5 378.4h0M557.9 348.5h0M558.1 397.0h0M551.7 384.5h0M554.5 379.2h0M563.3 344.3h0M566.7 385.4h0M562.5 352.7h0M570.6 401.7h0M576.3 368.5h0M556.3 404.3h0M576.2 408.9h0M576.2 403.8h0M566.0 384.7h0M576.2 343.1h0M579.9 376.9h0M578.8 340.8h0M570.7 368.1h0M580.1 378.5h0M572.8 357.8h0M576.8 396.4h0M576.2 371.5h0M569.1 371.6h0M567.7 407.7h0M580.6 398.6h0M569.1 360.4h0M587.3 406.8h0M574.9 385.1h0M576.6 369.5h0M582.2 390.7h0M580.4 398.6h0M571.2 384.3h0M572.7 345.9h0M560.7 396.8h0M571.8 354.9h0M574.1 393.0h0M578.3 405.5h0M575.5 403.2h0M578.9 369.6h0M571.2 351.5h0M574.7 383.3h0M584.2 371.7h0M580.6 401.0h0M577.1 362.8h0M581.8 405.5h0M586.4 378.6h0M587.1 407.1h0M574.2 340.4h0" stroke="#FF8500" stroke-width="2.30" stroke-linecap="round" fill="none"/>
<path d="M566.4 350.7h0M558.6 408.4h0M576.0 391.1h0M558.8 380.9h0M563.2 393.0h0M563.8 335.4h0M568.9 393.7h0M568.5 399.2h0M562.4 351.0h0M557.3 357.6h0M554.9 366.1h0M557.5 400.0h0M551.0 386.9h0M560.2 405.4h0M560.9 349.4h0M565.4 397.6h0M561.4 363.8h0M555.4 375.3h0M561.0 402.4h0M557.3 401.9h0M559.8 360.0h0M550.6 402.3h0M567.0 356.7h0M571.2 395.4h0M578.5 344.6h0M574.9 368.6h0M583.9 407.8h0M581.6 390.0h0M587.7 382.3h0M575.1 359.6h0M570.0 379.9h0M571.8 369.4h0M569.0 392.9h0M573.5 359.5h0M572.2 349.3h0M562.5 406.4h0M585.9 400.1h0M572.4 390.7h0M576.4 354.9h0M579.5 407.2h0M574.8 346.5h0M582.6 361.4h0M580.8 374.8h0M575.7 392.4h0M573.7 357.3h0M579.2 407.4h0M579.3 340.3h0M568.8 398.9h0M579.7 378.4h0M583.6 386.8h0M562.0 390.4h0M566.4 377.8h0M580.3 384.8h0M580.1 367.4h0M579.7 403.5h0M578.9 356.3h0M576.7 330.4h0M573.1 392.2h0M557.3 405.0h0M576.4 372.5h0M569.9 371.4h0M578.5 406.6h0M587.1 396.4h0M582.6 404.5h0M589.9 400.0h0M582.9 387.5h0M586.3 377.8h0M582.9 399.6h0M583.7 391.2h0" stroke="#FF5500" stroke-width="2.30" stroke-linecap="round" fill="none"/>
<path d="M560.1 342.3h0M548.3 404.5h0M561.3 404.6h0M559.1 383.8h0M572.2 399.0h0M569.7 407.0h0M565.2 338.8h0M566.4 353.4h0M565.0 350.6h0M554.0 368.6h0M562.2 386.4h0M561.7 363.0h0M559.1 337.7h0M560.3 376.8h0M555.4 388.3h0M565.5 387.1h0M559.9 401.7h0M567.9 381.9h0M556.5 354.7h0M560.6 363.5h0M554.8 378.4h0M568.1 371.7h0M559.8 409.2h0M557.8 347.0h0" stroke="#FF9800" stroke-width="2.30" stroke-linecap="round" fill="none"/>
<path d="M567.7 364.9h0M569.8 375.8h0M560.2 338.1h0M564.1 372.6h0M564.2 334.6h0M568.2 362.0h0M570.2 380.4h0M563.0 353.4h0M561.5 341.3h0M559.4 394.2h0M559.3 336.9h0M566.2 401.0h0M558.5 371.0h0M556.2 361.9h0M571.8 399.9h0M557.8 384.2h0M561.2 392.7h0M563.8 398.4h0M557.0 384.6h0M569.0 388.0h0M564.7 403.4h0M567.1 389.9h0M576.1 378.2h0M569.8 359.4h0M578.2 381.8h0M579.6 339.7h0M583.0 399.3h0M593.8 398.0h0M582.4 407.3h0M587.4 409.2h0M577.4 388.3h0M580.9 394.8h0M574.7 382.6h0M578.5 368.7h0M579.0 358.5h0M574.6 375.2h0M572.1 387.1h0M565.3 400.0h0M578.6 380.4h0M568.1 377.1h0M573.8 341.0h0M580.6 355.9h0M578.8 405.7h0M561.9 392.0h0M566.7 395.0h0M576.7 402.1h0M589.6 395.2h0M584.5 365.4h0M589.6 404.8h0M590.3 368.7h0M587.5 382.7h0M590.4 359.8h0M590.1 362.4h0M592.4 372.7h0M594.0 400.0h0M591.1 403.1h0M586.8 403.5h0M589.2 404.3h0M581.6 399.0h0M586.1 392.5h0M583.3 367.7h0M588.7 387.5h0M584.7 379.7h0M583.3 400.0h0M582.4 373.4h0M585.7 407.1h0M591.1 387.1h0" stroke="#FF3500" stroke-width="2.30" stroke-linecap="round" fill="none"/>
<path d="M537.5 321.5h0M537.5 324.0h0M513.0 346.5h0M517.0 345.5h0M528.0 346.5h0M540.5 338.5h0M552.2 329.0h0M619.5 327.3h0M624.2 333.3h0M624.5 336.3h0M601.0 341.0h0M606.0 341.0h0M618.5 339.2h0" stroke="#FF0B00" stroke-width="2.30" stroke-linecap="round" fill="none"/>
<path d="M572.4 322.9h0M569.8 316.4h0M570.3 319.6h0M571.3 320.2h0M571.3 323.2h0M570.9 317.6h0M571.4 320.1h0M569.5 310.2h0M570.3 320.9h0M566.1 317.7h0M566.5 349.6h0M570.0 335.2h0M574.7 340.5h0M568.4 347.5h0M572.8 349.3h0M569.1 337.4h0" stroke="#FF8500" stroke-width="2.30" stroke-linecap="round" fill="none"/>
<path d="M568.9 316.9h0M572.2 324.4h0M573.7 312.2h0M570.8 328.1h0M569.2 320.0h0M569.8 317.6h0M572.2 318.4h0M570.7 318.7h0M566.5 318.9h0M567.2 317.4h0M569.7 316.1h0M568.9 316.3h0M572.3 327.0h0M572.8 358.8h0M569.0 352.6h0M568.1 341.5h0M568.2 338.7h0M574.0 351.8h0M573.0 351.1h0M566.6 357.6h0M569.3 340.3h0" stroke="#FF7200" stroke-width="2.30" stroke-linecap="round" fill="none"/>
<path d="M570.5 317.1h0" stroke="#FF5500" stroke-width="2.30" stroke-linecap="round" fill="none"/>
<path d="M565.2 315.8h0M562.9 331.1h0M560.3 330.8h0M563.3 322.5h0M566.4 316.4h0M572.7 381.5h0M571.2 378.8h0M563.7 357.9h0M557.8 358.7h0" stroke="#B9F00D" stroke-width="2.30" stroke-linecap="round" fill="none"/>
<path d="M565.7 317.0h0M560.0 332.2h0M563.8 321.3h0M560.5 332.4h0M564.3 319.0h0M569.9 370.2h0M558.9 345.8h0M564.8 348.2h0M564.2 366.4h0M545.4 352.8h0M575.2 391.7h0M556.8 381.8h0M563.8 352.0h0M568.4 369.5h0" stroke="#A8F811" stroke-width="2.30" stroke-linecap="round" fill="none"/>
<path d="M563.7 320.6h0M561.4 329.9h0M569.9 365.1h0M557.5 370.2h0M573.3 367.7h0M553.3 359.5h0M568.6 353.8h0M582.8 361.6h0M567.3 293.7h0" stroke="#96FF14" stroke-width="2.30" stroke-linecap="round" fill="none"/>
<path d="M563.3 350.8h0M569.9 369.4h0M559.2 360.4h0M565.2 362.8h0M570.0 357.6h0M555.9 356.2h0M568.9 363.4h0M553.6 342.0h0" stroke="#7BFB23" stroke-width="2.30" stroke-linecap="round" fill="none"/>
<path d="M573.2 355.0h0M575.6 342.1h0" stroke="#5FF832" stroke-width="2.30" stroke-linecap="round" fill="none"/>
<path d="M568.5 353.3h0" stroke="#CAE80A" stroke-width="2.30" stroke-linecap="round" fill="none"/>
<path d="M572.2 266.2h0M572.2 268.6h0" stroke="#B428FF" stroke-width="2.30" stroke-linecap="round" fill="none"/>
<path d="M570.0 285.5h0M561.5 324.5h0" stroke="#FF0B00" stroke-width="2.30" stroke-linecap="round" fill="none"/>
<path d="M570.2 324.5h0M569.2 328.5h0M571.5 331.2h0M568.5 331.5h0" stroke="#2864FF" stroke-width="2.30" stroke-linecap="round" fill="none"/>
<path d="M583.2 303.5h0M572.3 306.8h0M578.5 309.2h0M578.3 317.2h0M579.5 321.6h0M578.5 327.5h0" stroke="#FF7200" stroke-width="2.30" stroke-linecap="round" fill="none"/>
<path d="M571.5 345.5h0M573.0 347.0h0" stroke="#3B94AD" stroke-width="2.30" stroke-linecap="round" fill="none"/>
<path d="M574.5 345.8h0" stroke="#30CA76" stroke-width="2.30" stroke-linecap="round" fill="none"/>
<path d="M572.6 275.4L574.5 277.3L572.6 279.2L570.7 277.3Z" fill="#000"/>
</svg>
<line x1="501.50" x2="503.00" y1="409.20" y2="409.20" stroke="#333" stroke-width="0.4"/>
<text x="501.00" y="410.80" font-size="4.80" text-anchor="end" fill="#444">0</text>
<line x1="501.50" x2="503.00" y1="378.70" y2="378.70" stroke="#333" stroke-width="0.4"/>
<text x="501.00" y="380.30" font-size="4.80" text-anchor="end" fill="#444">1</text>
<line x1="501.50" x2="503.00" y1="348.20" y2="348.20" stroke="#333" stroke-width="0.4"/>
<text x="501.00" y="349.80" font-size="4.80" text-anchor="end" fill="#444">2</text>
<line x1="501.50" x2="503.00" y1="317.70" y2="317.70" stroke="#333" stroke-width="0.4"/>
<text x="501.00" y="319.30" font-size="4.80" text-anchor="end" fill="#444">3</text>
<line x1="501.50" x2="503.00" y1="287.20" y2="287.20" stroke="#333" stroke-width="0.4"/>
<text x="501.00" y="288.80" font-size="4.80" text-anchor="end" fill="#444">4</text>
<line x1="505.30" x2="505.30" y1="414.20" y2="415.40" stroke="#999" stroke-width="0.4"/>
<text x="505.30" y="421.00" font-size="4.80" text-anchor="middle" fill="#444">93500000</text>
<line x1="537.10" x2="537.10" y1="414.20" y2="415.40" stroke="#999" stroke-width="0.4"/>
<text x="537.10" y="421.00" font-size="4.80" text-anchor="middle" fill="#444">94000000</text>
<line x1="568.90" x2="568.90" y1="414.20" y2="415.40" stroke="#999" stroke-width="0.4"/>
<text x="568.90" y="421.00" font-size="4.80" text-anchor="middle" fill="#444">94500000</text>
<line x1="600.70" x2="600.70" y1="414.20" y2="415.40" stroke="#999" stroke-width="0.4"/>
<text x="600.70" y="421.00" font-size="4.80" text-anchor="middle" fill="#444">95000000</text>
<line x1="632.50" x2="632.50" y1="414.20" y2="415.40" stroke="#999" stroke-width="0.4"/>
<text x="632.50" y="421.00" font-size="4.80" text-anchor="middle" fill="#444">95500000</text>
<text x="496.00" y="336.85" font-size="5.90" text-anchor="middle" fill="#000" transform="rotate(-90 496 336.85)">−log10(p−value)</text>
<text x="572.35" y="428.50" font-size="5.90" text-anchor="middle" fill="#000">Position on chromosome</text>
<text x="506.40" y="253.00" font-size="9.0" fill="#000"><tspan font-style="italic">VIRMA</tspan><tspan> eQTL in whole blood</tspan></text>
<rect x="20.00" y="475.20" width="135.40" height="155.00" fill="#EBEBEB"/>
<svg x="20.00" y="475.20" width="135.40" height="155.00" viewBox="20.00 475.20 135.40 155.00" overflow="hidden">
<line x1="20.00" x2="155.40" y1="640.60" y2="640.60" stroke="#fff" stroke-width="0.3"/>
<line x1="20.00" x2="155.40" y1="605.60" y2="605.60" stroke="#fff" stroke-width="0.3"/>
<line x1="20.00" x2="155.40" y1="570.60" y2="570.60" stroke="#fff" stroke-width="0.3"/>
<line x1="20.00" x2="155.40" y1="535.60" y2="535.60" stroke="#fff" stroke-width="0.3"/>
<line x1="20.00" x2="155.40" y1="500.60" y2="500.60" stroke="#fff" stroke-width="0.3"/>
<line x1="20.00" x2="155.40" y1="465.60" y2="465.60" stroke="#fff" stroke-width="0.3"/>
<line x1="20.00" x2="155.40" y1="430.60" y2="430.60" stroke="#fff" stroke-width="0.3"/>
<line x1="20.00" x2="155.40" y1="623.10" y2="623.10" stroke="#fff" stroke-width="0.6"/>
<line x1="20.00" x2="155.40" y1="588.10" y2="588.10" stroke="#fff" stroke-width="0.6"/>
<line x1="20.00" x2="155.40" y1="553.10" y2="553.10" stroke="#fff" stroke-width="0.6"/>
<line x1="20.00" x2="155.40" y1="518.10" y2="518.10" stroke="#fff" stroke-width="0.6"/>
<line x1="20.00" x2="155.40" y1="483.10" y2="483.10" stroke="#fff" stroke-width="0.6"/>
<line x1="1.50" x2="1.50" y1="475.20" y2="630.20" stroke="#fff" stroke-width="0.3"/>
<line x1="32.50" x2="32.50" y1="475.20" y2="630.20" stroke="#fff" stroke-width="0.3"/>
<line x1="63.50" x2="63.50" y1="475.20" y2="630.20" stroke="#fff" stroke-width="0.3"/>
<line x1="94.50" x2="94.50" y1="475.20" y2="630.20" stroke="#fff" stroke-width="0.3"/>
<line x1="125.50" x2="125.50" y1="475.20" y2="630.20" stroke="#fff" stroke-width="0.3"/>
<line x1="156.50" x2="156.50" y1="475.20" y2="630.20" stroke="#fff" stroke-width="0.3"/>
<line x1="187.50" x2="187.50" y1="475.20" y2="630.20" stroke="#fff" stroke-width="0.3"/>
<line x1="17.00" x2="17.00" y1="475.20" y2="630.20" stroke="#fff" stroke-width="0.6"/>
<line x1="48.00" x2="48.00" y1="475.20" y2="630.20" stroke="#fff" stroke-width="0.6"/>
<line x1="79.00" x2="79.00" y1="475.20" y2="630.20" stroke="#fff" stroke-width="0.6"/>
<line x1="110.00" x2="110.00" y1="475.20" y2="630.20" stroke="#fff" stroke-width="0.6"/>
<line x1="141.00" x2="141.00" y1="475.20" y2="630.20" stroke="#fff" stroke-width="0.6"/>
<g id="dots_D1"></g>
<rect x="24.30" y="609.10" width="126.20" height="15.00" fill="#FF0000"/>
<path d="M36.4 600.0h0M43.9 605.8h0M129.9 605.7h0M62.8 609.0h0M115.0 598.7h0M107.6 607.8h0M73.5 608.7h0M114.7 608.5h0M91.7 607.0h0M103.9 610.4h0M53.9 606.2h0M96.2 604.1h0M31.7 609.6h0M87.6 605.7h0M49.5 605.4h0M76.3 609.2h0M128.4 610.1h0M141.4 609.2h0M70.3 609.7h0M83.4 604.0h0M52.7 607.7h0M80.0 609.2h0M41.4 606.3h0M76.8 608.3h0M100.2 610.1h0M126.9 602.7h0M56.8 604.6h0M112.1 609.3h0M58.8 610.2h0M76.7 608.4h0M85.8 608.2h0M93.5 610.0h0M53.1 607.6h0M84.0 609.8h0M59.6 597.0h0M124.6 606.0h0M69.4 608.6h0M112.9 607.6h0M104.9 610.4h0M113.8 609.7h0M65.9 607.9h0M143.3 608.7h0M105.6 609.7h0M142.1 609.5h0M92.5 606.5h0M112.2 608.4h0M105.7 610.5h0M147.8 607.6h0M99.2 609.5h0M84.9 606.9h0M76.5 610.0h0M49.6 603.3h0M50.8 608.0h0M113.7 609.6h0M125.7 608.2h0M143.0 609.7h0M78.1 608.9h0M59.2 608.6h0M78.3 608.7h0M133.2 609.1h0M32.2 605.6h0M79.3 610.4h0M119.1 606.0h0M106.7 604.5h0M58.7 604.1h0M70.5 603.6h0M149.4 607.7h0M77.7 605.9h0M114.7 608.0h0M35.3 609.0h0M109.9 610.5h0M76.1 601.8h0M114.2 609.4h0M42.1 607.5h0M101.7 609.3h0M89.4 593.7h0M106.1 607.8h0M33.0 608.2h0M28.0 598.9h0M89.5 607.3h0M109.9 610.4h0M127.4 606.3h0M34.1 601.9h0M132.9 594.3h0M36.7 601.8h0M122.2 609.5h0M35.1 606.5h0M33.0 607.7h0M125.4 608.7h0M66.6 608.6h0M39.4 610.3h0M95.4 604.5h0M148.6 610.1h0M62.9 604.6h0M61.5 605.4h0M142.2 603.6h0M102.9 605.9h0M131.8 610.0h0M67.1 605.9h0M84.7 605.4h0M146.4 606.0h0M98.6 606.0h0M140.5 610.1h0M31.1 605.0h0M131.3 606.7h0M82.0 609.4h0M147.6 606.2h0M147.9 606.7h0M131.5 609.6h0M115.0 610.1h0M65.9 608.4h0M90.3 592.9h0M103.6 610.1h0M124.4 605.5h0M128.4 600.9h0M122.4 607.9h0M107.9 610.3h0M71.8 608.7h0M116.8 610.3h0M50.8 609.5h0M50.1 608.3h0M148.8 609.1h0M33.6 610.4h0M118.0 608.7h0M148.0 609.5h0M146.3 609.2h0M146.8 601.1h0M75.0 610.2h0M102.4 607.4h0M104.4 610.0h0M129.5 609.0h0M64.7 610.2h0M27.8 608.4h0M41.8 609.2h0M117.0 605.6h0M80.6 609.6h0M103.2 608.8h0M147.7 605.4h0M131.9 609.4h0M120.6 608.6h0M56.8 610.1h0M88.9 606.8h0M57.0 610.1h0M98.3 607.9h0M115.1 603.5h0M45.9 597.8h0M61.3 605.7h0M54.4 605.5h0M68.9 607.9h0M134.7 605.4h0M119.7 601.8h0M76.3 609.5h0M128.3 607.4h0M59.0 596.4h0M136.4 604.9h0M82.5 604.8h0M74.7 609.3h0M126.6 607.2h0M117.6 610.2h0M90.3 608.6h0M30.2 604.0h0M81.5 608.2h0M97.1 607.1h0M40.5 609.7h0M37.4 606.9h0M46.3 606.3h0M123.6 605.7h0M147.4 607.9h0M92.2 607.5h0M100.3 607.9h0M57.4 606.3h0M120.2 609.0h0M37.6 607.4h0M56.0 609.1h0M134.2 605.0h0M143.8 607.4h0M115.4 609.5h0M103.0 607.7h0M50.2 607.0h0M104.6 609.8h0M122.5 609.4h0M135.9 609.4h0M135.5 605.7h0M63.5 609.9h0M88.1 608.9h0M100.9 608.1h0M29.2 609.3h0M92.7 606.4h0M56.2 607.7h0M49.8 605.7h0M103.6 609.2h0M41.9 595.8h0M47.1 607.6h0M44.4 609.4h0M48.3 603.3h0M89.3 610.1h0M30.0 607.3h0M55.3 605.3h0M101.0 606.7h0M47.2 609.6h0M123.3 595.2h0M84.4 608.3h0M86.0 610.1h0M47.0 610.2h0M37.5 609.0h0M46.0 599.5h0M122.9 598.7h0M28.3 604.6h0M120.3 606.1h0M31.8 598.4h0M148.0 607.0h0M113.4 609.7h0M130.0 610.2h0M101.4 602.9h0M64.2 608.4h0M107.6 610.4h0M49.4 605.0h0M144.0 610.0h0M44.7 610.3h0M118.9 596.9h0M29.3 605.4h0M94.8 609.6h0M110.1 608.2h0M51.7 609.6h0M57.7 610.1h0M72.3 606.4h0M35.6 608.1h0M141.3 608.5h0M38.0 605.1h0M130.7 610.1h0M126.6 603.1h0M114.4 600.4h0M118.3 606.2h0M42.6 602.4h0M131.2 609.0h0M91.5 606.1h0M50.0 609.1h0M51.4 603.4h0M63.4 610.1h0M136.1 605.8h0M50.3 610.5h0M78.3 603.2h0M46.5 608.3h0M25.8 609.0h0M93.6 605.5h0M49.4 609.2h0M71.8 610.4h0M120.2 605.6h0M40.1 608.6h0M135.4 604.0h0M110.6 609.7h0M54.4 607.8h0M114.3 608.0h0M126.0 601.9h0M32.9 600.9h0M88.7 607.4h0M93.6 606.3h0M90.5 607.9h0M111.5 609.1h0M65.0 610.3h0M143.2 607.5h0M122.2 606.5h0M114.8 609.7h0M140.3 609.5h0M135.1 604.3h0M143.0 597.9h0M109.1 602.2h0M51.5 607.5h0M123.7 608.4h0M59.6 606.8h0M88.9 609.7h0M62.3 609.1h0M144.7 609.7h0M57.6 605.0h0M59.6 609.8h0M123.8 606.3h0M122.9 610.0h0M72.7 610.1h0M91.7 609.4h0M94.0 609.8h0M37.0 609.6h0M144.4 609.7h0M53.3 608.9h0M34.7 605.0h0M44.7 600.7h0M74.5 610.2h0M52.2 609.2h0M50.8 601.4h0M116.1 608.2h0M88.5 604.3h0M96.2 606.3h0M50.9 602.2h0M57.8 602.5h0M136.4 610.3h0M70.8 608.6h0M35.6 607.4h0M95.8 605.2h0M42.5 610.3h0M67.1 609.0h0M83.7 607.1h0M132.8 610.2h0M51.2 600.9h0M128.8 607.0h0M146.6 610.3h0M90.5 609.6h0M48.3 608.8h0M127.7 609.8h0M76.3 610.3h0M79.4 609.7h0M123.5 606.4h0M55.3 605.1h0M133.5 607.3h0M143.2 608.7h0M102.3 607.6h0M89.3 605.5h0M53.4 608.7h0M49.3 607.8h0M52.9 606.9h0M135.8 609.5h0M31.2 597.7h0M39.4 605.6h0M138.6 608.7h0M109.0 608.5h0M67.2 607.8h0M89.3 608.4h0M84.8 610.2h0M149.1 609.1h0M100.8 600.4h0M31.5 608.1h0M54.4 606.1h0M134.3 603.1h0M73.5 609.8h0M105.2 603.6h0M140.3 606.5h0M34.2 599.6h0M123.8 596.1h0M54.7 609.2h0M44.1 609.9h0M102.5 607.5h0M58.8 606.4h0M70.5 610.2h0M96.9 606.0h0M70.9 609.8h0M135.2 608.3h0M106.3 607.5h0M124.2 606.3h0M142.5 607.9h0M124.6 609.3h0M92.2 607.9h0M66.8 604.1h0M93.1 609.6h0M35.5 608.6h0M26.0 608.9h0M102.4 606.8h0M107.7 609.7h0M49.4 610.3h0M48.3 597.8h0M85.4 604.2h0M122.1 609.2h0M72.1 604.8h0M144.4 602.5h0M132.2 610.2h0M107.7 608.1h0M29.3 597.6h0M136.7 606.2h0M105.8 610.4h0M125.2 609.6h0M37.5 609.9h0M32.0 608.2h0M131.5 602.5h0M50.8 605.2h0M31.9 606.7h0M37.5 604.8h0M85.0 589.6h0M81.0 608.6h0M68.5 602.7h0M124.0 606.5h0M115.9 605.7h0M44.4 598.6h0M56.8 608.1h0M66.5 607.5h0M61.8 608.3h0M81.1 607.6h0M42.1 609.7h0M31.8 609.0h0M138.9 610.5h0M106.8 607.1h0M133.9 610.1h0M89.1 610.3h0M60.5 591.7h0M25.6 598.3h0M97.4 603.2h0M51.9 599.8h0M51.9 608.7h0M113.2 606.7h0M39.1 610.0h0M62.1 609.3h0M85.1 605.5h0M141.7 608.2h0M72.2 591.6h0M102.4 601.6h0M50.9 608.2h0M37.1 604.9h0M122.7 610.3h0M125.9 608.8h0M56.2 597.5h0M126.8 606.9h0M89.6 610.3h0M136.8 603.3h0M66.7 610.5h0M84.6 609.2h0M75.6 606.8h0M118.0 609.5h0M32.7 609.6h0M59.3 609.7h0M74.7 609.2h0M32.4 610.0h0M141.1 602.8h0M47.1 609.7h0M113.0 609.7h0M57.3 609.6h0M116.6 603.3h0M87.9 610.4h0M26.0 606.4h0M116.3 609.3h0M73.0 610.2h0M105.2 607.8h0M115.2 597.1h0M110.9 602.8h0M47.9 603.0h0M86.7 610.2h0M87.9 608.2h0M59.8 608.5h0M107.3 607.3h0M117.0 606.7h0M50.1 608.4h0M96.8 607.4h0M51.6 609.9h0M81.8 609.4h0M86.5 602.6h0M131.9 608.9h0M26.2 603.4h0M142.2 609.1h0M60.7 610.1h0M101.9 608.4h0M63.5 606.9h0M149.6 597.5h0M33.4 609.4h0M34.6 603.7h0M30.2 607.1h0M71.0 609.3h0M43.6 608.9h0M89.6 608.2h0M59.6 604.5h0M32.2 607.8h0M45.0 605.6h0M58.6 609.9h0M95.9 609.4h0M73.3 605.8h0M28.6 607.3h0M33.2 609.7h0M120.9 606.8h0M98.0 609.8h0M120.9 605.7h0M104.4 607.6h0M80.5 603.8h0M113.6 610.2h0M38.4 606.8h0M147.3 601.7h0M128.7 609.3h0M114.8 609.0h0M142.6 609.6h0M68.1 610.3h0M74.0 604.5h0M36.1 606.8h0M69.5 606.4h0M87.8 608.8h0M32.5 610.4h0M35.5 591.7h0M108.5 610.3h0M133.8 604.4h0M37.7 609.9h0M105.7 606.5h0M69.7 609.2h0M35.5 609.5h0M50.9 605.6h0M114.1 609.0h0M79.6 605.6h0M58.8 608.7h0M139.2 608.8h0M142.5 606.7h0M57.4 606.9h0M53.2 609.3h0M104.0 610.3h0M89.0 588.1h0M130.1 605.1h0M105.0 607.1h0M99.9 599.9h0M110.1 607.4h0M145.6 606.0h0M44.3 604.5h0M128.4 608.4h0M51.2 609.4h0M132.2 604.3h0M40.8 608.9h0M50.8 608.4h0M48.1 608.5h0M37.7 605.2h0M121.8 607.8h0M75.0 605.6h0M138.8 610.3h0M43.8 610.3h0M97.5 610.5h0M44.7 610.1h0M70.1 607.9h0M147.7 610.0h0M124.7 607.5h0M134.9 607.9h0M115.3 608.5h0M70.4 609.0h0M110.4 591.0h0M52.5 595.2h0M88.4 605.1h0M127.1 610.4h0M139.9 607.5h0M139.7 609.6h0M114.8 608.4h0M78.8 607.8h0M50.8 605.1h0M137.2 608.0h0M71.5 610.5h0M137.2 604.9h0M124.5 610.3h0M72.1 606.7h0M109.5 602.9h0M26.1 608.9h0M27.2 602.5h0M103.2 610.4h0M122.9 610.1h0M69.0 605.7h0M28.6 609.8h0M122.5 610.2h0M59.9 610.1h0M67.0 607.3h0M40.9 608.2h0M106.1 609.8h0M81.0 601.1h0M103.3 601.6h0M110.9 604.8h0M49.9 607.2h0M112.5 605.1h0M124.3 609.4h0M67.6 605.1h0M44.9 610.2h0M68.5 607.2h0M127.4 609.7h0M64.3 608.6h0M144.3 607.5h0M38.8 610.3h0M80.3 607.3h0M90.1 609.8h0M75.8 604.5h0M64.6 609.1h0M120.0 608.3h0M129.2 609.9h0M100.2 608.1h0M67.0 604.5h0M134.8 610.3h0M103.2 607.9h0M141.0 610.3h0M111.9 605.5h0M89.3 604.7h0M51.1 608.2h0M88.6 604.9h0M83.2 609.2h0M75.6 606.9h0M147.9 607.9h0M107.2 604.5h0M71.0 608.7h0M96.2 601.7h0M93.3 609.4h0M87.4 610.2h0M80.5 600.0h0M60.3 609.2h0M66.2 609.2h0M138.4 606.2h0M33.5 604.6h0M105.5 610.2h0M88.0 608.7h0M64.1 609.8h0M117.5 607.4h0M140.7 610.4h0M135.0 607.4h0M88.4 606.3h0M112.6 608.1h0M131.6 609.0h0M143.5 609.0h0M81.0 599.9h0M49.7 608.4h0M120.9 596.4h0M69.1 607.3h0M43.7 609.4h0M103.4 604.0h0M102.3 609.0h0M110.4 609.8h0M55.7 609.0h0M39.9 609.7h0M52.1 607.9h0M142.4 608.2h0M95.3 607.2h0M128.8 607.2h0M72.0 609.6h0M109.3 610.1h0M115.4 608.7h0M37.6 608.3h0M122.3 608.1h0M31.9 606.5h0M138.5 609.3h0M53.8 600.7h0M87.6 609.4h0M75.1 610.5h0M118.9 603.7h0M131.8 606.5h0M27.2 610.0h0M103.6 609.6h0M116.9 610.1h0M140.8 607.8h0M88.7 610.2h0M141.0 600.9h0M47.9 610.0h0M45.6 606.9h0M108.0 609.4h0M99.7 610.2h0M144.9 602.3h0M115.6 607.4h0M65.6 608.0h0M79.0 602.8h0M70.2 601.3h0M97.0 609.2h0M90.7 609.0h0M27.3 606.9h0M141.2 610.1h0M117.2 596.6h0M111.5 604.6h0M56.7 606.8h0M113.9 605.0h0M62.0 608.8h0M109.9 607.7h0M54.0 607.6h0M124.4 600.9h0M82.1 609.1h0M49.6 607.7h0M138.0 609.2h0M82.0 607.1h0M57.7 605.1h0M40.8 603.6h0M108.0 609.3h0M39.7 605.7h0M82.7 605.3h0M140.0 609.6h0M116.9 606.6h0M43.2 609.9h0M128.4 606.6h0M92.1 608.6h0M92.7 609.7h0M72.7 604.9h0M77.9 610.5h0M26.7 608.5h0M73.1 607.2h0M67.1 610.0h0M79.1 609.6h0M148.8 607.4h0M31.2 595.1h0M101.4 610.3h0M64.4 610.3h0M88.4 606.2h0M101.4 607.0h0M111.7 609.3h0M119.1 609.4h0M90.5 608.7h0M75.4 609.8h0M138.7 610.5h0M52.7 606.7h0M117.2 609.6h0M50.2 607.6h0M27.6 602.9h0M28.1 604.0h0M115.9 604.5h0M140.3 609.5h0M136.4 595.9h0M90.8 609.8h0M80.7 608.3h0M38.4 606.7h0M40.2 608.8h0M27.0 601.1h0M49.7 609.1h0M51.8 607.3h0M120.8 604.3h0M110.6 607.7h0M137.6 610.3h0M86.8 607.5h0M98.6 601.2h0M83.1 606.4h0M87.3 608.2h0M135.7 610.2h0M86.6 610.1h0M99.8 610.1h0M86.9 608.7h0M41.4 607.5h0M55.1 606.7h0M33.4 609.5h0M133.0 605.1h0M56.0 609.3h0M41.8 606.0h0M74.6 608.9h0M140.8 596.4h0M121.2 600.7h0M41.3 605.3h0M82.5 610.1h0M64.1 603.2h0M115.3 608.6h0M74.0 603.4h0M37.7 597.7h0M78.9 602.6h0M137.5 608.2h0M31.4 607.6h0M127.2 607.7h0M129.1 607.7h0M148.7 600.1h0M55.8 610.0h0M91.0 608.6h0M57.1 608.8h0M30.1 605.5h0M30.4 606.1h0M97.6 606.1h0M52.9 609.4h0M109.7 606.7h0M145.1 609.1h0M114.6 607.7h0M107.5 608.3h0M94.5 608.0h0M47.9 609.9h0M97.6 604.1h0M116.2 607.3h0M36.3 601.1h0M80.5 610.1h0M30.0 600.5h0M39.5 601.6h0M67.1 603.2h0M63.3 605.8h0M110.0 609.7h0M126.3 603.1h0M30.7 609.6h0M147.3 609.5h0M125.5 608.6h0M48.5 597.2h0M99.9 598.2h0M94.7 607.1h0M121.7 606.7h0M77.8 608.5h0M131.5 608.1h0M26.2 606.9h0M106.5 606.8h0M119.9 605.4h0M45.0 599.9h0M86.2 600.3h0M80.7 607.0h0M95.5 600.2h0M62.8 606.5h0M73.3 602.6h0M92.2 607.2h0M115.6 610.4h0M52.6 609.7h0M54.4 606.5h0M31.5 600.7h0M144.1 604.2h0M41.8 608.3h0M147.6 601.6h0M120.6 609.6h0M99.9 603.6h0M133.9 609.7h0M71.6 609.5h0M37.9 606.5h0M140.1 609.4h0M106.8 610.3h0M40.7 609.1h0M30.9 603.8h0M70.1 603.8h0M83.4 606.4h0M125.5 608.3h0M147.0 609.7h0M32.8 608.0h0M36.4 609.2h0M98.5 609.8h0M42.8 609.2h0M49.5 608.9h0M34.5 600.9h0M147.2 601.4h0M59.0 601.6h0M120.8 609.0h0M110.3 606.9h0M91.0 609.8h0M96.2 605.6h0M70.0 606.1h0M137.0 608.3h0M35.2 609.5h0M94.4 610.2h0M38.0 609.7h0M133.2 607.4h0M137.6 602.3h0M131.5 608.4h0M107.1 608.7h0M77.3 610.5h0M110.2 600.7h0M54.9 608.3h0M49.7 604.0h0M121.9 608.0h0M76.6 607.6h0M106.0 597.7h0M28.6 605.2h0M60.7 605.3h0M38.3 609.3h0M104.9 603.5h0M67.3 606.3h0M101.2 607.9h0M125.6 609.9h0M86.3 605.6h0M92.9 605.7h0M117.1 604.2h0M43.0 607.5h0M86.6 605.4h0M53.7 606.5h0M71.0 609.5h0M97.0 605.1h0M49.8 608.3h0M119.3 607.4h0M60.0 608.8h0M118.7 610.1h0M131.0 610.4h0M112.6 585.0h0M46.1 601.9h0M27.0 609.9h0M149.6 607.7h0M34.4 610.0h0M50.2 610.3h0M123.5 609.3h0M45.9 605.9h0M27.1 609.4h0M31.3 605.9h0M96.2 610.2h0M57.4 609.5h0M138.7 610.4h0M127.5 608.8h0M59.2 606.5h0M121.8 608.2h0M90.8 608.2h0M123.9 602.4h0M98.9 605.7h0M27.5 608.1h0M51.8 606.8h0M100.3 604.5h0M112.6 610.2h0M135.0 606.5h0M79.2 609.0h0M52.4 609.5h0M99.2 610.0h0M142.7 610.2h0M53.4 610.3h0M126.3 604.3h0M60.0 608.7h0M55.6 604.7h0M33.4 606.7h0M85.2 609.5h0M94.5 606.0h0M90.9 603.3h0M28.5 609.0h0M30.4 607.5h0M107.7 607.8h0M100.9 604.9h0M68.1 606.1h0M39.6 609.9h0M105.0 598.6h0M38.6 608.2h0M51.4 607.4h0M115.1 609.5h0M129.3 605.0h0M44.9 599.7h0M106.6 609.8h0M100.4 598.3h0M86.0 606.0h0M40.4 610.1h0M146.8 606.4h0M29.7 602.5h0M126.2 607.6h0M142.0 609.6h0M65.5 597.9h0M43.0 606.8h0M144.8 608.3h0M86.9 602.1h0M122.3 609.3h0M119.4 602.6h0M121.7 607.8h0M89.2 606.7h0M121.4 598.2h0M104.6 603.6h0M84.5 607.4h0M130.3 610.4h0M83.3 609.2h0M117.7 610.2h0M39.3 609.7h0M115.3 610.4h0M48.2 610.5h0M116.1 604.7h0M70.8 610.4h0M88.8 609.9h0M33.2 609.5h0M58.8 606.8h0M124.6 601.9h0M25.5 604.3h0M53.2 606.6h0M85.1 607.7h0M79.7 609.1h0M66.8 609.3h0M85.5 608.2h0M70.6 606.6h0M40.4 610.4h0M55.5 607.8h0M55.8 590.9h0M33.6 608.9h0M109.8 607.6h0M128.7 603.3h0M142.5 604.5h0M39.1 604.8h0M30.4 605.3h0M113.1 603.3h0M94.5 609.5h0M142.1 607.8h0M66.7 608.3h0M133.8 607.0h0M38.2 608.1h0M62.2 607.3h0M59.1 609.2h0M136.0 606.4h0M122.2 608.5h0M53.9 596.6h0M99.9 604.9h0M78.0 610.4h0M29.1 599.6h0M25.8 606.9h0M50.0 609.1h0M84.4 609.9h0M129.3 606.5h0M37.2 605.8h0M141.3 605.6h0M123.7 605.6h0M50.9 607.4h0M73.4 604.4h0M97.3 608.2h0M90.1 603.9h0M112.4 608.6h0M120.7 605.4h0M26.7 609.7h0M132.6 609.9h0M130.0 607.2h0M143.9 609.9h0M74.3 597.1h0M90.4 607.6h0M138.5 608.0h0M131.0 606.9h0M148.3 605.4h0M30.8 606.5h0M40.5 609.7h0M37.1 608.2h0M141.3 609.6h0M35.6 607.6h0M27.6 608.7h0M89.4 607.9h0M145.7 610.3h0M45.3 602.3h0M130.6 605.4h0M106.9 609.3h0M42.7 599.4h0M140.3 601.7h0M41.9 609.8h0M92.6 606.4h0M73.9 605.4h0M70.3 604.1h0M120.8 607.5h0M63.3 610.2h0M40.4 609.4h0M65.4 603.0h0M93.5 607.8h0M61.1 609.5h0M40.1 606.1h0M72.6 607.8h0M41.7 605.1h0M48.7 609.2h0M110.8 606.2h0M41.9 607.0h0M114.7 597.4h0M49.2 610.4h0M96.0 608.9h0M77.6 609.5h0M66.9 601.4h0M55.3 603.2h0M73.3 606.6h0M128.1 606.0h0M60.2 605.7h0M129.8 606.2h0M124.0 607.3h0M73.5 610.0h0M122.4 609.6h0M57.6 608.8h0M68.9 609.5h0M98.3 610.5h0M77.4 607.2h0M130.3 607.3h0M140.9 608.0h0M73.4 610.0h0M112.9 605.7h0M112.2 609.9h0M78.9 610.2h0M122.0 607.5h0M26.9 607.1h0M88.6 610.0h0M115.5 609.8h0M87.8 600.9h0M100.9 609.2h0M34.9 609.9h0M132.8 606.2h0M135.2 608.6h0M57.4 606.6h0M123.0 610.4h0M31.8 606.8h0M45.1 609.5h0M119.2 607.7h0M103.5 607.3h0M81.8 608.4h0M147.0 608.2h0M49.4 606.3h0M142.0 610.0h0M122.8 609.9h0M35.1 608.5h0M36.5 605.1h0M51.1 588.3h0M97.2 597.7h0M128.8 608.4h0M39.2 606.6h0M132.5 596.5h0M120.7 610.4h0M34.8 603.5h0M125.7 610.4h0M144.2 601.7h0M41.2 609.9h0M52.5 609.7h0M76.9 601.9h0M90.2 609.3h0M86.5 608.5h0M97.6 610.2h0M65.0 606.5h0M83.3 605.3h0M80.0 608.2h0M55.5 599.3h0M48.6 610.1h0M66.7 603.3h0M88.2 607.3h0M57.9 605.7h0M111.8 609.4h0M56.9 599.2h0M122.5 603.2h0M29.9 609.9h0M147.1 609.5h0M55.4 607.2h0M26.6 608.8h0M113.7 608.3h0M90.7 606.3h0M85.2 609.4h0M50.9 610.0h0M60.6 608.3h0M116.4 609.6h0M122.8 609.9h0M144.3 607.3h0M125.6 609.6h0M29.0 602.0h0M137.1 602.3h0M85.9 605.2h0M28.6 609.0h0M73.9 610.4h0M66.4 609.2h0M82.6 603.3h0M34.8 609.4h0M125.0 606.7h0M63.6 605.5h0M65.4 605.6h0M119.0 609.3h0M110.5 602.0h0M78.4 609.2h0M55.7 605.4h0M129.9 608.5h0M126.2 606.8h0M92.5 605.3h0M118.7 608.4h0M105.5 599.4h0M72.5 610.2h0M142.3 609.0h0M147.8 608.7h0M104.9 609.8h0M44.2 601.5h0M68.6 609.9h0M90.3 607.4h0M68.4 600.5h0M137.0 610.4h0M75.6 608.0h0M112.5 607.7h0M30.0 610.3h0M34.9 607.6h0M88.9 606.6h0M72.6 610.2h0M96.6 608.1h0M118.1 600.7h0M143.2 608.2h0M146.1 607.4h0M97.8 608.8h0M109.5 609.3h0M135.2 607.5h0M64.0 609.7h0M31.8 609.6h0M99.3 610.3h0M75.2 607.5h0M97.7 604.5h0M74.6 605.0h0M122.7 606.0h0M148.4 609.7h0M36.5 609.8h0M89.5 609.4h0M116.7 604.7h0M92.7 607.1h0M102.9 610.2h0M135.5 605.4h0M91.3 609.0h0M70.1 605.0h0M96.7 608.2h0M70.0 610.2h0M117.0 598.7h0M57.3 607.8h0M58.2 609.9h0M87.6 605.4h0M98.9 606.9h0M96.3 609.5h0M143.8 609.7h0M111.0 609.9h0M123.4 605.5h0M130.1 595.5h0M44.8 610.0h0M25.3 610.5h0M78.8 606.8h0M58.7 602.3h0M65.3 609.5h0M59.1 606.6h0M31.6 609.3h0M58.1 608.0h0M141.0 604.7h0M95.1 600.3h0M52.7 607.0h0M137.4 608.5h0M111.3 597.4h0M42.1 604.0h0M146.6 607.6h0M142.3 607.6h0M35.0 604.6h0M131.7 606.6h0M108.4 597.6h0M137.9 609.3h0M104.3 609.1h0M67.2 599.9h0M36.4 610.2h0M30.3 609.6h0M98.0 605.3h0M47.3 610.1h0M76.9 608.3h0M62.3 609.3h0M69.0 604.4h0M102.8 610.2h0M38.4 609.0h0M72.6 609.7h0M74.7 606.8h0M84.2 608.1h0M95.7 609.8h0M121.4 609.2h0M57.4 608.9h0M68.8 608.8h0M123.6 608.5h0M107.0 600.7h0M122.3 609.1h0M138.7 609.8h0M110.9 603.9h0M43.8 610.2h0M85.7 601.9h0M56.9 608.7h0M49.2 607.0h0M99.3 603.2h0M65.7 608.9h0M129.8 606.7h0M113.0 595.4h0M41.2 609.4h0M58.1 609.8h0M73.1 610.3h0M52.0 610.4h0M82.1 608.1h0M42.6 608.4h0M88.4 610.5h0M41.6 604.6h0M129.5 609.0h0M113.6 603.1h0M83.4 610.2h0M136.1 609.3h0M116.9 607.9h0M38.7 602.8h0M49.1 603.1h0M31.6 603.9h0M131.8 605.2h0M101.7 609.9h0M69.4 609.9h0M149.3 608.6h0M51.3 610.0h0M39.7 608.4h0M32.2 605.8h0M101.7 606.2h0M95.9 609.9h0M101.5 610.5h0M107.8 601.7h0M34.4 608.9h0M51.8 609.3h0M120.7 609.5h0M105.2 605.1h0M73.8 608.2h0M35.5 598.1h0M82.9 602.6h0M131.9 609.1h0M101.0 608.0h0M96.3 602.8h0M61.2 600.6h0M135.0 608.6h0M42.6 606.8h0M67.8 601.5h0M56.6 608.6h0M56.4 606.7h0M42.6 607.4h0M49.0 609.4h0M76.1 610.0h0M137.4 609.8h0M112.7 607.4h0M144.5 608.2h0M135.8 610.5h0M117.5 608.4h0M101.6 609.9h0M93.5 600.6h0M93.0 610.0h0M140.6 607.8h0M149.1 608.9h0M60.7 609.2h0M140.9 609.7h0M105.4 599.4h0M31.2 610.0h0M62.3 603.6h0M58.3 608.0h0M82.5 602.5h0M71.7 607.9h0M123.1 607.9h0M80.8 608.2h0M46.2 610.3h0M63.8 608.8h0M130.2 609.6h0M39.8 610.3h0M39.5 609.4h0M66.6 607.0h0M97.6 610.0h0M116.0 609.5h0M101.5 606.2h0M141.8 604.9h0M56.9 608.6h0M58.9 608.8h0M136.1 605.2h0M27.8 609.4h0M128.8 609.7h0M46.5 609.9h0M53.5 606.9h0M39.5 610.2h0M139.5 597.2h0M103.4 607.8h0M25.5 606.3h0M74.5 605.4h0M47.5 607.8h0M56.8 600.9h0M88.8 609.9h0M59.5 610.0h0M28.7 608.4h0M44.7 607.0h0M125.9 609.5h0M46.4 600.2h0M42.0 610.1h0M98.2 608.2h0M46.2 610.4h0M77.2 602.6h0M141.6 608.4h0M73.2 608.2h0M50.1 608.4h0M85.5 609.0h0M27.2 609.1h0M98.1 610.2h0M36.2 609.3h0M50.5 610.3h0M58.1 604.5h0M36.2 609.1h0M148.7 601.4h0M52.0 608.3h0M131.4 608.6h0M64.2 597.9h0M128.3 610.4h0M102.7 602.2h0M81.2 608.9h0M100.0 609.8h0M111.2 608.2h0M68.0 609.1h0M41.2 606.7h0M30.8 609.5h0M50.6 609.3h0M89.1 606.8h0M82.0 607.7h0M76.3 608.1h0M37.9 609.7h0M96.4 610.4h0M66.6 608.3h0M103.3 610.4h0M66.2 610.5h0M110.0 603.9h0M96.5 610.0h0M30.4 609.6h0M137.9 607.0h0M70.8 605.4h0M109.3 603.4h0M78.6 601.9h0M58.2 605.2h0M44.4 610.2h0M64.1 608.8h0M113.0 610.3h0M35.7 608.9h0M74.4 608.5h0M117.0 610.5h0M111.1 609.8h0M101.6 609.9h0M62.8 610.3h0M87.1 607.7h0M30.9 608.9h0M143.9 610.4h0M87.0 604.9h0M97.6 606.7h0M137.8 609.6h0M49.9 604.7h0M72.9 608.6h0M120.9 605.6h0M36.4 610.1h0M63.6 610.3h0M92.2 608.9h0M41.8 607.8h0M85.6 610.2h0M120.1 603.5h0M81.2 610.3h0M132.9 610.4h0M53.7 607.3h0M141.5 609.5h0M46.7 607.1h0M141.5 609.4h0M108.8 610.0h0M147.1 605.8h0M28.1 603.3h0M139.7 609.1h0M86.2 607.9h0M92.9 609.8h0M75.4 604.7h0M73.6 599.0h0M70.6 610.3h0M85.6 610.4h0M29.1 602.8h0M137.2 610.2h0M78.5 602.6h0M64.5 609.2h0M144.6 606.7h0M114.3 606.3h0M38.8 599.7h0M52.3 609.0h0M132.6 608.2h0M90.0 594.6h0M64.2 604.8h0M36.4 607.5h0M133.7 609.6h0M146.1 610.2h0M105.8 610.5h0M29.2 604.2h0M74.4 609.2h0M144.4 610.2h0M126.7 605.3h0M80.2 610.4h0M140.1 609.0h0M56.8 602.3h0M72.2 608.6h0M115.4 608.4h0M146.5 608.9h0M35.7 605.4h0M105.0 609.2h0M70.5 610.4h0M65.3 601.2h0M62.8 609.2h0M70.1 606.0h0M48.8 609.0h0M121.6 607.1h0M131.3 600.6h0M124.8 602.1h0M89.2 605.9h0M123.1 605.7h0M63.9 608.1h0M67.8 610.1h0M99.4 607.0h0M139.1 604.5h0M59.3 604.4h0M104.0 609.9h0M140.3 610.0h0M99.7 609.5h0M129.7 608.1h0M121.0 609.8h0M135.9 607.5h0M85.1 608.7h0M103.4 609.9h0M124.9 607.0h0M27.0 607.2h0M88.0 610.1h0M95.0 608.0h0M146.7 608.3h0M138.1 607.0h0M145.1 606.0h0M50.8 609.7h0M90.8 608.1h0M28.5 608.0h0M135.4 608.5h0M47.6 609.3h0M35.5 607.0h0M111.9 606.2h0M56.9 609.5h0M54.6 606.2h0M142.9 608.2h0M99.0 610.4h0M126.4 607.7h0M132.5 605.8h0M133.1 605.9h0M86.8 610.2h0M62.5 603.4h0M134.9 605.4h0M62.4 609.3h0M27.1 609.6h0M90.5 604.9h0M98.0 609.0h0M107.8 609.2h0M93.3 607.7h0M86.7 604.4h0M74.7 609.1h0M47.5 604.9h0M47.9 609.6h0M49.3 606.5h0M40.0 609.9h0M131.6 606.0h0M111.2 594.4h0M94.9 608.9h0M78.0 610.0h0M117.2 610.3h0M100.7 608.0h0M125.1 609.7h0M133.4 604.6h0M37.9 610.5h0M125.6 608.1h0M80.5 609.9h0M145.7 608.7h0M91.8 608.7h0M54.7 606.7h0M129.9 603.0h0M109.5 603.8h0M66.9 609.2h0M70.2 609.4h0M97.0 609.9h0M67.6 609.3h0M87.0 607.8h0M145.8 609.9h0M146.3 609.1h0M30.6 610.0h0M35.9 606.7h0M43.4 608.1h0M108.6 608.1h0M50.1 600.4h0M124.9 594.4h0M71.5 607.2h0M32.1 610.0h0" stroke="#FF0000" stroke-width="2.30" stroke-linecap="round" fill="none"/>
<path d="M145.6 600.8h0M144.1 572.7h0M144.5 604.8h0M148.5 597.0h0M147.6 604.4h0M147.0 605.7h0M148.3 596.8h0" stroke="#FF0000" stroke-width="2.30" stroke-linecap="round" fill="none"/>
<path d="M82.2 610.9h0M79.7 608.5h0M80.1 608.3h0M66.7 614.3h0M72.6 607.7h0M69.0 609.9h0" stroke="#FF3500" stroke-width="2.30" stroke-linecap="round" fill="none"/>
<path d="M88.9 611.0h0M80.4 606.4h0M71.1 605.9h0M67.6 607.5h0M87.7 612.1h0M77.9 612.3h0M63.8 607.4h0M86.6 611.4h0M64.2 607.2h0M91.5 609.0h0M64.6 554.5h0M59.2 543.1h0M59.9 549.4h0M60.3 558.1h0M60.8 540.6h0M64.0 550.4h0M60.7 550.1h0M65.1 558.6h0M60.4 541.6h0M65.4 552.1h0M66.4 550.4h0M68.9 551.8h0M80.0 543.1h0M81.5 546.3h0M81.1 549.7h0M77.6 535.4h0M77.7 530.2h0M78.5 548.5h0M80.2 545.7h0M78.5 535.5h0M84.0 537.0h0M77.4 545.2h0M80.7 545.3h0M79.1 546.0h0M81.2 536.2h0M87.3 539.5h0M87.9 527.6h0M86.5 519.9h0M88.6 537.1h0M88.3 530.1h0M88.1 528.6h0M85.9 534.2h0M86.4 528.4h0M87.3 535.8h0M86.3 534.0h0M88.7 537.1h0M88.1 528.6h0M85.6 527.3h0M87.9 524.5h0M87.9 532.0h0M87.0 535.5h0M87.0 531.2h0M86.3 528.8h0M87.1 525.7h0M87.7 524.8h0M87.7 540.7h0M87.9 528.8h0M87.1 528.4h0M88.1 532.6h0M89.3 526.3h0M87.3 525.9h0M87.3 528.5h0M71.5 582.4h0M61.3 600.3h0M70.8 575.0h0M69.3 573.1h0M67.6 558.6h0M55.7 585.5h0M59.2 570.2h0M55.2 557.8h0M67.2 574.3h0M67.5 587.6h0M65.2 587.7h0M90.5 581.2h0M76.5 556.3h0" stroke="#FF8500" stroke-width="2.30" stroke-linecap="round" fill="none"/>
<path d="M57.1 613.0h0M60.7 611.9h0M60.6 613.1h0M59.8 611.9h0M78.1 608.4h0M65.0 611.9h0M84.1 612.4h0M68.9 614.4h0M82.4 609.7h0M81.6 613.4h0M66.8 547.3h0M59.8 537.4h0M67.7 547.0h0M61.9 558.0h0M63.8 552.5h0M62.5 551.9h0M60.8 546.1h0M65.2 541.2h0M65.3 555.4h0M66.9 552.0h0M66.5 536.2h0M63.4 541.7h0M64.8 555.6h0M65.8 554.4h0M68.0 548.7h0M68.1 545.4h0M68.1 548.5h0M61.2 552.1h0M58.4 550.9h0M61.1 555.3h0M64.5 560.6h0M65.0 546.1h0M60.4 554.4h0M63.7 548.1h0M77.9 545.6h0M75.4 556.2h0M79.2 545.5h0M76.1 548.5h0M81.9 546.5h0M79.7 549.4h0M78.9 539.1h0M82.1 545.4h0M79.4 548.9h0M74.1 552.5h0M79.9 537.0h0M78.8 539.9h0M78.0 547.8h0M77.5 542.8h0M82.7 543.5h0M86.0 530.2h0M87.6 536.0h0M88.7 525.3h0M87.5 524.1h0M87.6 532.8h0M87.4 526.2h0M88.9 531.9h0M86.5 521.5h0M89.4 536.3h0M87.3 541.1h0M88.1 534.3h0M86.7 526.0h0M87.4 524.3h0M87.5 537.2h0M87.5 531.5h0M62.4 603.6h0M62.1 559.8h0M66.0 588.0h0M67.3 569.5h0M71.7 558.0h0M70.2 558.1h0M66.4 569.2h0M64.2 561.7h0M62.3 568.6h0M69.0 565.6h0M55.7 572.6h0M67.3 577.8h0M65.4 576.1h0M89.3 563.9h0M81.4 597.4h0M77.4 604.9h0M82.9 568.7h0M74.8 560.0h0M86.3 557.8h0M86.5 565.5h0M80.5 577.6h0M90.0 579.5h0M81.8 559.4h0M74.8 577.3h0M90.4 571.2h0M79.4 587.4h0" stroke="#FF7200" stroke-width="2.30" stroke-linecap="round" fill="none"/>
<path d="M79.8 605.1h0M85.8 611.0h0M61.9 606.4h0M63.4 608.7h0M57.6 554.8h0M65.2 557.7h0M146.2 586.8h0M146.4 598.5h0M147.8 601.6h0M146.0 601.1h0M146.8 605.0h0M145.0 583.9h0M147.1 587.4h0M146.1 596.0h0" stroke="#FF5500" stroke-width="2.30" stroke-linecap="round" fill="none"/>
<path d="M68.3 580.2h0M62.0 575.5h0M55.3 571.4h0M65.1 602.9h0M68.1 602.4h0M61.3 584.7h0M90.4 569.7h0M77.7 585.1h0M84.3 582.4h0M78.7 581.6h0M82.4 603.7h0M87.0 595.4h0M147.2 597.7h0M145.6 583.7h0M148.7 578.1h0M147.2 604.0h0M146.1 576.7h0M146.0 587.1h0M148.1 594.2h0M146.9 592.7h0" stroke="#FF0B00" stroke-width="2.30" stroke-linecap="round" fill="none"/>
<path d="M82.3 600.2h0M82.6 563.3h0M74.5 560.6h0M85.7 595.9h0M78.9 595.2h0" stroke="#28F050" stroke-width="2.30" stroke-linecap="round" fill="none"/>
<path d="M88.2 603.4h0M86.9 564.5h0M89.2 567.1h0M78.5 580.5h0" stroke="#96FF14" stroke-width="2.30" stroke-linecap="round" fill="none"/>
<path d="M146.0 603.3h0M146.6 584.6h0M145.9 586.5h0M147.0 597.0h0M145.7 594.6h0M144.1 574.8h0M146.1 589.7h0M146.1 600.4h0M145.6 578.8h0M147.4 581.3h0M148.3 582.5h0M148.0 603.6h0" stroke="#FF1600" stroke-width="2.30" stroke-linecap="round" fill="none"/>
<path d="M85.3 529.4h0M85.8 540.3h0M84.1 543.9h0M88.4 557.1h0M84.7 560.7h0M87.1 563.2h0" stroke="#9730FF" stroke-width="2.30" stroke-linecap="round" fill="none"/>
<path d="M86.0 552.8h0M89.6 567.3h0" stroke="#2864FF" stroke-width="2.30" stroke-linecap="round" fill="none"/>
<path d="M81.6 564.4h0M81.8 578.9h0M84.7 582.5h0" stroke="#28F050" stroke-width="2.30" stroke-linecap="round" fill="none"/>
<path d="M74.4 570.4h0M75.1 575.2h0M75.1 584.9h0" stroke="#B9F00D" stroke-width="2.30" stroke-linecap="round" fill="none"/>
<path d="M87.3 497.5h0" stroke="#FFD200" stroke-width="2.30" stroke-linecap="round" fill="none"/>
<path d="M34.9 585.5h0M30.5 596.0h0" stroke="#FF0B00" stroke-width="2.30" stroke-linecap="round" fill="none"/>
<path d="M86.4 480.3L88.3 482.2L86.4 484.1L84.5 482.2Z" fill="#000"/>
</svg>
<line x1="18.50" x2="20.00" y1="623.10" y2="623.10" stroke="#333" stroke-width="0.4"/>
<text x="18.00" y="624.70" font-size="4.80" text-anchor="end" fill="#444">0</text>
<line x1="18.50" x2="20.00" y1="588.10" y2="588.10" stroke="#333" stroke-width="0.4"/>
<text x="18.00" y="589.70" font-size="4.80" text-anchor="end" fill="#444">5</text>
<line x1="18.50" x2="20.00" y1="553.10" y2="553.10" stroke="#333" stroke-width="0.4"/>
<text x="18.00" y="554.70" font-size="4.80" text-anchor="end" fill="#444">10</text>
<line x1="18.50" x2="20.00" y1="518.10" y2="518.10" stroke="#333" stroke-width="0.4"/>
<text x="18.00" y="519.70" font-size="4.80" text-anchor="end" fill="#444">15</text>
<line x1="18.50" x2="20.00" y1="483.10" y2="483.10" stroke="#333" stroke-width="0.4"/>
<text x="18.00" y="484.70" font-size="4.80" text-anchor="end" fill="#444">20</text>
<line x1="48.00" x2="48.00" y1="630.20" y2="631.40" stroke="#999" stroke-width="0.4"/>
<text x="48.00" y="635.40" font-size="4.80" text-anchor="middle" fill="#444">74000000</text>
<line x1="79.00" x2="79.00" y1="630.20" y2="631.40" stroke="#999" stroke-width="0.4"/>
<text x="79.00" y="635.40" font-size="4.80" text-anchor="middle" fill="#444">74500000</text>
<line x1="110.00" x2="110.00" y1="630.20" y2="631.40" stroke="#999" stroke-width="0.4"/>
<text x="110.00" y="635.40" font-size="4.80" text-anchor="middle" fill="#444">75000000</text>
<line x1="141.00" x2="141.00" y1="630.20" y2="631.40" stroke="#999" stroke-width="0.4"/>
<text x="141.00" y="635.40" font-size="4.80" text-anchor="middle" fill="#444">75500000</text>
<text x="11.50" y="552.70" font-size="5.90" text-anchor="middle" fill="#000" transform="rotate(-90 11.5 552.7)">−log10(p−value)</text>
<text x="87.70" y="642.00" font-size="5.90" text-anchor="middle" fill="#000">Position on chromosome</text>
<text x="4.00" y="465.60" font-size="9.0" fill="#000"><tspan>Meta-analysis signal led by rs7193541</tspan></text>
<rect x="174.10" y="475.50" width="134.70" height="154.70" fill="#EBEBEB"/>
<svg x="174.10" y="475.50" width="134.70" height="154.70" viewBox="174.10 475.50 134.70 154.70" overflow="hidden">
<line x1="174.10" x2="308.80" y1="647.38" y2="647.38" stroke="#fff" stroke-width="0.3"/>
<line x1="174.10" x2="308.80" y1="599.22" y2="599.22" stroke="#fff" stroke-width="0.3"/>
<line x1="174.10" x2="308.80" y1="551.06" y2="551.06" stroke="#fff" stroke-width="0.3"/>
<line x1="174.10" x2="308.80" y1="502.90" y2="502.90" stroke="#fff" stroke-width="0.3"/>
<line x1="174.10" x2="308.80" y1="454.74" y2="454.74" stroke="#fff" stroke-width="0.3"/>
<line x1="174.10" x2="308.80" y1="406.58" y2="406.58" stroke="#fff" stroke-width="0.3"/>
<line x1="174.10" x2="308.80" y1="623.30" y2="623.30" stroke="#fff" stroke-width="0.6"/>
<line x1="174.10" x2="308.80" y1="575.14" y2="575.14" stroke="#fff" stroke-width="0.6"/>
<line x1="174.10" x2="308.80" y1="526.98" y2="526.98" stroke="#fff" stroke-width="0.6"/>
<line x1="174.10" x2="308.80" y1="478.82" y2="478.82" stroke="#fff" stroke-width="0.6"/>
<line x1="155.20" x2="155.20" y1="475.50" y2="630.20" stroke="#fff" stroke-width="0.3"/>
<line x1="186.40" x2="186.40" y1="475.50" y2="630.20" stroke="#fff" stroke-width="0.3"/>
<line x1="217.60" x2="217.60" y1="475.50" y2="630.20" stroke="#fff" stroke-width="0.3"/>
<line x1="248.80" x2="248.80" y1="475.50" y2="630.20" stroke="#fff" stroke-width="0.3"/>
<line x1="280.00" x2="280.00" y1="475.50" y2="630.20" stroke="#fff" stroke-width="0.3"/>
<line x1="311.20" x2="311.20" y1="475.50" y2="630.20" stroke="#fff" stroke-width="0.3"/>
<line x1="342.40" x2="342.40" y1="475.50" y2="630.20" stroke="#fff" stroke-width="0.3"/>
<line x1="170.80" x2="170.80" y1="475.50" y2="630.20" stroke="#fff" stroke-width="0.6"/>
<line x1="202.00" x2="202.00" y1="475.50" y2="630.20" stroke="#fff" stroke-width="0.6"/>
<line x1="233.20" x2="233.20" y1="475.50" y2="630.20" stroke="#fff" stroke-width="0.6"/>
<line x1="264.40" x2="264.40" y1="475.50" y2="630.20" stroke="#fff" stroke-width="0.6"/>
<line x1="295.60" x2="295.60" y1="475.50" y2="630.20" stroke="#fff" stroke-width="0.6"/>
<g id="dots_D2"></g>
<rect x="179.00" y="617.76" width="125.60" height="6.54" fill="#FF0000"/>
<path d="M188.7 618.1h0M210.4 618.1h0M211.6 617.1h0M249.3 617.5h0M294.6 618.0h0M237.9 618.4h0M277.0 618.4h0M224.9 618.4h0M270.0 618.0h0M242.4 617.9h0M284.2 615.7h0M225.8 616.9h0M267.8 617.6h0M300.9 618.3h0M219.3 618.0h0M217.8 618.2h0M204.6 616.6h0M300.0 617.0h0M278.2 618.1h0M218.3 618.1h0M182.0 618.4h0M238.5 618.1h0M260.8 617.9h0M192.2 617.1h0M232.6 618.0h0M225.9 618.2h0M293.8 616.0h0M202.7 616.7h0M280.3 617.2h0M214.9 616.8h0M252.0 618.0h0M184.2 618.0h0M201.5 618.2h0M287.1 618.2h0M280.7 618.2h0M194.1 618.1h0M200.6 618.4h0M263.3 617.6h0M202.5 617.5h0M246.2 618.4h0M192.2 617.6h0M292.8 617.2h0M254.2 618.4h0M271.7 618.4h0M276.4 618.4h0M300.3 618.0h0M206.6 618.4h0M212.6 617.6h0M213.2 618.4h0M273.0 618.4h0M200.8 618.3h0M197.8 618.3h0M188.7 618.5h0M194.8 618.1h0M294.0 617.2h0M248.1 618.4h0M295.0 618.3h0M244.4 617.9h0M231.5 618.3h0M291.1 618.4h0M222.1 617.6h0M214.6 618.5h0M190.1 617.5h0M244.6 618.2h0M284.2 617.7h0M204.4 618.3h0M290.2 618.1h0M248.2 618.2h0M296.4 617.8h0M282.1 618.1h0M264.6 618.4h0M195.2 618.2h0M215.7 616.3h0M207.8 617.9h0M287.9 617.9h0M291.0 617.6h0M272.9 618.4h0M217.6 617.0h0M227.2 617.4h0M258.5 615.5h0M247.4 616.1h0M282.4 617.6h0M298.5 617.7h0M235.5 617.2h0M267.6 617.9h0M271.9 617.9h0M290.6 617.9h0M291.1 618.1h0M280.1 618.5h0M297.2 618.4h0M229.6 618.3h0M280.6 617.7h0M232.8 618.4h0M239.0 617.0h0M287.0 618.2h0M301.7 618.2h0M296.9 618.4h0M184.7 617.8h0M218.8 617.8h0M241.3 618.3h0M292.0 618.5h0M216.9 617.9h0M256.6 618.2h0M214.3 618.3h0M281.9 618.1h0M205.6 616.9h0M276.7 617.0h0M248.9 615.3h0M230.7 616.8h0M298.9 617.8h0M242.7 617.8h0M265.8 618.3h0M303.3 617.5h0M295.6 617.1h0M203.6 618.5h0M211.4 617.3h0M297.3 618.3h0M224.5 618.5h0M222.9 618.4h0M258.9 617.8h0M293.0 618.4h0M214.9 618.3h0M259.2 618.1h0M255.5 618.5h0M206.0 617.9h0M265.7 617.4h0M198.9 617.9h0M210.0 617.7h0M289.2 618.4h0M186.4 618.2h0M289.1 618.5h0M191.8 618.1h0M230.0 617.0h0M181.5 616.4h0M216.5 616.0h0M263.7 618.4h0M202.2 615.5h0M211.2 618.2h0M272.9 618.2h0M299.6 618.4h0M191.5 616.2h0M234.2 617.4h0M218.7 617.4h0M240.9 618.4h0M240.0 617.9h0M296.4 616.8h0M293.1 617.6h0M275.9 617.9h0M254.5 617.5h0M243.0 618.1h0M252.0 618.2h0M228.7 618.0h0M210.2 618.4h0M265.0 618.3h0M211.4 618.2h0M249.6 618.1h0M197.2 617.7h0M268.2 618.5h0M228.8 618.2h0M258.0 618.0h0M261.8 618.0h0M211.7 618.3h0M189.7 617.2h0M253.3 618.2h0M252.9 616.3h0M256.2 618.3h0M191.4 618.1h0M283.0 617.9h0M251.1 618.5h0M262.0 618.2h0M195.7 618.2h0M227.3 618.5h0M202.1 617.8h0M239.4 617.7h0M234.0 615.4h0M221.0 618.5h0M211.6 618.3h0M296.7 618.5h0M300.8 616.2h0M269.1 618.1h0M295.1 617.4h0M228.4 617.9h0M244.1 618.4h0M287.8 618.4h0M189.9 617.5h0M264.6 617.6h0M185.9 618.1h0M292.4 618.3h0M203.7 618.3h0M287.5 618.3h0M209.5 618.0h0M245.0 618.1h0M187.7 618.0h0M183.9 616.7h0M265.2 617.9h0M261.3 618.0h0M293.0 618.0h0M277.9 618.4h0M228.0 617.9h0M277.4 618.4h0M261.5 616.5h0M216.1 618.0h0M255.8 617.1h0M224.0 618.1h0M273.8 617.4h0M197.1 617.9h0M254.7 618.4h0M218.3 618.0h0M248.1 618.4h0M259.1 618.1h0M274.8 616.9h0M267.9 618.4h0M230.5 618.3h0M263.8 618.2h0M282.2 618.3h0M199.4 617.4h0M283.0 616.3h0M191.2 618.2h0M237.8 618.3h0M277.6 618.2h0M215.1 618.0h0M265.1 617.7h0M209.4 618.2h0M289.6 617.3h0M220.3 617.1h0M181.9 617.7h0M285.5 616.4h0M276.1 618.3h0M295.9 617.8h0M264.1 618.0h0M278.7 617.5h0M288.3 618.0h0M218.1 618.1h0M215.6 618.4h0M194.3 618.1h0M232.2 617.5h0M215.9 618.3h0M275.2 618.5h0M277.2 618.3h0M243.9 616.5h0M207.8 618.4h0M282.6 618.0h0M215.1 618.3h0M241.7 618.5h0M298.5 617.2h0M207.1 617.9h0M275.7 617.5h0M267.1 617.7h0M290.3 617.6h0M254.0 617.9h0M191.5 617.9h0M237.9 618.3h0M249.0 618.5h0M229.7 615.7h0M241.8 618.2h0M268.7 617.5h0M222.7 618.5h0M292.6 618.2h0M291.9 617.3h0M272.4 615.4h0M236.1 617.7h0M190.8 617.9h0M215.3 617.4h0M238.7 618.3h0M215.5 618.1h0M230.9 617.9h0M215.0 618.4h0M297.1 618.4h0M210.0 617.1h0M260.1 617.6h0M292.6 617.4h0M220.8 617.4h0M293.9 617.4h0M248.4 618.4h0M189.4 617.5h0M262.3 613.1h0M218.5 618.1h0M216.2 617.7h0M230.1 617.8h0M223.0 616.6h0M288.5 617.1h0M263.0 617.8h0M220.9 617.0h0M204.4 617.6h0M254.7 617.5h0M216.1 617.3h0M186.0 618.2h0M268.2 616.3h0M259.4 618.2h0M264.8 618.1h0M276.6 618.0h0M216.6 617.8h0M227.5 617.9h0M220.1 618.4h0M214.6 617.1h0M217.6 618.4h0M227.5 617.9h0M215.2 618.2h0M202.1 618.4h0M239.5 618.0h0M291.2 618.2h0M257.8 617.2h0M194.8 617.7h0M227.9 618.4h0M191.1 617.7h0M223.9 617.3h0M303.4 617.9h0M289.3 618.4h0M265.1 618.0h0M209.4 616.7h0M246.9 618.0h0M189.6 617.7h0M280.5 618.4h0M279.8 617.7h0M258.2 618.1h0M255.7 618.0h0M201.2 617.2h0M278.9 618.4h0M205.2 616.9h0M203.2 617.3h0M214.5 618.4h0M237.8 618.3h0M194.3 618.5h0M232.0 616.7h0M241.7 618.1h0M265.9 617.9h0M278.8 618.2h0M234.8 618.0h0M203.5 618.0h0M285.7 618.0h0M276.1 618.3h0M187.9 617.9h0M259.2 617.6h0M251.0 618.1h0M212.0 618.1h0M182.3 617.5h0M196.5 617.8h0M242.7 617.8h0M273.3 618.1h0M187.3 617.5h0M227.9 618.4h0M244.4 618.4h0M192.4 617.6h0M300.4 617.9h0M249.6 618.0h0M288.0 616.4h0M289.0 618.1h0M203.3 618.2h0M192.9 618.0h0M254.3 618.0h0M183.5 618.4h0M198.4 618.3h0M242.3 615.9h0M259.5 618.3h0M196.9 616.9h0M181.6 618.2h0M238.9 617.2h0M273.9 618.2h0M183.6 618.2h0M186.0 617.3h0M282.3 618.5h0M199.8 616.5h0M285.2 617.4h0M224.5 616.6h0M223.9 617.9h0M214.6 618.4h0M246.3 618.1h0M253.2 618.4h0M262.4 618.4h0M288.8 617.8h0M268.1 614.8h0M253.8 618.1h0M200.4 618.4h0M217.5 618.4h0M280.8 616.8h0M265.5 618.3h0M205.0 618.3h0M215.8 617.6h0M190.0 617.6h0M203.1 618.5h0M298.9 617.9h0M300.6 615.8h0M205.3 616.6h0M245.4 617.6h0M222.4 617.0h0M289.1 617.2h0M245.6 618.4h0M287.2 617.4h0M215.6 618.4h0M292.5 618.3h0M241.6 618.1h0M189.2 617.5h0M195.0 618.0h0M255.9 614.4h0M229.4 617.5h0M189.1 618.2h0M289.0 618.4h0M268.2 617.3h0M267.7 618.2h0M291.7 616.8h0M205.3 618.5h0M255.2 618.3h0M209.8 618.2h0M239.1 616.0h0M248.3 618.4h0M269.7 618.3h0M260.0 617.6h0M250.1 615.8h0M248.0 618.2h0M262.9 618.3h0M198.1 617.9h0M263.9 617.9h0M197.1 618.4h0M278.1 617.7h0M189.1 618.4h0M241.4 617.9h0M226.8 617.9h0M265.6 615.8h0M260.4 617.7h0M223.4 616.5h0M281.1 611.6h0M282.6 616.9h0M281.2 615.3h0M281.9 612.5h0M280.6 614.4h0M281.1 612.5h0M282.3 612.6h0M281.7 614.1h0M282.3 611.7h0M281.2 616.1h0M301.4 618.0h0M300.3 616.0h0M299.9 618.3h0M301.3 616.6h0M298.5 616.6h0M299.7 616.0h0M299.4 617.2h0M300.9 614.3h0M300.9 616.1h0M301.4 616.6h0M184.9 616.0h0M186.8 617.4h0M187.1 618.2h0M187.7 618.2h0M188.3 615.7h0M186.0 615.8h0M187.6 618.3h0M186.3 616.0h0M187.0 616.0h0M188.0 616.0h0M228.5 616.2h0M229.0 615.0h0M230.1 616.5h0M229.0 616.4h0M229.2 616.4h0M228.8 616.3h0M229.0 616.1h0M230.0 618.1h0M229.2 615.9h0M228.6 615.0h0M257.3 616.2h0M259.2 616.3h0M259.0 618.0h0M259.5 616.3h0M258.8 618.1h0M258.2 617.7h0M260.4 615.8h0M258.0 616.1h0M259.5 616.9h0M259.0 617.2h0" stroke="#FF0000" stroke-width="2.30" stroke-linecap="round" fill="none"/>
<path d="M221.7 618.6h0M212.4 622.1h0M235.6 616.8h0M233.1 617.4h0M213.7 614.3h0M232.7 621.6h0M239.0 618.3h0M231.5 619.4h0M223.5 614.9h0M234.4 617.7h0M228.1 617.9h0M231.3 615.3h0M223.5 621.7h0M212.0 619.0h0M243.5 617.1h0M239.9 622.9h0M238.2 615.3h0M241.2 616.2h0M221.0 619.9h0M229.4 621.4h0M235.7 618.2h0M233.5 617.9h0M224.8 616.8h0M238.9 618.7h0M232.2 622.9h0M243.2 620.0h0M212.9 621.2h0M246.2 616.9h0M232.3 621.1h0M219.6 620.9h0M235.4 615.0h0M227.6 617.1h0M234.0 622.8h0M233.4 618.1h0M227.4 616.8h0M243.0 616.8h0M239.1 614.6h0M229.6 614.9h0M235.9 620.8h0M244.6 616.0h0M223.6 617.8h0M233.1 616.8h0M222.6 620.1h0M220.5 616.8h0" stroke="#FF5500" stroke-width="2.30" stroke-linecap="round" fill="none"/>
<path d="M230.8 617.2h0M213.8 619.0h0M213.0 619.5h0M231.1 615.5h0M216.7 615.0h0M244.7 616.4h0M213.8 619.2h0M232.5 615.7h0M238.0 620.3h0M223.0 619.9h0M226.5 615.5h0M224.5 614.8h0M244.3 618.9h0M245.7 620.4h0M227.5 616.0h0M246.2 615.8h0M226.1 620.0h0M243.0 621.3h0M234.1 618.2h0M216.9 617.6h0M242.9 614.7h0M239.4 618.4h0M245.8 623.1h0M222.5 614.3h0M232.4 617.3h0M237.0 618.9h0M241.7 620.4h0M217.3 620.1h0M212.6 622.6h0M239.8 616.8h0M233.4 615.4h0M217.9 618.4h0M235.4 617.5h0M241.4 617.4h0M235.7 620.1h0M213.3 615.3h0M243.4 620.5h0M236.6 621.7h0M220.5 619.2h0M241.4 616.7h0M223.8 616.0h0M212.8 621.9h0M233.2 621.5h0M232.6 619.1h0M216.2 622.4h0M216.2 617.2h0M230.7 618.1h0M237.9 621.6h0M227.7 614.5h0M238.8 621.9h0M213.7 619.3h0M240.2 619.6h0M223.4 622.5h0M245.1 619.0h0M246.5 622.3h0M220.9 619.8h0M239.5 615.4h0M245.5 620.2h0M232.4 616.8h0M215.7 616.5h0M211.9 621.7h0M228.4 616.3h0" stroke="#FF0B00" stroke-width="2.30" stroke-linecap="round" fill="none"/>
<path d="M233.4 616.2h0M245.6 621.2h0M233.0 619.5h0M218.8 615.2h0M212.4 621.6h0M218.0 618.8h0M244.6 620.7h0M238.5 619.5h0M223.9 620.7h0M219.6 616.9h0M219.1 615.7h0M238.9 615.7h0M219.0 618.9h0M224.6 614.5h0M242.5 622.5h0M239.4 617.7h0M214.2 620.8h0M240.9 619.4h0M226.1 617.8h0M223.1 614.7h0M229.3 617.8h0M234.3 614.5h0M236.3 619.7h0M216.6 619.7h0M212.0 620.5h0M231.2 615.9h0" stroke="#FF3500" stroke-width="2.30" stroke-linecap="round" fill="none"/>
<path d="M225.2 621.0h0M226.3 619.2h0M211.2 616.3h0M221.6 614.2h0M224.7 620.0h0M246.0 617.0h0M217.6 618.5h0M222.1 617.9h0M217.2 622.3h0M223.7 614.7h0M213.3 614.3h0M213.3 621.1h0M220.4 616.1h0M236.0 615.3h0M245.2 619.2h0M241.0 618.4h0M242.8 615.7h0M236.3 616.4h0M241.3 617.7h0M215.9 621.3h0M231.0 623.2h0M219.4 614.5h0M231.2 619.4h0M215.7 620.3h0M233.3 622.9h0M236.1 616.1h0M226.3 614.3h0M235.1 620.6h0M240.6 617.7h0M245.8 618.8h0M242.0 618.3h0M234.8 615.5h0M227.4 619.3h0M229.3 617.4h0M224.3 616.6h0M224.5 619.3h0M225.5 617.5h0M245.0 620.9h0M245.1 618.2h0M244.8 622.4h0M243.1 620.3h0M235.4 617.1h0M238.0 614.5h0M212.7 615.6h0M216.7 622.7h0M244.6 623.2h0M212.7 614.3h0M233.4 621.3h0M229.2 617.9h0M241.1 620.6h0M223.0 617.8h0M212.0 616.8h0M226.5 620.1h0M232.0 614.5h0M217.5 617.2h0M231.4 615.3h0M214.7 621.7h0M231.2 614.6h0M213.6 621.5h0M214.2 621.6h0M214.5 614.9h0M237.7 617.9h0M226.6 618.0h0M233.7 619.6h0M212.4 621.2h0M241.1 612.3h0M230.0 614.6h0M230.4 607.2h0M240.8 614.5h0M223.6 610.2h0M242.7 610.8h0M232.2 608.4h0M234.5 613.8h0M232.8 607.5h0M235.4 614.0h0" stroke="#FF1600" stroke-width="2.30" stroke-linecap="round" fill="none"/>
<path d="M234.8 616.9h0M224.3 622.2h0M213.3 616.1h0M217.9 615.0h0M225.2 620.4h0M241.4 618.4h0M228.5 616.5h0M236.1 621.7h0M220.3 617.5h0M218.3 616.3h0M220.7 615.6h0M217.0 621.1h0M211.9 617.9h0M228.2 617.8h0M245.0 616.7h0M245.8 615.0h0M212.6 618.0h0M219.8 615.7h0M222.8 616.4h0M218.1 619.1h0M237.1 619.6h0M231.8 614.7h0M217.1 615.6h0M215.5 618.5h0M223.7 617.9h0M217.4 616.3h0M232.2 623.0h0M227.2 622.0h0M213.8 621.7h0M212.6 614.2h0M237.6 618.8h0M233.9 618.2h0M218.6 623.3h0M219.0 607.2h0M212.6 610.4h0M220.5 606.3h0M216.4 607.8h0M214.9 612.5h0M220.8 606.2h0M213.3 604.8h0M218.4 610.5h0M219.2 609.5h0M218.3 612.9h0M219.7 607.5h0M213.9 605.8h0M212.6 609.7h0M215.7 606.8h0M214.2 612.1h0M213.3 611.3h0M215.2 604.3h0M214.1 614.3h0M218.8 612.9h0M216.7 611.5h0M231.3 608.2h0M242.5 613.8h0M244.0 614.3h0M226.8 612.8h0M243.1 610.6h0M233.1 609.4h0M244.5 614.7h0M241.7 610.4h0M241.8 612.8h0M233.3 612.5h0M237.3 610.6h0M229.8 607.8h0M222.5 614.7h0M231.5 609.2h0M234.7 614.7h0" stroke="#FF7200" stroke-width="2.30" stroke-linecap="round" fill="none"/>
<path d="M212.2 606.0h0M215.3 606.1h0M216.8 604.8h0M218.6 608.3h0M219.2 613.8h0M219.4 606.8h0M217.6 614.1h0M214.9 611.4h0M214.6 604.6h0M225.0 608.1h0M229.1 614.1h0M231.5 612.8h0M239.3 609.1h0M235.2 608.5h0M227.3 608.7h0" stroke="#FFAC00" stroke-width="2.30" stroke-linecap="round" fill="none"/>
<path d="M220.5 604.1h0M218.2 612.3h0M214.2 606.0h0M215.8 608.7h0M218.7 610.1h0M220.6 606.0h0M233.3 607.7h0M243.6 609.4h0M241.7 609.1h0M229.3 612.1h0M233.7 613.2h0M229.6 612.5h0M240.4 609.5h0M244.4 614.7h0M229.1 611.3h0M245.9 610.4h0" stroke="#FF8500" stroke-width="2.30" stroke-linecap="round" fill="none"/>
<path d="M240.2 609.5h0M227.8 610.6h0M225.3 613.3h0M240.2 609.0h0" stroke="#DCE107" stroke-width="2.30" stroke-linecap="round" fill="none"/>
<path d="M241.8 614.0h0M237.0 613.5h0M241.1 611.3h0M242.9 612.0h0M243.4 622.7h0M235.3 621.3h0M231.5 616.4h0M238.6 621.0h0M240.9 617.8h0M219.0 598.0h0" stroke="#FFAC00" stroke-width="2.30" stroke-linecap="round" fill="none"/>
<path d="M229.9 614.0h0M239.6 621.1h0M229.0 612.8h0M239.3 611.8h0M233.8 619.2h0M237.1 617.2h0M237.8 616.5h0M234.1 582.2h0M237.9 582.6h0M236.4 588.3h0M235.7 577.3h0M243.1 596.9h0M239.8 596.8h0M243.6 588.2h0M239.8 596.7h0M233.3 571.3h0" stroke="#DCE107" stroke-width="2.30" stroke-linecap="round" fill="none"/>
<path d="M228.2 621.1h0M233.6 617.6h0M240.5 618.4h0M238.2 618.3h0M241.1 618.1h0M245.4 614.8h0M244.9 617.8h0M239.3 612.3h0M234.9 622.2h0M231.4 613.3h0M233.8 616.9h0M237.2 619.0h0M234.9 584.9h0M233.8 580.6h0M236.4 584.9h0M240.7 594.0h0M238.4 588.6h0M241.1 577.6h0M238.3 579.3h0M242.2 576.8h0" stroke="#B9F00D" stroke-width="2.30" stroke-linecap="round" fill="none"/>
<path d="M226.9 612.7h0M245.4 618.4h0M225.2 570.8h0M231.1 583.2h0M236.7 589.1h0M239.1 599.8h0M237.5 589.3h0M226.0 570.7h0M232.3 574.5h0M244.4 591.0h0M239.7 583.0h0M240.6 594.6h0M239.8 572.6h0M240.6 590.1h0M235.0 562.0h0M245.0 563.0h0" stroke="#96FF14" stroke-width="2.30" stroke-linecap="round" fill="none"/>
<path d="M244.9 623.0h0M242.6 617.2h0M232.0 614.7h0M239.6 612.7h0M237.4 612.1h0" stroke="#FFD200" stroke-width="2.30" stroke-linecap="round" fill="none"/>
<path d="M232.0 594.4h0M242.1 576.8h0M240.8 594.1h0M242.5 592.5h0M232.3 591.2h0M240.9 580.3h0M229.6 594.4h0M230.0 586.0h0M245.2 594.2h0M236.6 573.0h0M236.6 599.4h0M238.2 598.9h0M244.5 577.7h0M234.7 580.7h0M241.0 575.1h0M226.3 581.4h0M233.5 580.7h0" stroke="#CAE80A" stroke-width="2.30" stroke-linecap="round" fill="none"/>
<path d="M231.2 577.3h0M233.1 577.2h0M237.6 577.1h0M238.9 573.4h0M241.0 596.7h0M236.5 589.8h0M238.9 598.8h0M237.7 596.1h0M242.3 592.5h0M225.8 573.7h0M240.2 590.2h0M235.7 591.0h0M241.7 595.7h0M241.5 576.8h0" stroke="#7BFB23" stroke-width="2.30" stroke-linecap="round" fill="none"/>
<path d="M235.7 593.0h0M233.2 581.7h0M241.0 594.2h0M237.9 584.1h0M240.1 571.2h0M233.2 584.9h0M233.8 574.6h0M238.9 579.1h0M238.6 571.6h0M231.5 590.4h0" stroke="#EEDA03" stroke-width="2.30" stroke-linecap="round" fill="none"/>
<path d="M228.3 596.1h0M232.0 602.0h0M230.0 604.6h0M245.5 600.0h0" stroke="#FF7200" stroke-width="2.30" stroke-linecap="round" fill="none"/>
<path d="M244.0 597.0h0" stroke="#FF8500" stroke-width="2.30" stroke-linecap="round" fill="none"/>
<path d="M241.0 486.0h0M242.5 489.0h0" stroke="#B428FF" stroke-width="2.30" stroke-linecap="round" fill="none"/>
<path d="M240.5 499.0h0M243.0 497.0h0M243.0 500.0h0" stroke="#9730FF" stroke-width="2.30" stroke-linecap="round" fill="none"/>
<path d="M238.5 506.0h0M239.5 509.0h0" stroke="#7A39FF" stroke-width="2.30" stroke-linecap="round" fill="none"/>
<path d="M236.5 515.0h0M240.0 540.0h0" stroke="#2864FF" stroke-width="2.30" stroke-linecap="round" fill="none"/>
<path d="M230.5 526.7h0" stroke="#3077DE" stroke-width="2.30" stroke-linecap="round" fill="none"/>
<path d="M241.5 519.0h0M241.5 521.0h0M242.5 523.0h0M240.5 531.0h0M242.0 534.0h0M241.0 537.0h0M243.0 539.0h0M229.0 543.5h0" stroke="#28F050" stroke-width="2.30" stroke-linecap="round" fill="none"/>
<path d="M243.7 535.0h0" stroke="#3B94AD" stroke-width="2.30" stroke-linecap="round" fill="none"/>
<path d="M229.0 550.5h0M230.0 556.0h0M241.0 550.0h0" stroke="#44F441" stroke-width="2.30" stroke-linecap="round" fill="none"/>
<path d="M236.0 548.0h0M243.0 546.0h0M243.5 553.0h0M231.0 560.0h0M240.0 561.0h0" stroke="#5FF832" stroke-width="2.30" stroke-linecap="round" fill="none"/>
<path d="M240.4 480.8L242.3 482.7L240.4 484.6L238.5 482.7Z" fill="#000"/>
</svg>
<line x1="172.60" x2="174.10" y1="623.30" y2="623.30" stroke="#333" stroke-width="0.4"/>
<text x="172.10" y="624.90" font-size="4.80" text-anchor="end" fill="#444">0</text>
<line x1="172.60" x2="174.10" y1="575.14" y2="575.14" stroke="#333" stroke-width="0.4"/>
<text x="172.10" y="576.74" font-size="4.80" text-anchor="end" fill="#444">20</text>
<line x1="172.60" x2="174.10" y1="526.98" y2="526.98" stroke="#333" stroke-width="0.4"/>
<text x="172.10" y="528.58" font-size="4.80" text-anchor="end" fill="#444">40</text>
<line x1="172.60" x2="174.10" y1="478.82" y2="478.82" stroke="#333" stroke-width="0.4"/>
<text x="172.10" y="480.42" font-size="4.80" text-anchor="end" fill="#444">60</text>
<line x1="202.00" x2="202.00" y1="630.20" y2="631.40" stroke="#999" stroke-width="0.4"/>
<text x="202.00" y="635.40" font-size="4.80" text-anchor="middle" fill="#444">74000000</text>
<line x1="233.20" x2="233.20" y1="630.20" y2="631.40" stroke="#999" stroke-width="0.4"/>
<text x="233.20" y="635.40" font-size="4.80" text-anchor="middle" fill="#444">74500000</text>
<line x1="264.40" x2="264.40" y1="630.20" y2="631.40" stroke="#999" stroke-width="0.4"/>
<text x="264.40" y="635.40" font-size="4.80" text-anchor="middle" fill="#444">75000000</text>
<line x1="295.60" x2="295.60" y1="630.20" y2="631.40" stroke="#999" stroke-width="0.4"/>
<text x="295.60" y="635.40" font-size="4.80" text-anchor="middle" fill="#444">75500000</text>
<text x="166.00" y="552.85" font-size="5.90" text-anchor="middle" fill="#000" transform="rotate(-90 166 552.85)">−log10(p−value)</text>
<text x="241.45" y="642.00" font-size="5.90" text-anchor="middle" fill="#000">Position on chromosome</text>
<text x="168.20" y="465.60" font-size="9.0" fill="#000"><tspan font-style="italic">RFWD3</tspan><tspan> sQTL in cultured fibroblasts</tspan></text>
<rect x="520.00" y="474.10" width="132.80" height="156.10" fill="#EBEBEB"/>
<svg x="520.00" y="474.10" width="132.80" height="156.10" viewBox="520.00 474.10 132.80 156.10" overflow="hidden">
<line x1="520.00" x2="652.80" y1="641.44" y2="641.44" stroke="#fff" stroke-width="0.3"/>
<line x1="520.00" x2="652.80" y1="604.56" y2="604.56" stroke="#fff" stroke-width="0.3"/>
<line x1="520.00" x2="652.80" y1="567.69" y2="567.69" stroke="#fff" stroke-width="0.3"/>
<line x1="520.00" x2="652.80" y1="530.81" y2="530.81" stroke="#fff" stroke-width="0.3"/>
<line x1="520.00" x2="652.80" y1="493.94" y2="493.94" stroke="#fff" stroke-width="0.3"/>
<line x1="520.00" x2="652.80" y1="457.06" y2="457.06" stroke="#fff" stroke-width="0.3"/>
<line x1="520.00" x2="652.80" y1="420.19" y2="420.19" stroke="#fff" stroke-width="0.3"/>
<line x1="520.00" x2="652.80" y1="623.00" y2="623.00" stroke="#fff" stroke-width="0.6"/>
<line x1="520.00" x2="652.80" y1="586.12" y2="586.12" stroke="#fff" stroke-width="0.6"/>
<line x1="520.00" x2="652.80" y1="549.25" y2="549.25" stroke="#fff" stroke-width="0.6"/>
<line x1="520.00" x2="652.80" y1="512.38" y2="512.38" stroke="#fff" stroke-width="0.6"/>
<line x1="520.00" x2="652.80" y1="475.50" y2="475.50" stroke="#fff" stroke-width="0.6"/>
<line x1="511.48" x2="511.48" y1="474.10" y2="630.20" stroke="#fff" stroke-width="0.3"/>
<line x1="541.73" x2="541.73" y1="474.10" y2="630.20" stroke="#fff" stroke-width="0.3"/>
<line x1="571.98" x2="571.98" y1="474.10" y2="630.20" stroke="#fff" stroke-width="0.3"/>
<line x1="602.23" x2="602.23" y1="474.10" y2="630.20" stroke="#fff" stroke-width="0.3"/>
<line x1="632.48" x2="632.48" y1="474.10" y2="630.20" stroke="#fff" stroke-width="0.3"/>
<line x1="662.73" x2="662.73" y1="474.10" y2="630.20" stroke="#fff" stroke-width="0.3"/>
<line x1="692.98" x2="692.98" y1="474.10" y2="630.20" stroke="#fff" stroke-width="0.3"/>
<line x1="526.60" x2="526.60" y1="474.10" y2="630.20" stroke="#fff" stroke-width="0.6"/>
<line x1="556.85" x2="556.85" y1="474.10" y2="630.20" stroke="#fff" stroke-width="0.6"/>
<line x1="587.10" x2="587.10" y1="474.10" y2="630.20" stroke="#fff" stroke-width="0.6"/>
<line x1="617.35" x2="617.35" y1="474.10" y2="630.20" stroke="#fff" stroke-width="0.6"/>
<line x1="647.60" x2="647.60" y1="474.10" y2="630.20" stroke="#fff" stroke-width="0.6"/>
<g id="dots_E"></g>
<rect x="524.70" y="618.28" width="124.20" height="5.72" fill="#FF0000"/>
<path d="M623.4 618.3h0M555.0 616.6h0M539.7 618.0h0M593.9 617.6h0M543.4 617.5h0M586.9 616.3h0M529.1 614.7h0M546.7 616.6h0M587.7 616.5h0M548.0 618.4h0M536.3 616.9h0M591.0 618.6h0M549.1 618.8h0M550.1 617.8h0M579.2 617.3h0M534.9 616.4h0M645.8 617.1h0M616.6 616.4h0M537.2 618.0h0M535.3 616.9h0M591.4 618.7h0M580.0 616.9h0M593.2 618.7h0M640.3 618.8h0M628.8 614.0h0M617.5 615.0h0M590.6 618.5h0M583.4 617.1h0M619.7 618.2h0M641.5 618.8h0M586.3 618.8h0M569.4 612.8h0M540.0 613.2h0M636.4 617.3h0M532.4 618.0h0M610.3 618.7h0M562.1 618.7h0M628.8 615.6h0M638.7 617.0h0M596.1 618.8h0M584.5 617.0h0M618.1 618.8h0M526.6 618.7h0M638.7 618.7h0M573.4 618.0h0M633.8 618.7h0M557.6 616.9h0M536.1 618.6h0M528.7 614.7h0M554.2 617.9h0M572.0 613.6h0M612.8 617.6h0M585.5 618.5h0M628.3 618.7h0M601.7 618.4h0M559.4 618.1h0M548.7 617.7h0M534.3 618.8h0M542.9 618.7h0M633.1 617.9h0M608.7 616.9h0M545.8 614.9h0M572.6 618.1h0M585.4 617.3h0M619.6 618.6h0M627.0 618.1h0M556.3 616.2h0M632.3 616.3h0M565.2 615.6h0M620.6 614.2h0M618.0 607.6h0M584.1 617.0h0M621.2 617.9h0M587.3 618.2h0M631.9 618.2h0M617.0 617.8h0M612.1 618.4h0M535.3 617.4h0M543.4 618.3h0M621.3 618.8h0M637.1 617.7h0M594.3 617.4h0M532.6 618.8h0M613.8 617.7h0M603.9 616.6h0M558.8 618.6h0M644.2 618.8h0M588.7 617.6h0M642.5 618.7h0M611.6 618.8h0M581.1 617.6h0M629.5 618.8h0M617.2 618.7h0M575.1 613.6h0M629.7 618.8h0M526.2 618.8h0M621.2 618.8h0M621.7 616.7h0M625.7 615.2h0M603.1 616.6h0M592.0 617.4h0M534.1 617.8h0M646.8 618.2h0M613.1 618.6h0M584.6 617.8h0M619.8 618.4h0M583.0 618.6h0M596.3 615.1h0M572.9 617.4h0M593.7 618.6h0M610.8 618.6h0M600.7 612.1h0M563.1 617.4h0M567.2 617.5h0M549.0 617.9h0M621.7 618.6h0M569.0 618.5h0M545.0 617.4h0M627.4 617.9h0M580.3 618.4h0M554.9 615.1h0M584.3 617.4h0M559.8 618.6h0M526.7 618.4h0M576.9 617.9h0M601.1 617.3h0M632.9 616.7h0M609.7 616.7h0M591.9 618.0h0M637.6 615.9h0M572.8 616.2h0M578.2 617.0h0M528.6 617.7h0M641.5 618.1h0M632.2 617.4h0M528.1 618.8h0M566.1 614.2h0M606.0 617.7h0M630.9 618.3h0M543.5 618.1h0M636.7 618.6h0M585.9 618.4h0M569.3 618.7h0M636.6 618.5h0M622.2 618.6h0M577.8 618.8h0M597.6 617.9h0M578.4 618.6h0M603.7 618.8h0M639.8 618.0h0M600.4 618.1h0M528.3 618.8h0M614.4 618.0h0M559.6 617.8h0M632.2 617.9h0M589.0 617.7h0M632.5 618.8h0M606.8 617.7h0M613.3 618.6h0M627.0 616.8h0M559.6 614.9h0M532.0 617.8h0M536.2 618.6h0M603.7 617.2h0M584.3 618.5h0M592.3 618.1h0M572.6 618.2h0M582.2 618.3h0M540.6 618.0h0M560.3 616.8h0M642.6 617.1h0M566.0 618.0h0M616.1 618.5h0M623.4 618.8h0M644.0 617.8h0M620.3 617.7h0M629.5 618.1h0M536.7 618.6h0M616.9 613.4h0M553.5 618.0h0M621.2 618.4h0M554.4 617.0h0M539.9 618.3h0M598.4 618.0h0M641.7 618.0h0M575.7 618.6h0M625.5 618.8h0M527.6 618.3h0M624.1 618.5h0M582.9 618.7h0M559.8 615.1h0M630.8 618.7h0M642.5 618.0h0M542.2 618.3h0M643.3 618.6h0M618.9 615.2h0M637.6 617.0h0M638.6 618.7h0M610.7 614.5h0M589.5 618.8h0M561.1 618.1h0M576.1 617.2h0M546.9 618.9h0M606.2 613.0h0M584.8 617.4h0M612.5 617.4h0M622.8 618.8h0M611.7 618.1h0M572.9 616.7h0M541.5 615.5h0M625.0 616.5h0M638.1 618.5h0M598.3 615.8h0M592.1 617.4h0M538.4 617.4h0M528.8 617.9h0M529.0 618.4h0M539.0 618.4h0M541.4 617.3h0M590.1 616.9h0M624.8 617.2h0M599.5 617.9h0M619.9 618.1h0M572.2 618.2h0M528.7 618.6h0M601.7 618.2h0M577.8 618.7h0M544.4 616.1h0M623.6 618.3h0M637.7 617.7h0M617.2 618.6h0M642.7 618.1h0M542.5 618.8h0M533.3 618.9h0M620.7 616.8h0M558.4 618.4h0M637.3 618.5h0M635.8 616.6h0M575.7 618.1h0M575.1 618.3h0M611.7 617.4h0M647.2 618.7h0M563.4 617.9h0M622.4 612.4h0M626.0 618.7h0M619.0 618.5h0M578.4 618.8h0M529.0 618.1h0M633.1 618.4h0M529.1 617.3h0M559.8 618.8h0M550.4 616.0h0M635.8 618.0h0M583.9 617.3h0M567.6 618.2h0M621.1 617.4h0M634.3 617.7h0M626.7 616.5h0M554.6 617.5h0M593.6 618.6h0M552.5 618.2h0M641.5 618.8h0M643.6 614.9h0M574.9 617.6h0M562.7 618.8h0M528.1 617.1h0M553.6 617.9h0M560.6 618.9h0M573.6 618.1h0M643.4 617.9h0M644.5 618.2h0M628.8 617.9h0M528.4 615.5h0M609.7 617.7h0M579.0 618.9h0M632.5 618.8h0M538.8 616.9h0M561.7 618.3h0M559.0 618.0h0M622.1 618.3h0M541.6 617.8h0M568.8 615.9h0M533.2 618.2h0M577.4 616.7h0M548.5 616.8h0M593.1 616.5h0M624.3 617.9h0M613.9 618.7h0M617.9 618.6h0M594.0 618.6h0M641.6 618.2h0M605.9 617.9h0M610.0 618.6h0M620.2 618.2h0M604.2 615.3h0M606.1 617.0h0M585.5 618.0h0M637.3 618.0h0M530.3 618.4h0M583.9 618.8h0M537.6 617.8h0M546.8 615.1h0M540.4 618.4h0M537.1 618.2h0M526.8 617.6h0M542.5 618.7h0M568.8 618.7h0M556.4 615.1h0M564.6 617.3h0M606.0 617.4h0M581.2 618.1h0M605.1 618.7h0M531.1 618.7h0M528.8 618.0h0M536.8 618.1h0M595.6 618.5h0M608.2 617.9h0M564.4 617.9h0M529.7 617.8h0M546.6 614.9h0M593.4 617.9h0M551.9 618.8h0M544.9 618.3h0M547.0 616.0h0M562.1 618.1h0M572.5 618.3h0M547.4 617.3h0M627.7 617.8h0M554.0 616.9h0M529.8 617.3h0M579.0 618.6h0M645.4 618.8h0M564.8 617.4h0M531.0 617.0h0M525.7 618.6h0M632.8 618.8h0M632.0 618.6h0M572.4 618.4h0M605.4 617.5h0M546.4 618.5h0M585.5 615.6h0M584.2 617.5h0M624.3 617.4h0M629.7 618.2h0M615.0 618.7h0M550.8 618.8h0M630.2 618.6h0M583.3 618.3h0M559.9 618.7h0M579.2 618.0h0M590.3 617.4h0M632.9 617.9h0M592.7 618.6h0M571.7 618.4h0M611.8 618.7h0M583.5 618.5h0M634.8 618.6h0M595.9 618.4h0M598.8 618.8h0M620.7 618.4h0M574.1 617.7h0M639.5 617.8h0M589.7 618.7h0M545.7 618.6h0M630.3 618.8h0M625.0 618.3h0M619.7 618.0h0M637.6 618.2h0M545.7 618.3h0M598.3 618.7h0M604.0 616.4h0M526.3 613.7h0M566.8 617.7h0M639.0 617.6h0M640.8 617.1h0M634.7 616.9h0M587.9 618.5h0M603.6 616.5h0M532.4 616.7h0M576.3 618.6h0M537.8 617.0h0M578.0 618.8h0M554.6 618.8h0M560.0 618.6h0M576.6 618.8h0M526.8 617.4h0M640.9 617.2h0M540.6 614.5h0M628.0 615.0h0M572.7 617.9h0M599.8 611.9h0M641.2 618.3h0M528.4 617.7h0M617.7 618.8h0M634.5 618.8h0M609.9 616.8h0M644.7 618.4h0M587.0 618.7h0M611.7 614.5h0M639.8 618.9h0M540.8 612.1h0M639.7 617.1h0M619.4 618.1h0M602.5 615.7h0M580.3 618.2h0M560.2 618.1h0M597.3 618.5h0M543.2 618.5h0M540.6 618.7h0M577.6 617.0h0M574.0 617.4h0M586.7 617.8h0M639.0 618.7h0M605.6 618.4h0M564.1 617.6h0M646.9 618.8h0M562.4 615.7h0M548.2 618.1h0M554.4 618.7h0M611.6 616.1h0M604.6 617.2h0M561.2 616.3h0M567.1 618.5h0M599.5 618.6h0M627.3 618.2h0M632.4 617.5h0M644.4 618.6h0M556.1 617.6h0M555.1 617.8h0M556.6 617.4h0M622.7 615.7h0M613.3 618.6h0M556.4 615.6h0M604.9 618.7h0M607.3 618.4h0M618.0 618.8h0M628.0 618.4h0M645.7 614.8h0M557.4 616.6h0M575.0 614.7h0M577.9 617.4h0M639.4 618.8h0M587.8 614.9h0M642.8 615.6h0M599.9 617.1h0M631.3 618.0h0M529.4 616.9h0M629.3 618.0h0M603.1 618.8h0M639.3 618.0h0M546.3 618.4h0M557.2 618.2h0M579.3 617.3h0M626.1 618.7h0M595.9 617.0h0M566.9 618.3h0M535.3 617.9h0M541.5 617.5h0M528.3 615.0h0M605.3 618.6h0M590.3 618.5h0M579.8 616.5h0M627.1 617.6h0M612.4 617.7h0M530.5 614.4h0M541.1 617.0h0M587.2 616.2h0M554.6 617.0h0M634.7 618.5h0M560.2 616.4h0M581.3 618.2h0M596.0 617.1h0M526.7 613.4h0M581.4 618.9h0M597.2 618.1h0M570.2 617.8h0M536.3 617.5h0M564.6 617.2h0M559.5 618.4h0M647.3 616.6h0M601.8 618.3h0M542.7 617.7h0M578.9 616.7h0M526.0 617.7h0M529.5 617.9h0M574.6 618.2h0M532.9 618.4h0M540.3 618.5h0M618.4 618.5h0M629.0 618.2h0M647.2 618.7h0M592.9 618.7h0M611.4 618.6h0M571.0 616.1h0M556.6 618.2h0M540.3 617.2h0M592.3 618.3h0M605.8 617.6h0M632.7 615.4h0M602.5 617.5h0M540.7 618.9h0M543.9 617.8h0M626.9 617.3h0M569.7 618.4h0M637.2 618.8h0M642.8 616.8h0M546.3 616.6h0M601.9 618.1h0M541.1 613.9h0M581.6 616.9h0M536.3 617.8h0M538.5 618.7h0M614.8 617.7h0M586.7 618.8h0M626.6 617.2h0M527.0 618.3h0M598.7 618.4h0M576.9 618.6h0M619.7 618.4h0M635.6 618.2h0M640.8 618.8h0M553.1 616.9h0M550.9 618.7h0M572.4 616.8h0M611.7 617.2h0M587.3 618.0h0M561.9 618.1h0M559.8 617.7h0M638.4 617.4h0M636.8 618.5h0M589.8 618.3h0M633.0 618.5h0M588.6 618.6h0M526.4 615.8h0M564.8 618.4h0M634.0 618.7h0M547.7 618.8h0M601.3 618.5h0M549.5 609.0h0M626.1 618.1h0M604.1 618.6h0M611.7 617.0h0M577.1 617.4h0M565.5 618.8h0M556.4 618.6h0M602.5 618.3h0M618.6 617.8h0M597.6 618.7h0M593.6 618.2h0M600.1 614.1h0M612.8 616.6h0M605.4 618.4h0M534.8 617.7h0M538.9 618.9h0M536.9 612.1h0M613.5 618.1h0M574.4 618.6h0M590.0 617.8h0M531.3 618.8h0M557.0 618.1h0M632.9 614.0h0M531.9 616.5h0M553.9 617.9h0M623.3 618.1h0M613.9 617.0h0M562.6 618.5h0M645.2 617.4h0M553.5 618.8h0M580.4 617.5h0M626.9 618.7h0M630.3 618.6h0M594.9 613.3h0M582.3 618.3h0M597.9 618.8h0M538.8 617.0h0M564.2 617.8h0M560.4 617.3h0M533.2 618.8h0M557.7 617.9h0M603.3 617.4h0M548.6 618.4h0M628.0 616.3h0M588.5 616.3h0M605.3 618.6h0M630.7 618.7h0M544.1 617.0h0M633.6 617.1h0M619.7 618.4h0M573.9 616.6h0M573.1 618.7h0M561.4 618.7h0M564.4 618.5h0M568.3 618.7h0M642.5 618.7h0M565.5 615.8h0M592.9 618.0h0M613.7 614.5h0M561.7 617.8h0M582.7 618.7h0M580.0 618.7h0M585.7 616.7h0M620.4 618.7h0M573.6 618.4h0M596.5 616.3h0M602.5 618.6h0M530.0 618.6h0M573.1 618.6h0M537.8 618.4h0M546.3 617.2h0M645.2 617.5h0M550.7 618.6h0M647.9 616.3h0M585.6 617.4h0M642.9 617.3h0M600.8 617.8h0M568.7 618.1h0M577.6 617.5h0M608.3 618.8h0M625.2 617.5h0M592.6 615.2h0M581.9 618.4h0M551.2 618.4h0M597.4 617.9h0M571.0 617.7h0M624.3 615.9h0M646.2 618.5h0M632.3 618.5h0M584.1 618.8h0M608.9 617.5h0M615.2 616.1h0M542.9 618.8h0M596.9 617.9h0M557.7 618.3h0M573.6 617.2h0M584.3 618.4h0M548.8 618.8h0M598.4 618.5h0M576.5 618.6h0M601.4 615.5h0M596.5 618.0h0M549.0 618.3h0M608.6 617.6h0M593.5 616.8h0M579.3 616.4h0M639.4 618.6h0M614.7 618.1h0M645.1 618.8h0M563.2 617.8h0M636.3 618.5h0M543.0 616.4h0" stroke="#FF0000" stroke-width="2.30" stroke-linecap="round" fill="none"/>
<path d="M570.2 617.6h0M545.1 615.5h0M596.9 615.4h0M616.9 616.4h0M549.2 615.5h0M631.5 613.2h0M544.9 615.2h0M567.0 611.5h0M528.4 612.9h0M643.6 614.7h0M641.3 615.3h0M559.0 614.9h0M581.7 617.3h0M528.4 612.0h0M615.7 615.5h0M587.7 611.4h0M643.5 612.6h0M546.6 617.7h0M584.1 611.1h0M574.7 610.9h0M637.6 617.5h0M616.8 610.3h0M633.0 614.6h0M552.0 614.7h0M619.9 609.8h0" stroke="#FF0B00" stroke-width="2.30" stroke-linecap="round" fill="none"/>
<path d="M647.3 616.9h0M611.0 610.4h0M569.4 610.6h0M640.3 612.3h0M596.3 612.6h0M583.4 616.5h0M603.0 610.4h0M601.5 615.0h0M626.6 615.1h0M610.4 616.0h0M616.3 614.5h0M575.4 610.9h0M643.0 612.3h0M572.0 613.1h0M577.5 614.4h0M557.8 613.7h0M529.4 612.6h0M570.7 609.4h0M561.8 610.1h0M568.5 608.0h0M562.2 610.0h0M557.0 608.7h0M564.8 609.5h0M560.4 610.2h0M567.5 611.6h0M573.1 608.8h0M575.0 610.7h0M553.0 608.9h0M574.8 611.2h0M557.2 610.8h0M565.6 611.9h0M562.5 610.8h0M563.6 611.0h0M612.8 609.4h0M619.1 612.2h0M620.1 611.1h0M613.2 609.3h0M613.8 610.0h0M620.9 609.9h0M614.5 611.5h0M628.3 609.8h0M637.7 611.9h0M612.1 611.6h0M627.3 609.9h0M625.1 610.1h0M632.9 613.0h0M610.8 608.6h0M631.8 611.3h0M621.8 610.9h0M626.6 613.2h0M613.7 609.1h0M613.6 611.7h0M555.2 605.9h0M549.6 604.2h0M556.2 600.4h0M550.6 602.4h0" stroke="#FF8500" stroke-width="2.30" stroke-linecap="round" fill="none"/>
<path d="M551.2 617.2h0M590.2 613.9h0M598.7 613.3h0M620.2 614.5h0M568.9 611.0h0M618.2 616.6h0M576.7 614.1h0M590.4 610.2h0M636.2 612.5h0M564.6 615.5h0M530.2 616.0h0M529.8 613.2h0M631.7 614.0h0M610.8 609.9h0M550.9 611.6h0M528.4 610.7h0M577.7 610.3h0M577.5 615.5h0M559.9 613.2h0M567.7 616.9h0M629.3 614.5h0M565.4 610.0h0M646.1 611.6h0M569.1 608.8h0M559.8 609.0h0M561.1 611.3h0M558.7 608.3h0M564.7 607.7h0M559.8 608.5h0M551.8 608.4h0M562.6 611.8h0M565.0 610.7h0M553.0 604.0h0M551.7 601.6h0M553.5 606.0h0" stroke="#FF5500" stroke-width="2.30" stroke-linecap="round" fill="none"/>
<path d="M619.0 610.6h0M614.7 613.1h0M557.5 617.3h0M611.3 616.3h0M628.1 610.2h0M561.0 609.8h0M596.6 615.9h0M571.0 610.2h0M580.1 615.3h0M620.8 615.4h0M642.3 612.6h0M632.4 616.7h0M629.9 614.1h0M536.9 614.4h0M564.5 611.0h0" stroke="#FF1600" stroke-width="2.30" stroke-linecap="round" fill="none"/>
<path d="M546.7 608.9h0M562.8 610.1h0M574.5 607.7h0M566.6 608.1h0M561.0 609.9h0M561.1 610.5h0M561.5 607.8h0M552.0 609.8h0M568.5 609.1h0M560.3 609.2h0M557.4 612.8h0M555.0 612.1h0M552.3 611.7h0M566.8 609.0h0M571.1 610.7h0M557.5 610.0h0M563.4 608.6h0M562.6 611.3h0M566.6 609.0h0M566.6 611.7h0M612.9 613.6h0M620.4 611.1h0M619.3 611.3h0M630.5 612.5h0M615.0 609.5h0M606.3 610.5h0M551.8 604.5h0" stroke="#FF7200" stroke-width="2.30" stroke-linecap="round" fill="none"/>
<path d="M632.1 611.5h0M624.2 612.5h0M618.4 611.0h0M621.2 611.5h0M621.2 613.8h0M621.6 611.9h0M632.7 612.4h0M626.4 612.7h0M628.4 611.1h0M618.3 608.6h0" stroke="#FF9800" stroke-width="2.30" stroke-linecap="round" fill="none"/>
<path d="M540.5 610.7h0M539.9 607.0h0M538.7 610.9h0M538.2 613.5h0M538.3 608.3h0" stroke="#FFBF00" stroke-width="2.30" stroke-linecap="round" fill="none"/>
<path d="M536.7 604.2h0M541.0 610.7h0M538.5 610.8h0M536.9 605.1h0" stroke="#FFD200" stroke-width="2.30" stroke-linecap="round" fill="none"/>
<path d="M540.8 605.6h0M539.5 608.9h0M539.0 608.7h0" stroke="#EEDA03" stroke-width="2.30" stroke-linecap="round" fill="none"/>
<path d="M577.2 494.2h0M577.7 498.0h0M585.9 497.0h0" stroke="#B428FF" stroke-width="2.30" stroke-linecap="round" fill="none"/>
<path d="M577.6 511.7h0M597.0 540.0h0M590.5 558.0h0" stroke="#3B94AD" stroke-width="2.30" stroke-linecap="round" fill="none"/>
<path d="M586.6 518.5h0M577.6 530.5h0M575.7 533.0h0M583.5 532.0h0M586.0 532.0h0M588.0 532.0h0M571.8 558.0h0M575.7 559.0h0M582.5 560.5h0M592.5 565.5h0M594.5 566.0h0" stroke="#28F050" stroke-width="2.30" stroke-linecap="round" fill="none"/>
<path d="M578.6 522.5h0" stroke="#6B3EFF" stroke-width="2.30" stroke-linecap="round" fill="none"/>
<path d="M574.5 527.3h0" stroke="#2864FF" stroke-width="2.30" stroke-linecap="round" fill="none"/>
<path d="M597.8 532.6h0M584.0 551.0h0M605.5 555.0h0M601.0 568.5h0M606.6 583.4h0M569.5 583.5h0M570.6 587.8h0M596.1 554.4h0M597.1 553.9h0M600.9 548.1h0M599.8 555.4h0" stroke="#5FF832" stroke-width="2.30" stroke-linecap="round" fill="none"/>
<path d="M597.4 536.5h0M604.0 563.0h0M603.0 567.0h0M568.4 575.5h0M568.4 578.0h0M567.0 585.0h0M565.3 588.4h0M595.4 552.4h0M562.5 585.3h0M556.6 587.0h0" stroke="#96FF14" stroke-width="2.30" stroke-linecap="round" fill="none"/>
<path d="M590.0 555.0h0M597.3 552.2h0M594.7 555.3h0M597.7 556.8h0M596.5 553.6h0M602.1 550.1h0" stroke="#44F441" stroke-width="2.30" stroke-linecap="round" fill="none"/>
<path d="M605.5 569.0h0M606.0 572.0h0M552.0 595.0h0M554.0 595.0h0M562.5 599.0h0" stroke="#DCE107" stroke-width="2.30" stroke-linecap="round" fill="none"/>
<path d="M605.5 574.0h0M596.0 576.0h0M550.5 597.0h0" stroke="#EEDA03" stroke-width="2.30" stroke-linecap="round" fill="none"/>
<path d="M580.0 571.0h0M590.5 585.5h0M610.0 598.0h0M610.0 600.0h0M571.7 604.6h0M586.0 605.0h0" stroke="#FF7200" stroke-width="2.30" stroke-linecap="round" fill="none"/>
<path d="M591.5 575.0h0M592.0 578.0h0M593.0 576.0h0" stroke="#FFD200" stroke-width="2.30" stroke-linecap="round" fill="none"/>
<path d="M564.5 595.5h0M566.5 594.5h0M558.6 584.0h0M556.0 588.1h0M561.1 586.8h0M558.0 585.5h0M554.2 585.6h0M560.0 583.7h0" stroke="#A8F811" stroke-width="2.30" stroke-linecap="round" fill="none"/>
<path d="M609.8 589.0h0" stroke="#FFAC00" stroke-width="2.30" stroke-linecap="round" fill="none"/>
<path d="M608.5 593.0h0" stroke="#FF9800" stroke-width="2.30" stroke-linecap="round" fill="none"/>
<path d="M608.0 596.0h0" stroke="#FF8500" stroke-width="2.30" stroke-linecap="round" fill="none"/>
<path d="M578.5 601.0h0M582.5 601.0h0M588.0 600.5h0M592.0 601.5h0M595.0 602.0h0" stroke="#FF0B00" stroke-width="2.30" stroke-linecap="round" fill="none"/>
<path d="M597.9 552.7h0M599.3 553.3h0M599.4 549.1h0M596.5 551.1h0" stroke="#7BFB23" stroke-width="2.30" stroke-linecap="round" fill="none"/>
<path d="M561.4 588.5h0M560.4 587.1h0" stroke="#B9F00D" stroke-width="2.30" stroke-linecap="round" fill="none"/>
<path d="M585.1 484h0M585.2 486.5h0" stroke="#B428FF" stroke-width="2.3" stroke-linecap="round"/>
<circle cx="576.4" cy="481.7" r="1.7" fill="#A828F0" stroke="#222" stroke-width="0.7"/>
<circle cx="579.0" cy="483.3" r="1.7" fill="#6A1890" stroke="#222" stroke-width="0.7"/>
<circle cx="581.3" cy="484.0" r="1.7" fill="#6A1890" stroke="#222" stroke-width="0.7"/>
<circle cx="589.0" cy="483.6" r="1.7" fill="#9A20E0" stroke="#222" stroke-width="0.7"/>
<circle cx="577.3" cy="598.8" r="1.7" fill="#904020" stroke="#222" stroke-width="0.7"/>
<circle cx="579.2" cy="598.5" r="1.7" fill="#904020" stroke="#222" stroke-width="0.7"/>
</svg>
<line x1="518.50" x2="520.00" y1="623.00" y2="623.00" stroke="#333" stroke-width="0.4"/>
<text x="518.00" y="624.60" font-size="4.80" text-anchor="end" fill="#444">0</text>
<line x1="518.50" x2="520.00" y1="586.12" y2="586.12" stroke="#333" stroke-width="0.4"/>
<text x="518.00" y="587.73" font-size="4.80" text-anchor="end" fill="#444">25</text>
<line x1="518.50" x2="520.00" y1="549.25" y2="549.25" stroke="#333" stroke-width="0.4"/>
<text x="518.00" y="550.85" font-size="4.80" text-anchor="end" fill="#444">50</text>
<line x1="518.50" x2="520.00" y1="512.38" y2="512.38" stroke="#333" stroke-width="0.4"/>
<text x="518.00" y="513.98" font-size="4.80" text-anchor="end" fill="#444">75</text>
<line x1="518.50" x2="520.00" y1="475.50" y2="475.50" stroke="#333" stroke-width="0.4"/>
<text x="518.00" y="477.10" font-size="4.80" text-anchor="end" fill="#444">100</text>
<line x1="526.60" x2="526.60" y1="630.20" y2="631.40" stroke="#999" stroke-width="0.4"/>
<text x="526.60" y="635.40" font-size="4.80" text-anchor="middle" fill="#444">169600000</text>
<line x1="556.85" x2="556.85" y1="630.20" y2="631.40" stroke="#999" stroke-width="0.4"/>
<text x="556.85" y="635.40" font-size="4.80" text-anchor="middle" fill="#444">169700000</text>
<line x1="587.10" x2="587.10" y1="630.20" y2="631.40" stroke="#999" stroke-width="0.4"/>
<text x="587.10" y="635.40" font-size="4.80" text-anchor="middle" fill="#444">169800000</text>
<line x1="617.35" x2="617.35" y1="630.20" y2="631.40" stroke="#999" stroke-width="0.4"/>
<text x="617.35" y="635.40" font-size="4.80" text-anchor="middle" fill="#444">169900000</text>
<line x1="647.60" x2="647.60" y1="630.20" y2="631.40" stroke="#999" stroke-width="0.4"/>
<text x="647.60" y="635.40" font-size="4.80" text-anchor="middle" fill="#444">170000000</text>
<text x="508.20" y="552.15" font-size="5.90" text-anchor="middle" fill="#000" transform="rotate(-90 508.2 552.15)">−log10(p−value)</text>
<text x="586.40" y="642.00" font-size="5.90" text-anchor="middle" fill="#000">Position on chromosome</text>
<text x="514.90" y="465.60" font-size="9.0" fill="#000"><tspan>SuSiE results for signal led by rs12637184</tspan></text>
<defs><linearGradient id="gr2a" x1="0" y1="1" x2="0" y2="0"><stop offset="0" stop-color="#FF2000"/><stop offset="0.15" stop-color="#FF9000"/><stop offset="0.3" stop-color="#E0E000"/><stop offset="0.4" stop-color="#80FF20"/><stop offset="0.5" stop-color="#20E060"/><stop offset="0.62" stop-color="#4090A0"/><stop offset="0.75" stop-color="#2060FF"/><stop offset="1" stop-color="#B030FF"/></linearGradient></defs>
<rect x="648.80" y="325.20" width="6.8" height="34.30" fill="url(#gr2a)"/>
<text x="648.80" y="321.30" font-size="6.50" text-anchor="start" fill="#000">R2</text>
<text x="658.80" y="327.10" font-size="5.30" text-anchor="start" fill="#000">1.00</text>
<text x="658.80" y="335.67" font-size="5.30" text-anchor="start" fill="#000">0.75</text>
<text x="658.80" y="344.25" font-size="5.30" text-anchor="start" fill="#000">0.50</text>
<text x="658.80" y="352.82" font-size="5.30" text-anchor="start" fill="#000">0.25</text>
<defs><linearGradient id="gr2b" x1="0" y1="1" x2="0" y2="0"><stop offset="0" stop-color="#FF2000"/><stop offset="0.15" stop-color="#FF9000"/><stop offset="0.3" stop-color="#E0E000"/><stop offset="0.4" stop-color="#80FF20"/><stop offset="0.5" stop-color="#20E060"/><stop offset="0.62" stop-color="#4090A0"/><stop offset="0.75" stop-color="#2060FF"/><stop offset="1" stop-color="#B030FF"/></linearGradient></defs>
<rect x="660.00" y="539.70" width="6.8" height="33.70" fill="url(#gr2b)"/>
<text x="660.00" y="535.90" font-size="6.50" text-anchor="start" fill="#000">R2</text>
<text x="670.00" y="541.60" font-size="5.30" text-anchor="start" fill="#000">1.00</text>
<text x="670.00" y="550.02" font-size="5.30" text-anchor="start" fill="#000">0.75</text>
<text x="670.00" y="558.45" font-size="5.30" text-anchor="start" fill="#000">0.50</text>
<text x="670.00" y="566.88" font-size="5.30" text-anchor="start" fill="#000">0.25</text>
<line x1="336" x2="464.5" y1="492.2" y2="492.2" stroke="#BBBBBB" stroke-width="0.5"/>
<rect x="340.7" y="490.9" width="4.5" height="2.6" fill="#A0A0A0"/>
<rect x="380.6" y="490.9" width="39.5" height="2.6" fill="#A0A0A0"/>
<rect x="454.0" y="490.9" width="4.6" height="2.6" fill="#A0A0A0"/>
<line x1="399.2" x2="399.2" y1="476.9" y2="492.2" stroke="#555" stroke-width="0.5"/>
<path d="M344.1 492.2C343.1 512.7 457.5 512.7 456.5 492.2L455.5 492.2C455.0 510.2 345.6 510.2 345.1 492.2Z" fill="#8A58F2"/>
<path d="M344.8 491.7C332.6 475.9 393.9 475.9 381.7 491.7L380.9 491.7C382.4 483.9 344.1 483.9 345.6 491.7Z" fill="#F0527A"/>
<path d="M419.1 491.7C406.9 475.9 468.2 475.9 456.0 491.7L455.2 491.7C456.7 483.9 418.4 483.9 419.9 491.7Z" fill="#F0527A"/>
<text x="328.40" y="477.70" font-size="4.80" text-anchor="start" fill="#000" transform="rotate(-90 328.4 477.7)">TT</text>
<text x="328.40" y="506.00" font-size="4.80" text-anchor="start" fill="#000" transform="rotate(-90 328.4 506)">rs7193541</text>
<line x1="336" x2="464.5" y1="548.2" y2="548.2" stroke="#BBBBBB" stroke-width="0.5"/>
<rect x="340.7" y="546.9" width="4.5" height="2.6" fill="#A0A0A0"/>
<rect x="380.6" y="546.9" width="39.5" height="2.6" fill="#A0A0A0"/>
<rect x="454.0" y="546.9" width="4.6" height="2.6" fill="#A0A0A0"/>
<line x1="399.2" x2="399.2" y1="523.6" y2="548.2" stroke="#555" stroke-width="0.5"/>
<path d="M344.1 548.2C343.1 583.4 457.5 583.4 456.5 548.2L455.5 548.2C455.0 578.1 345.6 578.1 345.1 548.2Z" fill="#C462DC"/>
<path d="M344.8 547.7C332.6 523.9 393.9 523.9 381.7 547.7L380.9 547.7C382.4 531.9 344.1 531.9 345.6 547.7Z" fill="#F0527A"/>
<path d="M419.1 547.7C406.9 523.9 468.2 523.9 456.0 547.7L455.2 547.7C456.7 531.9 418.4 531.9 419.9 547.7Z" fill="#F0527A"/>
<text x="328.40" y="533.70" font-size="4.80" text-anchor="start" fill="#000" transform="rotate(-90 328.4 533.7)">TC</text>
<text x="328.40" y="561.70" font-size="4.80" text-anchor="start" fill="#000" transform="rotate(-90 328.4 561.7)">rs719329</text>
<line x1="336" x2="464.5" y1="610.3" y2="610.3" stroke="#BBBBBB" stroke-width="0.5"/>
<rect x="340.7" y="609.0" width="4.5" height="2.6" fill="#A0A0A0"/>
<rect x="380.6" y="609.0" width="39.5" height="2.6" fill="#A0A0A0"/>
<rect x="454.0" y="609.0" width="4.6" height="2.6" fill="#A0A0A0"/>
<line x1="399.2" x2="399.2" y1="590.2" y2="610.3" stroke="#555" stroke-width="0.5"/>
<path d="M344.1 610.3C343.1 640.6 457.5 640.6 456.5 610.3L455.5 610.3C455.0 634.2 345.6 634.2 345.1 610.3Z" fill="#CA66D8"/>
<path d="M344.8 609.8C332.6 590.4 393.9 590.4 381.7 609.8L380.9 609.8C382.4 598.4 344.1 598.4 345.6 609.8Z" fill="#F0527A"/>
<path d="M419.1 609.8C406.9 590.4 468.2 590.4 456.0 609.8L455.2 609.8C456.7 598.4 418.4 598.4 419.9 609.8Z" fill="#F0527A"/>
<text x="328.40" y="597.90" font-size="4.80" text-anchor="start" fill="#000" transform="rotate(-90 328.4 597.9)">CC</text>
<text x="328.40" y="624.80" font-size="4.80" text-anchor="start" fill="#000" transform="rotate(-90 328.4 624.8)">rs7193641</text>
<line x1="336" x2="464.5" y1="639.3" y2="639.3" stroke="#BBBBBB" stroke-width="0.5"/>
<line x1="380.6" x2="405.5" y1="610.3" y2="639.3" stroke="#CCCCCC" stroke-width="0.4"/>
<line x1="420.1" x2="409.0" y1="610.3" y2="639.3" stroke="#CCCCCC" stroke-width="0.4"/>
<line x1="346.0" x2="346.0" y1="610.3" y2="639.3" stroke="#CCCCCC" stroke-width="0.4"/>
<line x1="457.0" x2="455.0" y1="610.3" y2="639.3" stroke="#CCCCCC" stroke-width="0.4"/>
<rect x="405" y="637.8" width="4.6" height="2.8" fill="#BBBBBB"/>
<rect x="453" y="637.8" width="4.6" height="2.8" fill="#BBBBBB"/>
<text x="320" y="465.6" font-size="9.0" fill="#000"><tspan font-style="italic">RFWD3</tspan> splicing pattern in cultured fibroblasts</text>
<text x="468.90" y="472.90" font-size="4.85" text-anchor="start" fill="#000">Mean count</text>
<line x1="469.5" x2="476.7" y1="478.4" y2="478.4" stroke="#8888FF" stroke-width="0.5"/>
<rect x="469.5" y="482.1" width="7.2" height="3.5" fill="#8800CC"/>
<rect x="469.5" y="487.3" width="7.2" height="4.5" fill="#BB0099"/>
<rect x="469.5" y="494.0" width="7.2" height="5.1" fill="#DD0044"/>
<rect x="469.5" y="501.4" width="7.2" height="6.4" fill="#FF0000"/>
<text x="480.60" y="480.00" font-size="4.50" text-anchor="start" fill="#000">1</text>
<text x="480.60" y="485.60" font-size="4.50" text-anchor="start" fill="#000">3</text>
<text x="480.60" y="491.30" font-size="4.50" text-anchor="start" fill="#000">10</text>
<text x="480.60" y="498.20" font-size="4.50" text-anchor="start" fill="#000">30</text>
<text x="480.60" y="506.30" font-size="4.50" text-anchor="start" fill="#000">100</text>
<text transform="translate(0.20 12.60) scale(0.94 1)" font-size="18.2" fill="#000">A</text>
<text transform="translate(349.90 13.00) scale(0.94 1)" font-size="18.2" fill="#000">B</text>
<text transform="translate(0.20 239.50) scale(0.94 1)" font-size="18.2" fill="#000">C</text>
<text transform="translate(0.20 451.90) scale(0.94 1)" font-size="18.2" fill="#000">D</text>
<text transform="translate(510.90 452.20) scale(0.94 1)" font-size="18.2" fill="#000">E</text>
</svg></body></html>
